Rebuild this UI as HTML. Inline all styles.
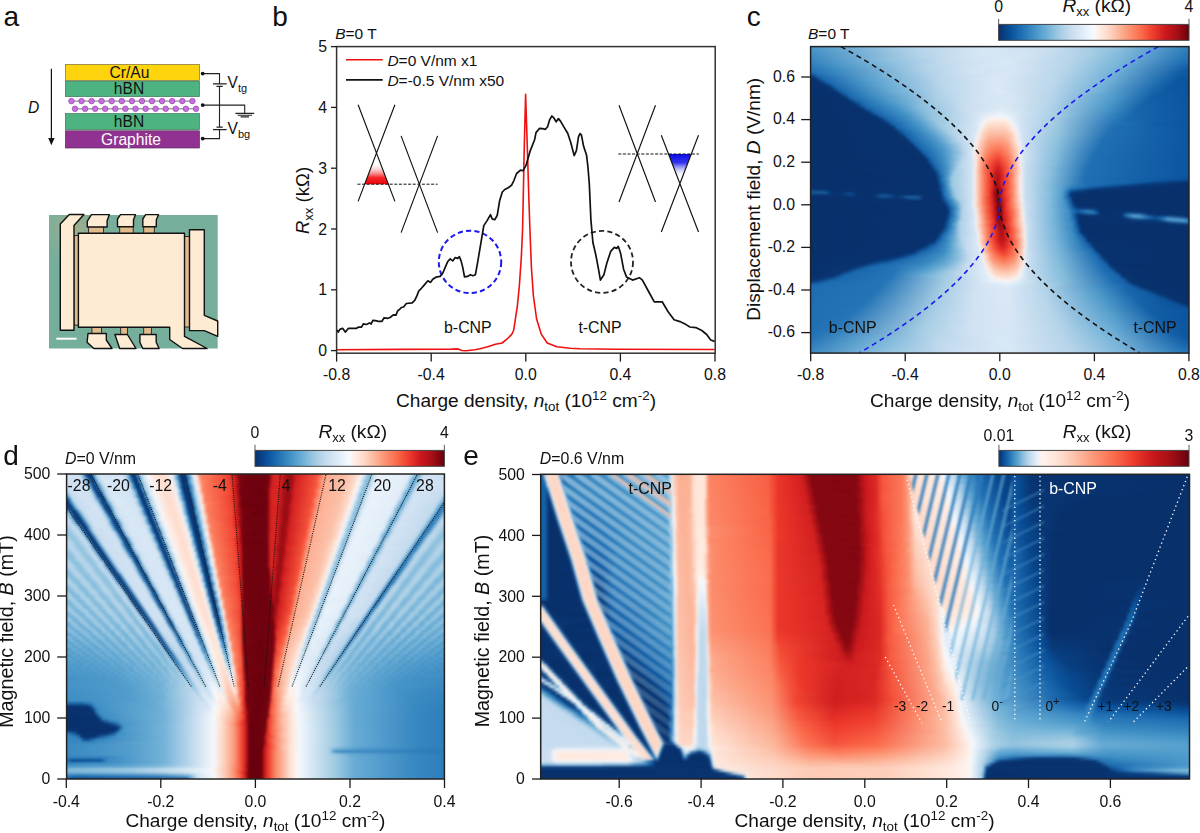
<!DOCTYPE html><html><head><meta charset="utf-8"><style>html,body{margin:0;padding:0;background:#fff;}body{width:1200px;height:833px;overflow:hidden;position:relative;}svg{position:absolute;left:0;top:0;}text{font-family:"Liberation Sans",sans-serif;fill:#111;}.hmc{position:absolute;overflow:hidden;}.hm{position:absolute;filter:blur(0.9px);}.hm i{position:absolute;left:0;width:100%;display:block;}</style></head><body>
<div class="hmc" style="left:810.6px;top:46.6px;width:378.40px;height:306.00px"><div class="hm" style="left:-2.60px;top:-2.60px;width:384px;height:312px"><i style="top:0px;height:2px;background:linear-gradient(90deg,#4795c8 0,#b6d4e9 108px,#d9e8f5 180px,#c3daee 256px,#8bbfdd 312px,#3282be 378px,#3080bd 384px)"></i><i style="top:2px;height:2px;background:linear-gradient(90deg,#4795c8 0,#b6d4e9 108px,#d9e8f5 180px,#c3daee 256px,#8bbfdd 312px,#3282be 378px,#3080bd 384px)"></i><i style="top:4px;height:2px;background:linear-gradient(90deg,#4594c7 0,#b5d4e9 108px,#d8e7f5 178px,#c9ddf0 244px,#8fc2de 308px,#3181bd 376px,#2e7ebc 384px)"></i><i style="top:6px;height:2px;background:linear-gradient(90deg,#4191c6 0,#b5d4e9 110px,#d8e7f5 176px,#ccdff1 236px,#93c4df 304px,#3181bd 374px,#2b7bba 384px)"></i><i style="top:8px;height:2px;background:linear-gradient(90deg,#3e8ec4 0,#b4d3e9 110px,#d7e6f5 174px,#d2e3f3 222px,#abcfe6 280px,#70b1d7 324px,#2878b9 380px,#2878b9 384px)"></i><i style="top:10px;height:2px;background:linear-gradient(90deg,#3b8bc3 0,#b3d3e8 110px,#d6e6f4 170px,#d4e5f4 214px,#b0d2e7 274px,#7bb7d9 316px,#2979b9 376px,#2575b7 384px)"></i><i style="top:12px;height:2px;background:linear-gradient(90deg,#3888c1 0,#b2d3e8 110px,#d6e6f4 170px,#d4e5f4 214px,#b0d2e7 272px,#7ab6d9 316px,#2777b8 376px,#2272b5 384px)"></i><i style="top:14px;height:2px;background:linear-gradient(90deg,#3585bf 0,#94c4df 82px,#cde0f1 150px,#d8e7f5 202px,#b6d4e9 264px,#7eb8da 312px,#2676b7 374px,#1f6eb3 384px)"></i><i style="top:16px;height:2px;background:linear-gradient(90deg,#3282be 0,#86bddc 74px,#caddf0 142px,#d9e8f5 200px,#b5d4e9 264px,#7cb8da 310px,#2373b6 374px,#1c6ab0 384px)"></i><i style="top:18px;height:2px;background:linear-gradient(90deg,#2f7fbc 0,#80b9da 72px,#c6dbef 136px,#d9e8f5 200px,#b6d4e9 262px,#7bb7da 310px,#2170b4 372px,#1866ac 384px)"></i><i style="top:20px;height:2px;background:linear-gradient(90deg,#2b7bba 0,#71b1d7 64px,#bbd6eb 124px,#dbe9f6 192px,#b8d5ea 258px,#7ab6d9 308px,#1d6cb1 372px,#1561a9 384px)"></i><i style="top:22px;height:2px;background:linear-gradient(90deg,#2777b8 0,#4594c7 30px,#b3d3e8 118px,#d6e6f4 172px,#d5e5f4 212px,#b1d2e8 264px,#6eb0d7 314px,#115ca5 380px,#115ca5 384px)"></i><i style="top:24px;height:2px;background:linear-gradient(90deg,#2373b6 0,#3787c0 22px,#aed1e7 114px,#d4e4f4 166px,#d7e6f5 206px,#b4d3e9 260px,#72b2d8 310px,#135ea7 376px,#0d57a1 384px)"></i><i style="top:26px;height:2px;background:linear-gradient(90deg,#2070b4 0,#3585bf 24px,#add0e6 114px,#d3e3f3 164px,#d7e6f5 204px,#b4d3e9 258px,#71b1d7 308px,#135ea7 372px,#0b549f 384px)"></i><i style="top:28px;height:2px;background:linear-gradient(90deg,#1b6aaf 0,#3c8cc3 32px,#b1d2e8 120px,#d5e5f4 170px,#d6e6f4 208px,#b2d3e8 260px,#6aaed6 310px,#135fa7 370px,#0b549f 384px)"></i><i style="top:30px;height:2px;background:linear-gradient(90deg,#0e5197 0,#0f559c 6px,#1f6eb3 10px,#80badb 84px,#c7dbef 142px,#d9e8f5 198px,#b6d4e9 254px,#72b2d8 304px,#1561a9 366px,#0b549f 382px,#0b549f 384px)"></i><i style="top:32px;height:2px;background:linear-gradient(90deg,#083674 0,#083a79 6px,#1561a8 10px,#2171b5 18px,#74b3d8 78px,#bbd6eb 132px,#dbe9f6 192px,#b8d5ea 252px,#72b2d8 302px,#1764ab 362px,#0b549f 376px,#0b549f 384px)"></i><i style="top:34px;height:2px;background:linear-gradient(90deg,#08306b 0,#083573 8px,#1866ac 14px,#5aa2cf 62px,#b7d5ea 128px,#dbe9f6 186px,#bcd7ec 246px,#77b4d8 298px,#1a69ae 356px,#0b559f 372px,#0b549f 384px)"></i><i style="top:36px;height:2px;background:linear-gradient(90deg,#08306b 0,#08336f 10px,#1b69ae 18px,#62a8d2 70px,#b8d5ea 130px,#dce9f6 190px,#b9d6eb 248px,#72b2d7 300px,#1866ac 356px,#0b559f 370px,#0b549f 384px)"></i><i style="top:38px;height:2px;background:linear-gradient(90deg,#08306b 0,#083573 14px,#1561a8 20px,#2272b6 28px,#67abd5 76px,#b8d5ea 132px,#dce9f6 190px,#b9d6eb 248px,#72b2d8 298px,#1b69af 352px,#0c56a0 366px,#0b549f 384px)"></i><i style="top:40px;height:2px;background:linear-gradient(90deg,#08306b 0,#08326e 16px,#0c4e94 22px,#1c6ab0 26px,#63a9d3 74px,#b8d5ea 132px,#dceaf6 190px,#b9d6eb 246px,#71b1d7 296px,#1a68ae 350px,#0d57a1 364px,#0b549f 384px)"></i><i style="top:42px;height:2px;background:linear-gradient(90deg,#08306b 0,#08336f 20px,#1866ac 28px,#5ca4d0 72px,#b7d5ea 132px,#dbe9f6 186px,#bdd7ec 242px,#75b3d8 292px,#1d6cb1 346px,#0d58a1 360px,#0b549f 384px)"></i><i style="top:44px;height:2px;background:linear-gradient(90deg,#08306b 0,#08336f 24px,#1866ac 30px,#62a8d2 78px,#b9d5ea 134px,#dceaf6 190px,#bad6eb 244px,#70b1d7 294px,#1b69af 344px,#0d58a1 360px,#0b549f 384px)"></i><i style="top:46px;height:2px;background:linear-gradient(90deg,#08306b 0,#08336f 26px,#1662a9 32px,#2373b6 40px,#70b1d7 88px,#bad6eb 136px,#dceaf6 192px,#b9d5ea 244px,#6dafd6 294px,#1b69af 342px,#0e58a2 360px,#0b549f 384px)"></i><i style="top:48px;height:2px;background:linear-gradient(90deg,#08306b 0,#08336f 30px,#1663a9 36px,#2575b7 46px,#71b1d7 90px,#bad6eb 138px,#dceaf6 192px,#b9d5ea 244px,#6dafd6 292px,#1c6bb0 340px,#0f59a3 356px,#0b549f 384px)"></i><i style="top:50px;height:2px;background:linear-gradient(90deg,#08306b 0,#08326e 32px,#094184 34px,#1b69ae 40px,#4493c7 68px,#afd1e7 130px,#d4e4f4 170px,#d8e7f5 202px,#b4d3e9 246px,#519ccc 306px,#115da5 348px,#0b549f 384px)"></i><i style="top:52px;height:2px;background:linear-gradient(90deg,#08306b 0,#08326e 34px,#094184 38px,#1b69ae 42px,#4594c7 72px,#aed1e7 130px,#d3e4f3 170px,#d8e7f5 202px,#b4d3e9 246px,#519ccc 304px,#125ea6 344px,#0b549f 384px)"></i><i style="top:54px;height:2px;background:linear-gradient(90deg,#08306b 0,#08326e 38px,#094184 40px,#1b69ae 46px,#4997c9 76px,#abd0e6 128px,#d2e3f3 168px,#d9e8f5 200px,#b5d4e9 244px,#509bcb 304px,#135fa7 342px,#0b549f 384px)"></i><i style="top:56px;height:2px;background:linear-gradient(90deg,#08306b 0,#08326e 40px,#094184 44px,#1561a8 48px,#2575b7 58px,#539dcc 84px,#afd1e7 132px,#d4e5f4 172px,#d8e7f5 202px,#b5d4e9 244px,#509ccc 302px,#1461a8 340px,#0b549f 384px)"></i><i style="top:58px;height:2px;background:linear-gradient(90deg,#08306b 0,#08326e 44px,#1663aa 52px,#2272b5 58px,#4d99ca 84px,#9ecae1 122px,#cfe1f2 164px,#dae8f6 198px,#b6d4ea 242px,#56a0ce 296px,#1562a9 336px,#0b549f 384px)"></i><i style="top:60px;height:2px;background:linear-gradient(90deg,#08306b 0,#08326f 48px,#094184 50px,#1560a7 54px,#2373b6 62px,#4b98ca 88px,#89bedc 112px,#cadef0 156px,#dbe9f6 196px,#b7d5ea 240px,#57a0ce 294px,#1663aa 334px,#0b549f 384px)"></i><i style="top:62px;height:2px;background:linear-gradient(90deg,#08306b 0,#08336f 50px,#1b69ae 58px,#4694c7 88px,#86bddc 112px,#c9ddf0 156px,#dceaf6 196px,#b6d4e9 240px,#529dcc 296px,#1764ab 332px,#0b549f 384px)"></i><i style="top:64px;height:2px;background:linear-gradient(90deg,#08306b 0,#08326f 54px,#094184 56px,#1561a8 60px,#2171b5 68px,#4996c9 92px,#84bbdb 112px,#c8dcf0 154px,#deebf7 196px,#b5d4e9 240px,#4d99ca 296px,#1865ac 330px,#0b549f 384px)"></i><i style="top:66px;height:2px;background:linear-gradient(90deg,#08306b 0,#08326e 56px,#0c4e94 62px,#1b6aaf 66px,#4191c5 92px,#89bfdd 116px,#cbdef1 158px,#e1edf8 194px,#b2d3e8 242px,#4090c5 302px,#1865ac 328px,#0b549f 384px)"></i><i style="top:68px;height:2px;background:linear-gradient(90deg,#08306b 0,#08336f 60px,#1966ac 68px,#4594c7 96px,#8bc0dd 118px,#cbdff1 160px,#e7f0fa 192px,#aed1e7 244px,#3686c0 306px,#1866ac 326px,#0b549f 384px)"></i><i style="top:70px;height:2px;background:linear-gradient(90deg,#08306b 0,#08326f 64px,#0c4e94 68px,#1b6aaf 72px,#3e8ec4 96px,#92c3de 122px,#cde0f1 162px,#e5eff9 180px,#ebf3fb 196px,#cfe1f2 216px,#9cc9e1 254px,#2676b8 312px,#1865ac 330px,#0b549f 384px)"></i><i style="top:72px;height:2px;background:linear-gradient(90deg,#08306b 0,#08336f 68px,#1b69ae 76px,#4090c5 100px,#94c4df 124px,#cde0f1 162px,#e2eef8 176px,#f8f5f6 188px,#e9f2fb 200px,#d1e3f3 212px,#a7cee4 246px,#2c7cbb 308px,#1967ad 324px,#0b549f 384px)"></i><i style="top:74px;height:2px;background:linear-gradient(90deg,#08306b 0,#08326f 70px,#094184 74px,#1561a8 78px,#2272b6 86px,#4e9acb 106px,#94c5df 124px,#cde0f1 162px,#e0ecf8 174px,#faf4f2 180px,#feefe7 192px,#f2f6fa 200px,#d3e4f3 210px,#abcfe5 244px,#2f7fbc 304px,#1a68ae 320px,#0b549f 384px)"></i><i style="top:76px;height:2px;background:linear-gradient(90deg,#08306b 0,#08326e 74px,#0c4e94 78px,#1c6ab0 82px,#4694c7 106px,#99c7e0 128px,#cee0f2 164px,#e1edf8 174px,#f8f4f4 178px,#fee7dc 184px,#feebe2 198px,#ecf3fb 204px,#d2e3f3 212px,#a8cee4 244px,#2b7bba 304px,#1b69af 320px,#0b549f 384px)"></i><i style="top:78px;height:2px;background:linear-gradient(90deg,#08306b 0,#08336f 78px,#1662a9 84px,#2676b8 94px,#4f9bcb 112px,#9bc9e0 130px,#cfe1f2 164px,#e1edf8 172px,#f5f5f7 176px,#fee3d7 180px,#fee1d4 198px,#fbf2ee 202px,#e7f1fa 206px,#d0e2f2 214px,#a1cbe2 248px,#2474b7 306px,#105ca4 350px,#0b549f 384px)"></i><i style="top:80px;height:2px;background:linear-gradient(90deg,#08306b 0,#08336f 80px,#1663aa 86px,#2474b7 94px,#4b98ca 112px,#a0cbe2 132px,#dce9f6 170px,#f7f4f4 174px,#feded0 180px,#fed8c7 194px,#fee5da 202px,#f0f4fa 206px,#d3e4f3 212px,#a2cce2 246px,#2575b7 304px,#1461a8 340px,#0b549f 384px)"></i><i style="top:82px;height:2px;background:linear-gradient(90deg,#08306b 0,#08326e 82px,#094184 86px,#1662a9 88px,#2171b5 94px,#4493c7 112px,#a2cce2 134px,#dbe9f6 170px,#f8f3f2 174px,#fedbcb 178px,#fdd0bd 190px,#fedbcb 200px,#f8f3f2 206px,#e1edf8 208px,#cee0f2 216px,#93c4df 252px,#1e6eb2 306px,#0b549f 384px)"></i><i style="top:84px;height:2px;background:linear-gradient(90deg,#08306b 0,#08336f 86px,#1560a7 90px,#2373b6 98px,#4b98ca 116px,#a7cee4 138px,#d9e8f5 168px,#eff4f9 172px,#fee6db 174px,#fdcdb9 182px,#fdcdb9 198px,#fee6db 204px,#eff4f9 208px,#d3e3f3 212px,#9bc8e0 248px,#2170b4 304px,#0b549f 384px)"></i><i style="top:86px;height:2px;background:linear-gradient(90deg,#08306b 0,#08336f 88px,#1662a9 94px,#2171b5 100px,#4b98ca 118px,#a9cfe5 140px,#d7e6f5 168px,#f7f3f2 172px,#fdd6c4 176px,#fcc4ad 184px,#fdc9b3 198px,#fee6db 206px,#edf3f9 208px,#d1e2f3 214px,#99c7e0 248px,#206fb3 302px,#0b549f 384px)"></i><i style="top:88px;height:2px;background:linear-gradient(90deg,#08306b 0,#08336f 90px,#1560a7 96px,#2474b6 104px,#4f9bcb 122px,#add1e6 142px,#dae8f6 168px,#f4f4f6 170px,#fedaca 174px,#fcbfa6 182px,#fcc0a8 198px,#fedfd1 206px,#f4f4f6 208px,#d2e3f3 214px,#95c5df 250px,#2070b4 300px,#0b549f 384px)"></i><i style="top:90px;height:2px;background:linear-gradient(90deg,#08306b 0,#08336f 92px,#1662a9 98px,#2474b6 106px,#4f9bcb 124px,#b2d3e8 146px,#d7e6f5 166px,#f0f3f7 170px,#fee0d3 172px,#fcbba2 180px,#fcb59a 194px,#fdc6af 202px,#fee8de 208px,#f1f3f7 210px,#d0e2f2 214px,#93c4df 250px,#206fb3 300px,#0b549f 384px)"></i><i style="top:92px;height:2px;background:linear-gradient(90deg,#08306b 0,#08336f 96px,#1662a9 100px,#2474b6 108px,#4f9bcb 126px,#b7d5ea 148px,#d9e8f5 166px,#f7f2f1 170px,#fdd5c3 174px,#fcb196 182px,#fcac90 194px,#fcc0a7 202px,#fee2d6 208px,#ecf2f8 210px,#d1e2f3 214px,#91c3de 250px,#2070b4 298px,#0b549f 384px)"></i><i style="top:94px;height:2px;background:linear-gradient(90deg,#08306b 0,#08336f 98px,#1662a9 102px,#2474b6 110px,#4f9bcb 128px,#bad6eb 150px,#d5e5f4 166px,#f1f3f6 168px,#feddce 172px,#fcac90 180px,#fca385 192px,#fcb49a 200px,#fee5da 208px,#f1f3f6 210px,#d2e3f3 214px,#8cc0dd 250px,#206fb4 296px,#0b549f 384px)"></i><i style="top:96px;height:2px;background:linear-gradient(90deg,#08306b 0,#08336f 100px,#1662a9 104px,#2474b6 112px,#4f9bcb 130px,#9ac7e0 144px,#c1d9ed 154px,#d7e6f5 166px,#f7f2f1 168px,#fdd2bf 172px,#fca588 180px,#fc997a 192px,#fcad91 200px,#fee1d3 208px,#ebf1f8 212px,#cfe1f2 216px,#8dc1dd 250px,#2170b4 294px,#0b549f 384px)"></i><i style="top:98px;height:2px;background:linear-gradient(90deg,#08306b 0,#08336f 102px,#1662a9 106px,#2474b6 114px,#4f9bcb 132px,#91c3de 144px,#c3daee 156px,#d3e3f3 164px,#eff2f6 168px,#fee5da 170px,#fca689 178px,#fc9070 188px,#fc9d7f 198px,#fdceba 206px,#faeee9 210px,#e3eef8 212px,#cde0f1 216px,#8ec1de 248px,#2070b4 294px,#0b549f 384px)"></i><i style="top:100px;height:2px;background:linear-gradient(90deg,#08306b 0,#08336f 104px,#1662a9 108px,#2474b6 116px,#4f9bcb 134px,#c1d9ed 156px,#d4e4f4 164px,#f2f3f5 168px,#fed9c8 170px,#fc9a7c 180px,#fc8666 190px,#fc9a7c 200px,#fed9c8 208px,#f3f3f5 212px,#d0e2f2 216px,#89bfdd 250px,#206fb3 292px,#0b549f 384px)"></i><i style="top:102px;height:2px;background:linear-gradient(90deg,#08306b 0,#08336f 106px,#1662a9 110px,#2474b6 118px,#4d99ca 134px,#bed7ec 156px,#d5e5f4 164px,#eaf0f8 166px,#fde8df 168px,#fcae92 176px,#fc8b6b 182px,#fc7e5e 192px,#fc997a 200px,#fedecf 210px,#f7f1f0 212px,#deebf7 214px,#cadef0 218px,#87bedc 250px,#2170b4 290px,#0b549f 384px)"></i><i style="top:104px;height:2px;background:linear-gradient(90deg,#08306b 0,#08336f 108px,#1662a9 112px,#2474b6 120px,#4c99ca 136px,#bfd8ec 156px,#d6e6f4 164px,#edf0f6 166px,#fee5d9 168px,#fc997a 178px,#fb7d5d 184px,#fb7656 192px,#fc9273 200px,#fedbcb 210px,#faeeea 212px,#e0ecf7 214px,#ccdff1 218px,#89bedc 248px,#2070b4 290px,#0b549f 384px)"></i><i style="top:106px;height:2px;background:linear-gradient(90deg,#08306b 0,#08336f 110px,#1662a9 114px,#2474b7 122px,#4896c8 136px,#c2d9ee 158px,#d7e6f5 164px,#eef1f5 166px,#fee2d6 168px,#fc9373 178px,#fb7353 186px,#fb6d4d 192px,#fc8c6c 200px,#fed8c8 210px,#faece7 212px,#e2edf8 214px,#ccdff1 218px,#8abfdd 248px,#206fb4 288px,#0b549f 384px)"></i><i style="top:108px;height:2px;background:linear-gradient(90deg,#08306b 0,#08336f 112px,#1662a9 116px,#2474b7 124px,#4e9acb 138px,#c2d9ee 158px,#d7e7f5 164px,#f0f1f5 166px,#fee0d3 168px,#fc8d6d 178px,#fb6a4b 186px,#f86044 190px,#fc8666 200px,#fdd6c5 210px,#f0f1f5 212px,#d2e3f3 216px,#85bcdc 248px,#206fb3 288px,#0b549f 384px)"></i><i style="top:110px;height:2px;background:linear-gradient(90deg,#08306b 0,#08336f 114px,#1662a9 118px,#4695c8 136px,#95c5df 150px,#c8dcf0 160px,#d8e7f5 164px,#f1f2f4 166px,#fdd4c2 170px,#fc8868 178px,#fa6647 184px,#f6553d 190px,#fc8060 200px,#fdcbb6 208px,#fbeae2 212px,#f2f2f4 212px,#d2e3f3 216px,#86bddc 248px,#1f6fb3 286px,#0b549f 384px)"></i><i style="top:112px;height:2px;background:linear-gradient(90deg,#08306b 0,#08336f 116px,#1662a9 120px,#4896c8 138px,#8ec1de 148px,#c6dbef 158px,#d1e2f3 164px,#f3f2f4 166px,#fdd2bf 170px,#fc8363 178px,#f96145 184px,#f34935 190px,#fb7454 200px,#fca98d 206px,#fce8e0 212px,#f4f2f3 212px,#d2e3f3 216px,#85bcdc 248px,#1f6fb3 286px,#0b549f 384px)"></i><i style="top:114px;height:2px;background:linear-gradient(90deg,#08306b 0,#08336f 118px,#135ea5 122px,#2271b5 126px,#4b98ca 138px,#bdd7ec 156px,#d1e3f3 164px,#e7eff7 166px,#fde6dc 168px,#fc8767 176px,#f85e42 182px,#f03f2f 190px,#fb7656 200px,#fcbca2 208px,#f8efed 212px,#dbe9f6 214px,#c9ddf0 220px,#83bbdb 248px,#1f6fb3 284px,#0b549f 384px)"></i><i style="top:116px;height:2px;background:linear-gradient(90deg,#08306b 0,#08316d 118px,#1159a1 122px,#206fb4 126px,#4493c7 138px,#bbd6eb 154px,#d2e3f3 164px,#e9eef5 166px,#fee4d9 168px,#fc8363 176px,#f6573e 182px,#ea362a 190px,#fb7151 200px,#fcb99f 208px,#f9eeea 212px,#dce9f6 214px,#cadef0 218px,#85bcdc 246px,#1f6fb3 284px,#0b549f 384px)"></i><i style="top:118px;height:2px;background:linear-gradient(90deg,#08306b 0,#083370 120px,#1662a9 124px,#4896c8 138px,#95c5df 148px,#bcd7ec 154px,#d2e3f3 164px,#eaeff5 166px,#fee3d7 168px,#fc7f5f 176px,#f5513a 182px,#e22e27 190px,#f96447 200px,#fc9f81 206px,#f9ede9 212px,#dce9f6 214px,#cadef0 218px,#87bddc 246px,#1f6fb3 282px,#0b549f 384px)"></i><i style="top:120px;height:2px;background:linear-gradient(90deg,#08306b 0,#08326e 122px,#135ea5 126px,#2373b6 130px,#4d99ca 140px,#b7d5ea 152px,#d2e3f3 164px,#ebeff4 166px,#fee2d5 168px,#fb7b5b 176px,#f34b36 182px,#da2723 190px,#f6583e 198px,#fc8666 204px,#f9ece7 212px,#ddeaf6 214px,#caddf0 218px,#85bcdc 246px,#1f6fb3 282px,#0b549f 384px)"></i><i style="top:122px;height:2px;background:linear-gradient(90deg,#08306b 0,#08316d 122px,#1159a1 126px,#2171b4 130px,#4b98ca 140px,#b0d2e7 150px,#d2e3f3 164px,#ebeff4 166px,#fee1d4 168px,#fb7858 176px,#f24633 182px,#d32020 190px,#f34c37 198px,#fb7858 202px,#fee1d3 212px,#eceff4 214px,#cee0f2 216px,#87bddc 244px,#206fb4 280px,#0b549f 384px)"></i><i style="top:124px;height:2px;background:linear-gradient(90deg,#08306b 0,#083370 124px,#1764ab 128px,#4b98c9 140px,#aed1e7 150px,#d3e3f3 164px,#eceff4 166px,#fee0d2 168px,#fb7656 176px,#ee3c2d 184px,#cc1a1e 190px,#f24834 198px,#fb7656 202px,#fee0d2 212px,#eceff4 214px,#cee0f2 216px,#86bddc 244px,#2070b4 280px,#0b549f 384px)"></i><i style="top:126px;height:2px;background:linear-gradient(90deg,#08306b 0,#08336f 126px,#1662a9 130px,#4392c6 138px,#a6cde4 148px,#d3e3f3 164px,#eceff4 166px,#fddfd1 168px,#fb7353 176px,#ec382b 184px,#c7181c 188px,#cd1b1e 192px,#ef3e2e 196px,#fb7353 202px,#fddfd1 212px,#edeff4 214px,#cee0f2 216px,#85bcdc 244px,#2070b4 278px,#0b549f 384px)"></i><i style="top:128px;height:2px;background:linear-gradient(90deg,#08306b 0,#08326e 126px,#0d5198 130px,#2171b5 132px,#4d99ca 140px,#a3cce3 146px,#d3e4f3 164px,#edeff4 166px,#fdded0 168px,#fb7252 176px,#e9352a 184px,#c1161b 188px,#c8181d 192px,#ee3b2d 196px,#fb7252 202px,#fdded0 212px,#edeff4 214px,#cee0f2 216px,#87bddc 244px,#2171b5 278px,#0b549f 384px)"></i><i style="top:130px;height:2px;background:linear-gradient(90deg,#08306b 0,#08326e 128px,#0f569d 130px,#2373b6 134px,#4f9acb 140px,#a0cae2 146px,#d3e4f3 164px,#edeff4 166px,#fdded0 168px,#fb7c5c 176px,#f0402f 182px,#cc1b1e 186px,#b81419 190px,#d72422 194px,#f24834 198px,#fb7c5c 204px,#faeae3 212px,#edeff4 214px,#cee0f2 216px,#86bddc 244px,#206fb4 278px,#0b549f 384px)"></i><i style="top:132px;height:2px;background:linear-gradient(90deg,#08306b 0,#083370 128px,#125ca3 132px,#2d7dbb 136px,#60a6d1 140px,#9cc9e1 144px,#d3e4f3 164px,#edeff4 166px,#fddecf 168px,#fb7b5b 176px,#ef3f2f 182px,#c9191d 186px,#b31218 190px,#d42121 194px,#f24734 198px,#fb7b5b 204px,#faeae3 212px,#edeff4 214px,#cee0f2 216px,#85bcdc 244px,#2070b4 276px,#0b549f 384px)"></i><i style="top:134px;height:2px;background:linear-gradient(90deg,#08306b 0,#08326e 128px,#1159a0 132px,#2777b8 134px,#549ecd 140px,#9dc9e1 144px,#d3e4f3 164px,#edeff4 166px,#fddecf 168px,#fb7b5b 176px,#ef3f2e 182px,#d12020 186px,#b11218 188px,#ba1419 192px,#eb382b 196px,#fb7050 202px,#fdd2bf 210px,#faeae3 212px,#eeeff4 214px,#cee0f2 216px,#87bedc 242px,#1f6fb3 276px,#0b559f 370px,#0a529c 384px)"></i><i style="top:136px;height:2px;background:linear-gradient(90deg,#08306b 0,#08316d 128px,#094183 130px,#1d6cb1 134px,#519ccc 140px,#9dc9e1 144px,#d3e4f3 164px,#edeff4 166px,#fddecf 168px,#fb7b5b 176px,#ef3e2e 182px,#cf1e1f 186px,#ac1117 188px,#ac1117 190px,#db2724 194px,#f44f39 200px,#fc8767 204px,#faeae3 212px,#eeeff4 214px,#cee0f2 216px,#86bddc 242px,#2070b4 276px,#125ea6 342px,#0c5198 356px,#09498f 370px,#084083 374px,#084083 384px)"></i><i style="top:138px;height:2px;background:linear-gradient(90deg,#08306b 0,#08326e 130px,#0f569e 132px,#2776b8 136px,#4c98ca 140px,#9cc9e1 144px,#d3e4f3 164px,#edeff4 166px,#fddecf 168px,#fb7b5b 176px,#ef3e2e 182px,#cd1c1f 186px,#a71016 188px,#a71016 190px,#d92623 194px,#f44f39 200px,#fc8767 204px,#faeae3 212px,#eeeff4 214px,#cee0f2 216px,#86bddc 242px,#1f6fb3 276px,#1764aa 320px,#1059a0 330px,#0d5096 336px,#0b4b90 342px,#094183 346px,#083e7f 356px,#083674 362px,#08316d 384px)"></i><i style="top:140px;height:2px;background:linear-gradient(90deg,#08306b 0,#083370 130px,#125ca3 134px,#3c8cc3 138px,#9bc8e0 144px,#d3e4f3 164px,#edeff4 166px,#fddecf 168px,#fb7b5b 176px,#ef3e2e 182px,#cb1b1e 186px,#a10e15 188px,#a10e15 190px,#d82522 194px,#f24633 198px,#fb7b5b 204px,#faeae3 212px,#eeeff4 214px,#cee0f2 216px,#85bcdc 242px,#3080bc 268px,#1f6eb3 280px,#1763a9 300px,#115aa1 310px,#0e5197 316px,#0b4c91 320px,#094183 324px,#093e7f 330px,#083674 334px,#08306b 384px)"></i><i style="top:142px;height:2px;background:linear-gradient(90deg,#08306b 0,#08326e 130px,#115aa1 134px,#3282be 138px,#64a9d3 142px,#98c7e0 144px,#d3e4f3 164px,#edeff4 166px,#fddecf 168px,#fb7b5b 176px,#ef3e2e 182px,#c91a1d 186px,#9b0d14 188px,#9b0d14 190px,#d72422 194px,#f24633 198px,#fb7b5b 204px,#faeae3 212px,#eeeff4 214px,#cee0f2 216px,#84bcdb 242px,#4a97c9 258px,#2f7fbc 264px,#125ba2 288px,#0e5197 296px,#0b4c91 300px,#094183 304px,#093e7f 310px,#083674 314px,#08306b 374px,#08306b 384px)"></i><i style="top:144px;height:2px;background:linear-gradient(90deg,#08316d 0,#08326e 130px,#0a468a 132px,#206fb3 136px,#4d99ca 140px,#9ecae1 146px,#d3e4f3 164px,#edeff4 166px,#fddecf 168px,#fb7b5b 176px,#ee3d2e 182px,#c7191d 186px,#950b13 188px,#8e0912 190px,#a40f15 192px,#e02d26 196px,#f96447 202px,#fcae92 208px,#faeae3 212px,#eeeff4 214px,#cee0f2 216px,#83bbdb 242px,#4e9acb 256px,#2575b7 262px,#125ba2 274px,#0b4c91 280px,#094284 284px,#083674 294px,#08306b 356px,#08306b 384px)"></i><i style="top:146px;height:2px;background:linear-gradient(90deg,#155392 0,#0d4484 16px,#08306b 24px,#083370 132px,#125ca3 134px,#3c8cc3 140px,#9cc8e1 146px,#d3e4f3 164px,#edeff4 166px,#fddecf 168px,#fb7b5b 176px,#ee3d2e 182px,#d42221 184px,#8f0a12 188px,#880811 190px,#a00e15 192px,#e02c26 196px,#f7593f 200px,#fca183 206px,#faeae3 212px,#eeeff4 214px,#cee0f2 216px,#87bddc 242px,#59a2cf 254px,#2474b6 260px,#0e5298 264px,#094284 270px,#08316d 282px,#08306b 384px)"></i><i style="top:148px;height:2px;background:linear-gradient(90deg,#165595 0,#1d64a5 18px,#083b7c 22px,#08306b 26px,#083674 34px,#0e4889 40px,#093c7c 46px,#08306b 50px,#08326e 132px,#1159a1 134px,#2979b9 138px,#519ccc 142px,#a1cbe2 146px,#d3e4f3 164px,#edeff4 166px,#fddecf 168px,#fb7b5b 176px,#ee3d2e 182px,#d32121 184px,#890811 188px,#820610 190px,#9b0d14 192px,#d32121 194px,#f24633 198px,#fb7b5b 204px,#faeae3 212px,#eeeff4 214px,#cee0f2 216px,#86bddc 242px,#56a0ce 254px,#1e6cb1 260px,#094386 262px,#083775 264px,#08306b 290px,#08306b 384px)"></i><i style="top:150px;height:2px;background:linear-gradient(90deg,#08326e 0,#083470 22px,#083370 34px,#0f4a8c 42px,#083d7d 46px,#08306b 50px,#08316d 66px,#155799 72px,#165494 78px,#08326e 88px,#093572 108px,#08316d 132px,#094183 134px,#1e6cb1 136px,#4a97c9 142px,#a3cce3 148px,#d3e3f3 164px,#eceff4 166px,#fdded0 168px,#fb7c5c 176px,#ee3d2e 182px,#d32121 184px,#850711 188px,#7d0510 190px,#960b13 192px,#d12020 194px,#ee3c2d 198px,#fb7b5b 204px,#fae9e2 212px,#eef0f4 214px,#cee0f2 216px,#86bddc 242px,#549ecd 254px,#1b69af 260px,#083b7b 262px,#08306b 264px,#08306b 384px)"></i><i style="top:152px;height:2px;background:linear-gradient(90deg,#08306b 0,#08326f 66px,#155191 74px,#115092 80px,#083674 88px,#09468b 94px,#1f67a8 100px,#195c9d 110px,#08306c 116px,#08336f 132px,#115aa1 136px,#3080bd 140px,#67abd4 144px,#a3cce3 148px,#d2e3f3 164px,#ebeef4 166px,#fee0d3 168px,#fb7252 176px,#e9362a 182px,#c4181c 186px,#830711 188px,#78040f 190px,#7d0510 190px,#ce1e1f 194px,#ed3b2c 198px,#fb7959 204px,#fddbcc 212px,#f0f0f3 214px,#cfe1f2 216px,#85bcdc 242px,#559fce 254px,#1560a7 260px,#083674 264px,#08306b 268px,#08306b 384px)"></i><i style="top:154px;height:2px;background:linear-gradient(90deg,#08306b 0,#083471 94px,#134e8e 106px,#104a8b 112px,#08316c 116px,#08326e 130px,#083674 134px,#1c6aaf 138px,#4996c8 144px,#aacfe5 150px,#d0e2f2 164px,#e8eef5 166px,#fde3d7 168px,#fb7454 176px,#ea372b 182px,#c6191d 186px,#830711 188px,#75030f 190px,#77040f 190px,#d92623 196px,#f34b36 200px,#fc8262 204px,#fce6dd 212px,#f3f1f2 214px,#cfe1f2 216px,#81badb 242px,#4f9bcb 254px,#145fa6 262px,#083674 264px,#08306b 270px,#08306b 384px)"></i><i style="top:156px;height:2px;background:linear-gradient(90deg,#08306b 0,#08316d 134px,#0b4d92 136px,#206fb3 140px,#509ccc 146px,#a9cfe5 152px,#c9ddf0 162px,#d7e6f5 164px,#f3f1f2 166px,#fdcdb9 170px,#fb7657 176px,#e43027 184px,#b61319 186px,#74030f 190px,#72030e 190px,#980c14 192px,#d62322 196px,#f34935 200px,#fc8060 204px,#fde3d7 212px,#e8eef5 214px,#ccdff1 218px,#85bcdc 242px,#4d99ca 256px,#1b69ae 262px,#083c7d 264px,#08306c 266px,#08306b 384px)"></i><i style="top:158px;height:2px;background:linear-gradient(90deg,#08306b 0,#083370 136px,#1763aa 140px,#4d99ca 146px,#b3d3e8 154px,#d6e5f4 164px,#f0f0f3 166px,#fddbcc 168px,#fb7959 176px,#ed3a2c 182px,#cc1d1e 186px,#74030f 190px,#6f020e 190px,#910a13 192px,#d22121 196px,#ef3e2e 198px,#fb7d5e 204px,#f9ebe6 214px,#ebeef4 214px,#ccdff1 218px,#85bcdc 242px,#4a97c9 256px,#1865ab 262px,#083978 266px,#08306b 268px,#08306b 384px)"></i><i style="top:160px;height:2px;background:linear-gradient(90deg,#08306b 0,#08326e 136px,#0d5197 140px,#2372b5 142px,#4a97c9 148px,#add0e6 154px,#c5dbef 160px,#d4e4f4 164px,#eef0f4 166px,#fddecf 168px,#fb7b5b 176px,#ee3c2d 182px,#cf1f1f 186px,#76040f 190px,#6d020e 190px,#76040f 192px,#cf1f1f 196px,#ee3c2d 198px,#fb7b5b 204px,#faeae3 214px,#edeff4 214px,#cddff1 218px,#81badb 242px,#4694c7 258px,#1560a7 264px,#083775 266px,#08306b 272px,#08306b 384px)"></i><i style="top:162px;height:2px;background:linear-gradient(90deg,#08306b 0,#08316d 138px,#0b4d92 140px,#2170b3 144px,#4d99ca 148px,#b4d3e9 154px,#d3e4f3 164px,#ebeff4 166px,#fee0d3 168px,#fb7252 178px,#e8352a 184px,#c1171b 186px,#79040f 190px,#6d020e 190px,#72030e 192px,#cc1c1e 196px,#ed3a2c 198px,#fb7959 204px,#fddbcc 212px,#f0f0f3 214px,#cde0f1 218px,#81badb 242px,#4291c6 258px,#1460a7 264px,#093a79 268px,#08316d 272px,#08306b 384px)"></i><i style="top:164px;height:2px;background:linear-gradient(90deg,#08306b 0,#083470 140px,#125ca3 142px,#3d8cc3 148px,#7cb7d9 152px,#b2d2e8 154px,#cbdef1 162px,#dbe8f5 166px,#f8ede9 168px,#fc8060 176px,#ef402f 182px,#d52322 186px,#960b13 188px,#6f020e 190px,#70020e 192px,#d82523 196px,#f34b36 200px,#fc8262 206px,#fce6dd 214px,#f3f0f2 214px,#cee0f2 218px,#7db8da 244px,#3f8ec4 260px,#1d6bb0 264px,#10579d 268px,#0a4487 270px,#0f4a8b 280px,#08306b 292px,#08306b 384px)"></i><i style="top:166px;height:2px;background:linear-gradient(90deg,#08306b 0,#08326e 140px,#115aa1 142px,#3282be 146px,#68abd4 150px,#b1d2e8 154px,#c9ddf0 162px,#d9e7f5 166px,#f5f0ef 168px,#fcb69b 172px,#fa6b4c 178px,#e33027 184px,#b51319 188px,#72030e 190px,#70020e 192px,#970c13 194px,#d52322 196px,#ef402f 200px,#fc8060 206px,#fde3d7 214px,#e7eef5 216px,#cadef0 218px,#81badb 242px,#4392c6 260px,#2170b4 264px,#1a68ae 268px,#135da4 270px,#3180bb 278px,#2875b3 284px,#0e4e92 288px,#08316d 292px,#08306b 384px)"></i><i style="top:168px;height:2px;background:linear-gradient(90deg,#08306b 0,#08326e 140px,#115ba2 142px,#3282be 146px,#68abd4 150px,#b1d2e8 154px,#c9ddf0 162px,#d7e6f5 166px,#f1f1f3 168px,#fdd0bc 170px,#fb6d4e 178px,#e53228 184px,#ba151a 188px,#76040f 190px,#71020e 192px,#930b13 194px,#d32121 196px,#ef3e2e 200px,#fb7d5e 206px,#f9ebe6 214px,#eaeef4 216px,#cbdef1 218px,#7eb8da 244px,#3e8ec4 260px,#145ea5 268px,#0b4689 270px,#2b78b5 280px,#2674b5 286px,#0e549b 290px,#083370 292px,#083471 314px,#114e90 320px,#144f8f 326px,#08316c 340px,#08306b 384px)"></i><i style="top:170px;height:2px;background:linear-gradient(90deg,#08306b 0,#08316d 138px,#094183 140px,#1e6cb1 144px,#4a97c9 148px,#b3d3e8 154px,#d5e5f4 166px,#eef0f4 168px,#fdddcf 170px,#fb7b5b 178px,#ee3c2d 184px,#d02020 186px,#7c0510 190px,#74030f 192px,#7c0510 192px,#d02020 196px,#ee3c2d 200px,#fb7b5b 206px,#f9eae3 214px,#eceff3 216px,#cbdef1 218px,#7eb8da 244px,#3a8ac2 262px,#135ea5 266px,#083673 270px,#083572 274px,#0c4586 286px,#08306b 294px,#083370 314px,#1159a0 316px,#3584be 320px,#4d96c8 326px,#3b85bd 332px,#0d4789 340px,#083471 348px,#08306b 384px)"></i><i style="top:172px;height:2px;background:linear-gradient(90deg,#08306b 0,#083370 138px,#125ba2 142px,#3180bd 146px,#60a6d1 150px,#b5d4e9 154px,#d4e4f4 166px,#eceff4 168px,#fee0d3 170px,#fb7252 178px,#e9362a 184px,#c4181c 188px,#830711 190px,#78040f 192px,#7d0510 192px,#ce1e1f 196px,#ed3b2c 200px,#fb7959 206px,#fddbcc 214px,#eff0f3 216px,#ccdff1 218px,#7bb7d9 244px,#3c8cc3 262px,#1560a7 266px,#083674 270px,#08306b 276px,#083471 314px,#1d65a7 320px,#5098c9 326px,#539ccc 332px,#2473b5 340px,#0b4d94 346px,#155ca1 354px,#2970ad 360px,#083471 380px,#083471 384px)"></i><i style="top:174px;height:2px;background:linear-gradient(90deg,#08306b 0,#08326e 138px,#0a468a 140px,#206fb3 142px,#4d99ca 148px,#b0d2e7 154px,#d3e4f3 166px,#eaeff5 168px,#fee3d7 170px,#fb7454 178px,#e32f27 186px,#b61319 188px,#7e0610 192px,#7f0610 192px,#da2723 198px,#f34b36 202px,#fc8262 206px,#fbe6dd 214px,#f2f0f2 216px,#cddff1 218px,#77b5d9 246px,#3888c1 262px,#1a68ae 266px,#083a7a 270px,#08306b 272px,#083471 318px,#1e61a1 332px,#0b4b91 348px,#206eb1 354px,#5ca3d0 360px,#4992c5 372px,#327cb6 378px,#195fa1 380px,#195fa1 384px)"></i><i style="top:176px;height:2px;background:linear-gradient(90deg,#08306b 0,#083370 138px,#125ca3 140px,#3c8bc3 146px,#77b4d8 150px,#acd0e6 152px,#c6dbef 160px,#dae8f5 166px,#f5f0ef 168px,#fcb69b 174px,#fa6b4c 180px,#e53128 186px,#bc151a 188px,#840711 192px,#830711 192px,#d82523 198px,#f34935 202px,#fc8060 206px,#fde3d8 214px,#e7edf5 216px,#c9ddf0 220px,#7cb7da 244px,#3c8bc3 262px,#1560a7 268px,#083674 270px,#08306b 276px,#083674 350px,#185a9b 356px,#3b83bb 362px,#59a0ce 376px,#3281bd 380px,#3281bd 384px)"></i><i style="top:178px;height:2px;background:linear-gradient(90deg,#08306b 0,#08326e 136px,#0a468a 138px,#206fb3 142px,#4d99ca 146px,#b1d2e8 152px,#d8e7f5 166px,#f1f1f4 168px,#fdd0bc 172px,#fb6d4e 180px,#e73329 186px,#c1171b 188px,#8c0912 192px,#880811 192px,#a40f15 194px,#e22e27 198px,#fa6649 204px,#fcb095 210px,#f8ebe7 216px,#e9eef4 216px,#c9ddf0 220px,#7cb8da 244px,#3888c1 264px,#1a68ae 268px,#083a7a 270px,#08306b 272px,#093471 358px,#1f64a4 378px,#175b9c 384px)"></i><i style="top:180px;height:2px;background:linear-gradient(90deg,#08306b 0,#083370 136px,#125ca3 140px,#3b8bc2 144px,#77b4d8 148px,#abd0e6 152px,#cbdef1 162px,#d7e6f4 166px,#eff0f4 168px,#fdddcf 170px,#fb7b5b 178px,#ee3d2e 184px,#c7191d 188px,#950b13 192px,#8e0a12 192px,#a50f15 194px,#e02d26 198px,#f96447 204px,#fcae92 210px,#f9eae3 216px,#eceef3 216px,#cadef0 220px,#79b6d9 246px,#3b8bc2 264px,#1560a7 268px,#083674 272px,#08306b 278px,#083370 384px)"></i><i style="top:182px;height:2px;background:linear-gradient(90deg,#08306b 0,#08326e 136px,#0f569e 138px,#2776b8 142px,#4c98ca 146px,#afd1e7 152px,#d5e5f4 166px,#eceff4 168px,#fee0d3 170px,#fb7252 180px,#e32f27 186px,#9d0d14 192px,#990c14 194px,#d42221 198px,#f14432 202px,#fb7959 206px,#fddbcc 214px,#efeff3 216px,#cbdef1 220px,#77b4d8 246px,#3787c0 264px,#1a68ae 268px,#083a7a 272px,#08306b 274px,#08306b 384px)"></i><i style="top:184px;height:2px;background:linear-gradient(90deg,#08306b 0,#08336f 134px,#0d5198 138px,#2474b6 140px,#519ccc 146px,#afd1e7 152px,#d4e5f4 166px,#eaeff5 168px,#fee3d7 170px,#fb7454 180px,#e53228 186px,#a50f15 192px,#9e0d14 194px,#d32121 198px,#f14331 202px,#fc8262 208px,#fbe6dd 216px,#f2f0f2 216px,#ccdff1 220px,#74b3d8 248px,#3989c2 264px,#1460a7 270px,#083674 272px,#08306b 278px,#08306b 384px)"></i><i style="top:186px;height:2px;background:linear-gradient(90deg,#08306b 0,#08316d 132px,#1763aa 138px,#4895c8 144px,#afd1e7 152px,#dbe9f6 168px,#f6f0ef 170px,#fca98c 176px,#f86044 182px,#df2c25 188px,#ad1117 192px,#a40f15 194px,#d22020 198px,#f04130 202px,#fc8060 208px,#fde3d8 216px,#e6edf5 218px,#c7dcef 220px,#79b6d9 246px,#3b8bc3 264px,#1b68ae 270px,#083c7d 272px,#08316c 274px,#08306b 384px)"></i><i style="top:188px;height:2px;background:linear-gradient(90deg,#08306b 0,#08326e 132px,#145fa6 136px,#2e7ebc 140px,#57a0ce 146px,#add0e6 152px,#ccdff1 164px,#d9e7f5 168px,#f1f1f4 170px,#fdd0bd 172px,#fb6d4e 180px,#e22e27 188px,#b31218 192px,#a91016 194px,#d22020 198px,#f0402f 202px,#fb7e5e 208px,#f8ece7 216px,#d8e7f4 218px,#c2d9ee 222px,#76b4d8 248px,#3d8dc4 264px,#1866ac 270px,#083674 274px,#08306b 280px,#08306b 384px)"></i><i style="top:190px;height:2px;background:linear-gradient(90deg,#08306b 0,#083370 130px,#1663a9 134px,#519ccc 144px,#b3d3e8 152px,#d7e6f5 168px,#eef0f4 170px,#fedfd1 172px,#fb7c5c 180px,#ef3f2f 186px,#d12020 190px,#b11218 192px,#ba1419 196px,#eb382b 200px,#fb7051 206px,#fdd3c1 214px,#f9ebe5 216px,#eaeef3 218px,#c8ddf0 220px,#77b5d9 248px,#3989c1 266px,#1b69af 272px,#083877 276px,#08306b 280px,#08306b 384px)"></i><i style="top:192px;height:2px;background:linear-gradient(90deg,#08306b 0,#08316d 128px,#0b4c92 132px,#1e6db2 134px,#4795c8 142px,#8ec1de 150px,#b7d5ea 154px,#d5e5f4 168px,#eaeff5 170px,#fde3d7 172px,#fb7353 180px,#ec392c 186px,#b71319 192px,#bc141a 196px,#ea372a 200px,#fb6e4f 206px,#fdd2bf 214px,#f9e9e3 216px,#ebeef3 218px,#c9ddf0 220px,#75b4d8 248px,#3c8cc3 266px,#1763aa 274px,#08336f 278px,#08306b 384px)"></i><i style="top:194px;height:2px;background:linear-gradient(90deg,#08306b 0,#08336f 128px,#135ea6 132px,#2979b9 136px,#5ba3d0 144px,#bad6eb 154px,#dae8f6 168px,#f3f1f2 170px,#fdceba 174px,#fb7656 180px,#ee3b2c 186px,#bd151a 192px,#be151a 196px,#ee3c2d 202px,#fb7858 208px,#fddcce 216px,#eceef3 218px,#c9ddf0 220px,#76b4d8 248px,#3a8ac2 266px,#1663a9 276px,#08316d 280px,#08306b 384px)"></i><i style="top:196px;height:2px;background:linear-gradient(90deg,#08306b 0,#08336f 126px,#1663a9 130px,#4695c8 142px,#b8d5ea 154px,#d8e7f5 168px,#eef0f4 170px,#fdded0 172px,#fb7959 180px,#ef3d2e 186px,#c3161b 192px,#c1161b 196px,#ee3c2d 202px,#fb7757 208px,#fddccd 216px,#edeff3 218px,#c9ddf0 220px,#74b3d8 250px,#3989c1 268px,#1b69ae 276px,#083877 280px,#08306b 284px,#08306b 384px)"></i><i style="top:198px;height:2px;background:linear-gradient(90deg,#08306b 0,#08326f 122px,#094184 126px,#1c6aaf 130px,#4292c6 140px,#96c5df 150px,#c3daee 158px,#d6e6f4 168px,#eaeff5 170px,#fde3d7 172px,#fb7e5e 180px,#f24835 186px,#da2723 190px,#c3161b 194px,#de2a25 198px,#f86044 206px,#fcaa8e 212px,#fae8e1 216px,#edeff3 218px,#c9ddf0 220px,#76b4d8 250px,#3585bf 270px,#1663a9 278px,#08336f 284px,#08306b 384px)"></i><i style="top:200px;height:2px;background:linear-gradient(90deg,#08306b 0,#08326e 118px,#1763aa 126px,#4594c7 140px,#93c4df 150px,#c5dbef 158px,#dae8f6 170px,#f1f0f3 172px,#fdd0bd 174px,#fb7858 182px,#f0402f 188px,#ca191d 194px,#f24633 202px,#fb7858 208px,#fddccd 216px,#eceef3 218px,#c9ddf0 220px,#78b5d9 250px,#3585bf 270px,#1662a9 280px,#08326e 286px,#08306b 384px)"></i><i style="top:202px;height:2px;background:linear-gradient(90deg,#08306b 0,#08326f 114px,#094184 118px,#1561a8 122px,#4291c6 140px,#91c3de 150px,#c5dbef 158px,#d7e6f5 170px,#ecf0f5 172px,#fde2d6 174px,#fb7e5e 182px,#f44d38 186px,#e12d26 192px,#d42021 196px,#f34b36 202px,#fb7a5a 208px,#fdddce 216px,#eceef3 218px,#c9ddf0 220px,#79b6d9 250px,#3383be 272px,#1662a9 282px,#083370 286px,#08306b 384px)"></i><i style="top:204px;height:2px;background:linear-gradient(90deg,#08306b 0,#08326f 110px,#1663aa 120px,#4191c5 138px,#7eb9da 148px,#c3daee 158px,#dbe9f6 170px,#f2f1f3 172px,#fdd0bd 176px,#fb7b5b 182px,#f34a35 188px,#dc2824 194px,#f14532 200px,#fb7353 206px,#fdc7b1 214px,#f9eae4 216px,#eaeef3 218px,#c9ddf0 220px,#7bb7d9 250px,#3383be 272px,#1865ab 284px,#08336f 288px,#08306b 384px)"></i><i style="top:206px;height:2px;background:linear-gradient(90deg,#08306b 0,#08326f 106px,#1866ac 116px,#3a8ac2 136px,#76b4d8 148px,#c5dbef 160px,#d8e7f5 170px,#ecf0f5 172px,#fde3d7 174px,#fc8464 182px,#f7593f 188px,#e63228 194px,#f0402f 198px,#fb7758 206px,#fdc9b3 214px,#f8ebe7 216px,#d9e7f5 218px,#c4daee 222px,#79b6d9 250px,#1e6eb2 284px,#1058a0 286px,#08336f 290px,#08306b 384px)"></i><i style="top:208px;height:2px;background:linear-gradient(90deg,#08306b 0,#08326f 100px,#093f80 106px,#1966ac 112px,#3e8ec4 136px,#7eb9da 148px,#c7dcef 160px,#dbe9f6 172px,#f2f1f3 174px,#fdd2bf 176px,#fc8363 184px,#f85f43 188px,#ee3d2e 196px,#fb7555 206px,#fcb59a 212px,#f7eeea 216px,#d7e6f4 218px,#c2d9ee 224px,#78b5d9 252px,#2171b5 284px,#1662a9 288px,#08326e 292px,#08306b 384px)"></i><i style="top:210px;height:2px;background:linear-gradient(90deg,#08306b 0,#08326f 94px,#0a4589 100px,#1f6eb3 110px,#3f8fc4 134px,#80badb 148px,#c9ddf0 162px,#d9e7f5 172px,#ebf0f7 174px,#fde5db 176px,#fc8d6d 184px,#fa6648 190px,#f34b36 196px,#fb7c5c 206px,#fcb99f 212px,#fce6dd 216px,#f3f0f2 216px,#cde0f1 220px,#7ab6d9 252px,#2373b6 284px,#1662a9 290px,#083370 294px,#08306b 384px)"></i><i style="top:212px;height:2px;background:linear-gradient(90deg,#08306b 0,#08326f 86px,#0a4589 94px,#1c6ab0 104px,#3f8fc4 132px,#7eb8da 148px,#cbdef1 162px,#dbe9f6 172px,#f0f1f5 174px,#fdd6c4 178px,#fc8e6e 184px,#fa6a4b 192px,#f75b41 196px,#fc8363 206px,#fcbda4 212px,#fae8e1 216px,#eff0f3 216px,#ccdff1 220px,#7cb7da 252px,#2373b6 286px,#1764ab 290px,#08336f 296px,#08306b 384px)"></i><i style="top:214px;height:2px;background:linear-gradient(90deg,#08306b 0,#083572 78px,#094285 86px,#1b69af 96px,#3d8dc3 128px,#69acd5 142px,#cbdef1 162px,#dfebf7 174px,#f5f0f0 176px,#fcc0a7 180px,#fc8b6b 186px,#fa6a4b 196px,#fc9373 206px,#fee0d2 214px,#edeff4 216px,#ccdff1 220px,#7eb8da 252px,#2171b5 288px,#1662a9 292px,#08336f 298px,#08306b 384px)"></i><i style="top:216px;height:2px;background:linear-gradient(90deg,#08306b 0,#083572 68px,#0a4689 78px,#1a69ae 88px,#3a8ac2 124px,#6fb0d7 142px,#caddf0 162px,#dbe9f6 174px,#eef1f6 176px,#fedbcb 178px,#fc9677 186px,#fb7858 196px,#fc9576 206px,#fed9c9 214px,#f8eeea 216px,#dbe9f5 218px,#c7dcef 222px,#80b9da 252px,#1f6eb3 290px,#1662a9 294px,#08336f 300px,#08306b 384px)"></i><i style="top:218px;height:2px;background:linear-gradient(90deg,#08306b 0,#08326f 60px,#1560a7 76px,#3888c1 118px,#66abd4 138px,#c9ddf0 160px,#deebf7 174px,#f1f2f5 176px,#fed9c9 180px,#fca284 186px,#fc8565 196px,#fc9f80 206px,#fdd4c2 212px,#f3f1f3 216px,#d0e2f2 218px,#7cb7da 254px,#1f6fb3 292px,#1662a9 296px,#08316d 302px,#08306b 384px)"></i><i style="top:220px;height:2px;background:linear-gradient(90deg,#08306b 0,#083572 54px,#0a4589 60px,#1662a9 68px,#3b8bc2 116px,#6dafd6 138px,#c7dbef 158px,#dbe9f6 174px,#f5f2f1 178px,#fdc9b3 182px,#fca487 188px,#fc9374 198px,#fcae92 206px,#fee2d5 214px,#eff1f5 216px,#cfe1f2 218px,#7eb8da 254px,#206fb3 292px,#1a68ae 298px,#083877 302px,#08306b 306px,#08306b 384px)"></i><i style="top:222px;height:2px;background:linear-gradient(90deg,#08306b 0,#083572 48px,#1b69ae 62px,#2676b7 90px,#4695c8 118px,#7db8da 138px,#c4daee 156px,#ddeaf7 176px,#f7f1f0 178px,#fdcbb6 184px,#fcae92 190px,#fca285 198px,#fcbda3 208px,#fde7dd 214px,#ebf0f6 216px,#cee1f2 218px,#80b9da 254px,#1f6eb3 294px,#1662a9 300px,#083573 304px,#08306b 320px,#08306b 384px)"></i><i style="top:224px;height:2px;background:linear-gradient(90deg,#08306b 0,#083572 42px,#1a68ae 56px,#2575b7 88px,#509bcb 118px,#84bcdb 136px,#c3daee 156px,#dfecf7 176px,#eff3f9 178px,#fee1d4 182px,#fcbca3 188px,#fcaf93 198px,#fdc5ae 208px,#fee4d7 212px,#f2f2f5 214px,#cee0f2 218px,#82bbdb 254px,#1f6fb3 296px,#1663a9 302px,#08336f 308px,#08306b 384px)"></i><i style="top:226px;height:2px;background:linear-gradient(90deg,#08306b 0,#083572 38px,#1866ac 48px,#1f6eb3 74px,#2878b8 88px,#5aa2cf 118px,#9bc8e1 140px,#c8dcf0 158px,#e1edf8 178px,#f8f2f0 180px,#fed7c6 184px,#fcc1aa 192px,#fcbda4 200px,#fdd1be 208px,#fdebe2 212px,#ecf2f8 214px,#cde0f1 218px,#84bcdb 254px,#206fb4 296px,#1662a9 304px,#08336f 310px,#08306b 384px)"></i><i style="top:228px;height:2px;background:linear-gradient(90deg,#08306b 0,#083572 32px,#1b69ae 44px,#2474b7 84px,#6aadd5 120px,#b4d3e9 146px,#e2eef8 178px,#f8f3f1 182px,#fed7c6 186px,#fdc7b0 198px,#fed9c8 208px,#faf1ed 212px,#e5eff9 214px,#cbdef1 220px,#86bddc 254px,#1f6eb3 298px,#1a68ae 306px,#083876 312px,#08306b 316px,#08306b 384px)"></i><i style="top:230px;height:2px;background:linear-gradient(90deg,#08306b 0,#083572 28px,#1b69ae 38px,#2575b7 84px,#7bb7d9 122px,#bcd7eb 150px,#e3eef9 180px,#f7f4f4 182px,#fedbcb 188px,#fdd3c1 200px,#fee1d4 208px,#f1f4f8 212px,#cfe1f2 218px,#85bddc 254px,#1f6eb3 300px,#1865ab 308px,#0b4d92 312px,#08336f 314px,#08306b 384px)"></i><i style="top:232px;height:2px;background:linear-gradient(90deg,#08306b 0,#083675 24px,#1b69ae 34px,#2574b7 82px,#95c5df 130px,#cde0f1 164px,#e3eef9 180px,#f8f4f3 184px,#fee2d4 190px,#feded0 202px,#feece4 208px,#e8f1fa 212px,#cbdef1 220px,#88bedc 254px,#1f6eb3 302px,#1a68ae 310px,#0b4d92 314px,#083573 316px,#08306b 332px,#08306b 384px)"></i><i style="top:234px;height:2px;background:linear-gradient(90deg,#08306b 0,#083674 14px,#1865ac 28px,#1f6eb3 48px,#2474b6 80px,#a5cde4 138px,#d1e2f3 168px,#e6f0f9 182px,#faf3f1 188px,#fee7dc 198px,#f5f4f5 208px,#ccdff1 218px,#8abfdd 254px,#1e6eb2 304px,#1662a9 314px,#08336f 320px,#08306b 384px)"></i><i style="top:236px;height:2px;background:linear-gradient(90deg,#083674 0,#083978 6px,#1a68ae 22px,#2575b7 78px,#a7cee4 138px,#d1e2f3 168px,#ebf3fb 186px,#f8f4f3 200px,#ddeaf7 212px,#82bbdb 258px,#1e6db2 306px,#1561a8 316px,#08336f 322px,#08306b 384px)"></i><i style="top:238px;height:2px;background:linear-gradient(90deg,#0e5197 0,#0f559c 6px,#1e6db2 18px,#2574b7 76px,#a6cde4 136px,#d1e2f3 168px,#eaf3fb 200px,#90c3de 254px,#1e6eb2 306px,#1561a8 318px,#08336f 324px,#08306b 384px)"></i><i style="top:240px;height:2px;background:linear-gradient(90deg,#1b69af 0,#2474b7 74px,#a5cde4 136px,#d1e2f3 168px,#e2eef8 198px,#abcfe5 242px,#2d7dbb 300px,#1c6ab0 316px,#145fa6 322px,#093e7f 326px,#08316c 332px,#08306b 384px)"></i><i style="top:242px;height:2px;background:linear-gradient(90deg,#1f6eb3 0,#2474b6 72px,#a5cde3 134px,#d1e2f3 168px,#deebf7 198px,#b3d3e8 238px,#3e8ec4 292px,#1c6ab0 316px,#135da5 326px,#08326f 334px,#08306b 384px)"></i><i style="top:244px;height:2px;background:linear-gradient(90deg,#1f6eb3 0,#2473b6 70px,#a6cde4 134px,#d1e2f3 168px,#dceaf6 198px,#b5d4e9 236px,#4d9aca 286px,#1b6aaf 316px,#125ca4 330px,#08316d 340px,#08306b 384px)"></i><i style="top:246px;height:2px;background:linear-gradient(90deg,#1f6eb3 0,#2373b6 68px,#a6cde4 134px,#d1e3f3 168px,#dbe9f6 198px,#b6d4e9 236px,#539dcc 286px,#1b69af 318px,#115ba3 336px,#083572 344px,#08306b 384px)"></i><i style="top:248px;height:2px;background:linear-gradient(90deg,#1f6eb3 0,#2373b6 66px,#a5cde4 132px,#d1e2f3 166px,#dbe9f6 198px,#b7d5ea 236px,#569fce 286px,#1a68ae 320px,#115ca4 340px,#08316d 350px,#08306b 384px)"></i><i style="top:250px;height:2px;background:linear-gradient(90deg,#1f6eb3 0,#2373b6 64px,#a5cde3 132px,#d1e2f3 166px,#dbe9f6 198px,#b6d4ea 238px,#559fcd 288px,#1a68ae 322px,#0e579f 346px,#083572 354px,#08306b 384px)"></i><i style="top:252px;height:2px;background:linear-gradient(90deg,#1f6eb3 0,#2474b6 62px,#a5cde3 130px,#d1e2f3 166px,#dbe9f6 198px,#b6d4e9 238px,#529dcc 290px,#1966ad 326px,#0d559e 350px,#08326f 360px,#08306b 384px)"></i><i style="top:254px;height:2px;background:linear-gradient(90deg,#1f6eb3 0,#2474b6 60px,#a6cde4 130px,#d1e2f3 166px,#dae9f6 198px,#b5d4e9 240px,#4f9bcb 294px,#1866ac 328px,#0d549d 356px,#08326f 364px,#08306b 384px)"></i><i style="top:256px;height:2px;background:linear-gradient(90deg,#1f6eb3 0,#2474b7 58px,#a6cde4 130px,#d1e2f3 166px,#dae8f6 198px,#b6d4e9 240px,#549ecd 292px,#1865ac 330px,#0c539c 360px,#08316d 370px,#08306b 384px)"></i><i style="top:258px;height:2px;background:linear-gradient(90deg,#1f6eb3 0,#2474b7 56px,#a6cde4 128px,#d1e2f3 166px,#dae8f6 198px,#b6d4e9 240px,#529dcc 296px,#1764ab 332px,#0b529b 366px,#08316d 374px,#08306b 384px)"></i><i style="top:260px;height:2px;background:linear-gradient(90deg,#1f6eb3 0,#2373b6 54px,#a6cde4 128px,#d1e2f3 166px,#dae8f6 198px,#b5d4e9 242px,#519ccc 298px,#1663aa 334px,#0a529b 370px,#08316d 380px,#08316d 384px)"></i><i style="top:262px;height:2px;background:linear-gradient(90deg,#1f6eb3 0,#2474b6 52px,#a6cde4 126px,#d1e2f3 166px,#dae8f6 198px,#b6d4ea 242px,#56a0ce 296px,#1562a9 336px,#0a519a 376px,#084083 380px,#084083 384px)"></i><i style="top:264px;height:2px;background:linear-gradient(90deg,#1f6eb3 0,#2575b7 50px,#a6cde4 126px,#d1e2f3 166px,#d9e8f5 200px,#b6d4e9 242px,#569fce 298px,#1461a8 340px,#0a529c 384px)"></i><i style="top:266px;height:2px;background:linear-gradient(90deg,#1f6eb3 0,#2474b6 46px,#a6cde4 124px,#d1e2f3 166px,#d9e8f5 200px,#b6d4e9 244px,#559fcd 300px,#135fa7 342px,#0b549f 384px)"></i><i style="top:268px;height:2px;background:linear-gradient(90deg,#1f6eb3 0,#2474b7 44px,#a6cde4 124px,#d0e2f2 164px,#d9e8f5 200px,#b6d4e9 244px,#559fcd 302px,#125ea6 344px,#0b549f 384px)"></i><i style="top:270px;height:2px;background:linear-gradient(90deg,#1f6eb3 0,#2474b6 42px,#a6cde4 122px,#d1e2f3 164px,#d9e8f5 200px,#b5d4e9 246px,#56a0ce 304px,#115da5 348px,#0b549f 384px)"></i><i style="top:272px;height:2px;background:linear-gradient(90deg,#1f6eb3 0,#2575b7 40px,#a6cde4 122px,#d1e2f3 164px,#d9e7f5 200px,#b5d4e9 246px,#569fce 306px,#105ca4 350px,#0b549f 384px)"></i><i style="top:274px;height:2px;background:linear-gradient(90deg,#1f6eb3 0,#2474b7 36px,#a6cde4 120px,#d0e2f2 164px,#d9e7f5 200px,#b5d4e9 248px,#57a0ce 306px,#105ba4 352px,#0b549f 384px)"></i><i style="top:276px;height:2px;background:linear-gradient(90deg,#1f6eb3 0,#2575b7 34px,#a6cee4 120px,#d1e2f3 164px,#d9e7f5 200px,#b5d4e9 248px,#58a1cf 308px,#0f5aa3 356px,#0b549f 384px)"></i><i style="top:278px;height:2px;background:linear-gradient(90deg,#1f6eb3 0,#2575b7 32px,#a6cee4 118px,#d1e2f3 164px,#d9e7f5 200px,#b5d4e9 250px,#5aa2cf 308px,#125da6 352px,#0b549f 384px)"></i><i style="top:280px;height:2px;background:linear-gradient(90deg,#1f6eb3 0,#2676b7 30px,#a7cee4 118px,#d1e2f3 164px,#d8e7f5 202px,#b5d4e9 250px,#5da4d0 308px,#125ea6 354px,#0b549f 384px)"></i><i style="top:282px;height:2px;background:linear-gradient(90deg,#1f6eb3 0,#2676b7 26px,#a7cee4 116px,#d1e2f3 162px,#d8e7f5 202px,#b5d4e9 252px,#61a7d2 308px,#135fa7 356px,#0b549f 384px)"></i><i style="top:284px;height:2px;background:linear-gradient(90deg,#1f6eb3 0,#2777b8 24px,#a7cee4 116px,#d1e2f3 162px,#d8e7f5 202px,#b5d4e9 252px,#66aad4 306px,#1360a7 358px,#0b549f 384px)"></i><i style="top:286px;height:2px;background:linear-gradient(90deg,#1f6eb3 0,#2979b9 24px,#a9cfe5 116px,#d1e3f3 164px,#d8e7f5 202px,#b5d4e9 254px,#6caed6 304px,#1461a8 360px,#0b549f 378px,#0b549f 384px)"></i><i style="top:288px;height:2px;background:linear-gradient(90deg,#1f6eb3 0,#2b7bba 22px,#aacfe5 116px,#d2e3f3 164px,#d8e7f5 202px,#b5d4e9 254px,#6dafd6 306px,#1460a8 364px,#0b549f 382px,#0b549f 384px)"></i><i style="top:290px;height:2px;background:linear-gradient(90deg,#1f6eb3 0,#3787c0 30px,#b0d2e7 120px,#d4e4f4 168px,#d7e6f5 206px,#b3d3e8 258px,#6baed6 308px,#135fa7 366px,#0b549f 384px)"></i><i style="top:292px;height:2px;background:linear-gradient(90deg,#1f6eb3 0,#6caed6 68px,#b8d5ea 126px,#dbe9f6 190px,#b9d6eb 252px,#77b5d9 304px,#1662aa 368px,#0b549f 384px)"></i><i style="top:294px;height:2px;background:linear-gradient(90deg,#2171b4 0,#75b4d8 72px,#bcd7ec 130px,#dbe9f6 194px,#b7d5ea 256px,#76b4d8 306px,#1460a8 372px,#0b549f 384px)"></i><i style="top:296px;height:2px;background:linear-gradient(90deg,#2474b7 0,#77b4d9 72px,#bed8ec 130px,#dae9f6 196px,#b7d5ea 256px,#78b5d9 306px,#135ea7 376px,#0d57a1 384px)"></i><i style="top:298px;height:2px;background:linear-gradient(90deg,#2878b9 0,#78b5d9 70px,#bfd8ed 130px,#dae9f6 196px,#b7d4ea 258px,#79b6d9 308px,#1967ad 374px,#115ca5 384px)"></i><i style="top:300px;height:2px;background:linear-gradient(90deg,#2b7bba 0,#7bb7da 70px,#c2d9ee 132px,#dae8f6 198px,#b7d5ea 260px,#7ab6d9 308px,#1d6cb1 372px,#1561a9 384px)"></i><i style="top:302px;height:2px;background:linear-gradient(90deg,#2f7fbc 0,#80b9da 72px,#c6dbef 136px,#d9e8f5 200px,#b6d4e9 262px,#7bb7da 310px,#2170b4 372px,#1866ac 384px)"></i><i style="top:304px;height:2px;background:linear-gradient(90deg,#3282be 0,#86bddc 74px,#caddf0 142px,#d9e8f5 200px,#b5d4e9 264px,#7cb8da 310px,#2373b6 374px,#1c6ab0 384px)"></i><i style="top:306px;height:2px;background:linear-gradient(90deg,#3585bf 0,#94c4df 82px,#cde0f1 150px,#d8e7f5 202px,#b6d4e9 264px,#7eb8da 312px,#2676b7 374px,#1f6eb3 384px)"></i><i style="top:308px;height:2px;background:linear-gradient(90deg,#3787c0 0,#9ac8e0 86px,#cee1f2 152px,#d8e7f5 204px,#b5d4e9 266px,#7fb9da 312px,#2878b8 374px,#2171b5 384px)"></i><i style="top:310px;height:2px;background:linear-gradient(90deg,#3787c0 0,#9ac8e0 86px,#cee1f2 152px,#d8e7f5 204px,#b5d4e9 266px,#7fb9da 312px,#2878b8 374px,#2171b5 384px)"></i></div></div>
<div class="hmc" style="left:66.6px;top:474.0px;width:377.80px;height:305.00px"><div class="hm" style="left:-2.60px;top:-3.00px;width:384px;height:311px"><i style="top:0px;height:3px;background:linear-gradient(90deg,#d1e2f3 0,#d0e2f2 14px,#bed8ec 16px,#8cbfdd 18px,#2470b1 22px,#0f4f93 22px,#093977 24px,#08326d 24px,#083674 26px,#1f6aad 28px,#87bddc 30px,#bed8ec 32px,#d9e7f5 36px,#d4e5f4 58px,#b6d4ea 62px,#76b3d7 64px,#2c79b7 66px,#12559a 66px,#093978 68px,#08306b 70px,#083572 70px,#0d4a8d 72px,#418ec4 74px,#abcfe6 76px,#d9e8f5 80px,#f7f8fa 84px,#fee5da 90px,#fedccd 98px,#fee9df 104px,#eaf2fa 108px,#cadff0 110px,#82b9db 112px,#317ebb 114px,#0b4284 116px,#083370 116px,#083673 120px,#1d68ab 122px,#96c5e0 126px,#ddeaf7 130px,#fbf0eb 132px,#fdcdb9 134px,#fc9677 136px,#fb7c5c 138px,#f14331 164px,#bb141a 172px,#75030f 176px,#6c010e 198px,#71020e 204px,#7d0510 206px,#ca1d1e 208px,#da2723 212px,#d92523 216px,#990c13 224px,#9c0d14 228px,#d42121 232px,#f5523a 254px,#fc8363 258px,#fcad91 262px,#fcc1a9 284px,#fdd5c4 292px,#faf4f2 298px,#d5e5f4 300px,#85bcdc 304px,#7eb8da 306px,#cde0f1 310px,#e8f1fa 314px,#e1edf8 346px,#c2daed 348px,#6eafd6 352px,#57a0ce 354px,#70b0d6 356px,#b9d6eb 358px,#d2e3f3 362px,#cadef0 384px)"></i><i style="top:3px;height:3px;background:linear-gradient(90deg,#d1e2f3 0,#d2e3f3 14px,#b4d3e9 18px,#539bcb 20px,#185fa1 22px,#083572 24px,#083471 26px,#165c9f 28px,#5099ca 30px,#b5d4e9 32px,#d5e5f4 36px,#d6e5f4 58px,#bdd7ec 62px,#84bbdb 64px,#3885be 66px,#1b62a4 66px,#0c4283 68px,#083370 68px,#08336f 70px,#0b4182 72px,#1a61a3 72px,#5aa1ce 74px,#a2cbe3 76px,#d6e5f4 80px,#f5f7fa 84px,#fee6db 90px,#fedccd 98px,#fee8dd 104px,#edf3f9 108px,#cee1f2 110px,#8cbfdd 112px,#3885bf 114px,#0c488b 116px,#083573 116px,#083471 120px,#1962a6 122px,#6eafd5 126px,#c7ddef 128px,#ebf1f8 130px,#fde6dc 132px,#fc8565 136px,#f75a40 156px,#f14432 164px,#bb141a 172px,#76040f 176px,#6b010d 198px,#71020e 204px,#7e0610 206px,#cb1d1f 208px,#dc2924 212px,#cd1b1e 218px,#990c13 224px,#9d0d14 228px,#ce1d1f 232px,#f5533b 254px,#fca285 260px,#fcb297 266px,#fcbfa7 282px,#fed7c6 292px,#f6f5f6 298px,#bed8ec 302px,#81badb 304px,#83bbdb 306px,#d1e3f3 310px,#e9f2fa 314px,#e3eef9 344px,#cbdff0 348px,#66aad3 352px,#5aa2cf 354px,#7cb7d9 356px,#c0d9ed 358px,#d4e4f4 362px,#cadef0 384px)"></i><i style="top:6px;height:3px;background:linear-gradient(90deg,#d1e2f3 0,#d1e2f3 16px,#c0d9ed 18px,#8fc1de 20px,#2873b2 24px,#0a3d7c 26px,#083470 26px,#093876 28px,#2069aa 30px,#86bcdc 32px,#bdd8ec 34px,#d6e6f4 38px,#d6e6f4 60px,#c1d9ed 62px,#8dc0dd 64px,#216aaa 68px,#093572 70px,#08326e 72px,#0b3e7e 72px,#175b9e 74px,#559dcc 76px,#9ec9e2 78px,#d5e5f4 80px,#f5f7fa 84px,#fee6db 92px,#fedccd 100px,#fee8de 106px,#ebf2f9 108px,#cadff0 110px,#82b9db 112px,#307eba 114px,#165ea2 116px,#083370 118px,#08316c 120px,#083876 122px,#206cae 124px,#9cc8e1 128px,#e1edf8 130px,#f0f3f7 132px,#feded0 134px,#fc8f70 136px,#fb7b5b 138px,#f24633 164px,#be151a 172px,#77040f 176px,#6b010d 198px,#71020e 204px,#7f0610 206px,#cc1e1f 208px,#dc2824 214px,#a81016 222px,#990c13 226px,#a00e15 228px,#d11f20 232px,#f4513a 252px,#fc8060 256px,#fcad90 262px,#fcc1a9 282px,#fed7c6 290px,#f6f5f6 296px,#bdd8ec 300px,#80badb 304px,#84bcdc 306px,#d2e3f3 310px,#e9f2fa 314px,#e1edf8 344px,#c2daed 346px,#5ea5d1 350px,#5fa6d1 352px,#b9d6eb 356px,#d2e3f3 360px,#cadef0 384px)"></i><i style="top:9px;height:3px;background:linear-gradient(90deg,#d1e3f3 0,#d0e1f2 18px,#bbd7eb 20px,#86bbdb 22px,#2069aa 26px,#093876 28px,#083470 28px,#0a3d7d 30px,#2a75b3 32px,#94c4e0 34px,#c4dbee 36px,#d9e8f5 40px,#d4e4f4 62px,#b3d3e9 64px,#71afd5 66px,#2873b1 68px,#115092 70px,#093876 70px,#08316d 72px,#0a3b79 74px,#135598 74px,#4f98c9 76px,#9ac6e1 78px,#c6dcef 80px,#f4f7fa 86px,#fee8de 92px,#fedccc 100px,#fee4d8 106px,#f5f4f5 108px,#c6dcef 112px,#79b4d8 114px,#2976b6 116px,#12569b 116px,#093d7d 118px,#08306b 120px,#08326e 122px,#093d7d 122px,#2775b5 124px,#a6cde5 128px,#e7f0f8 132px,#f6f3f4 132px,#fdd5c4 134px,#fc8667 138px,#fb6e4e 146px,#f24834 164px,#c9191d 172px,#b01218 174px,#79040f 176px,#6b010e 186px,#72030e 204px,#840711 206px,#b01319 206px,#ce1e1f 208px,#db2724 214px,#990c13 224px,#9c0d14 228px,#d32021 232px,#f5543c 252px,#fc9e7f 258px,#fcb297 264px,#fcc1a9 282px,#fdd7c6 290px,#fcf2ed 294px,#eaf2fa 296px,#a5cde4 300px,#7fb9da 302px,#86bddc 304px,#d4e5f4 308px,#eaf3fb 314px,#e3eef9 342px,#cadff0 344px,#65a9d3 348px,#5ba3d0 350px,#81badb 352px,#c3daee 356px,#d4e4f4 360px,#cadef0 384px)"></i><i style="top:12px;height:3px;background:linear-gradient(90deg,#d1e2f3 0,#cee1f2 20px,#b6d4ea 22px,#7bb5d8 24px,#195fa1 28px,#083573 30px,#083673 30px,#1a61a3 32px,#7fb8da 36px,#bad6eb 38px,#d6e6f4 40px,#d5e5f4 62px,#b9d6eb 66px,#7cb6d9 68px,#307bb8 70px,#15589a 70px,#0a3c7b 72px,#08316c 74px,#093876 74px,#114f91 76px,#4993c6 78px,#b1d2e8 80px,#dceaf6 84px,#fbf6f4 88px,#fedccc 100px,#fee5d9 106px,#f3f4f8 110px,#c0daed 112px,#4490c5 116px,#0f4f94 118px,#093977 118px,#08306b 122px,#083471 122px,#1861a4 124px,#70afd6 128px,#cadff0 130px,#edf2f7 132px,#fee2d5 134px,#fc9273 138px,#fb7c5c 140px,#f14331 166px,#c2161b 172px,#9a0c14 174px,#7d0510 176px,#6f020e 178px,#6d020e 200px,#74030f 204px,#8b0912 206px,#b6151a 206px,#d01f20 208px,#da2723 214px,#990c13 224px,#9d0d14 228px,#cf1e1f 230px,#f5523a 252px,#fc8464 256px,#fcae93 260px,#fcc1a9 280px,#fdd7c6 288px,#fcf2ed 294px,#e9f2fa 296px,#a3cce4 300px,#7eb9da 302px,#89bedd 304px,#d6e6f4 308px,#eaf3fb 312px,#e1edf8 340px,#c0d9ed 344px,#6eaed5 346px,#59a2cf 348px,#77b4d8 350px,#bdd8ec 354px,#d4e4f4 358px,#cbdff1 384px)"></i><i style="top:15px;height:3px;background:linear-gradient(90deg,#cde0f1 0,#d2e3f3 22px,#c2daee 24px,#94c3e0 26px,#2a75b3 28px,#0a3d7d 30px,#083471 32px,#093978 32px,#236dad 34px,#8ec0de 38px,#c2daee 40px,#d9e8f5 44px,#d2e3f3 64px,#bfd8ec 66px,#86bcdc 68px,#3884bd 70px,#1a60a2 72px,#0c4181 72px,#08336f 74px,#093572 76px,#0e498b 76px,#428dc3 78px,#8fc1de 80px,#c2daee 82px,#f3f7fb 88px,#ffebe1 92px,#fedccc 102px,#fee5d9 108px,#f1f4f8 110px,#bbd7eb 114px,#3c89c1 116px,#0c498c 118px,#083673 120px,#08316c 122px,#083775 124px,#1f6aad 126px,#9dc9e2 130px,#e3eef8 132px,#f2f3f6 134px,#fed9c9 136px,#fc8869 138px,#fb7757 142px,#f14532 166px,#c4171c 172px,#a00e15 174px,#820711 176px,#70020e 178px,#6d020e 200px,#77040f 204px,#bc161b 206px,#d11f20 208px,#d92623 214px,#9a0c14 222px,#a20e15 228px,#d21f20 230px,#f45039 250px,#fb7051 254px,#fca082 258px,#fcb297 262px,#fcc0a8 280px,#fdd6c5 288px,#fcf2ee 292px,#e9f1fa 294px,#a1cbe3 298px,#7db8da 300px,#8bc0dd 302px,#ccdff1 306px,#e8f2fa 310px,#e3eef9 338px,#c9def0 342px,#62a8d2 346px,#5da4d0 348px,#c6dcef 352px,#d4e4f4 358px,#cbdff1 384px)"></i><i style="top:18px;height:3px;background:linear-gradient(90deg,#bed8ec 0,#c6dcef 4px,#d1e2f3 12px,#d1e2f3 24px,#bfd8ec 26px,#8bbedd 28px,#226bab 30px,#093877 32px,#083471 34px,#0b3f7f 34px,#2e79b6 36px,#9cc7e2 40px,#c8ddef 42px,#dbe9f6 46px,#d4e4f4 66px,#c3dbee 68px,#91c2df 70px,#418cc2 72px,#0e4789 74px,#083572 74px,#083470 76px,#0c4484 78px,#1d64a6 78px,#62a6d1 80px,#aacee6 82px,#dae8f6 86px,#faf6f4 90px,#fedccc 102px,#fee6da 108px,#eff3f8 112px,#d0e2f2 114px,#8bbedd 116px,#3481bc 118px,#1860a4 118px,#083370 120px,#08316d 124px,#093b7b 124px,#2674b4 126px,#88bddc 130px,#d9e7f5 132px,#f8f1ef 134px,#fdcebb 136px,#fc9577 138px,#fb7c5c 140px,#f24733 166px,#c6171c 172px,#a50f16 174px,#75030f 176px,#6b010e 198px,#79040f 204px,#c2181c 206px,#d72322 208px,#d82422 214px,#990c13 222px,#9c0d14 226px,#d42121 230px,#f5533b 250px,#fc9e7f 256px,#fcb297 262px,#fcc0a8 278px,#fdd6c5 286px,#fcf2ee 292px,#e8f1fa 294px,#9fcae2 298px,#7db8da 300px,#8ec1de 302px,#cee1f2 304px,#e9f2fa 308px,#e1edf8 338px,#bed8ec 340px,#6badd4 344px,#5aa2cf 346px,#7db7d9 348px,#c1daed 350px,#d4e4f4 354px,#c8ddf0 384px)"></i><i style="top:21px;height:3px;background:linear-gradient(90deg,#91c2df 0,#91c2df 4px,#c6dcef 6px,#d1e2f3 14px,#cfe1f2 26px,#bad6eb 28px,#80b8da 30px,#1a60a2 32px,#083673 34px,#093674 36px,#1d64a6 38px,#87bcdc 40px,#bfd9ed 42px,#d7e6f5 46px,#d5e5f4 66px,#b6d4ea 70px,#74b1d6 72px,#2872b1 74px,#114f91 74px,#093875 76px,#08326e 78px,#0b3f7f 78px,#195ea0 80px,#5ca1ce 82px,#a6cde5 84px,#d9e8f5 86px,#faf5f4 90px,#fedccc 102px,#fee7db 110px,#edf3f9 112px,#cce0f1 114px,#82b9da 116px,#2d7ab8 118px,#13599d 120px,#0a3e7e 120px,#08306b 122px,#08336f 124px,#0b4283 126px,#2f7dba 128px,#94c4df 130px,#dfecf7 134px,#f0f2f7 134px,#feddce 136px,#fc8b6b 140px,#fb7959 142px,#f24935 166px,#c8181d 172px,#aa1016 174px,#76040f 176px,#6b010e 198px,#70020e 204px,#7b0510 204px,#c81c1e 206px,#d72422 208px,#d62322 214px,#990c13 222px,#9e0d14 226px,#d11f20 230px,#f5513a 250px,#fc8363 254px,#fcaf93 258px,#fcc0a8 278px,#fdd6c5 286px,#fcf2ee 290px,#e7f1f9 292px,#9dc8e2 296px,#7cb7da 298px,#91c3df 300px,#d0e2f2 304px,#e9f2fa 308px,#e3eef9 336px,#c7ddef 338px,#60a6d1 342px,#59a2cf 344px,#73b2d7 346px,#bcd7ec 348px,#d2e3f3 352px,#c7dcef 378px,#bbd6eb 382px,#bbd6eb 384px)"></i><i style="top:24px;height:3px;background:linear-gradient(90deg,#4892c6 0,#4892c6 4px,#a6cce5 6px,#c6dcef 8px,#d1e2f3 16px,#cee1f2 28px,#b4d3e9 30px,#4e96c8 32px,#145699 34px,#0a3e7d 36px,#083471 36px,#093b79 38px,#2771b0 40px,#95c4e0 42px,#c6dcef 44px,#dae8f6 48px,#d2e3f3 68px,#bcd7ec 70px,#7fb8da 72px,#307bb7 74px,#155799 76px,#0a3b7a 76px,#08316d 78px,#0a3b7a 80px,#155799 80px,#559ccc 82px,#a1cae3 84px,#ccdff1 86px,#f8f7f7 92px,#fedccc 102px,#fee2d6 110px,#f8f3f2 112px,#dce9f6 114px,#a5cce5 116px,#2672b2 120px,#105195 120px,#093978 122px,#08306b 124px,#083573 126px,#1d68ab 128px,#7db7d9 130px,#d4e4f3 134px,#f5f3f3 136px,#fdd3c1 138px,#fc997a 140px,#fc8364 140px,#f14331 166px,#c0151b 174px,#78040f 176px,#69010d 196px,#70020e 204px,#7d0510 204px,#cb1d1e 206px,#db2824 210px,#d52221 214px,#9a0c14 222px,#9b0c14 226px,#d32020 230px,#f5543c 250px,#fca082 256px,#fcb297 260px,#fcc0a7 276px,#fdd6c5 284px,#fcf2ee 290px,#e7f0f9 292px,#b2d3e8 294px,#86bddc 296px,#7cb7da 298px,#94c4df 300px,#d2e4f3 302px,#e9f2fb 306px,#e1edf8 334px,#bcd7ec 338px,#68abd4 340px,#5ba3cf 342px,#6aacd4 344px,#b5d4e9 346px,#d2e3f3 350px,#c7dcef 376px,#a8cee5 380px,#98c6e0 380px,#98c6e0 384px)"></i><i style="top:27px;height:3px;background:linear-gradient(90deg,#114e8f 0,#114e8f 4px,#408ac0 6px,#a6cde5 8px,#c6dcef 10px,#d1e2f3 20px,#d2e3f3 28px,#c2daed 30px,#8fc1de 32px,#236cac 36px,#093977 38px,#083572 38px,#0b4181 40px,#327eb9 42px,#a3cbe4 44px,#cbdff1 46px,#dbe9f6 52px,#d4e4f4 70px,#c2daed 72px,#8abedd 74px,#3984bd 76px,#1a60a1 76px,#0b4080 78px,#08336f 78px,#093876 80px,#125193 82px,#4f97c9 84px,#9dc8e2 86px,#cadef0 88px,#f8f6f7 92px,#fedccc 104px,#fee3d6 110px,#f6f4f5 114px,#c2dbee 116px,#6eadd4 118px,#206bac 120px,#0d4a8e 122px,#083674 122px,#08316d 126px,#093978 126px,#105296 128px,#428fc5 130px,#aacfe6 132px,#edf1f7 136px,#fee0d4 138px,#fc8e6e 140px,#fb7b5b 142px,#f24533 166px,#c2161b 174px,#970c14 176px,#7a050f 176px,#6e020e 182px,#6e020e 202px,#71020e 204px,#7f0610 204px,#cc1e1f 206px,#dd2a25 212px,#a71016 220px,#990c13 224px,#9d0d14 226px,#ce1d1f 228px,#f5523b 248px,#fc8767 252px,#fcb094 258px,#fcc0a7 276px,#fdd6c5 284px,#fcf2ee 288px,#e6f0f9 290px,#b0d2e8 294px,#84bcdb 296px,#7cb7da 296px,#97c6e0 298px,#d4e5f4 302px,#e9f2fb 306px,#e3eef9 332px,#c6dcef 336px,#5ea5d1 340px,#5aa2cf 340px,#79b5d8 342px,#c0d9ed 346px,#d4e4f4 350px,#c8dcef 374px,#a8cee5 378px,#5da4d0 380px,#5da4d0 384px)"></i><i style="top:30px;height:3px;background:linear-gradient(90deg,#08316c 0,#093673 4px,#2268a6 6px,#64a6d1 8px,#a7cde5 10px,#c7dcef 12px,#d4e5f4 26px,#cadef0 32px,#a6cde5 34px,#3883bd 36px,#0c4586 38px,#083673 40px,#093775 40px,#2068a9 42px,#8fc0de 46px,#c3dbee 48px,#dae8f6 52px,#d5e5f4 70px,#c6dcef 72px,#94c4e0 74px,#438dc3 76px,#2169a9 78px,#0d4687 78px,#083471 80px,#093673 82px,#0f4b8c 82px,#4892c6 84px,#98c5e0 86px,#c8ddf0 88px,#f8f6f7 94px,#fedccc 104px,#fee4d7 112px,#f3f4f7 114px,#bcd8ec 118px,#64a7d1 120px,#1a63a6 122px,#0b4486 122px,#083470 124px,#08326f 126px,#0a3f80 128px,#2e7bb9 130px,#95c4e0 132px,#e2edf8 136px,#f2f3f6 136px,#fdd7c7 138px,#fc9c7e 140px,#fc8565 142px,#f96144 156px,#f0402f 168px,#b71319 174px,#7e0610 176px,#70020e 178px,#6d010e 200px,#71020e 204px,#810611 204px,#af1318 206px,#ce1e1f 206px,#dd2924 212px,#990c13 222px,#9f0e14 226px,#d21f20 228px,#f45039 248px,#fb7353 250px,#fca385 254px,#fcb297 258px,#fcbfa7 274px,#fdd6c4 282px,#fbf2ee 288px,#e5eff9 290px,#83bbdb 294px,#7cb7da 296px,#9bc7e1 298px,#d6e6f4 300px,#eaf3fb 306px,#e0edf8 332px,#bad6eb 334px,#65a9d3 338px,#5aa2cf 338px,#6fafd6 340px,#bad6eb 344px,#d2e3f3 346px,#c8dcf0 372px,#a8cee5 376px,#3e8cc3 380px,#2f7fbc 380px,#2f7fbc 384px)"></i><i style="top:33px;height:3px;background:linear-gradient(90deg,#083470 0,#093673 6px,#2167a6 8px,#64a6d1 10px,#a7cde5 12px,#c7dcef 14px,#d5e5f4 30px,#c8ddef 34px,#9ec8e2 36px,#2e79b5 38px,#15579a 40px,#0b3e7e 40px,#083572 42px,#0a3c7b 42px,#135496 44px,#4e96c8 46px,#9dc8e2 48px,#c9def0 50px,#dbe9f6 54px,#d2e3f3 72px,#bad6eb 74px,#78b3d7 76px,#2872b0 78px,#114e8f 80px,#093774 80px,#083471 82px,#0d4586 84px,#2067a8 84px,#6aabd3 86px,#b1d2e8 88px,#dfebf7 92px,#f7f6f7 94px,#fedccc 106px,#fee4d8 112px,#f2f4f7 116px,#d2e3f3 118px,#b6d4ea 118px,#317eba 122px,#155b9f 122px,#0a3e7f 124px,#08306b 126px,#083471 128px,#1c66a9 130px,#7eb7d9 132px,#d6e6f4 136px,#f8f1ef 138px,#fdcbb7 140px,#fc9172 142px,#fb7b5b 144px,#f04231 168px,#ba141a 174px,#840711 176px,#70020e 178px,#6d010e 200px,#73030f 204px,#880812 204px,#b5141a 206px,#d01f20 206px,#dc2824 212px,#990c13 222px,#9b0d14 224px,#d42121 228px,#f5533b 248px,#fca082 254px,#fcb297 258px,#fcc1a9 274px,#fdd6c4 282px,#fbf2ee 286px,#e5eff9 288px,#81badb 294px,#7db8da 294px,#9ec9e2 296px,#d8e7f5 300px,#eaf3fb 304px,#e3eef8 330px,#c4dcee 332px,#6fafd6 336px,#5da4d0 336px,#5aa3cf 338px,#7fb8da 340px,#c4dbee 342px,#d4e4f4 346px,#c2daee 372px,#90c2de 374px,#3d8bc3 378px,#2575b7 380px,#2474b6 384px)"></i><i style="top:36px;height:3px;background:linear-gradient(90deg,#2068a8 0,#2068a8 4px,#0a3977 6px,#08316c 8px,#093672 8px,#2166a5 10px,#64a6d0 12px,#a8cde5 14px,#c7ddef 16px,#d5e5f4 32px,#c4dbee 36px,#95c3e0 38px,#256ead 40px,#093977 42px,#083573 44px,#0c4383 44px,#1b60a1 46px,#5ea2ce 48px,#aacee6 50px,#cee0f2 52px,#dbe9f6 60px,#d3e4f3 74px,#bfd9ed 76px,#83badb 78px,#317cb7 80px,#155698 80px,#0a3b79 82px,#08336f 84px,#0c4080 84px,#1b61a2 86px,#63a6d1 88px,#add0e7 90px,#deebf7 92px,#f7f6f7 96px,#fedccc 106px,#fee5d9 114px,#f0f3f8 116px,#cde1f1 118px,#aed1e7 120px,#2976b5 122px,#115397 124px,#093a79 124px,#08306b 126px,#093876 128px,#0f4f93 130px,#418ec4 132px,#acd0e6 134px,#eff2f7 138px,#fedbcc 140px,#fc8767 142px,#fb7050 150px,#f14432 168px,#bd151a 174px,#75030f 178px,#6b010e 198px,#76040f 204px,#900a13 204px,#bc161b 206px,#d22020 206px,#db2724 212px,#990c13 220px,#9d0d14 224px,#d01f20 228px,#f5513a 246px,#fb7757 250px,#fca588 254px,#fcb397 258px,#fcc1a9 274px,#fdd5c4 280px,#faf3f1 286px,#e4eef8 288px,#80badb 292px,#7db8da 294px,#a2cbe3 296px,#dae8f6 298px,#eaf3fb 304px,#e0ecf8 328px,#cce0f1 330px,#63a8d2 334px,#5aa2cf 336px,#74b2d7 338px,#bfd9ed 340px,#d4e4f4 344px,#c2daee 370px,#90c1de 372px,#3c8ac2 376px,#2474b6 378px,#418fc5 380px,#418fc5 384px)"></i><i style="top:39px;height:3px;background:linear-gradient(90deg,#6aabd3 0,#6aabd3 4px,#2b73af 6px,#0b3b78 8px,#08316c 10px,#0f4686 12px,#3f88bf 14px,#8abddd 16px,#bcd7ec 18px,#d1e2f3 22px,#d2e3f3 36px,#c0d9ed 38px,#8abedd 40px,#1d63a4 42px,#0d4586 44px,#093674 44px,#093877 46px,#246dac 48px,#97c4e0 50px,#c7ddef 52px,#dbe9f6 58px,#d5e5f4 74px,#c4dbee 76px,#8ec0de 78px,#3a85bd 80px,#1a5fa0 82px,#0b3f7f 82px,#08326e 84px,#08326d 84px,#0a3c7b 86px,#175a9b 86px,#5ca1ce 88px,#a9cee6 90px,#dceaf6 94px,#f6f7fa 96px,#fee1d3 104px,#feded0 112px,#f9f2f0 116px,#deebf7 118px,#a6cde5 120px,#4792c6 122px,#236eaf 124px,#0e4c8f 124px,#083674 126px,#08326e 128px,#0a3d7d 130px,#14599d 130px,#4d97c9 132px,#b7d5ea 136px,#e5eef7 138px,#f5f2f3 138px,#fdd0bd 140px,#fc9475 142px,#fb7b5b 144px,#f24633 168px,#bf151b 174px,#77040f 178px,#6a010d 196px,#78040f 204px,#c2191c 206px,#d72422 208px,#da2623 212px,#990c13 220px,#a00e15 224px,#d32020 228px,#f6553c 246px,#fca385 252px,#fcb297 256px,#fcc1a9 272px,#fdd5c4 280px,#faf3f1 284px,#e3eef8 286px,#7fb9da 292px,#7eb8da 292px,#d0e2f2 296px,#e9f2fb 300px,#e3eef8 326px,#c2dbee 330px,#6cadd5 332px,#5ca3d0 334px,#5ca4d0 334px,#85bcdc 336px,#b9d6eb 338px,#d2e3f3 342px,#c3daee 368px,#a8cee5 370px,#3c89c2 374px,#2474b6 376px,#3483bf 378px,#7ab6d9 380px,#7ab6d9 384px)"></i><i style="top:42px;height:3px;background:linear-gradient(90deg,#aed0e7 0,#aed0e7 4px,#77b2d7 6px,#2e76b2 8px,#0b3c7a 10px,#08316c 12px,#0f4685 14px,#3e87be 16px,#8abedd 18px,#bdd7ec 20px,#d1e2f3 24px,#d1e2f3 38px,#bcd7ec 40px,#7fb7d9 42px,#317bb7 44px,#16599a 44px,#0b3f7e 46px,#083572 46px,#0a3e7d 48px,#155799 48px,#559bcb 50px,#a4cce4 52px,#cce0f1 54px,#dbe9f6 62px,#d1e3f3 76px,#b7d5ea 78px,#6faed5 80px,#2168a8 82px,#0d4586 84px,#083470 84px,#08316d 86px,#0a3977 86px,#135395 88px,#559ccb 90px,#a5cce4 92px,#cfe1f2 94px,#f5f7fa 98px,#fee4d7 104px,#fedccd 112px,#fee6db 116px,#ebf2f8 118px,#c4dcee 120px,#6cacd4 122px,#1d66a8 124px,#0c4587 126px,#083471 126px,#083470 130px,#0c4486 130px,#3684be 132px,#a3cbe4 136px,#ecf1f7 138px,#fedfd2 140px,#fc896a 144px,#fb7858 146px,#f24835 168px,#c2161b 174px,#940b13 176px,#79040f 178px,#68000d 190px,#70020e 202px,#7b0510 204px,#c81c1e 206px,#d72422 208px,#d92523 212px,#990c13 220px,#9c0d14 224px,#d52221 228px,#f5523b 246px,#fc8a6b 250px,#fcb196 254px,#fcc1a8 272px,#fdd5c4 278px,#faf3f1 284px,#e2edf8 286px,#7eb9da 290px,#7fb9da 292px,#d2e4f3 296px,#e9f2fb 300px,#e0ecf8 326px,#cbdff1 328px,#61a6d1 332px,#5aa2cf 332px,#7ab6d9 334px,#c3dbee 338px,#d4e4f4 342px,#c3daee 366px,#a8cee5 368px,#3b89c1 372px,#2473b6 374px,#3684bf 376px,#9bc7e1 380px,#aacfe6 380px,#aacfe6 384px)"></i><i style="top:45px;height:3px;background:linear-gradient(90deg,#c7dcef 0,#c1d9ed 4px,#9cc7e2 6px,#559aca 8px,#175696 10px,#0b3d7b 12px,#08316c 14px,#0e4584 16px,#3e87be 18px,#8abedd 20px,#bdd8ec 22px,#d1e2f3 26px,#cfe1f2 40px,#b6d4ea 42px,#73b0d6 44px,#2770af 46px,#093978 48px,#093674 48px,#0d4586 50px,#1e64a5 50px,#66a7d1 52px,#b0d1e8 54px,#d0e2f2 56px,#dbe9f6 68px,#d3e4f3 78px,#bdd8ec 80px,#7bb5d8 82px,#2972b0 84px,#114d8e 84px,#093673 86px,#08316c 86px,#093673 88px,#104d8e 88px,#4e97c8 90px,#a0cae3 92px,#cde0f1 94px,#f5f6f9 98px,#fee6db 104px,#fedccd 112px,#fee7dc 116px,#e9f1f9 120px,#bed9ec 122px,#62a5d0 124px,#3582bc 124px,#175da1 126px,#0a3f80 126px,#08306b 128px,#083674 130px,#0e4d90 132px,#418dc3 134px,#aed1e7 136px,#f1f2f6 140px,#fdd4c3 142px,#fc9779 144px,#fc8263 144px,#f14331 168px,#c5171c 174px,#b61319 176px,#7b0510 178px,#6e020e 182px,#6e020e 200px,#70020e 202px,#7d0510 204px,#ca1d1e 206px,#dc2824 210px,#d11e1f 214px,#9a0c14 220px,#9e0d14 224px,#d11f20 226px,#f45039 244px,#fb7556 248px,#fca588 252px,#fcb398 256px,#fcc0a8 270px,#fdd5c4 278px,#f9f3f1 282px,#e1edf8 284px,#7eb8da 290px,#81badb 290px,#d5e5f4 294px,#eaf2fb 298px,#e2eef8 324px,#c1daed 326px,#69abd4 330px,#5ba3d0 330px,#5ea5d1 332px,#bed8ec 336px,#d3e4f3 338px,#c3daee 364px,#a8cee5 366px,#3a88c1 370px,#2373b6 372px,#3785bf 374px,#9dc9e2 378px,#bed8ec 380px,#bed8ec 384px)"></i><i style="top:48px;height:3px;background:linear-gradient(90deg,#c7dcef 0,#c2daee 6px,#a0c9e3 8px,#599dcb 10px,#195999 12px,#0c3e7d 14px,#08316c 16px,#0e4483 18px,#3e86bd 20px,#8bbedd 22px,#bed8ec 24px,#d1e2f3 28px,#cee0f2 42px,#afd1e8 44px,#67a8d1 46px,#1e65a5 48px,#0d4687 48px,#093674 50px,#093a78 50px,#124f91 52px,#4c94c7 54px,#9ec8e3 56px,#cbdff1 58px,#dbe9f6 62px,#d5e5f4 78px,#c2daee 80px,#87bcdc 82px,#317cb7 84px,#155597 86px,#0a3a78 86px,#08316d 88px,#083471 88px,#0e4787 90px,#236baa 90px,#73b0d6 92px,#b8d5ea 94px,#ecf4fb 98px,#ffeee6 102px,#fedccc 112px,#fee8dd 118px,#e6eff8 120px,#b7d5ea 122px,#589ecc 124px,#2d79b7 126px,#125599 126px,#093a79 128px,#08306b 130px,#093b7a 132px,#13569a 132px,#4c97c9 134px,#b9d6eb 138px,#e8eff7 140px,#f8f0ef 140px,#fdc8b3 142px,#fc8c6c 144px,#fb7a5a 146px,#f14532 168px,#c7181c 174px,#a00e15 176px,#800610 178px,#70020e 180px,#6d020e 200px,#70020e 202px,#7d0510 204px,#cb1e1f 206px,#dc2924 210px,#cf1c1f 214px,#990c13 220px,#a20e15 224px,#d42121 226px,#f5533c 244px,#fca385 250px,#fcb297 254px,#fcc0a8 270px,#fdd5c3 276px,#f9f3f1 282px,#e0ecf8 284px,#89bedd 288px,#7db8da 288px,#83bbdb 290px,#d7e6f5 294px,#eaf3fb 298px,#e0ecf8 322px,#cadff0 324px,#5fa5d1 328px,#5ba3d0 330px,#81b9db 332px,#b7d5ea 334px,#d2e3f3 336px,#c3daee 362px,#a8cee5 364px,#3987c0 368px,#2373b5 370px,#3886c0 372px,#a0cae3 376px,#bfd8ec 378px,#bfd8ed 384px)"></i><i style="top:51px;height:3px;background:linear-gradient(90deg,#bad6eb 0,#c5dbef 6px,#c4daee 8px,#a3cbe4 10px,#5da0cd 12px,#1b5c9b 14px,#0c407e 16px,#08316c 18px,#0e4383 20px,#3d86bd 22px,#8bbedd 24px,#bed8ec 26px,#d1e2f3 30px,#d2e3f3 42px,#bfd9ed 44px,#84badb 46px,#337eb8 48px,#185a9b 50px,#0b3f7f 50px,#093673 52px,#0b407f 52px,#185b9d 54px,#5da1ce 56px,#abcfe6 58px,#cfe1f2 60px,#dbe9f6 68px,#d1e2f3 80px,#b3d3e9 82px,#67a8d1 84px,#1a5e9f 86px,#0b3e7d 88px,#08326e 88px,#08336f 90px,#0c4281 90px,#1d64a4 92px,#6babd3 94px,#b5d4e9 96px,#e2eef8 98px,#fbf5f3 102px,#fedccc 112px,#fee3d6 118px,#f2f4f7 120px,#cfe2f2 122px,#afd1e8 124px,#2671b1 126px,#0f4e91 128px,#093775 128px,#08306b 130px,#08336f 132px,#0b4283 132px,#3582bd 134px,#a5cce4 138px,#eef1f6 140px,#fdd9c9 142px,#fc9b7d 144px,#fc8464 146px,#f24734 168px,#c9191d 174px,#a60f16 176px,#74030f 178px,#6c010e 198px,#70020e 202px,#7c0510 204px,#ca1e1f 206px,#da2723 208px,#d42121 212px,#990c13 220px,#9c0d14 222px,#cf1e1f 226px,#f5513a 244px,#fb795a 246px,#fca88b 250px,#fcb499 258px,#fdc5ae 270px,#fedccd 276px,#f9f3f1 280px,#e0ecf7 282px,#87bddc 286px,#7db8da 288px,#85bcdc 288px,#d9e7f5 292px,#eaf3fb 298px,#e2eef8 320px,#bfd9ed 324px,#66aad3 326px,#5ba3cf 328px,#61a7d1 328px,#c2daee 332px,#d4e4f4 336px,#c3daee 360px,#a8cee5 362px,#3886c0 366px,#2373b5 368px,#3987c1 370px,#a2cbe3 374px,#bfd8ed 376px,#b4d3e9 384px)"></i><i style="top:54px;height:3px;background:linear-gradient(90deg,#a6cde4 0,#add0e6 4px,#c8ddf0 10px,#bad6eb 12px,#88bcdc 14px,#3b83bb 16px,#0d4180 18px,#08316c 20px,#0d4282 22px,#3d85bc 24px,#8cbedd 26px,#bfd8ec 28px,#d1e2f3 32px,#d1e2f3 44px,#bad6eb 46px,#78b3d7 48px,#2972b0 50px,#125091 52px,#0a3a78 52px,#093775 54px,#0e4889 54px,#2168a8 56px,#98c5e1 58px,#c9def0 60px,#dbe9f6 66px,#d3e4f3 82px,#bad6eb 84px,#73b0d6 86px,#2168a8 88px,#0d4484 88px,#083470 90px,#08326e 90px,#0b3d7c 92px,#195c9d 92px,#64a6d1 94px,#b1d2e8 96px,#e1edf8 100px,#faf5f4 102px,#fedccc 112px,#fee4d7 118px,#f0f3f7 122px,#cbe0f1 124px,#a7cde5 124px,#448ec4 126px,#1f69aa 128px,#0d4789 128px,#083471 130px,#083573 132px,#0d4a8d 134px,#408cc3 136px,#b0d2e8 138px,#e3edf7 140px,#f4f2f3 142px,#fdcdba 144px,#fc8f70 146px,#fb7a5a 148px,#f34935 168px,#cb191d 174px,#ab1017 176px,#76040f 178px,#6b010d 196px,#70020e 202px,#7b0510 204px,#c91e1e 206px,#d92523 208px,#d92623 212px,#9a0c14 218px,#9e0d14 222px,#d22020 226px,#f6553d 244px,#fc9d7f 248px,#fcb297 252px,#fcc0a7 268px,#fdd5c3 274px,#f9f3f2 280px,#dfebf7 282px,#86bddc 286px,#7db8da 286px,#9ec9e2 288px,#dae9f6 292px,#eaf3fb 296px,#e0ecf8 320px,#c8def0 322px,#70b0d6 324px,#5da4d0 326px,#5da4d0 326px,#88bddc 328px,#bcd7ec 330px,#d3e4f3 334px,#c4daee 358px,#a8cee5 360px,#3785bf 364px,#2372b5 366px,#3b88c1 368px,#a4cce4 372px,#c0d8ed 374px,#a9cee5 380px,#a2cce3 384px)"></i><i style="top:57px;height:3px;background:linear-gradient(90deg,#94c5df 0,#99c7e0 4px,#c7dcef 10px,#bcd7ec 14px,#8cbedd 16px,#3e86bd 18px,#0e4382 20px,#08316c 22px,#0d4281 24px,#1e609e 24px,#64a6d0 26px,#abcfe6 28px,#cadef0 30px,#cfe1f2 46px,#b4d3e9 48px,#6cabd3 50px,#2067a7 52px,#0e4788 54px,#093775 54px,#0a3b7a 56px,#135394 56px,#539aca 58px,#a6cce5 60px,#cee1f2 62px,#dbe9f6 70px,#d4e5f4 82px,#c0d9ed 84px,#7fb7d9 86px,#2972af 88px,#104c8c 90px,#093673 90px,#08316d 92px,#0a3a78 92px,#155597 94px,#5da1ce 96px,#add0e7 98px,#e0ecf8 100px,#faf5f4 104px,#fedccc 114px,#fee4d8 120px,#fbf1ed 122px,#ddeaf6 124px,#c6ddef 124px,#6aaad3 126px,#3b86bf 128px,#1960a3 128px,#0b4081 130px,#08336f 130px,#08316c 132px,#093978 134px,#115497 134px,#4c96c8 136px,#bcd8ec 140px,#eaf0f6 142px,#faeee9 142px,#fdc0a9 144px,#fc8566 146px,#fa6648 158px,#f14331 170px,#c2161b 176px,#78040f 178px,#6b010d 196px,#79050f 204px,#c81d1e 206px,#d92623 208px,#d82422 212px,#990c13 218px,#a40f15 222px,#cc1c1e 224px,#f44d38 242px,#fa6d4e 244px,#fca386 248px,#fcb297 252px,#fcbfa7 266px,#fdd4c3 274px,#f9f3f2 278px,#deebf7 280px,#84bcdc 284px,#7db8da 286px,#a2cbe3 288px,#dceaf6 290px,#eaf3fb 296px,#e2eef8 318px,#d0e3f2 320px,#9ec9e3 322px,#63a8d2 324px,#5ba3d0 324px,#64a9d3 326px,#b5d4e9 328px,#cee1f2 330px,#c9ddf0 354px,#a8cee5 358px,#3684bf 362px,#2372b5 364px,#3c8ac2 366px,#a6cde4 370px,#c0d8ed 372px,#a6cde4 378px,#8fc2de 382px,#8fc2de 384px)"></i><i style="top:60px;height:3px;background:linear-gradient(90deg,#91c3de 0,#97c6e0 6px,#c6dcef 12px,#bed8ec 16px,#90c1de 18px,#428abf 20px,#0f4584 22px,#08316c 24px,#0d4180 26px,#1d5f9e 26px,#65a6d0 28px,#accfe6 30px,#cadef0 32px,#d3e3f3 48px,#c2daee 50px,#8abddc 52px,#3680ba 54px,#195b9c 54px,#0b407f 56px,#093674 56px,#0c4281 58px,#1b5fa0 58px,#65a6d0 60px,#b2d2e9 62px,#d1e3f3 64px,#dbe9f6 78px,#d0e2f2 84px,#afd1e8 86px,#5da1ce 88px,#155495 90px,#0a3977 92px,#08316d 92px,#093774 94px,#124f90 94px,#2c76b3 96px,#83b9da 98px,#c2daee 100px,#f1f6fa 104px,#ffece3 108px,#fedccc 116px,#fee5d9 120px,#ecf1f8 124px,#c0d9ed 126px,#60a3cf 128px,#327eb9 128px,#14589b 130px,#0a3b7a 130px,#08306b 132px,#08326e 134px,#0b3f7f 134px,#185ea1 136px,#589fcd 138px,#c7ddef 140px,#f0f2f5 142px,#fbe9e1 144px,#fc9273 146px,#fb7b5b 148px,#f24633 170px,#c5171c 176px,#b51319 176px,#79040f 178px,#6a010d 188px,#71020e 202px,#78040f 204px,#980d15 204px,#c71d1e 206px,#da2623 208px,#d62322 212px,#990c13 218px,#9d0d14 222px,#d01f20 224px,#f45039 242px,#fb7858 244px,#fca88c 248px,#fcb59a 256px,#fcc4ad 268px,#fedccc 274px,#f8f3f2 278px,#ddeaf6 280px,#83bbdb 284px,#7eb8da 284px,#a6cde5 286px,#d2e4f3 288px,#eaf2fb 292px,#e0ecf7 316px,#c7ddef 318px,#6daed5 322px,#5ca4d0 322px,#5fa5d1 324px,#c1d9ed 328px,#d4e4f4 332px,#c4dbee 354px,#a8cee5 356px,#3583be 360px,#2372b5 362px,#3e8bc3 364px,#a8cee5 368px,#c0d8ed 370px,#a4cce3 376px,#87bedc 380px,#87bedc 384px)"></i><i style="top:63px;height:3px;background:linear-gradient(90deg,#9fcae2 0,#9ac7e0 4px,#91c3de 8px,#c8ddf0 16px,#c0d9ed 18px,#94c3df 20px,#468dc1 22px,#104786 24px,#093572 24px,#09336f 26px,#0d417f 28px,#1d5e9d 28px,#65a5d0 30px,#accfe7 32px,#cadef0 34px,#d2e3f3 50px,#bed8ec 52px,#7eb6d9 54px,#2c74b1 56px,#135192 56px,#0a3a79 58px,#093876 58px,#104b8c 60px,#256dac 60px,#77b2d6 62px,#bcd7ec 64px,#d8e7f5 68px,#d7e6f5 84px,#c9def0 86px,#b7d5ea 88px,#6aaad2 90px,#1a5d9e 92px,#0b3d7c 92px,#08326e 94px,#093571 94px,#0f4889 96px,#266ead 96px,#7cb5d8 98px,#bfd9ed 100px,#f1f5fa 104px,#ffece3 108px,#fedccc 116px,#fee6da 122px,#f8f2f1 124px,#d6e6f4 126px,#b9d6eb 126px,#559ccb 128px,#2a75b3 130px,#105093 130px,#093775 132px,#08306b 134px,#083471 134px,#0d4789 136px,#3f8bc2 138px,#b3d3e9 140px,#e6eef6 142px,#f7f0ee 144px,#fde1d5 144px,#fc8768 148px,#fb7353 152px,#f24834 170px,#c7181c 176px,#b81419 176px,#7b0510 178px,#6e020e 182px,#6f020e 200px,#77040f 204px,#940d14 204px,#c61d1e 206px,#d72422 206px,#db2723 210px,#9b0c14 218px,#9f0e15 222px,#d32020 224px,#f5543c 242px,#fc9d7f 246px,#fcb297 250px,#fcc1a9 266px,#fdd4c2 272px,#f7f4f5 276px,#c8def0 280px,#81badb 282px,#7fb9da 284px,#d5e5f4 288px,#eaf3fb 292px,#e2eef8 314px,#cfe2f2 316px,#9bc7e2 318px,#61a7d1 320px,#5ca3d0 322px,#83bbdb 324px,#bad6eb 326px,#d3e4f3 328px,#c4dbee 352px,#a8cee5 354px,#3483be 358px,#2372b5 360px,#3f8cc3 362px,#95c4e0 364px,#b7d5ea 366px,#bed8ec 370px,#87bedc 378px,#91c3de 384px)"></i><i style="top:66px;height:3px;background:linear-gradient(90deg,#b2d2e8 0,#acd0e6 4px,#8fc2de 10px,#c8dcf0 18px,#c1d9ed 20px,#98c5e1 22px,#4a90c3 24px,#114988 26px,#093673 26px,#09336f 28px,#0d407f 30px,#1d5d9c 30px,#65a5d0 32px,#add0e7 34px,#cbdef0 36px,#d1e2f3 52px,#b8d5ea 54px,#71aed5 56px,#2269a8 58px,#0e4888 58px,#093775 60px,#0a3d7c 60px,#155698 62px,#5b9fcd 64px,#add0e7 66px,#d0e2f2 68px,#dbe9f6 78px,#d4e4f4 86px,#bed8ec 88px,#76b2d7 90px,#2167a7 92px,#0d4383 94px,#083370 94px,#08336f 96px,#0d4383 96px,#2067a7 98px,#74b1d6 100px,#bcd7ec 102px,#f0f5fb 106px,#ffece3 110px,#fedccd 118px,#fee6db 122px,#e6eff8 126px,#b1d2e8 128px,#4b93c6 130px,#236cac 130px,#0d488a 132px,#083572 132px,#08316c 134px,#093876 136px,#105194 136px,#4b95c8 138px,#bfd9ed 142px,#edf1f6 144px,#fbebe5 144px,#fcb69d 146px,#fc9677 148px,#fc8162 148px,#f04231 170px,#bb141a 176px,#7c0510 178px,#70020e 180px,#6e020e 200px,#76040f 204px,#910c14 204px,#c51d1e 206px,#d72522 206px,#d92623 210px,#990c13 218px,#9b0d14 220px,#ce1e1f 224px,#f5513a 240px,#fb7d5d 244px,#fcab8f 248px,#fcc4ad 266px,#fedccc 272px,#f6f4f5 276px,#c6ddef 278px,#80badb 282px,#80badb 282px,#d7e6f5 286px,#eaf3fb 290px,#dfecf7 314px,#c5dcef 316px,#69acd4 318px,#5ca3d0 320px,#62a7d2 320px,#c5dbee 324px,#d4e4f4 328px,#c4dbee 350px,#a8cee5 352px,#3382bd 356px,#2372b5 358px,#418ec4 360px,#98c6e0 362px,#b8d5ea 364px,#bed7ec 368px,#87bddc 376px,#a5cde4 382px,#a5cde4 384px)"></i><i style="top:69px;height:3px;background:linear-gradient(90deg,#bed8ec 0,#b5d4e9 6px,#8fc2de 12px,#c7dcef 20px,#c3daee 22px,#9cc7e2 24px,#4e94c5 26px,#296fab 26px,#134c8b 28px,#0a3774 28px,#09336f 30px,#0d407e 32px,#1c5c9b 32px,#65a5d0 34px,#add0e7 36px,#cbdff1 38px,#cfe1f2 54px,#b1d2e8 56px,#64a5d0 58px,#1a5d9e 60px,#0c4080 60px,#093775 62px,#0d4484 62px,#1e63a3 64px,#6dacd3 66px,#b9d6eb 68px,#d3e4f3 70px,#d9e7f5 86px,#c3dbee 90px,#abcfe6 90px,#549aca 92px,#2a72af 94px,#104a8b 94px,#093572 96px,#08326e 96px,#0b3e7d 98px,#1c5fa0 98px,#6dacd4 100px,#b9d6eb 102px,#e6f0f9 106px,#ffefe8 110px,#fedccc 118px,#fee7dc 124px,#f4f3f4 126px,#cde1f1 128px,#a8cde6 128px,#408bc1 130px,#1c63a5 132px,#0b4282 132px,#08336f 134px,#08326d 136px,#0a3d7c 136px,#165b9f 138px,#589fcd 140px,#c9dff0 142px,#f4f1f2 144px,#fce5db 146px,#fc8a6b 148px,#fb7757 152px,#f14432 170px,#be151a 176px,#7d0510 178px,#70020e 180px,#6d010e 198px,#75030f 204px,#8f0b13 204px,#c41d1e 206px,#d82523 206px,#d82522 210px,#990c13 218px,#9d0d14 220px,#d21f20 224px,#f44f39 240px,#fb7657 242px,#fca98c 246px,#fcb59a 256px,#fdc9b3 266px,#fee9de 272px,#eaf1f9 276px,#abcfe6 278px,#7fb9da 280px,#82bbdb 282px,#d9e8f5 286px,#eaf3fb 290px,#e2eef8 312px,#cee1f2 314px,#97c5e1 316px,#5fa6d1 318px,#5da4d0 318px,#8bbfdd 320px,#bfd9ed 322px,#d3e4f3 326px,#c4dbee 348px,#a8cee5 350px,#3281bd 354px,#2372b5 356px,#438fc5 358px,#9bc7e1 360px,#b9d6eb 362px,#bdd7ec 366px,#87bddc 372px,#98c6e0 376px,#b5d4e9 380px,#b5d4e9 384px)"></i><i style="top:72px;height:3px;background:linear-gradient(90deg,#bcd7ec 0,#b8d5ea 8px,#8ec1de 14px,#a6cde4 18px,#c7dcef 22px,#c4daee 24px,#a0c9e3 26px,#5297c7 28px,#2c72ae 28px,#144e8d 30px,#0a3875 30px,#08336f 32px,#0c3f7d 34px,#1c5c9a 34px,#65a5d0 36px,#aed0e7 38px,#cbdff1 40px,#d3e3f3 54px,#c1daed 56px,#83b9da 58px,#2e77b3 60px,#145293 62px,#0a3b79 62px,#093977 64px,#124e8f 64px,#2a72af 66px,#80b7d9 68px,#c2daee 70px,#d9e7f5 72px,#d7e6f5 88px,#c8ddf0 90px,#b3d3e9 92px,#60a3cf 94px,#337cb7 94px,#155394 96px,#0a3876 96px,#08326e 98px,#0a3b79 98px,#175899 100px,#65a7d1 102px,#b5d4e9 104px,#e5eff9 106px,#ffefe8 110px,#fedccc 118px,#fee2d5 124px,#f1f3f7 126px,#c8def0 128px,#69a9d2 130px,#3782bc 132px,#165a9d 132px,#0a3c7b 134px,#08306b 136px,#083470 136px,#0c4586 138px,#1e67a9 138px,#91c2df 142px,#d3e4f3 144px,#e9eff6 144px,#f9ede9 146px,#fdbba3 148px,#fc997c 148px,#fc8363 150px,#f24733 170px,#c1161b 176px,#a70f16 178px,#7f0610 178px,#70020e 180px,#6d010e 198px,#74030f 204px,#8c0b13 204px,#c31d1e 206px,#d82523 206px,#d72322 210px,#990c13 218px,#a00e15 220px,#ca1b1e 222px,#ed3a2c 234px,#f85e43 240px,#fc9d7f 244px,#fcb297 248px,#fcc1a8 262px,#fdd4c2 268px,#f6f4f5 274px,#c3dbee 276px,#8ec1de 278px,#7fb9da 280px,#84bcdb 280px,#cde0f1 284px,#e8f1fa 286px,#e4eff9 310px,#d5e5f4 312px,#a6cde5 314px,#66aad3 316px,#5ca3d0 316px,#65a9d3 318px,#b8d5ea 320px,#d0e2f2 322px,#c5dbef 346px,#a9cee5 348px,#3280bc 352px,#2372b4 354px,#4591c6 356px,#9dc8e2 358px,#bad6eb 360px,#bcd7eb 364px,#86bddc 370px,#9ac8e1 374px,#b9d5ea 380px,#b8d5ea 384px)"></i><i style="top:75px;height:3px;background:linear-gradient(90deg,#abd0e6 0,#b2d2e8 4px,#bed7ec 8px,#8ec1de 16px,#a3cce3 20px,#c6dcef 24px,#bad6eb 26px,#81b8d9 28px,#2f75b0 30px,#155190 32px,#0b3976 32px,#08336e 34px,#0c3e7c 36px,#1b5b99 36px,#65a5cf 38px,#aed0e7 40px,#cbdff1 42px,#d2e3f3 56px,#bcd7ec 58px,#77b1d6 60px,#246ba9 62px,#0f4889 64px,#093876 64px,#0b3e7e 66px,#185a9b 66px,#64a5d0 68px,#b4d3e9 70px,#d3e4f3 72px,#dae8f6 88px,#ccdff1 92px,#bbd7eb 92px,#6dacd3 94px,#1a5d9d 96px,#0b3d7b 98px,#08326e 98px,#093775 100px,#135192 100px,#317ab5 102px,#8cbfdd 104px,#c9def0 106px,#f7f6f7 110px,#fedccc 120px,#fee3d6 124px,#fbf0eb 126px,#dceaf6 128px,#c1dbee 130px,#5da1ce 132px,#2e79b6 132px,#115295 134px,#093876 134px,#08306c 136px,#093674 138px,#0f4e91 138px,#4b95c8 140px,#c2dbed 144px,#f0f1f5 146px,#fbe8e0 146px,#fc8d6e 150px,#fb7a5a 152px,#f34935 170px,#cf1d1f 176px,#ab1017 178px,#800611 178px,#70020e 180px,#6d010e 198px,#73030f 204px,#8a0a13 204px,#c31d1e 206px,#d92623 206px,#d52221 210px,#9a0c14 216px,#9c0d14 220px,#d01f20 222px,#f45039 238px,#fb7b5b 242px,#fcab8f 246px,#fcc3ac 262px,#fedbcc 268px,#f5f4f5 272px,#c1daed 276px,#8cc0dd 278px,#7fb9da 278px,#86bddc 280px,#d0e2f2 282px,#e8f2fa 286px,#e2eef8 308px,#cde1f1 310px,#71b0d6 314px,#5ea5d1 314px,#5fa6d1 316px,#c4dbee 320px,#d4e4f4 324px,#c5dbef 344px,#a9cee5 346px,#317fbc 350px,#2372b4 352px,#4792c6 354px,#a0cae3 356px,#bbd6eb 358px,#bbd6eb 362px,#85bcdc 368px,#b8d5ea 376px,#acd0e6 384px)"></i><i style="top:78px;height:3px;background:linear-gradient(90deg,#93c4df 0,#9bc8e1 4px,#bed8ec 10px,#a5cde4 14px,#8dc1dd 18px,#c8dcf0 26px,#bcd7ec 28px,#85badb 30px,#3379b2 32px,#175392 34px,#0b3b78 34px,#08326e 36px,#0c3e7c 38px,#1b5a98 38px,#65a5cf 40px,#afd1e8 42px,#ccdff1 44px,#d1e2f2 58px,#b6d4ea 60px,#69a9d2 62px,#1c5f9f 64px,#0c4180 66px,#093876 66px,#0e4687 68px,#2268a7 68px,#76b1d6 70px,#bed8ed 72px,#d9e7f5 76px,#d5e5f4 92px,#c1daed 94px,#a5cce5 94px,#4991c4 96px,#2167a6 98px,#0d4282 98px,#08336f 100px,#093572 100px,#104a8a 102px,#2a72af 102px,#85bbdb 104px,#c6ddef 106px,#f6f6f7 110px,#fedccc 120px,#fee4d7 126px,#faf1ed 128px,#d8e8f5 130px,#bad7eb 130px,#5299c9 132px,#2670af 134px,#0e4a8c 134px,#083572 136px,#08316d 138px,#0a3b7a 138px,#15599c 140px,#589fcd 142px,#cce0f1 144px,#f7efee 146px,#fde0d3 148px,#fc9d80 150px,#fc8464 150px,#f7593f 166px,#f14331 172px,#c7181c 176px,#af1118 178px,#810611 178px,#71030e 180px,#6d010e 198px,#73030f 204px,#890a13 204px,#c31e1e 206px,#d92623 206px,#d32020 210px,#990c13 216px,#9e0d14 220px,#d32020 222px,#f5543c 238px,#fca083 244px,#fcb297 248px,#fcc0a8 260px,#fedbcc 268px,#f5f4f5 272px,#bfd9ed 274px,#8abfdd 276px,#7eb9da 278px,#89bedd 278px,#d2e4f3 282px,#e9f2fa 284px,#e4eff9 306px,#d4e5f4 308px,#a3cbe4 310px,#64a8d2 312px,#5da4d0 314px,#6aacd4 314px,#bed8ec 318px,#d3e4f3 320px,#c5dbef 342px,#a9cee5 344px,#307ebb 348px,#2372b5 350px,#4994c7 352px,#a2cbe3 354px,#bcd7ec 356px,#b9d6eb 360px,#86bddc 366px,#8dc1dd 368px,#b8d5ea 374px,#a5cde4 378px,#93c4df 382px,#93c4df 384px)"></i><i style="top:81px;height:3px;background:linear-gradient(90deg,#86bddc 0,#8ec1dd 6px,#bed7ec 12px,#b0d2e7 16px,#8cc0dd 20px,#a8cee5 24px,#c8dcf0 28px,#bed8ec 30px,#8abddc 32px,#377db5 34px,#195695 36px,#0c3c79 36px,#08326e 38px,#0c3d7b 40px,#1a5998 40px,#65a5cf 42px,#b0d1e8 44px,#ccdff1 46px,#cfe1f2 60px,#aed0e7 62px,#5b9fcc 64px,#3179b4 66px,#155394 66px,#0a3b7a 68px,#0a3b79 68px,#145192 70px,#2f77b3 70px,#89bcdc 72px,#afd1e8 74px,#d2e3f3 76px,#dbe9f6 90px,#d1e3f3 94px,#afd1e8 96px,#569bca 98px,#2a72ae 98px,#104989 100px,#093572 100px,#083470 102px,#0e4584 102px,#246ba9 104px,#7eb6d9 106px,#c3dbee 108px,#f5f6f9 112px,#fee4d7 118px,#fedccd 124px,#feebe2 128px,#e9f0f7 130px,#b2d3e9 132px,#4790c4 134px,#1f67a7 134px,#0c4383 136px,#08336f 136px,#08336f 138px,#0c4282 140px,#1c64a6 140px,#67a9d2 142px,#b8d6ea 144px,#ecf0f5 146px,#faeae4 148px,#fcb197 150px,#fc9071 150px,#fb7a5a 152px,#f14533 172px,#c9191d 176px,#b11218 178px,#820611 178px,#72030e 180px,#6c010e 198px,#72030f 204px,#880a13 204px,#c31e1e 206px,#d92723 206px,#d82523 210px,#990c13 216px,#a20e15 220px,#cd1d1f 222px,#f5513a 238px,#fb8060 240px,#fcae92 244px,#fcc2ab 260px,#fedbcb 266px,#f5f3f5 270px,#bdd8ec 274px,#88bedc 276px,#7fb9da 276px,#8cc0dd 278px,#d5e5f4 280px,#eaf3fb 284px,#e2edf8 306px,#cce0f1 308px,#6eaed5 310px,#5da4d0 312px,#62a7d2 312px,#b6d4ea 316px,#d0e2f2 318px,#c5dbef 340px,#a9cee5 342px,#2f7dbb 346px,#2271b4 346px,#3280bd 348px,#a4cce4 352px,#bfd8ed 356px,#9bc8e1 360px,#84bcdb 364px,#b7d5ea 372px,#aacfe5 376px,#80b9da 380px,#80b9da 384px)"></i><i style="top:84px;height:3px;background:linear-gradient(90deg,#92c3de 0,#8abfdd 8px,#bfd8ec 14px,#a1cbe2 20px,#8cc0dd 24px,#c7dcef 30px,#c0d8ed 32px,#8fbfde 34px,#3a80b8 36px,#1b5997 38px,#0c3d7b 38px,#08326e 40px,#0c3d7b 42px,#1a5897 42px,#65a5cf 44px,#b0d1e8 46px,#ccdff1 48px,#d3e3f3 62px,#c0d9ed 64px,#a5cce5 64px,#4e94c6 66px,#266dab 68px,#10498a 68px,#093977 70px,#0c4080 70px,#1c5e9e 72px,#6cabd3 74px,#bbd7eb 76px,#d5e5f4 78px,#d8e7f5 94px,#cbdff0 96px,#b7d5ea 96px,#63a5d0 98px,#347db7 100px,#155292 100px,#0a3875 102px,#08336f 102px,#0c3f7e 104px,#1e63a2 104px,#76b2d6 106px,#a2cbe4 108px,#d3e4f3 110px,#f4f6f9 112px,#fee4d7 118px,#feddcd 124px,#fdece5 128px,#e6eff8 130px,#cfe2f2 132px,#a9cee6 132px,#3d87bf 134px,#185da0 136px,#0a3d7c 136px,#08306b 138px,#083573 140px,#0e4b8d 140px,#4a94c7 142px,#c5dcee 146px,#f3f1f2 148px,#fce4d9 148px,#fca285 150px,#fc8666 152px,#fb6d4d 158px,#f24834 172px,#cb1a1e 176px,#b21219 178px,#820711 178px,#72030e 180px,#6c010e 198px,#72030e 204px,#870a13 204px,#c21d1e 206px,#d92723 206px,#d72422 210px,#9a0c14 216px,#9c0d14 218px,#d11f20 222px,#f44f39 236px,#fb795a 240px,#fca486 242px,#fcb397 246px,#fcbfa7 258px,#fedbcb 266px,#f4f3f5 270px,#bbd7eb 272px,#86bddc 274px,#7fb9da 276px,#abcfe6 278px,#d7e7f5 280px,#eaf3fb 284px,#dfebf7 304px,#bfd9ed 306px,#62a7d2 310px,#5ea5d1 310px,#8ec0de 312px,#c2daee 314px,#d4e4f4 318px,#c5dbef 338px,#a9cee6 340px,#2e7cba 344px,#2270b3 344px,#3482bd 346px,#a7cde5 350px,#bfd8ed 354px,#98c6e0 358px,#83bbdb 362px,#9cc8e1 366px,#b8d5ea 370px,#a6cde4 374px,#7eb8da 378px,#83bbdb 384px)"></i><i style="top:87px;height:3px;background:linear-gradient(90deg,#aacfe5 0,#a3cce3 4px,#86bddc 8px,#a0cae2 12px,#bed8ec 16px,#add1e6 20px,#8cc0dd 24px,#97c6e0 28px,#c7dcef 32px,#c1d9ed 34px,#93c2df 36px,#3e84ba 38px,#1d5c9a 40px,#0d3f7d 40px,#08326e 42px,#0c3c7a 44px,#1a5896 44px,#65a5cf 46px,#b1d2e8 48px,#cce0f1 50px,#d2e3f3 64px,#bad6eb 66px,#6facd3 68px,#1d60a0 70px,#0d4281 70px,#093977 72px,#10498a 72px,#266dab 74px,#80b7d9 76px,#a9cee6 76px,#d1e2f3 78px,#dbe9f6 90px,#cee1f2 96px,#bed8ec 98px,#9fc9e3 98px,#3f88be 100px,#1a5c9c 102px,#0b3c7a 102px,#08336f 104px,#0b3b7a 104px,#1a5b9b 106px,#6fadd4 108px,#bdd8ec 110px,#f4f6f9 114px,#fee7dc 118px,#fedccd 124px,#fee6da 128px,#f4f2f4 130px,#cadff0 132px,#9fc9e3 134px,#337db9 136px,#135497 136px,#093977 138px,#08316c 140px,#093978 140px,#135699 142px,#589fcd 144px,#cfe2f2 146px,#e8eef5 148px,#f9ede8 148px,#fdd9ca 150px,#fc9475 152px,#fc8061 152px,#f34a36 172px,#cd1c1f 176px,#b41319 178px,#830711 178px,#72030e 180px,#6c010e 198px,#72030e 204px,#850812 204px,#bc191c 206px,#d82523 206px,#d52221 210px,#990c13 216px,#9f0d14 218px,#d42121 222px,#f5533b 236px,#fca183 242px,#fcb297 246px,#fcbfa6 258px,#fedbcb 264px,#f4f3f5 268px,#b8d6ea 272px,#84bcdc 274px,#80badb 274px,#d9e8f5 278px,#eaf3fb 282px,#e2edf8 302px,#cadff0 304px,#6aacd4 308px,#5da4d0 308px,#66aad3 310px,#bcd7ec 312px,#d3e4f3 316px,#c6dbef 336px,#a9cee6 338px,#2d7bba 342px,#2170b3 342px,#3583be 344px,#92c2df 348px,#b7d5ea 350px,#bbd7eb 352px,#85bcdc 358px,#8bc0dd 362px,#b6d4e9 366px,#abcfe6 370px,#7eb9da 376px,#89bfdd 378px,#9bc8e1 382px,#9bc8e1 384px)"></i><i style="top:90px;height:3px;background:linear-gradient(90deg,#bad6eb 0,#b1d2e8 6px,#86bddc 10px,#90c2de 14px,#bcd7ec 18px,#b0d2e7 22px,#8abfdd 28px,#abcfe6 32px,#c7dcef 36px,#b4d3e9 38px,#6fabd3 40px,#205f9d 42px,#0e417f 42px,#08326e 44px,#0c3c79 46px,#195795 46px,#65a5cf 48px,#b1d2e8 50px,#cde0f1 52px,#d0e2f2 66px,#b3d3e9 68px,#60a2ce 70px,#347cb6 70px,#165595 72px,#0a3c7b 72px,#0a3c7b 74px,#165596 74px,#357db6 76px,#92c1df 78px,#b6d4ea 78px,#d4e4f4 80px,#d7e6f5 96px,#c4dbee 98px,#aacee6 100px,#4c92c5 102px,#2266a5 102px,#0d4180 104px,#08336f 104px,#0a3875 106px,#155394 106px,#367fb8 108px,#97c4e0 110px,#cfe2f2 112px,#f3f6f9 114px,#fee7dc 120px,#fedccd 126px,#fee7dc 130px,#f1f3f6 132px,#c3dcee 134px,#5b9fcc 136px,#2a74b2 136px,#0f4c8e 138px,#083573 138px,#08326e 140px,#0b3f7f 142px,#1b62a3 142px,#67a9d2 144px,#bbd7eb 146px,#eff0f4 148px,#fbe7de 150px,#fc8869 152px,#fb7656 156px,#f14432 172px,#d01e1f 176px,#b6141a 178px,#830711 178px,#72030e 180px,#6c010e 198px,#72030e 204px,#7f0610 204px,#d32421 206px,#da2723 208px,#990c13 216px,#a50f15 218px,#cf1e1f 220px,#f45039 236px,#fb7e5f 238px,#fcae92 242px,#fcc2aa 258px,#fedbcb 264px,#f3f3f5 268px,#b6d5ea 270px,#83bbdb 272px,#82badb 274px,#cce0f1 276px,#e8f1fa 280px,#e4eff9 300px,#d3e4f3 302px,#9bc7e2 304px,#60a6d1 306px,#60a6d1 308px,#c6dcef 312px,#d4e4f4 316px,#c6dcef 334px,#a9cee6 336px,#2c7ab9 340px,#2170b3 340px,#2573b5 342px,#539bcb 344px,#abcfe6 346px,#bfd8ec 350px,#83bbdb 356px,#8dc1dd 360px,#b7d5ea 364px,#a7cde4 368px,#7db8da 374px,#99c7e0 378px,#b1d2e8 382px,#b1d2e8 384px)"></i><i style="top:93px;height:3px;background:linear-gradient(90deg,#b4d3e9 0,#b5d4e9 8px,#84bcdb 14px,#a0cae2 18px,#bed8ec 22px,#aacfe5 26px,#8abfdd 30px,#9cc8e1 32px,#c5dbef 36px,#c4daee 38px,#9cc7e2 40px,#478cbf 42px,#2263a0 44px,#0e4381 44px,#093470 46px,#0b3b79 48px,#195694 48px,#65a5cf 50px,#b2d2e9 52px,#cde0f1 54px,#cfe1f2 68px,#abcee6 70px,#5297c8 72px,#286fac 72px,#114a8b 74px,#0a3978 74px,#0d4382 76px,#1f63a2 76px,#76b0d6 78px,#a3cae4 80px,#c0daed 80px,#d9e8f5 84px,#d3e4f3 98px,#b3d3e9 100px,#599dcb 102px,#2b72ae 104px,#104988 104px,#093571 106px,#093673 106px,#124c8c 108px,#2f77b2 108px,#90c0de 110px,#cde0f1 112px,#f2f6fa 116px,#feeae0 120px,#fedccc 126px,#fee8dd 130px,#eff2f6 132px,#bcd8ec 134px,#4f96c7 136px,#226aaa 138px,#0d4485 138px,#083370 140px,#083471 142px,#0e488a 142px,#246ead 144px,#a3cbe4 146px,#e3ecf5 148px,#f6efed 150px,#fdded1 150px,#fc987a 152px,#fc8262 154px,#f24633 172px,#d22020 176px,#b8151a 178px,#840711 178px,#72030e 180px,#6c010e 198px,#7a050f 204px,#cd2321 206px,#dc2924 208px,#bd151a 212px,#9b0c14 214px,#9d0d14 218px,#d22020 220px,#f6553d 236px,#fca486 240px,#fcb397 244px,#fcc1a9 256px,#fedacb 262px,#f2f4f7 266px,#b4d3e9 270px,#82badb 272px,#83bbdb 272px,#cfe2f2 276px,#e9f2fa 278px,#e2edf8 300px,#c8def0 302px,#67abd3 304px,#5ea5d0 306px,#6badd4 306px,#c1daed 310px,#d4e4f4 312px,#c6dcef 332px,#a9cee6 334px,#2b7ab9 338px,#216fb2 338px,#2574b5 340px,#569dcc 342px,#98c5e0 344px,#bad6eb 346px,#b9d5ea 348px,#81badb 354px,#90c2de 358px,#b8d5ea 362px,#a2cbe3 366px,#7db8da 370px,#89bedc 374px,#b3d3e8 378px,#b2d2e8 384px)"></i><i style="top:96px;height:3px;background:linear-gradient(90deg,#99c7e0 0,#a1cbe3 4px,#bad6eb 8px,#94c4df 14px,#84bcdb 16px,#bdd7ec 24px,#add0e6 28px,#8abfdd 32px,#98c7e0 34px,#c4daee 38px,#c5dbef 40px,#a0c9e3 42px,#4b90c2 44px,#2566a2 46px,#0f4483 46px,#093471 48px,#0b3b78 50px,#195593 50px,#65a4cf 52px,#b3d2e9 54px,#cde0f1 56px,#d3e3f3 68px,#bed8ec 70px,#a1c9e3 72px,#448bc0 74px,#1f62a1 74px,#0d4282 76px,#0a3a78 76px,#124d8d 78px,#2c72af 78px,#89bcdc 80px,#b1d2e8 82px,#d3e4f3 84px,#d8e7f5 98px,#cde0f1 100px,#bbd7eb 102px,#99c5e1 102px,#357db6 104px,#155191 106px,#0a3774 106px,#093471 108px,#0f4686 108px,#286fac 110px,#89bcdc 112px,#b1d2e8 112px,#dbe9f6 114px,#faf5f3 118px,#fedccc 126px,#fee2d5 130px,#faf0ec 132px,#d7e7f4 134px,#b4d3e9 136px,#448cc2 138px,#1b61a2 138px,#0b3e7d 140px,#08326d 140px,#093876 142px,#125395 144px,#589ecd 146px,#b1d2e8 148px,#eaeff5 150px,#fae9e3 150px,#fc8b6c 154px,#fb7959 156px,#f24935 172px,#d42221 176px,#ba161b 178px,#840711 178px,#72030e 180px,#6c010e 198px,#75030f 204px,#8f0c14 206px,#c82220 206px,#dc2924 208px,#ac1117 212px,#990c13 216px,#9f0e15 218px,#cb1c1e 220px,#f14331 232px,#f75d42 236px,#fca183 240px,#fcb296 242px,#fcc1a9 256px,#fedacb 262px,#fbf0eb 264px,#e1edf7 266px,#81badb 270px,#86bcdc 272px,#d2e4f3 274px,#e9f2fb 278px,#e4eff9 298px,#d1e3f3 300px,#97c5e1 302px,#73b1d7 302px,#5fa5d1 304px,#63a8d2 304px,#bad6eb 308px,#d1e2f3 310px,#c6dcef 330px,#a9cee6 332px,#2a79b8 336px,#206fb2 336px,#2675b6 338px,#599fcd 340px,#9ac7e1 342px,#bbd6eb 344px,#b7d5ea 346px,#80badb 352px,#9ec9e2 356px,#b8d5ea 360px,#9cc8e1 364px,#7cb7da 368px,#9ac7e0 372px,#b4d3e9 376px,#9bc8e1 382px,#9bc8e1 384px)"></i><i style="top:99px;height:3px;background:linear-gradient(90deg,#7fb9da 0,#85bcdc 4px,#bad6eb 10px,#a4cce4 14px,#83bbdb 18px,#a0cae2 22px,#bed8ec 26px,#a6cde4 30px,#89bedc 34px,#c7dcef 42px,#bbd6eb 44px,#a4cbe4 44px,#5093c4 46px,#286aa5 48px,#114684 48px,#093571 50px,#0b3a77 52px,#195593 52px,#65a4cf 54px,#b3d3e9 56px,#cde0f1 58px,#d2e3f3 70px,#b7d5ea 72px,#66a6d0 74px,#377fb7 76px,#175696 76px,#0b3d7c 78px,#0b3e7d 78px,#195999 80px,#3b82ba 80px,#9bc6e2 82px,#bdd8ec 84px,#d6e5f4 86px,#d6e6f4 100px,#c2daee 102px,#a4cbe4 104px,#4188be 106px,#1a5b9b 106px,#0b3b79 108px,#083370 108px,#0d417f 110px,#2266a5 110px,#81b8da 112px,#accfe7 114px,#d9e8f5 116px,#faf5f3 118px,#fedccc 126px,#fee3d6 132px,#f8f1ef 134px,#d2e4f3 136px,#aacfe6 136px,#3982bb 138px,#155799 140px,#0a3977 140px,#08326d 142px,#0b3d7c 144px,#195fa1 144px,#67a9d2 146px,#bfd9ec 148px,#f2f0f1 150px,#fce2d7 152px,#fc9c7f 154px,#fc8363 154px,#f04231 174px,#d72422 176px,#bc171b 178px,#850812 178px,#72030e 180px,#6d010e 198px,#72030e 204px,#870a13 206px,#c21d1e 206px,#d92723 208px,#b61319 212px,#990c13 214px,#9b0d14 216px,#d01f20 220px,#f44f39 234px,#fb7d5d 236px,#fca78a 240px,#fcb499 246px,#fcc4ad 256px,#fedaca 260px,#fbf0eb 264px,#e0ecf7 266px,#91c2df 268px,#81badb 270px,#88bedd 270px,#d5e5f4 274px,#e9f2fb 276px,#e1edf8 296px,#c6ddef 298px,#65a9d3 302px,#5fa5d1 302px,#71b0d6 304px,#b1d2e8 306px,#cfe1f2 308px,#c6dcef 328px,#aacee6 330px,#428dc4 332px,#2a78b7 334px,#206eb2 334px,#2775b6 336px,#5ca1ce 338px,#9dc8e2 340px,#bcd7eb 342px,#b5d4e9 344px,#82badb 350px,#8bc0dd 352px,#b7d5ea 358px,#a2cbe3 362px,#7cb7da 366px,#89bedc 368px,#b3d3e9 374px,#9bc8e1 378px,#7cb7da 380px,#7cb7da 384px)"></i><i style="top:102px;height:3px;background:linear-gradient(90deg,#87bddc 0,#80b9da 6px,#b8d5ea 12px,#b3d3e8 16px,#84bcdb 20px,#8fc2de 24px,#bdd7ec 28px,#aacfe5 32px,#88bedc 36px,#9ec9e2 40px,#c6dcef 44px,#bdd7ec 46px,#a8cde5 46px,#5597c7 48px,#2c6ea9 50px,#124987 50px,#0a3672 52px,#0b3a77 54px,#185492 54px,#387cb4 56px,#93c2df 58px,#b4d3e9 58px,#cee0f2 60px,#d0e2f2 72px,#b0d1e8 74px,#579bca 76px,#2b71ae 78px,#124c8b 78px,#0a3a79 80px,#0e4585 80px,#2468a6 82px,#80b6d9 84px,#abcfe7 84px,#d2e3f3 86px,#dae8f6 100px,#c7ddef 104px,#aed0e8 104px,#4e94c5 106px,#2266a4 108px,#0d407f 108px,#083370 110px,#0b3d7b 110px,#1c5e9e 112px,#79b3d7 114px,#a7cde5 114px,#d8e7f5 116px,#faf5f3 120px,#fedccc 128px,#fee4d7 132px,#f7f1f0 134px,#cce1f1 136px,#a0c9e3 138px,#2f78b4 140px,#114e90 140px,#093673 142px,#083370 144px,#0d4586 144px,#236bab 146px,#78b3d7 148px,#cbe0f0 150px,#e6edf5 150px,#f9ece7 152px,#fdd6c6 152px,#fc8e6f 154px,#fb7959 156px,#f14432 174px,#d92723 176px,#bd191c 178px,#850812 178px,#72030e 180px,#6d010e 198px,#72030e 204px,#810611 206px,#b21519 206px,#d22221 208px,#cb1a1d 210px,#9b0d14 214px,#9e0d14 216px,#d32121 220px,#f5533c 234px,#fca487 238px,#fcb398 242px,#fcc0a8 254px,#fedaca 260px,#fbf0ec 262px,#dfebf7 264px,#8fc1de 268px,#80badb 268px,#8bbfdd 270px,#d7e7f5 272px,#eaf3fb 276px,#e4eff9 294px,#d0e3f2 296px,#92c2df 298px,#6fafd6 300px,#5fa5d1 300px,#67aad3 302px,#bfd9ed 304px,#d4e4f4 308px,#c7dcef 326px,#aacee6 328px,#418dc3 330px,#2977b7 332px,#206eb2 332px,#2876b6 334px,#60a3cf 336px,#a0cae3 338px,#bcd7ec 340px,#b3d3e9 342px,#80badb 348px,#8ec1de 350px,#b5d4e9 354px,#b1d2e8 358px,#7db8da 362px,#84bcdb 366px,#b3d3e8 370px,#a9cfe5 374px,#77b5d9 378px,#79b6d9 384px)"></i><i style="top:105px;height:3px;background:linear-gradient(90deg,#a6cde4 0,#9dc9e2 4px,#7eb8da 8px,#a0cae2 12px,#bad6eb 16px,#82bbdb 24px,#94c4df 26px,#bcd7eb 30px,#b6d4e9 34px,#88bedc 38px,#9ac7e1 42px,#c5dbef 46px,#bfd8ed 48px,#accfe7 48px,#5a9bc9 50px,#2f72ac 52px,#144c89 52px,#0a3773 54px,#08326d 54px,#0b3976 56px,#185391 56px,#387cb3 58px,#93c2df 60px,#b4d3e9 60px,#cee0f2 62px,#cfe1f2 74px,#c2daee 76px,#a6cce5 76px,#498fc2 78px,#2164a2 80px,#0e4383 80px,#0a3b7a 82px,#145090 82px,#3278b2 84px,#93c2df 86px,#b8d5eb 86px,#d5e5f4 88px,#d5e5f4 104px,#b7d5ea 106px,#91c1de 106px,#2b72ae 108px,#104887 110px,#093571 110px,#0a3976 112px,#175696 112px,#3c84bb 114px,#a1c9e3 116px,#d6e6f4 118px,#f9f5f4 120px,#fedccc 128px,#fee4d8 134px,#f4f2f3 136px,#c6ddef 138px,#589ccb 140px,#266ead 140px,#0e4687 142px,#083470 142px,#093674 144px,#115092 146px,#2d78b5 146px,#88bddc 148px,#d5e6f3 150px,#edf0f4 152px,#fbe5dd 152px,#fca184 154px,#fc8565 156px,#f96345 166px,#f24734 174px,#dc2924 176px,#bf1b1d 178px,#860912 178px,#72030e 180px,#6d010e 198px,#71030e 204px,#7b0510 206px,#cb201f 208px,#d11f20 208px,#9a0c14 214px,#a10e15 216px,#ce1e1f 218px,#f45039 232px,#fc8263 236px,#fcaa8e 238px,#fcc3ac 254px,#fedaca 258px,#fbf0ec 262px,#deebf6 264px,#8cc0de 266px,#81badb 268px,#8ec1de 268px,#c8def0 270px,#e4eff9 272px,#e5f0f9 292px,#d8e7f5 294px,#a4cbe4 296px,#63a8d2 298px,#61a7d2 300px,#b7d5ea 302px,#d1e2f3 304px,#c7dcef 324px,#aacee6 326px,#408cc3 328px,#2876b6 330px,#206eb2 330px,#2977b7 332px,#a3cbe4 336px,#bdd7ec 338px,#b1d2e8 340px,#7fb9da 346px,#91c3de 348px,#b6d4ea 352px,#add0e6 356px,#7bb7d9 360px,#89bedd 364px,#b1d2e8 368px,#acd0e6 370px,#77b5d9 376px,#81badb 378px,#96c5e0 382px,#96c5e0 384px)"></i><i style="top:108px;height:3px;background:linear-gradient(90deg,#b6d4e9 0,#afd1e7 6px,#7eb9da 10px,#8bc0dd 14px,#b6d4e9 18px,#b4d3e9 20px,#83bbdb 26px,#8fc1de 28px,#bed7ec 34px,#a6cde4 38px,#88bedc 40px,#96c5e0 44px,#c4dbee 48px,#c1d9ed 50px,#afd0e8 50px,#5f9fcb 52px,#3376af 54px,#164f8c 54px,#0a3874 56px,#08326d 56px,#0b3975 58px,#185290 58px,#377bb3 60px,#94c2df 62px,#b5d4ea 62px,#cee0f2 64px,#d3e3f3 76px,#bcd7ec 78px,#9bc6e2 78px,#3b82b9 80px,#185898 82px,#0b3e7d 82px,#0c407f 84px,#1d5e9d 84px,#76b0d5 86px,#a4cbe4 88px,#c3dbee 88px,#dae8f6 92px,#d6e6f4 104px,#bfd9ed 106px,#9dc7e2 108px,#377db6 110px,#15508f 110px,#0a3774 112px,#093673 112px,#144f8e 114px,#357cb5 114px,#9ac6e1 116px,#d4e5f4 118px,#f7f6f6 122px,#fedccc 130px,#fee5d9 134px,#f2f2f3 136px,#bed9ed 138px,#4b92c5 140px,#1e64a4 142px,#0c3f7e 142px,#08326e 144px,#08316d 144px,#0a3b7a 146px,#185c9e 146px,#68a9d2 148px,#c2dbee 150px,#e0eaf4 152px,#f6eeec 152px,#fddbce 154px,#fc9273 156px,#fc7f5f 156px,#f34a35 174px,#de2b25 176px,#c11d1e 178px,#870912 178px,#72030e 180px,#6d010e 198px,#76040f 206px,#910c14 206px,#c41d1e 208px,#cf1d1f 208px,#990c13 214px,#9c0d14 216px,#d12020 218px,#f44e38 232px,#f96649 234px,#fc9d7f 236px,#fcb296 240px,#fcc0a7 252px,#fedaca 258px,#fbf0ec 260px,#ddeaf6 262px,#8abfdd 266px,#81badb 266px,#b0d2e8 268px,#dceaf6 270px,#eaf3fb 276px,#e4eff9 292px,#cfe2f2 294px,#6cadd5 296px,#5fa5d1 298px,#6dadd5 298px,#c4dbee 302px,#d4e4f4 306px,#c7dcef 322px,#aacee6 324px,#3f8bc2 326px,#2775b6 328px,#206eb1 328px,#2a78b8 330px,#a5cce4 334px,#bed7ec 336px,#afd1e7 338px,#81badb 342px,#89bfdd 346px,#b7d5ea 350px,#a9cee5 354px,#7cb7da 358px,#84bcdb 360px,#b3d3e8 366px,#a6cde4 368px,#78b5d9 372px,#7eb8da 376px,#aed1e7 380px,#aed1e7 384px)"></i><i style="top:111px;height:3px;background:linear-gradient(90deg,#a4cce4 0,#acd0e6 4px,#b3d3e9 8px,#7db8da 14px,#8ec1de 16px,#b8d5ea 20px,#b0d2e7 24px,#81badb 28px,#94c4df 32px,#bcd7ec 36px,#b3d3e9 38px,#86bddc 44px,#aed0e7 48px,#c7dcef 50px,#b2d2e9 52px,#65a3ce 54px,#377ab2 56px,#18518f 56px,#0b3975 58px,#08326e 58px,#0b3875 60px,#18528f 60px,#377bb2 62px,#95c2df 64px,#b6d4ea 64px,#cee1f2 66px,#d2e3f3 78px,#b5d3e9 80px,#5d9ecb 82px,#2e74af 82px,#134d8c 84px,#0a3b7a 84px,#104888 86px,#286eaa 86px,#8abcdc 88px,#b3d3e9 90px,#d4e5f4 92px,#d7e7f5 106px,#c5dcef 108px,#a9cee6 108px,#79b2d7 110px,#1a5a99 112px,#0b3a78 112px,#093572 114px,#104888 114px,#2d73af 116px,#93c2df 118px,#bad6eb 118px,#edf4fa 122px,#ffeee6 124px,#fedccd 132px,#fee6db 136px,#eff1f6 138px,#dae8f5 138px,#b5d4ea 140px,#4088bf 142px,#185a9c 142px,#0a3a78 144px,#08316c 144px,#08336f 146px,#0d4382 146px,#2169a9 148px,#79b4d8 150px,#cee2f1 152px,#e9eef4 152px,#fae8e1 154px,#fc8667 156px,#fb7353 160px,#f04331 174px,#e12e26 176px,#c41f1f 178px,#870a13 178px,#72030e 180px,#6d010e 198px,#72030f 206px,#880a13 206px,#bf1a1d 208px,#cc1b1e 208px,#9c0d14 212px,#9e0d14 216px,#ca1b1e 218px,#e73329 224px,#f5523b 232px,#fc8868 234px,#fcad91 238px,#fcc3ab 252px,#fedaca 256px,#fbf0ec 260px,#dbe9f6 262px,#88bedd 264px,#82bbdb 266px,#cfe2f2 268px,#e9f2fb 272px,#e1edf8 290px,#c2dbee 292px,#79b4d8 294px,#62a7d2 296px,#64a9d2 296px,#bdd8ec 300px,#d2e3f3 302px,#c7dcef 320px,#aacee6 322px,#3e8ac1 324px,#2674b5 326px,#206eb1 326px,#2b79b8 328px,#a8cee5 332px,#bed8ec 334px,#acd0e6 336px,#7fb9da 340px,#8cc0dd 344px,#b5d4e9 348px,#aed1e7 350px,#79b6d9 356px,#89bedd 358px,#b2d2e8 362px,#a9cee5 366px,#75b3d8 370px,#86bddc 374px,#aed1e7 378px,#a6cde4 384px)"></i><i style="top:114px;height:3px;background:linear-gradient(90deg,#7fb9da 0,#88bedc 4px,#b3d3e8 8px,#acd0e6 12px,#7cb7da 16px,#91c3df 20px,#b9d5ea 24px,#acd0e6 26px,#82bbdb 30px,#8ec1de 34px,#bad6eb 38px,#b6d4ea 40px,#86bddc 46px,#9cc8e1 48px,#c6dcef 52px,#b5d3ea 54px,#97c4e0 56px,#3b7eb5 58px,#1a5592 58px,#0c3a77 60px,#09326e 60px,#0b3875 62px,#17518e 62px,#377ab2 64px,#95c2e0 66px,#b6d4ea 66px,#cee1f2 68px,#d0e2f2 80px,#c5dcef 80px,#accfe7 82px,#4d92c4 84px,#2366a4 84px,#0e4484 86px,#0b3d7c 86px,#175494 88px,#387eb7 88px,#9dc7e2 90px,#bfd9ed 92px,#d7e6f5 94px,#d4e5f4 108px,#b3d3e9 110px,#88bbdc 110px,#2365a3 112px,#0d407e 114px,#093471 114px,#0e4281 116px,#266ba8 116px,#8cbedd 118px,#b6d4ea 120px,#e0ecf7 122px,#fdf2ed 124px,#fedccc 132px,#fee7dc 136px,#edf0f6 138px,#d5e5f3 140px,#accfe7 140px,#357db8 142px,#125192 144px,#093774 144px,#08316c 146px,#093573 146px,#104d8e 148px,#2c76b3 148px,#8abedd 150px,#d9e7f4 152px,#f1eff1 154px,#fce0d5 154px,#fc9678 156px,#fc8061 158px,#f14533 174px,#e33027 176px,#c62120 178px,#880a13 178px,#72030e 180px,#6d010e 198px,#72030e 206px,#820711 206px,#b21319 208px,#c6171c 208px,#9a0c14 212px,#a30e15 216px,#cf1f20 218px,#f44f39 230px,#fa6b4d 232px,#fca183 236px,#fcb297 238px,#fcbfa6 250px,#fedaca 256px,#fbf0ec 258px,#dae8f5 260px,#87bddc 264px,#84bbdb 264px,#d2e4f3 268px,#e9f2fb 270px,#e4eff9 288px,#cde1f1 290px,#69abd4 294px,#60a6d1 294px,#73b1d7 296px,#b5d4e9 298px,#d1e2f3 300px,#c7dcef 318px,#aacee6 320px,#3d89c1 322px,#2674b5 324px,#206eb1 324px,#2d7ab9 326px,#91c1de 328px,#b9d5eb 330px,#b5d4e9 334px,#7db8da 338px,#90c2de 342px,#b6d4ea 346px,#aacfe5 348px,#7bb7da 352px,#84bbdb 356px,#b0d1e7 360px,#acd0e6 362px,#75b3d8 368px,#83bbdb 370px,#add0e6 374px,#a4cce4 378px,#80badb 380px,#80badb 384px)"></i><i style="top:117px;height:3px;background:linear-gradient(90deg,#7bb7d9 0,#7eb8da 6px,#b4d3e9 12px,#aacfe5 14px,#7eb8da 18px,#88bedc 22px,#b6d4e9 26px,#b2d2e8 28px,#80badb 34px,#94c4df 36px,#bdd7ec 40px,#b0d2e7 44px,#86bddc 48px,#98c6e0 50px,#c6dbef 54px,#b8d5ea 56px,#9cc6e2 58px,#4082b8 60px,#1c5895 60px,#0c3b78 62px,#09326e 62px,#0b3874 64px,#17508d 64px,#3679b1 66px,#96c3e0 68px,#b7d4ea 68px,#cfe1f2 70px,#cee1f2 82px,#c0d9ed 82px,#a1c9e4 84px,#3f85bb 86px,#1a5a99 86px,#0c3f7e 88px,#0d4281 88px,#2163a1 90px,#80b6d9 92px,#add0e7 92px,#c8ddf0 94px,#dbe9f6 98px,#d6e6f4 108px,#bcd7ec 110px,#96c3e0 112px,#2c72ad 114px,#104786 114px,#093572 116px,#0c3e7c 116px,#2062a0 118px,#84b9da 120px,#b1d2e8 120px,#deebf7 122px,#fdf2ed 126px,#fedccc 132px,#fee1d4 136px,#faefeb 138px,#e9eff6 140px,#cfe2f2 140px,#a1c9e3 142px,#2b73b0 144px,#0f4888 144px,#083471 146px,#08316c 146px,#0a3977 148px,#16599a 148px,#69a9d2 150px,#c5ddef 152px,#e4ecf4 154px,#f8ebe6 154px,#fdd3c2 156px,#fc896a 158px,#fb7555 160px,#f24835 174px,#e53328 176px,#c72220 178px,#880b13 178px,#72030f 180px,#6d010e 198px,#71030e 206px,#7d0510 206px,#be151a 208px,#ab1117 210px,#990c13 212px,#9c0d14 214px,#d32020 218px,#f5543c 230px,#fc9d7e 234px,#fcb296 238px,#fcbfa6 248px,#fed9c9 254px,#faf0ec 258px,#d9e7f5 260px,#85bcdc 262px,#85bcdc 264px,#d5e5f4 266px,#eaf2fb 270px,#e1edf8 288px,#c0daed 290px,#75b2d7 292px,#61a6d1 292px,#69abd4 294px,#c3dbee 296px,#d4e4f4 300px,#c7dcef 316px,#aacee6 318px,#3c88c0 320px,#2573b4 322px,#206eb1 322px,#2e7cb9 324px,#94c3df 326px,#bad6eb 328px,#b2d3e8 332px,#81badb 336px,#87bddc 338px,#b4d3e9 342px,#afd1e7 346px,#78b5d9 350px,#89bfdd 354px,#b2d3e8 358px,#a5cde4 360px,#76b4d8 364px,#80b9db 368px,#acd0e6 372px,#a5cde4 374px,#6fb0d7 380px,#6fb0d7 384px)"></i><i style="top:120px;height:3px;background:linear-gradient(90deg,#9fcae2 0,#9fcae2 4px,#77b5d9 8px,#89bfdd 10px,#b4d3e9 14px,#a8cee5 18px,#7cb7da 22px,#8cc0dd 24px,#b7d5ea 28px,#aed1e7 32px,#81badb 36px,#8ec1de 38px,#bbd6eb 42px,#b4d3e9 46px,#87bddc 50px,#94c4df 52px,#c5dbef 56px,#bbd6eb 58px,#a0c8e3 60px,#4487bb 62px,#1e5b98 62px,#0d3d7a 64px,#09336f 64px,#0a3874 66px,#174f8d 66px,#3679b1 68px,#96c3e0 70px,#b7d5ea 70px,#cfe1f2 72px,#d3e3f3 82px,#bad6eb 84px,#95c3e0 86px,#3177b1 88px,#144e8d 88px,#0b3c7b 90px,#124c8b 90px,#2e73ae 92px,#94c2df 94px,#bbd7eb 94px,#d6e6f4 96px,#d7e7f5 110px,#c3dbee 112px,#a2cae4 112px,#6fabd3 114px,#387eb6 114px,#154f8e 116px,#0a3774 116px,#0b3a77 118px,#1a5a99 118px,#448abf 120px,#7bb4d7 120px,#abcfe7 122px,#dceaf6 124px,#fdf3ee 126px,#fedccc 134px,#fee2d5 138px,#f7f0ef 140px,#c8def0 142px,#95c3e0 142px,#5499c9 144px,#2268a7 144px,#0c4180 146px,#08326e 146px,#08326e 148px,#0c407f 148px,#1f66a6 150px,#7ab4d8 152px,#d1e3f2 154px,#eceef3 154px,#fae4db 156px,#fc9b7d 158px,#fc8262 158px,#f34b36 174px,#e7352a 176px,#c82321 178px,#890b13 178px,#72030f 180px,#6c010e 196px,#77040f 206px,#b51319 208px,#b61319 210px,#990c13 212px,#9f0e15 214px,#cc1d1f 216px,#f4503a 230px,#fa7052 232px,#fca587 234px,#fcb398 238px,#fcc2aa 248px,#fed9c9 254px,#f9f1ef 256px,#d7e7f4 258px,#84bcdc 262px,#88bddd 262px,#d8e7f5 266px,#eaf3fb 268px,#e4eff9 286px,#cce0f1 288px,#66aad3 290px,#63a8d2 292px,#bbd7eb 294px,#d2e3f3 296px,#c8dcef 314px,#abcfe6 316px,#3b87c0 318px,#2472b4 320px,#206eb1 320px,#307dba 322px,#97c5e0 324px,#bbd6eb 326px,#b0d2e7 330px,#7eb9da 334px,#8abfdd 336px,#b5d4e9 340px,#abcfe6 344px,#7ab6d9 348px,#84bbdb 350px,#b0d2e7 354px,#a8cee5 358px,#77b5d9 362px,#7db8da 364px,#abcfe6 368px,#a6cde4 372px,#6fb0d7 376px,#82bbdb 380px,#8cc0dd 382px,#8cc0dd 384px)"></i><i style="top:123px;height:3px;background:linear-gradient(90deg,#b1d2e8 0,#abcfe6 6px,#77b4d8 10px,#8abfdd 14px,#b4d3e9 18px,#a5cde4 20px,#7bb7d9 24px,#8fc2de 28px,#b9d5ea 32px,#a9cee5 34px,#7fb9da 38px,#94c4df 42px,#bdd7ec 46px,#add0e6 48px,#84bcdb 52px,#9fcae2 56px,#c4daee 58px,#bdd7ec 60px,#a5cbe4 62px,#498bbe 64px,#215f9b 64px,#0e3f7c 66px,#09336f 66px,#0a3774 68px,#164f8c 68px,#3678b0 70px,#97c3e0 72px,#b8d5eb 72px,#cfe1f2 74px,#d2e3f3 84px,#b1d2e8 86px,#5395c6 88px,#2669a5 90px,#0f4685 90px,#0b3f7e 92px,#1a5998 92px,#4085bb 94px,#a6cce5 96px,#c5dcef 96px,#dae8f6 100px,#d4e4f4 112px,#c9def0 112px,#aed0e7 114px,#7eb5d8 114px,#458abf 116px,#1a5998 116px,#0b3a77 118px,#0a3774 118px,#165290 120px,#3b81b9 120px,#72aed4 122px,#a5cce5 122px,#dbe9f6 124px,#f4f6f9 126px,#fee3d7 132px,#feddce 136px,#fdeae1 140px,#e2ecf5 142px,#c0daed 142px,#488ec2 144px,#1b5e9e 146px,#0b3b79 146px,#08316d 148px,#083471 148px,#0f498a 150px,#2a73b1 150px,#8cbfdd 152px,#dde9f4 154px,#f3eeee 156px,#fcd9cb 156px,#fc8c6d 158px,#fb7858 160px,#f14432 176px,#e9372b 176px,#c92421 178px,#890b13 178px,#72030f 180px,#6c010e 196px,#73030f 206px,#850711 208px,#ae1118 208px,#b21218 210px,#990c13 212px,#a50f16 214px,#d11f20 216px,#f44d38 228px,#f9684b 230px,#fca183 234px,#fcb297 236px,#fcc1a9 248px,#fed9c9 252px,#f9f1ef 256px,#d5e6f4 258px,#83bbdb 260px,#8bbfdd 262px,#dae9f6 264px,#eaf3fb 268px,#e1edf8 284px,#bdd8ec 286px,#71b0d6 288px,#61a7d1 290px,#6eaed5 290px,#b2d2e9 292px,#d0e2f2 294px,#c8ddf0 312px,#abcfe6 314px,#3a86bf 316px,#2371b3 318px,#206eb2 318px,#327fbb 320px,#9bc7e1 322px,#bcd7eb 324px,#add0e7 328px,#7cb8da 332px,#8ec1de 334px,#b6d4ea 338px,#a6cde4 342px,#77b5d9 346px,#8abfdd 348px,#b2d3e8 352px,#a1cae3 356px,#73b2d8 360px,#86bddc 362px,#aed1e7 366px,#9cc8e1 370px,#6fb0d7 374px,#82badb 376px,#aacfe5 380px,#aacfe5 384px)"></i><i style="top:126px;height:3px;background:linear-gradient(90deg,#94c4df 0,#94c4df 4px,#afd1e7 6px,#a1cbe3 10px,#76b4d8 14px,#8bbfdd 16px,#b4d3e9 20px,#a2cbe3 24px,#7ab6d9 28px,#93c4df 30px,#b6d4e9 34px,#afd1e7 36px,#81badb 40px,#8dc1de 44px,#bbd6eb 48px,#b0d2e8 50px,#84bcdb 54px,#9bc8e1 58px,#c2daee 60px,#bfd8ed 62px,#a9cde6 64px,#81b5d8 64px,#25639e 66px,#0f417e 68px,#093470 68px,#0a3774 70px,#164e8b 70px,#3677af 72px,#97c3e0 74px,#b9d5eb 74px,#cfe1f2 76px,#d0e2f2 86px,#c4dbee 88px,#a8cde5 88px,#4388bd 90px,#1c5c9a 92px,#0c407f 92px,#0f4584 94px,#2668a5 94px,#8abcdc 96px,#b5d4ea 98px,#d6e6f4 100px,#d6e6f4 112px,#b8d5ea 114px,#8dbedd 116px,#2365a2 118px,#0d3f7d 118px,#093673 120px,#124b8a 120px,#3379b2 122px,#9fc8e3 124px,#c3dbee 124px,#f3f5f9 128px,#fee3d7 132px,#feddce 138px,#fcebe4 140px,#ddeaf5 142px,#b7d5eb 144px,#3c83bb 146px,#145395 146px,#093775 148px,#08316c 148px,#093876 150px,#145597 150px,#3781bb 152px,#9ec8e2 154px,#e7edf4 156px,#f9e7e0 156px,#fca083 158px,#fc8364 160px,#f6583f 172px,#f24733 176px,#eb3a2c 176px,#ca2622 178px,#890b13 178px,#72030f 180px,#6c010e 196px,#72030e 206px,#810611 208px,#aa1017 208px,#ad1117 210px,#990c14 212px,#9d0d14 214px,#d42121 216px,#f5523b 228px,#fca88b 234px,#fcb59b 240px,#fdccb7 250px,#f8f1ef 254px,#d4e5f3 256px,#95c4e0 258px,#83bbdb 260px,#8ec1de 260px,#cadff0 262px,#e5f0f9 264px,#e3eef9 282px,#cadff0 284px,#65a9d2 288px,#66aad3 288px,#c1daed 292px,#d4e4f4 294px,#c8ddf0 310px,#abcfe6 312px,#3985bf 314px,#2371b3 316px,#216fb2 316px,#3480bc 318px,#9ec8e2 320px,#bcd7ec 322px,#aacfe6 326px,#7bb7d9 330px,#92c3df 332px,#b4d3e9 336px,#acd0e6 338px,#79b6d9 342px,#84bbdb 346px,#b1d2e8 350px,#a4cce4 352px,#73b3d8 356px,#82bbdb 360px,#aed1e6 364px,#9dc8e2 366px,#6eb0d6 370px,#82badb 374px,#aacfe5 378px,#98c6e0 382px,#98c6e0 384px)"></i><i style="top:129px;height:3px;background:linear-gradient(90deg,#70b1d7 0,#75b4d8 4px,#afd1e7 10px,#a1cbe3 12px,#75b4d8 16px,#8bc0dd 20px,#b0d2e7 22px,#abcfe6 26px,#7cb7da 30px,#89bedd 32px,#b7d5ea 36px,#aacfe6 40px,#7eb8da 44px,#94c4df 46px,#b9d5ea 50px,#b4d3e9 52px,#85bcdc 56px,#8abfdd 58px,#c1d9ed 62px,#c0d9ed 64px,#adcfe7 66px,#86b9da 66px,#2866a1 68px,#104381 70px,#093470 70px,#0a3773 72px,#164d8a 72px,#3577ae 74px,#98c4e0 76px,#b9d6eb 76px,#cfe1f2 78px,#cee1f2 88px,#bed8ec 90px,#9cc6e2 90px,#357ab3 92px,#15508f 94px,#0c3e7c 94px,#154f8e 96px,#357ab2 96px,#9ec7e3 98px,#c1daed 100px,#d8e7f5 102px,#d7e6f5 114px,#c0d9ed 116px,#9bc6e1 116px,#2d72ac 118px,#104684 120px,#093673 120px,#0f4483 122px,#2b6fab 122px,#98c4e0 124px,#bfd9ed 126px,#f2f5f9 128px,#fee7dc 132px,#fedccd 138px,#fee4d8 140px,#eff1f5 142px,#d7e7f4 144px,#add0e7 144px,#3178b3 146px,#104a8a 148px,#083471 148px,#08326d 150px,#0b3e7c 150px,#1d63a3 152px,#7bb5d8 154px,#d5e5f3 156px,#efeff2 156px,#fbded3 158px,#fc9071 160px,#fb7858 162px,#f34935 176px,#ec3d2e 176px,#cb2722 178px,#8a0c13 178px,#72030f 180px,#6c010e 196px,#72030e 206px,#7e0610 208px,#9f0e15 208px,#a60f16 210px,#990c13 212px,#a00e15 214px,#ce1e1f 216px,#f44f39 228px,#fa6e50 230px,#fca588 232px,#fcb398 236px,#fcc1a9 246px,#fed9c8 250px,#f8f1ef 254px,#d2e4f3 256px,#93c3df 258px,#83bbdb 258px,#91c2df 260px,#cee1f2 262px,#e6f0fa 264px,#e0ecf8 282px,#bad7eb 284px,#6eaed5 286px,#62a7d2 286px,#75b2d7 288px,#b9d6eb 290px,#d2e3f3 292px,#c8ddf0 308px,#abcfe6 310px,#3884be 312px,#2270b2 314px,#226fb2 314px,#3682bd 316px,#a1cae3 318px,#bdd7ec 320px,#a7cde5 324px,#7eb8da 326px,#7eb8da 328px,#b6d4e9 334px,#a7cde4 336px,#76b4d8 340px,#8abfdd 344px,#afd1e7 346px,#a8cee5 350px,#74b3d8 354px,#7fb9da 356px,#add0e6 360px,#9ec9e2 364px,#6eafd6 368px,#81badb 370px,#a6cde4 374px,#9fcae2 376px,#6dafd6 380px,#6dafd6 384px)"></i><i style="top:132px;height:3px;background:linear-gradient(90deg,#88bedc 0,#88bedc 4px,#70b1d7 6px,#8cc0dd 10px,#aed1e7 12px,#a2cbe3 16px,#75b3d8 20px,#8cc0dd 22px,#b1d2e8 26px,#a9cfe5 28px,#7ab6d9 32px,#8dc0dd 36px,#b8d5ea 40px,#a5cce4 42px,#80b9db 46px,#82bbdb 48px,#bcd7eb 52px,#add0e6 56px,#82bbdb 60px,#a2cbe3 62px,#c5dbef 66px,#c2daee 66px,#b0d1e8 68px,#8cbcdc 68px,#2c6ba4 70px,#114683 72px,#093571 72px,#0a3773 74px,#164c89 74px,#3576ae 76px,#99c4e1 78px,#bad6eb 78px,#cfe1f2 80px,#d3e3f3 90px,#b7d4ea 92px,#8ebedd 92px,#296ba7 94px,#104786 96px,#0d4180 96px,#1e5e9c 98px,#488cbf 98px,#80b5d8 100px,#afd1e8 100px,#cadff0 102px,#dbe9f6 106px,#d3e4f3 116px,#c7ddef 116px,#a8cde5 118px,#73add4 118px,#3a7eb6 120px,#154e8d 120px,#0a3774 122px,#0d3f7d 122px,#2466a3 124px,#90c0de 126px,#bbd7eb 126px,#e5eff9 128px,#feefe8 132px,#fedccc 138px,#fee5da 142px,#edf0f5 144px,#d2e4f2 144px,#a2cae4 146px,#276caa 148px,#0d4281 148px,#08326e 150px,#083370 150px,#0f4686 152px,#2971ae 152px,#8fc0de 154px,#e1eaf4 156px,#f6eae7 158px,#fccfbe 158px,#fca58a 160px,#fc8566 160px,#fb6e4e 166px,#f34b36 176px,#ed3f30 176px,#cc2823 178px,#8a0c14 178px,#72030f 180px,#6c010e 196px,#78040f 208px,#9d0d14 210px,#9b0d14 212px,#d22020 216px,#f5543c 228px,#fca183 232px,#fcb297 234px,#fcc0a8 244px,#fed9c8 250px,#f8f1ef 252px,#d0e3f2 254px,#90c2df 256px,#83bbdb 258px,#95c5e0 258px,#d2e3f3 260px,#eaf2fb 264px,#e3eef9 280px,#c8def0 282px,#7cb6d9 284px,#64a8d2 284px,#6bacd4 286px,#c6dcef 288px,#d4e4f4 292px,#c8ddf0 306px,#abcfe6 308px,#3783bd 310px,#226fb2 312px,#2270b2 312px,#3884be 314px,#a4cbe4 316px,#bdd7ec 318px,#a3cce4 322px,#7cb7da 324px,#80badb 326px,#b2d2e8 330px,#add0e6 334px,#78b5d9 338px,#79b6d9 340px,#b1d2e8 344px,#a0cae2 348px,#71b1d7 352px,#8abfdd 354px,#acd0e6 358px,#9fc9e2 360px,#6eafd6 364px,#81badb 368px,#a6cde4 370px,#9dc9e2 374px,#6baed5 378px,#76b4d8 384px)"></i><i style="top:135px;height:3px;background:linear-gradient(90deg,#abd0e6 0,#a7cde4 4px,#70b1d7 10px,#89bedd 12px,#add0e6 16px,#a2cbe3 18px,#74b3d8 22px,#8dc0de 26px,#b1d2e8 28px,#a7cde5 32px,#79b6d9 36px,#91c2de 38px,#b6d4e9 42px,#acd0e6 44px,#7db8da 48px,#94c4df 52px,#bad6eb 54px,#b1d2e8 58px,#82bbdb 62px,#8ec1de 64px,#c4dbee 68px,#c3daee 68px,#b4d3e9 70px,#91bfde 70px,#306fa7 72px,#134885 74px,#0a3672 74px,#0a3773 76px,#164c88 76px,#3575ad 78px,#99c4e1 80px,#bbd6eb 80px,#cfe1f2 82px,#d1e3f3 92px,#c7ddef 92px,#aed0e7 94px,#7fb5d8 94px,#1e5e9c 96px,#0d4180 98px,#104888 98px,#2b6eaa 100px,#95c2e0 102px,#bdd8ec 102px,#d7e7f5 104px,#d5e5f4 116px,#cce0f1 118px,#b3d2e9 118px,#83b8da 120px,#478bbf 120px,#1b5997 122px,#0b3a77 122px,#0b3b79 124px,#1e5d9b 124px,#87bbdb 126px,#b6d4ea 128px,#e3eef8 130px,#fef0e9 132px,#fedccc 138px,#fee6db 142px,#e9eff5 144px,#cbe0f0 146px,#95c2e0 146px,#5195c6 148px,#1e61a1 148px,#0b3c7a 150px,#08316d 150px,#093774 152px,#135293 152px,#367fb9 154px,#a0cae3 156px,#cce1f1 156px,#eaedf3 158px,#fae2d9 158px,#fc9476 160px,#fc7f5f 162px,#f34d37 176px,#ee4231 176px,#cd2a24 178px,#8a0c14 178px,#72030f 180px,#6c010e 196px,#73030f 208px,#950b13 210px,#9e0d14 212px,#cb1c1e 214px,#f03f2f 224px,#f75d43 228px,#fc9c7e 230px,#fcb297 234px,#fcc0a8 244px,#fed8c8 248px,#f7f1ef 252px,#cee2f1 254px,#8ec1de 256px,#84bcdc 256px,#d5e5f4 260px,#eaf3fb 262px,#e0ecf8 278px,#d2e4f3 280px,#6bacd4 282px,#64a9d2 284px,#bfd9ed 286px,#d3e4f3 288px,#c8ddf0 304px,#accfe7 306px,#3682bd 308px,#216fb2 310px,#2371b3 310px,#3b86bf 312px,#a7cde5 314px,#bdd7ec 316px,#a0cae2 320px,#7ab6d9 322px,#90c2de 326px,#b4d3e9 328px,#a8cee5 332px,#75b4d8 336px,#8bc0dd 338px,#b0d1e7 342px,#a4cce4 344px,#71b1d7 348px,#86bddc 352px,#abcfe6 354px,#a0cae2 358px,#6eafd6 362px,#81badb 364px,#a6cde4 368px,#9cc8e1 370px,#6aadd5 374px,#7cb7d9 378px,#a0cbe2 380px,#a0cbe2 384px)"></i><i style="top:138px;height:3px;background:linear-gradient(90deg,#92c3df 0,#92c3df 4px,#abcfe6 6px,#92c3df 10px,#70b1d7 12px,#86bddc 16px,#acd0e6 18px,#a2cbe3 22px,#74b3d8 26px,#8dc1de 28px,#b2d2e8 32px,#a4cce4 34px,#78b5d9 38px,#95c4e0 42px,#b7d5ea 44px,#a6cde4 48px,#7fb9da 50px,#81badb 52px,#bcd7eb 58px,#a8cee5 60px,#83bbdb 64px,#8bbfdd 66px,#c3daee 70px,#b6d4ea 72px,#96c2e0 72px,#3473ab 74px,#154b87 76px,#0a3673 76px,#0a3673 78px,#154b87 78px,#3575ac 80px,#9ac5e1 82px,#bbd7ec 82px,#cfe1f2 84px,#d0e2f2 94px,#c2daee 94px,#a2cae4 96px,#397db4 98px,#175290 98px,#0c407f 100px,#185492 100px,#3d81b7 102px,#75aed4 102px,#a8cde6 104px,#c7ddef 104px,#dae9f6 108px,#d7e6f5 118px,#bcd7ec 120px,#93c1df 120px,#5798c7 122px,#2465a1 122px,#0d3e7c 124px,#0a3976 124px,#195593 126px,#4388bc 126px,#7eb5d8 128px,#b1d2e8 128px,#e2edf8 130px,#fef0e9 134px,#fedccd 140px,#fde8de 144px,#e5edf5 146px,#c3dbee 146px,#88badb 148px,#448abf 148px,#175798 150px,#0a3875 150px,#08316d 152px,#0b3c7a 152px,#1c60a1 154px,#7db6d9 156px,#d9e7f3 158px,#f2eded 158px,#fcd6c7 160px,#fc8768 162px,#fb7454 164px,#ef4533 176px,#ce2b25 178px,#8b0d14 178px,#73030f 180px,#6d010e 196px,#71030e 208px,#7a050f 208px,#900a12 210px,#a20e15 212px,#d01f20 214px,#f44d38 226px,#fa6b4e 228px,#fca588 230px,#fcb398 234px,#fcc3ac 244px,#fed8c8 248px,#f7f1f0 250px,#cce0f1 252px,#8cc0de 254px,#86bddc 256px,#d8e7f5 258px,#eaf3fb 262px,#e3eef9 276px,#c5ddef 278px,#77b3d8 280px,#63a8d2 282px,#70b0d6 282px,#b6d4ea 284px,#d2e3f3 286px,#c8ddf0 302px,#accfe7 304px,#3581bc 306px,#216eb1 308px,#2471b3 308px,#64a5d0 310px,#aacee6 312px,#bcd7ec 314px,#9bc8e1 318px,#79b5d9 320px,#95c5e0 324px,#b5d4e9 326px,#a1cbe3 330px,#77b5d9 332px,#79b5d9 334px,#add0e6 338px,#a7cee5 342px,#72b2d7 346px,#76b4d8 348px,#a9cfe5 352px,#a1cae3 354px,#6dafd6 358px,#80badb 362px,#a6cde4 364px,#9ac7e1 368px,#69acd5 372px,#7fb9da 374px,#a2cce3 378px,#96c5e0 384px)"></i><i style="top:141px;height:3px;background:linear-gradient(90deg,#6aadd5 0,#6fb0d6 4px,#a9cfe5 10px,#95c5e0 12px,#70b1d7 16px,#76b4d8 18px,#abcfe6 22px,#a2cbe3 24px,#73b2d8 28px,#8ec1de 32px,#b2d2e8 34px,#a1cae3 38px,#7ab6d9 40px,#7db8da 42px,#b3d3e8 46px,#add0e6 50px,#7cb7da 54px,#86bddc 56px,#bad6eb 60px,#acd0e6 62px,#84bcdb 66px,#87bddc 68px,#c1d9ed 72px,#b9d5eb 74px,#9bc5e1 74px,#3878ae 76px,#174d8a 78px,#0b3774 78px,#0a3673 80px,#154b87 80px,#3574ac 82px,#9ac5e1 84px,#bcd7ec 84px,#cfe1f2 86px,#cde0f1 96px,#bbd7ec 96px,#95c2df 98px,#2c6ea9 100px,#104988 100px,#0e4483 102px,#2363a0 102px,#8bbcdc 104px,#b7d5ea 106px,#d7e6f5 108px,#d8e7f5 118px,#c4dbee 120px,#a0c9e3 122px,#67a5cf 122px,#2f72ac 124px,#104583 124px,#0a3875 126px,#144e8c 126px,#3a7fb6 128px,#75afd5 128px,#abcee6 130px,#e0ecf7 132px,#fef0ea 134px,#fedccd 140px,#fde9df 144px,#f6f0ee 146px,#e1ebf4 146px,#bad7eb 148px,#7ab2d7 148px,#387fb7 150px,#124e8e 150px,#093572 152px,#08336f 152px,#0e4484 154px,#286fad 154px,#92c2df 156px,#c3dbee 158px,#e5ebf3 158px,#f8e5de 160px,#fc997c 162px,#fc8161 162px,#ef4734 176px,#cf2c25 178px,#8b0d14 178px,#73030f 180px,#6d010e 196px,#71020e 208px,#7a050f 208px,#910a12 210px,#ac1117 212px,#d42221 214px,#f5543c 226px,#fca284 230px,#fcb398 232px,#fcc0a7 242px,#fed9c8 246px,#f6f1f0 250px,#cadff0 252px,#8abfdd 254px,#88bedd 254px,#dae9f6 258px,#eaf3fb 262px,#dfecf7 276px,#d1e3f3 276px,#69abd4 280px,#68abd3 280px,#c4dbee 284px,#d4e4f4 286px,#c8ddf0 300px,#accfe7 302px,#3580bc 304px,#216eb1 306px,#2573b4 306px,#68a8d1 308px,#accfe6 310px,#bbd7eb 312px,#7bb7d9 318px,#7db8da 320px,#b2d2e8 324px,#a8cee5 326px,#74b3d8 330px,#7db8da 332px,#b0d1e7 336px,#9ec9e2 340px,#73b2d8 342px,#73b2d8 344px,#a7cee5 348px,#a1cbe3 352px,#6dafd6 356px,#73b2d7 358px,#a6cde4 362px,#97c6e0 364px,#68acd4 368px,#81badb 372px,#a3cce3 374px,#8cc0dd 378px,#67abd4 380px,#67abd4 384px)"></i><i style="top:144px;height:3px;background:linear-gradient(90deg,#8bbfdd 0,#8bbfdd 4px,#6baed5 6px,#81badb 10px,#a7cde4 12px,#98c6e0 16px,#71b1d7 18px,#73b2d8 20px,#a9cee5 24px,#a1cae3 28px,#72b2d7 32px,#8ec1de 34px,#b1d2e8 38px,#9dc9e2 40px,#77b5d9 44px,#7fb9da 46px,#b4d3e9 50px,#a6cde4 52px,#7db8da 56px,#7fb9da 58px,#b6d4e9 62px,#afd1e7 64px,#7fb9da 68px,#8fc2de 70px,#bed8ec 74px,#bbd6eb 76px,#9fc8e3 76px,#71aad1 78px,#3d7db3 78px,#19518d 80px,#0b3975 80px,#0a3673 82px,#154a87 82px,#3574ab 84px,#9bc5e1 86px,#bcd7ec 86px,#cfe1f2 88px,#d2e3f3 96px,#c9def0 98px,#b3d2e9 98px,#86b9da 100px,#21619e 102px,#0e4483 102px,#134d8c 104px,#3276af 104px,#a0c8e3 106px,#c3dbee 108px,#d8e7f5 110px,#d5e5f4 120px,#cadef0 122px,#adcfe7 122px,#79b1d6 124px,#3d80b7 124px,#164f8d 126px,#0a3977 126px,#114886 128px,#3276b0 128px,#6ca8d1 130px,#a4cbe4 130px,#c9def0 132px,#f9f4f3 134px,#feddce 142px,#fee3d6 144px,#f3f1f2 146px,#dbe9f4 148px,#b0d1e8 148px,#2e74b0 150px,#0f4686 152px,#083470 152px,#093774 154px,#135293 154px,#3780b9 156px,#a5cce5 158px,#d1e3f2 158px,#eeeef1 160px,#fbdbcf 160px,#fc8b6c 162px,#fb7858 164px,#f04835 176px,#d02d26 178px,#8c0d14 178px,#73030f 180px,#6d010e 196px,#79040f 208px,#9a0c14 210px,#b71519 212px,#cf1f20 214px,#f5513a 224px,#fa7355 226px,#fcaa8d 230px,#fcc4ad 242px,#fed9c9 246px,#f5f2f3 248px,#c7deef 250px,#89bedd 252px,#8cc0de 254px,#c9dff0 256px,#e6f0f9 258px,#e2eef8 274px,#c2dbee 276px,#74b1d7 278px,#65a9d3 278px,#77b3d8 280px,#bcd7ec 282px,#d2e3f3 284px,#c8ddf0 298px,#abcfe6 300px,#347fbb 302px,#216eb1 304px,#2774b5 304px,#6caad3 306px,#aed0e7 308px,#bad6eb 310px,#78b5d9 316px,#7fb9da 318px,#b3d3e8 322px,#a1cbe3 324px,#75b4d8 328px,#77b5d9 330px,#acd0e6 334px,#acd0e6 336px,#6eb0d6 340px,#89bedd 344px,#abcfe6 346px,#93c4df 350px,#6caed6 352px,#72b1d7 354px,#a5cde4 358px,#a0cae3 360px,#6badd5 364px,#6badd5 366px,#a2cbe3 372px,#86bcdc 374px,#64a9d3 378px,#77b4d8 382px,#77b4d8 384px)"></i><i style="top:147px;height:3px;background:linear-gradient(90deg,#a2cbe3 0,#9ec9e2 6px,#6caed6 10px,#6eafd6 12px,#a3cce3 16px,#a4cce3 18px,#6dafd6 22px,#8cc0dd 26px,#acd0e6 28px,#92c3df 32px,#70b1d7 34px,#8ec1de 38px,#b0d2e7 40px,#98c6e1 44px,#75b3d8 46px,#81badb 48px,#b4d3e9 52px,#9fcae2 56px,#79b6d9 58px,#84bbdb 60px,#b8d5ea 64px,#a6cde4 68px,#7fb9da 70px,#8abfdd 72px,#bbd7eb 76px,#bcd7ec 78px,#a3cae4 78px,#76aed3 80px,#4282b6 80px,#1c5591 82px,#0c3a76 82px,#0a3773 84px,#154a87 84px,#3574ab 86px,#9bc5e1 88px,#bcd7ec 88px,#cee0f2 90px,#d0e2f2 98px,#c5dcef 100px,#a8cde5 100px,#76aed4 102px,#3f82b8 102px,#195694 104px,#0e4484 104px,#1c5b9a 106px,#4689bd 106px,#80b5d8 108px,#b1d1e8 108px,#cbdff1 110px,#dae8f6 114px,#d6e6f4 122px,#cee1f2 122px,#b8d5eb 124px,#89bbdc 124px,#1d5b99 126px,#0b3c7a 128px,#0f4381 128px,#2b6eaa 130px,#63a2cd 130px,#9ec7e2 132px,#c5dcef 132px,#f7f5f6 136px,#fedecf 142px,#fee4d7 146px,#f1f0f2 148px,#d6e6f3 148px,#a5cbe5 150px,#266ba9 152px,#0d4180 152px,#083370 154px,#0b3d7b 154px,#1e63a3 156px,#84b9db 158px,#dfe9f2 160px,#f7e8e3 160px,#fca083 162px,#fc8464 164px,#f04935 176px,#d02e26 178px,#8c0d14 178px,#73030f 180px,#6d010e 196px,#74030f 208px,#d42221 214px,#f6593f 224px,#fca78a 228px,#fcb69b 232px,#fdc5ae 240px,#fedaca 244px,#f4f2f3 248px,#c5ddef 250px,#89bedd 252px,#90c2df 252px,#cde1f1 254px,#e6f0fa 256px,#deebf7 272px,#cee2f2 274px,#68abd3 276px,#6daed5 278px,#b2d2e9 280px,#d0e2f2 282px,#c7dcef 296px,#abcee6 298px,#337fbb 300px,#216fb1 302px,#2976b6 302px,#96c4e0 306px,#afd1e7 306px,#b8d5ea 308px,#76b4d8 314px,#82bbdb 316px,#add0e7 318px,#b1d2e8 320px,#71b1d7 326px,#7cb7da 328px,#aed1e7 332px,#96c5e0 334px,#6eafd6 338px,#76b4d8 340px,#a9cee5 344px,#a1cbe3 346px,#6badd5 350px,#70b0d7 352px,#a4cce3 356px,#9ec9e2 358px,#68abd4 362px,#6badd5 364px,#9ec9e2 368px,#9ac7e1 370px,#65aad3 374px,#66aad4 376px,#98c7e0 380px,#9cc9e1 384px)"></i><i style="top:150px;height:3px;background:linear-gradient(90deg,#70b0d6 0,#70b0d6 4px,#a0cae2 8px,#8abfdd 10px,#68acd4 14px,#82badb 16px,#a5cde4 20px,#8dc0de 22px,#6baed5 26px,#88bddc 28px,#aacfe5 32px,#90c2de 34px,#6fb0d7 38px,#8ec1de 40px,#afd1e7 44px,#93c4df 46px,#73b2d8 50px,#94c4df 52px,#b3d3e8 56px,#97c5e0 58px,#77b5d9 62px,#9ac7e1 64px,#b8d5ea 68px,#9ac7e1 70px,#7fb9da 72px,#85bcdc 74px,#c0d9ed 78px,#bdd7ec 80px,#a7cce5 80px,#7cb2d6 82px,#1f5995 84px,#0d3b78 84px,#0a3773 86px,#154a86 86px,#3574ab 88px,#9bc5e1 90px,#bcd7ec 90px,#cde0f1 92px,#cde0f1 100px,#bed8ed 102px,#9bc5e1 102px,#3074ae 104px,#134e8e 106px,#104a8b 106px,#2a6da8 108px,#96c3e0 110px,#bed8ec 110px,#d7e6f5 112px,#d1e3f3 124px,#c0daed 124px,#99c4e1 126px,#5e9dca 126px,#2869a5 128px,#0e4280 128px,#0d417f 130px,#2567a4 130px,#5a9bc9 132px,#97c3e0 132px,#c1daee 134px,#eaf2f9 136px,#feede5 138px,#fedfd0 144px,#fee5d9 146px,#edf0f4 148px,#cfe3f2 150px,#9ac5e1 150px,#5497c7 152px,#1f63a3 152px,#0b3e7d 154px,#083673 154px,#0f4989 156px,#2c75b1 156px,#9ac6e1 158px,#cadff0 160px,#eaecf1 160px,#fadfd5 162px,#fc8f71 164px,#fb7a5a 166px,#f14a36 176px,#d12f27 178px,#8c0e14 178px,#73030f 180px,#6d010e 196px,#72030e 208px,#7c0510 210px,#cc1e1f 212px,#e53228 216px,#f6573e 224px,#fb7c5d 226px,#fcaf93 228px,#fdc5af 240px,#fedacb 244px,#f3f2f3 246px,#c3dcee 248px,#8abfdd 250px,#94c4e0 252px,#d1e3f3 254px,#e7f1fa 256px,#e1edf8 270px,#bfd9ed 272px,#71b0d6 274px,#68abd3 276px,#c1daed 278px,#d1e3f3 280px,#bfd8ed 294px,#aacee6 296px,#337fbb 298px,#226fb2 300px,#2b78b7 300px,#99c5e1 304px,#b0d1e8 304px,#b5d4e9 306px,#79b6d9 310px,#79b5d9 312px,#afd1e7 316px,#acd0e6 318px,#73b2d8 322px,#75b3d8 324px,#abcfe6 328px,#a7cde4 330px,#6eafd6 334px,#71b1d7 336px,#a6cde4 340px,#a1cae3 342px,#6aadd5 346px,#6fafd6 348px,#a2cbe3 352px,#9bc8e1 354px,#66aad3 358px,#6caed5 360px,#9ec9e1 364px,#95c5df 366px,#62a7d2 370px,#76b4d8 374px,#99c7e0 376px,#81b9da 380px,#74b2d7 382px,#74b2d7 384px)"></i><i style="top:153px;height:3px;background:linear-gradient(90deg,#6fafd6 0,#67aad4 6px,#9ac7e1 10px,#9ac7e1 12px,#69acd4 16px,#6daed5 18px,#a2cbe3 22px,#9cc8e1 24px,#6aadd5 28px,#74b3d8 30px,#a8cee5 34px,#8fc1de 38px,#6dafd6 40px,#8dc0de 44px,#add0e6 46px,#8ec1de 50px,#73b3d8 52px,#78b5d9 54px,#b0d1e7 58px,#abcfe6 60px,#76b4d8 64px,#81badb 66px,#b6d4e9 70px,#9ec9e2 72px,#7bb7da 76px,#8fc2de 78px,#bed7ec 80px,#bdd7ec 82px,#aacde6 82px,#82b5d8 84px,#225e99 86px,#0e3e7b 86px,#0a3774 88px,#154a86 88px,#3574ab 90px,#9bc5e1 92px,#bbd6ec 92px,#ccdff1 94px,#cadef0 102px,#b6d4ea 104px,#8dbddd 104px,#2668a4 106px,#104b8c 108px,#185696 108px,#3c80b7 110px,#75aed4 110px,#a9cde6 112px,#c7ddf0 112px,#d8e7f5 116px,#d4e4f4 124px,#c7ddef 126px,#a8cce5 126px,#70aad2 128px,#3578b1 128px,#124b8a 130px,#0c407f 130px,#20609e 132px,#8fbfde 134px,#bdd8ec 134px,#e8f1fa 136px,#feeee6 140px,#fee0d2 144px,#fee6db 148px,#eaeef4 150px,#c9dff0 150px,#8fbedd 152px,#498ec2 152px,#1a5d9d 154px,#0b3c7b 154px,#0a3b79 156px,#175a9c 156px,#3e88bf 158px,#afd1e8 160px,#d9e6f2 160px,#f4ebe8 162px,#fcd1c1 162px,#fca68b 164px,#fc8768 164px,#f85e42 174px,#f14b37 176px,#d23027 178px,#8d0e14 178px,#73030f 180px,#6d010e 196px,#71030e 208px,#7c0510 210px,#be171b 212px,#dd2a25 214px,#f6553d 222px,#fb7556 224px,#fcad91 228px,#fdcab5 240px,#fee4d9 244px,#f2f1f3 246px,#c1dbed 248px,#9fc9e3 248px,#8cc0dd 250px,#9ac7e1 250px,#d4e5f4 252px,#e8f1fa 256px,#dceaf6 270px,#cce0f1 270px,#80b8da 272px,#69abd4 274px,#74b2d7 274px,#b8d5eb 276px,#d0e2f2 278px,#bed8ec 292px,#a9cee6 294px,#327ebb 296px,#2270b2 298px,#2d7ab8 298px,#9bc7e1 302px,#b0d1e8 302px,#b2d2e8 304px,#75b4d8 308px,#7ab6d9 310px,#afd1e7 314px,#a6cde4 316px,#6eb0d6 320px,#79b6d9 322px,#a6cde4 326px,#a8cee5 328px,#6fafd6 332px,#6eafd6 334px,#a3cce3 338px,#a0cae2 340px,#68acd4 344px,#6daed6 346px,#a0cbe2 350px,#97c6e0 352px,#63a8d3 356px,#6daed5 358px,#9cc9e1 362px,#7fb8da 364px,#5fa6d1 368px,#7bb6d9 370px,#97c6e0 374px,#5ea5d1 378px,#5fa5d1 384px)"></i><i style="top:156px;height:3px;background:linear-gradient(90deg,#98c7e0 0,#93c4df 4px,#64a9d3 8px,#68abd4 10px,#9bc8e1 14px,#93c4df 16px,#65aad3 20px,#82badb 24px,#a1cbe2 26px,#81badb 30px,#6aacd5 32px,#71b0d6 34px,#a5cde4 38px,#9cc8e1 40px,#70b1d7 42px,#70b0d6 44px,#a7cee5 48px,#a5cde4 50px,#70b1d7 54px,#7ab6d9 56px,#afd1e7 60px,#a4cce4 62px,#78b5d9 66px,#79b6d9 68px,#b2d2e8 72px,#aed1e7 74px,#7ab6d9 78px,#8abfdd 80px,#bbd6eb 82px,#bcd7ec 84px,#accfe7 84px,#87b9da 86px,#26639d 88px,#0f417d 88px,#0b3874 90px,#154a87 90px,#3574ab 92px,#9bc5e1 94px,#bbd6eb 94px,#cbdef1 96px,#cee1f2 104px,#c6dcef 104px,#adcfe7 106px,#7eb4d7 106px,#4689be 108px,#1c5e9e 108px,#114e90 110px,#2367a5 110px,#8dbddd 112px,#b8d5eb 114px,#d5e5f4 116px,#d5e5f4 126px,#cce0f1 126px,#b4d3e9 128px,#82b6d9 128px,#4588bd 130px,#195796 130px,#0d4282 132px,#1b5b9b 132px,#4a8ec1 134px,#88bbdb 134px,#b9d6eb 136px,#e6f0f9 138px,#feefe7 140px,#fee0d3 146px,#fee7dd 148px,#f9eeea 150px,#e6edf4 150px,#c2dbee 152px,#4087be 154px,#17599a 154px,#0a3f80 156px,#0d4889 156px,#256ead 158px,#90c1de 160px,#c3dbee 160px,#e6ebf2 162px,#f9e3da 162px,#fc9577 164px,#fc8262 166px,#f24d38 176px,#d33128 178px,#8d0e15 178px,#73030f 180px,#6d010e 196px,#71030e 208px,#7b0510 210px,#c61b1d 212px,#e12d26 214px,#f85e42 222px,#fcab8e 226px,#fcbaa0 232px,#fdccb7 238px,#fee5da 242px,#f2f1f3 244px,#bfdaed 246px,#9ec9e2 248px,#8ec1de 248px,#a0cae3 250px,#d7e7f5 252px,#e8f1fa 254px,#dfecf7 268px,#d5e5f4 268px,#bcd8ec 270px,#70b0d6 272px,#6daed5 272px,#c5dcef 276px,#cfe1f2 280px,#c4daee 288px,#bdd7ec 290px,#a9cde6 292px,#327fbb 294px,#2471b3 296px,#307cba 296px,#9dc8e2 300px,#b0d2e8 300px,#aed1e7 302px,#72b2d8 306px,#7db8da 308px,#a9cfe5 312px,#aacfe5 314px,#70b0d7 318px,#72b2d7 320px,#a8cee5 324px,#9fcae2 326px,#68acd4 330px,#74b3d8 332px,#a0cae2 334px,#9fcae2 336px,#67abd4 340px,#6badd5 342px,#9ecae2 346px,#94c4df 348px,#61a7d2 352px,#7cb7d9 356px,#99c7e0 358px,#5fa6d1 364px,#65a9d3 366px,#94c4df 370px,#79b5d8 372px,#5aa2cf 376px,#75b3d7 378px,#8bc0dd 380px,#8bc0dd 384px)"></i><i style="top:159px;height:3px;background:linear-gradient(90deg,#6cadd5 0,#6cadd5 4px,#91c3de 6px,#8ec1de 8px,#61a7d2 12px,#79b5d8 16px,#99c7e0 18px,#7bb6d9 22px,#64a9d3 24px,#6cadd5 26px,#9ec9e2 30px,#92c3df 32px,#69acd4 34px,#6daed5 36px,#a2cbe3 40px,#9ac7e1 42px,#6eafd6 46px,#6eafd6 48px,#a6cde4 52px,#a1cbe3 54px,#6eafd6 58px,#7cb7da 60px,#a9cfe5 62px,#a8cee5 64px,#73b2d8 68px,#7eb8da 70px,#add0e6 74px,#afd1e7 76px,#7ab6d9 80px,#84bcdc 82px,#b7d4ea 84px,#bbd6eb 86px,#aed0e7 86px,#8cbcdc 88px,#2a67a1 90px,#104481 90px,#0b3976 92px,#154a87 92px,#3574ab 94px,#69a4cd 94px,#9bc5e1 96px,#bad6eb 96px,#cadef0 98px,#ccdff1 106px,#c0d9ed 106px,#a2c9e3 108px,#387db6 110px,#17599b 110px,#15579a 112px,#347ab4 112px,#a1c9e4 114px,#c3dbee 116px,#d6e6f4 118px,#d0e2f2 128px,#bed8ec 128px,#94c1df 130px,#2466a3 132px,#0f4989 132px,#185999 134px,#4388bd 134px,#81b6d9 136px,#b4d4ea 136px,#e5eff9 138px,#fef0e9 142px,#fee1d3 146px,#fde9df 150px,#f7efed 150px,#e2ebf4 152px,#bad7eb 152px,#3981bb 154px,#14589b 156px,#0a478b 156px,#13599d 158px,#3781bb 158px,#a8cde5 160px,#d4e4f2 162px,#f1eced 162px,#fcd7c9 164px,#fcad92 164px,#fc8b6c 166px,#fb6f4f 170px,#f24e38 176px,#d33228 178px,#8e0e15 178px,#73030f 180px,#6d010e 196px,#76040f 210px,#930d14 210px,#c92120 212px,#df2c26 212px,#f75c41 222px,#fb7f60 224px,#fcb297 226px,#fdcdb8 238px,#fceee8 242px,#dce9f4 244px,#9ec9e2 246px,#92c3df 248px,#dae9f6 250px,#e7f1fa 254px,#dae9f6 266px,#c9dff0 268px,#7eb7da 270px,#6cadd5 270px,#7db7d9 272px,#bed8ec 274px,#cfe1f2 276px,#c4daee 286px,#bcd7ec 288px,#a8cde5 290px,#337fbb 292px,#2573b5 294px,#337fbb 294px,#9fc9e3 298px,#b0d1e8 298px,#aacfe5 300px,#77b5d9 304px,#73b3d8 306px,#aacfe5 310px,#a4cce4 312px,#6baed6 316px,#77b4d8 318px,#a3cce3 320px,#a1cbe3 322px,#68abd4 326px,#6fb0d6 328px,#9cc8e1 332px,#9dc9e2 334px,#65aad3 338px,#69acd4 340px,#9cc8e1 344px,#8fc2de 346px,#63a8d2 348px,#63a8d2 350px,#95c5df 354px,#8dc0dd 356px,#5ca4d0 360px,#76b3d7 364px,#91c3de 366px,#59a2cf 372px,#6eafd5 374px,#8bbfdd 378px,#70b0d6 382px,#70b0d6 384px)"></i><i style="top:162px;height:3px;background:linear-gradient(90deg,#66aad3 0,#5fa5d1 6px,#8fc2de 10px,#89bedc 12px,#5ea5d1 16px,#7db7d9 20px,#95c5df 22px,#8ec1dd 24px,#61a7d2 28px,#81badb 30px,#9ac7e0 32px,#93c3df 34px,#69acd4 38px,#69acd4 40px,#9fcae2 44px,#97c6e0 46px,#6caed5 48px,#6daed5 50px,#a4cce3 54px,#9cc8e1 56px,#70b1d7 60px,#71b1d7 62px,#a9cfe5 66px,#a2cbe3 68px,#75b4d8 70px,#76b4d8 72px,#afd1e7 76px,#a7cee5 78px,#7bb7d9 82px,#7fb9da 84px,#b2d2e8 86px,#b9d5ea 88px,#afd0e8 88px,#90bfdd 90px,#2f6da5 92px,#124784 92px,#0b3a77 94px,#154b87 94px,#3675ac 96px,#69a4cd 96px,#9bc5e1 98px,#bad6eb 98px,#c9ddf0 100px,#cadef0 108px,#bad6eb 108px,#95c2df 110px,#2c73b0 112px,#15599d 112px,#1f65a7 114px,#498ec2 114px,#83b7da 116px,#b2d2e9 116px,#cbdff1 118px,#d7e7f5 122px,#d3e4f3 128px,#c5dcef 130px,#a3cae4 130px,#3076b1 132px,#125295 134px,#16599b 134px,#3d83bb 136px,#7ab2d6 136px,#b0d1e8 138px,#e3eef8 140px,#fef0ea 142px,#fee1d4 148px,#fdeae0 150px,#f6f0ee 152px,#dee9f4 152px,#b2d2e9 154px,#347eb9 156px,#135aa0 156px,#0e539a 158px,#226dae 158px,#4d95c7 160px,#bdd8ec 162px,#e2eaf2 162px,#f8e5de 164px,#fc9b7e 166px,#fc8565 166px,#f24f39 176px,#d43328 178px,#8e0f15 178px,#73030f 180px,#6d010e 196px,#73030f 210px,#8a0b13 210px,#c72220 212px,#e22f27 212px,#f96548 222px,#fcb195 226px,#fdceba 236px,#fbefea 242px,#dae8f5 244px,#9ec9e2 246px,#96c5e0 246px,#dceaf6 250px,#e6f0fa 254px,#ddebf7 264px,#d2e4f3 266px,#b8d6eb 266px,#71b0d7 268px,#74b2d7 270px,#b5d3e9 272px,#cee0f2 274px,#bad6eb 286px,#a7cce5 288px,#3380bc 290px,#2775b6 292px,#3682bd 292px,#a1cae3 296px,#afd1e7 296px,#a5cce4 298px,#73b2d8 302px,#75b3d8 304px,#aacfe5 308px,#9cc8e1 310px,#6dafd6 312px,#70b0d7 314px,#a4cce3 318px,#96c5e0 320px,#68acd4 324px,#6badd5 326px,#9ecae2 330px,#90c2de 332px,#64a9d3 334px,#67aad4 336px,#99c7e0 340px,#8bbfdd 342px,#60a6d1 346px,#63a8d2 348px,#93c4df 352px,#86bcdb 354px,#5da4d0 356px,#60a6d1 358px,#8dc1dd 362px,#71b0d6 366px,#57a0ce 368px,#87bddc 374px,#6daed5 376px,#549ecd 380px,#569fce 384px)"></i><i style="top:165px;height:3px;background:linear-gradient(90deg,#88bedc 0,#80b9da 6px,#5aa2cf 10px,#8dc0dd 14px,#75b2d7 18px,#5da4d0 20px,#93c4df 26px,#75b3d7 28px,#60a6d1 30px,#6aacd4 32px,#95c5df 36px,#93c4df 38px,#63a8d2 42px,#71b0d6 44px,#9bc8e1 46px,#95c5df 48px,#6aadd5 52px,#6badd5 54px,#a2cbe3 58px,#98c6e0 60px,#6daed6 62px,#73b2d7 64px,#a2cbe3 68px,#a5cde4 70px,#70b1d7 74px,#7bb7d9 76px,#aacfe5 78px,#a9cee5 80px,#76b4d8 84px,#89bedd 86px,#b6d4ea 90px,#b0d1e8 90px,#94c1df 92px,#3472aa 94px,#154b87 94px,#0c3b78 96px,#154b88 96px,#3676ad 98px,#6aa5ce 98px,#9bc5e1 100px,#b9d5eb 100px,#c8dcf0 102px,#c6dcef 110px,#b2d2e9 110px,#87badb 112px,#246cac 114px,#175fa4 114px,#2e77b4 116px,#9ac5e1 118px,#bfd9ed 118px,#d4e5f4 120px,#d4e5f4 130px,#cbdff1 130px,#b1d1e8 132px,#7db4d8 132px,#4187bd 134px,#195fa2 134px,#155ca0 136px,#3780b9 136px,#abcfe7 138px,#cee1f2 140px,#f8f6f6 142px,#fee2d5 148px,#fee4d8 150px,#f3f0f2 152px,#dae8f3 154px,#aacee6 154px,#307cb9 156px,#1560a7 158px,#1763a9 158px,#3480bc 160px,#a2cae4 162px,#d0e2f0 162px,#efedef 164px,#fbdbce 164px,#fc8e70 166px,#fb7858 170px,#f3503a 176px,#d53429 178px,#8f0f15 178px,#73030f 180px,#6d010e 196px,#72030e 210px,#830711 210px,#ba191c 212px,#e02e26 212px,#f24834 216px,#fb7253 222px,#fcae92 224px,#fcc0a7 230px,#fed8c8 238px,#fbefea 240px,#d9e8f5 242px,#9fcae2 244px,#9bc8e1 246px,#deebf7 248px,#e3eef9 258px,#d8e8f5 264px,#c6ddef 264px,#7eb7da 266px,#71b1d7 268px,#c2daee 270px,#cde0f1 274px,#c0d9ed 282px,#b9d5eb 284px,#a6cce5 286px,#3481bc 288px,#2977b7 290px,#3a85bf 290px,#a2cae3 294px,#aed1e7 294px,#a0cae3 296px,#70b1d7 300px,#78b5d9 302px,#a4cce4 304px,#a1cbe3 306px,#69acd5 310px,#75b3d8 312px,#a0cbe2 316px,#99c7e0 318px,#69acd4 320px,#67abd4 322px,#9bc8e1 326px,#8fc2de 328px,#62a8d2 332px,#65a9d3 334px,#96c5df 338px,#86bddc 340px,#5da4d0 342px,#63a8d2 344px,#8cc0dd 348px,#8abfdd 350px,#59a1cf 354px,#70b0d6 356px,#89bfdc 360px,#559fcd 364px,#83bbdb 370px,#7ab6d9 372px,#559fcd 374px,#60a6d1 378px,#7eb8da 380px,#7eb8da 384px)"></i><i style="top:168px;height:3px;background:linear-gradient(90deg,#58a1ce 0,#60a6d1 4px,#83bbdb 8px,#70b0d6 10px,#58a1ce 14px,#8abfdd 18px,#5ba3d0 24px,#75b2d7 26px,#8dc1dd 28px,#87bddc 30px,#61a7d1 34px,#64a8d2 36px,#95c5df 40px,#77b4d8 42px,#61a7d2 44px,#6caed5 46px,#97c6e0 50px,#93c4df 52px,#68abd4 54px,#6aadd5 56px,#a0cae2 60px,#92c3df 62px,#6aadd5 66px,#75b3d8 68px,#a3cce3 70px,#9fcae2 72px,#73b2d8 76px,#74b3d8 78px,#abcfe6 82px,#9fcae2 84px,#76b4d8 86px,#83bbdb 88px,#b3d3e8 92px,#b0d1e8 92px,#97c4e0 94px,#6aa5ce 94px,#3979af 96px,#184f8b 96px,#0d3d7b 98px,#164d8a 98px,#3777ae 100px,#6ba6ce 100px,#9cc6e1 102px,#b9d5eb 102px,#c7dcef 104px,#cbdef1 110px,#c2daee 112px,#a8cde6 112px,#4389c0 114px,#1f6aad 116px,#1f6aad 116px,#438ac1 118px,#adcfe7 120px,#c8ddf0 120px,#d6e6f4 124px,#cfe2f2 132px,#bcd7ec 132px,#90bfde 134px,#246eaf 136px,#1761a7 136px,#337db9 138px,#a7cce5 140px,#cce0f1 140px,#f7f6f6 144px,#fee3d6 148px,#fee5d9 152px,#f1f0f2 154px,#d5e5f2 154px,#a3cae4 156px,#60a2ce 156px,#307cba 158px,#1c6aaf 158px,#2674b5 160px,#4a94c7 160px,#b9d6eb 162px,#e0e9f2 164px,#f7e7e1 164px,#fca184 166px,#fc8868 168px,#f5553c 176px,#da3e2f 178px,#941418 178px,#75040f 180px,#6b010e 196px,#72030e 210px,#840812 210px,#be1c1d 212px,#e43228 212px,#f6553d 218px,#fb6e4f 220px,#fcab8e 224px,#fcbea5 228px,#fdd4c3 236px,#fbf0eb 240px,#d8e7f4 242px,#a1cbe3 244px,#a1cbe3 244px,#d2e4f3 246px,#e5eff9 248px,#dceaf6 262px,#d0e3f2 262px,#75b3d8 266px,#7eb8da 266px,#bbd7eb 268px,#cde0f1 270px,#b8d5ea 282px,#a5cce4 284px,#3582bd 286px,#2c7ab9 288px,#3d89c1 288px,#88bcdc 290px,#a3cbe3 292px,#a8cee5 294px,#6eafd6 298px,#7bb7d9 300px,#a4cde4 302px,#9ac7e1 304px,#6badd5 308px,#6eafd6 310px,#9bc8e1 312px,#9ac7e1 314px,#63a8d2 318px,#6eafd6 320px,#98c6e0 324px,#8ec1de 326px,#61a7d2 328px,#63a8d2 330px,#92c4de 334px,#71b0d6 338px,#5ba3cf 340px,#64a8d2 342px,#8bbfdd 344px,#83bbdb 346px,#5aa2cf 350px,#5ba3cf 352px,#86bddc 356px,#69acd4 358px,#549ecd 360px,#68abd3 364px,#80b9da 366px,#509bcb 372px,#7ab6d9 376px,#57a0ce 382px,#57a0ce 384px)"></i><i style="top:171px;height:3px;background:linear-gradient(90deg,#6eafd5 0,#6eafd5 4px,#549ecd 6px,#6aacd4 10px,#80b9da 12px,#58a1ce 16px,#5da4d0 18px,#86bddc 22px,#59a2cf 28px,#8bc0dd 32px,#6fafd6 36px,#5ca4d0 38px,#69abd4 40px,#90c2de 42px,#87bddc 44px,#60a6d1 48px,#68abd4 50px,#94c4df 52px,#90c2de 54px,#67aad4 58px,#69acd4 60px,#9dc9e1 64px,#8dc1dd 66px,#68acd4 68px,#78b5d8 70px,#a3cce3 74px,#98c6e0 76px,#6eb0d6 78px,#79b6d9 80px,#a7cde4 84px,#a2cbe3 86px,#77b4d9 88px,#7eb9da 90px,#b0d1e7 94px,#afd1e7 94px,#9ac6e1 96px,#70aad1 96px,#3e7fb5 98px,#1b5491 98px,#0e407d 100px,#174f8c 100px,#3879b0 102px,#6ca7cf 102px,#9cc6e2 104px,#b9d5eb 104px,#c5dbef 108px,#c9ddf0 112px,#bdd7ec 114px,#9dc7e2 114px,#3882bc 116px,#206caf 118px,#2d79b7 118px,#93c1df 120px,#bbd7ec 122px,#d3e4f3 124px,#d2e3f3 132px,#c5dcef 134px,#a1c9e4 134px,#337db9 136px,#1d6aae 138px,#327dba 138px,#a2cae4 140px,#c9dff0 142px,#f7f6f6 144px,#fee3d6 150px,#fee5da 152px,#efeff2 154px,#d1e3f1 156px,#5b9fcd 158px,#317fbc 158px,#2675b7 160px,#3885bf 160px,#cde1f0 164px,#ecedf1 164px,#faded3 166px,#fc9274 168px,#fb7d5d 170px,#f5573e 176px,#df4433 178px,#9f181a 178px,#790510 180px,#6b010e 196px,#73030f 210px,#8e0e14 210px,#d02a24 212px,#ec3a2c 212px,#fa6c4d 220px,#fcb398 224px,#fdd5c4 234px,#fbf0eb 238px,#d7e7f4 240px,#a4cce4 242px,#a7cee5 244px,#d6e6f4 246px,#e6f0f9 248px,#d7e7f5 260px,#c5dcef 262px,#80b9db 264px,#7ab5d9 264px,#c5dcef 268px,#c8dcf0 272px,#b8d5ea 280px,#a5cce4 282px,#3784bf 284px,#2e7dbb 286px,#418cc3 286px,#8bbedd 288px,#a3cbe3 290px,#a4cce4 292px,#73b2d7 294px,#71b1d7 296px,#a3cce3 300px,#91c3df 302px,#67abd4 306px,#74b2d7 308px,#9cc9e1 310px,#8fc2de 312px,#63a8d2 316px,#6aacd4 318px,#94c4df 320px,#8dc1dd 322px,#60a6d1 326px,#61a7d2 328px,#8fc2de 332px,#58a1cf 336px,#73b2d7 340px,#88bedc 342px,#7cb7d9 344px,#569fce 346px,#5da4d0 348px,#81bada 352px,#7ab6d9 354px,#549ecd 356px,#56a0ce 358px,#7cb7d9 362px,#4e9acb 368px,#76b4d8 372px,#4c98ca 378px,#5ba3cf 382px,#5ba3cf 384px)"></i><i style="top:174px;height:3px;background:linear-gradient(90deg,#67aad3 0,#6fafd6 4px,#6fafd6 8px,#539dcc 10px,#67aad3 14px,#7cb7d9 16px,#569fcd 20px,#6aacd4 24px,#82badb 26px,#59a1cf 30px,#5fa5d1 32px,#85bcdb 36px,#80bada 38px,#5ca4d0 40px,#62a7d2 42px,#8abfdd 46px,#86bddc 48px,#60a6d1 50px,#65a9d3 52px,#90c2de 56px,#8ec1dd 58px,#65a9d3 60px,#69acd4 62px,#96c5df 66px,#95c5df 68px,#6badd5 70px,#6daed6 72px,#9bc8e1 76px,#9cc9e1 78px,#71b1d7 80px,#72b2d7 82px,#a7cee4 86px,#97c6e0 88px,#73b3d8 92px,#8abfdd 94px,#accfe6 96px,#aed0e7 96px,#9dc7e2 98px,#76afd4 98px,#1e5b97 100px,#0f4482 102px,#18528f 102px,#3a7cb2 104px,#6ea9d0 104px,#9dc7e2 106px,#b9d5eb 106px,#c4daee 110px,#c7dcef 114px,#b7d4ea 116px,#92c0df 116px,#327eba 118px,#2674b5 120px,#418ac1 120px,#a8cde6 122px,#c6dcef 124px,#d5e5f4 126px,#d5e5f4 134px,#cbdff1 134px,#b0d1e8 136px,#448dc3 138px,#2674b5 138px,#327fbb 140px,#9ec7e2 142px,#c7ddef 142px,#f7f5f6 146px,#fee3d6 150px,#fee6da 154px,#eceff4 156px,#cce1f1 156px,#599ecd 158px,#3684bf 160px,#3282be 160px,#4d97c9 162px,#b7d5ea 164px,#dee8f1 164px,#f7e8e3 166px,#fdcebd 166px,#fca68a 168px,#fc8a6b 168px,#f6583f 176px,#e44534 178px,#ac1b1c 178px,#7d0610 180px,#71020e 182px,#6c010e 196px,#77040f 210px,#9a1217 210px,#d93127 212px,#ef402f 212px,#fb7757 220px,#fcb095 222px,#fedbcb 234px,#faf0ec 238px,#d6e6f4 240px,#a8cee4 242px,#add1e7 242px,#d9e8f5 244px,#e5eff9 248px,#dbe9f6 258px,#cfe2f2 260px,#90c1df 262px,#7cb7da 262px,#8abedd 264px,#c1d9ed 266px,#ccdff1 268px,#bdd7ec 276px,#b7d5ea 278px,#a5cce4 280px,#3986c0 282px,#3281bd 284px,#4690c5 284px,#8ec0dd 286px,#a3cbe3 288px,#a0cae2 290px,#70b0d7 292px,#74b3d8 294px,#9fcae2 298px,#98c6e0 300px,#69acd5 302px,#6daed5 304px,#97c6e0 308px,#92c3df 310px,#64a9d3 312px,#66aad3 314px,#90c2de 318px,#8cc0dd 320px,#60a6d1 322px,#60a6d1 324px,#8cc0dd 328px,#56a0ce 334px,#85bcdb 338px,#539ecd 344px,#7fb9da 348px,#509bcb 354px,#79b5d9 358px,#4d99ca 364px,#73b2d7 368px,#4a97c9 374px,#6cadd5 380px,#66aad3 384px)"></i><i style="top:177px;height:3px;background:linear-gradient(90deg,#549ecd 0,#549ecc 6px,#73b2d7 10px,#519ccc 16px,#78b5d8 20px,#66a9d3 22px,#559fcd 26px,#7eb8da 30px,#68abd3 32px,#56a0ce 34px,#70b0d6 38px,#84bbdb 40px,#69acd4 42px,#59a1cf 44px,#76b3d7 48px,#89bfdc 50px,#5ca4d0 54px,#91c3de 60px,#61a7d2 64px,#94c4df 68px,#91c3de 70px,#68acd4 74px,#70b0d6 76px,#9cc8e1 78px,#96c5e0 80px,#6dafd6 84px,#78b5d9 86px,#a3cce3 88px,#9ac7e1 90px,#73b3d8 94px,#85bcdc 96px,#a8cee5 98px,#add0e6 98px,#a0c9e3 100px,#7db3d6 100px,#23629e 102px,#114988 104px,#195694 104px,#3c7fb5 106px,#70aad2 106px,#9ec7e2 108px,#b9d5eb 108px,#c6dbef 114px,#c4dbee 116px,#afd0e8 118px,#5298c9 120px,#307dbb 120px,#327fbc 122px,#589ccb 122px,#b8d5eb 124px,#d3e4f3 126px,#d0e2f2 136px,#bdd8ec 136px,#589ccb 138px,#327fbc 140px,#3482be 140px,#5fa1ce 142px,#9ac5e1 142px,#c5dcef 144px,#ecf3fa 146px,#ffede4 148px,#fee3d6 154px,#faede8 156px,#eaeef4 156px,#c8deef 158px,#599fcd 160px,#3d8cc3 160px,#4290c5 162px,#67a9d2 162px,#cce0f0 164px,#ebedf1 166px,#fae0d5 166px,#fc9577 168px,#fb7d5d 170px,#f6593f 176px,#e84735 178px,#b71e1e 178px,#810711 180px,#72030e 180px,#6c010e 196px,#71030e 208px,#7e0610 210px,#e0362a 212px,#f14533 212px,#fb7353 218px,#fcb79d 222px,#fdd7c6 232px,#faf0ec 236px,#d6e6f4 238px,#abd0e6 240px,#b4d4e9 242px,#dceaf6 244px,#e3eef9 250px,#d6e6f4 258px,#c4dcee 258px,#85bcdc 260px,#85bcdc 262px,#bad6eb 264px,#ccdff1 266px,#b7d4ea 276px,#a6cce5 278px,#3c89c2 280px,#3785bf 282px,#4c95c8 282px,#91c2de 284px,#a3cce3 286px,#9bc8e1 288px,#6eafd6 290px,#78b5d8 292px,#9ecae2 296px,#90c2de 298px,#66aad4 300px,#73b2d7 302px,#98c7e0 306px,#86bddc 308px,#60a6d1 310px,#7eb8da 314px,#90c2de 316px,#5aa2cf 320px,#88bedc 326px,#559fcd 330px,#81bada 336px,#549ecd 340px,#58a1ce 342px,#7ab6d9 344px,#72b1d6 346px,#4f9bcb 350px,#62a7d2 352px,#73b2d7 356px,#4c98ca 360px,#6fb0d6 364px,#4996c8 370px,#69acd5 374px,#4593c7 380px,#4694c7 384px)"></i><i style="top:180px;height:3px;background:linear-gradient(90deg,#68abd4 0,#62a7d2 6px,#4d99ca 10px,#70b0d6 14px,#509bcb 20px,#74b3d7 24px,#529dcc 28px,#7ab6d9 34px,#549ecd 38px,#80b9da 44px,#58a1ce 48px,#60a6d1 50px,#85bcdb 52px,#7bb6d9 54px,#5ba3d0 58px,#7ab6d9 60px,#8ec1dd 62px,#61a7d2 68px,#92c4df 72px,#8cc0dd 74px,#66abd4 76px,#73b2d7 78px,#9bc8e1 82px,#8ec1de 84px,#6caed6 86px,#91c2de 90px,#a2cce3 92px,#75b3d8 96px,#80badb 98px,#acd0e6 100px,#a3cbe3 102px,#83b8d9 102px,#296ba6 104px,#145292 106px,#1b5c9c 106px,#3f83b9 108px,#a0c8e3 110px,#b9d5eb 110px,#c8ddf0 118px,#c0d9ed 118px,#a7cce5 120px,#4a93c6 122px,#3381bd 122px,#438dc4 124px,#a4cbe4 126px,#c4dbee 126px,#d5e5f4 130px,#d4e4f4 136px,#c6ddef 138px,#a3cae4 138px,#408bc3 140px,#3987c0 142px,#5ca0ce 142px,#c3dbee 144px,#ebf3fa 146px,#ffede4 150px,#fee3d6 154px,#faede8 156px,#e8eef4 158px,#c4dcee 158px,#5ca2cf 160px,#4895c8 162px,#579fcd 162px,#dde7f1 166px,#f7e9e4 166px,#fdd1c0 168px,#fca98e 168px,#fc8b6c 170px,#f75a40 176px,#ed4936 178px,#c32322 178px,#860912 180px,#72030e 180px,#6c010e 196px,#72030e 208px,#830811 210px,#bd1d1e 210px,#e73c2e 212px,#f96245 216px,#fb7f5f 218px,#fcb499 222px,#fedccd 232px,#faf0ec 236px,#d6e6f4 238px,#b0d2e7 240px,#dfecf7 242px,#dfecf7 254px,#cfe2f2 256px,#94c4e0 258px,#86bcdc 260px,#c5dbef 262px,#c6dbef 268px,#b7d4ea 274px,#a6cde5 276px,#408cc3 278px,#3c89c2 280px,#75b1d6 282px,#94c4df 282px,#a4cce3 284px,#97c6e0 286px,#6daed6 288px,#7cb7d9 290px,#99c7e0 292px,#96c5df 294px,#69acd4 298px,#6caed5 300px,#94c5df 302px,#89bfdc 304px,#60a6d2 308px,#6aadd5 310px,#8dc1dd 312px,#6cadd5 316px,#5aa2cf 318px,#85bcdc 322px,#56a0ce 326px,#5ca3d0 328px,#7db8da 332px,#72b1d6 334px,#509ccc 336px,#77b4d8 342px,#4d99ca 346px,#71b1d7 352px,#4b98c9 356px,#5ca3d0 358px,#6aacd4 362px,#4795c8 366px,#66aad3 370px,#4492c6 376px,#61a7d2 380px,#61a7d2 384px)"></i><i style="top:183px;height:3px;background:linear-gradient(90deg,#4a97c9 0,#4d99ca 6px,#67abd4 10px,#4d99ca 14px,#6daed5 18px,#4e9acb 24px,#71b1d7 28px,#509ccc 32px,#77b4d8 38px,#549ecd 42px,#7cb7d9 46px,#56a0ce 52px,#83bbdb 56px,#5ba3d0 60px,#67aad3 62px,#8abfdd 66px,#60a7d2 70px,#91c3de 74px,#88bedc 76px,#66aad3 80px,#77b4d8 82px,#99c7e0 84px,#6dafd6 88px,#77b5d8 90px,#a0cae2 94px,#93c4df 96px,#77b5d9 98px,#7eb8da 100px,#abcfe6 102px,#a5cce4 104px,#89bcdb 104px,#3075af 106px,#185b9e 108px,#1e64a5 108px,#4288be 110px,#a2c9e3 112px,#b9d5eb 112px,#c7dcef 120px,#bcd7ec 120px,#9ec7e3 122px,#4690c5 124px,#3c89c2 124px,#589dcc 126px,#b6d4ea 128px,#ccdff1 128px,#d8e7f5 136px,#cde1f1 138px,#b3d3e9 140px,#5098ca 142px,#408dc4 142px,#5ca1ce 144px,#c2dbee 146px,#ebf3fa 148px,#ffece4 150px,#fee2d5 156px,#f9ede8 158px,#e7edf3 158px,#c1dbed 160px,#62a6d1 162px,#57a0ce 162px,#70afd6 164px,#cde1f1 166px,#ebedf1 166px,#fae0d6 168px,#fc9779 170px,#fb7c5c 172px,#f24e39 178px,#d23128 178px,#8d0e15 180px,#73030f 180px,#6c010e 196px,#73030f 208px,#8c0d14 210px,#cf2d26 210px,#ef4533 212px,#fb7a5a 218px,#fcb195 220px,#fee2d5 232px,#faf0ec 234px,#d7e6f4 236px,#b5d4e9 238px,#e1edf8 242px,#dceaf6 254px,#c4dcee 256px,#8dc0de 258px,#92c3df 258px,#c1daed 260px,#c9ddf0 264px,#b7d5ea 272px,#a7cde5 274px,#4490c5 276px,#418ec4 278px,#98c5e0 280px,#a4cce3 282px,#93c4df 284px,#72b2d7 286px,#73b2d7 288px,#99c7e0 290px,#8ec1de 292px,#66aad4 296px,#73b2d7 298px,#93c4df 300px,#62a7d2 304px,#67abd4 306px,#8abfdd 310px,#7cb7d9 312px,#59a2cf 314px,#82badb 320px,#559fcd 324px,#6aacd4 326px,#7ab6d9 328px,#4f9bcb 334px,#73b2d7 338px,#5ea4d0 340px,#4c99ca 342px,#6eafd6 348px,#4996c9 352px,#68abd4 356px,#4694c7 362px,#62a8d2 366px,#4492c6 372px,#5ea5d1 376px,#408ec4 382px,#408ec4 384px)"></i><i style="top:186px;height:3px;background:linear-gradient(90deg,#60a6d1 0,#5ea5d1 6px,#4996c8 10px,#64a9d3 14px,#4b98c9 18px,#68abd4 24px,#4d99ca 28px,#6dafd6 32px,#4f9bcb 36px,#73b2d7 42px,#529dcc 46px,#78b5d9 50px,#56a0ce 54px,#6eafd5 58px,#80b9da 60px,#5ca3d0 64px,#64a9d2 66px,#87bedc 68px,#61a7d2 74px,#8fc2de 78px,#83bbdb 80px,#66aad4 82px,#95c5df 86px,#8dc0dd 88px,#6caed6 92px,#9bc8e1 96px,#96c6e0 98px,#76b4d8 100px,#8cc0dd 102px,#a9cee5 104px,#a7cde5 106px,#8fc0dd 106px,#377eb8 108px,#1d66a9 110px,#226cae 110px,#478dc2 112px,#a4cae4 114px,#bad6eb 114px,#c6dcef 122px,#b7d5ea 122px,#4692c6 126px,#4a94c7 126px,#a2cae4 128px,#c3dbee 130px,#d5e5f4 132px,#d2e4f3 140px,#c0d9ed 140px,#63a6d0 142px,#4a95c8 144px,#5da3cf 144px,#c1daee 146px,#ecf3fa 148px,#feece3 152px,#fee2d4 156px,#f9ede8 158px,#e5ecf3 160px,#6badd5 162px,#6badd5 164px,#dfe8f2 166px,#f7e9e4 168px,#fdd2c1 168px,#fc8b6c 170px,#f4533b 178px,#db3d2f 178px,#961418 180px,#75040f 180px,#6b010d 196px,#77040f 208px,#991418 210px,#db3a2d 210px,#f34e38 212px,#fb7757 216px,#fcb79c 220px,#fedccd 230px,#fbf0eb 234px,#d8e7f4 236px,#bbd7eb 238px,#e3eef9 240px,#dae8f6 252px,#b7d5ea 254px,#9bc7e1 256px,#93c3df 256px,#c9ddf0 260px,#b8d5ea 270px,#a9cee6 272px,#4994c7 274px,#4894c7 276px,#9bc7e1 278px,#a4cce4 280px,#90c2de 282px,#72b2d7 284px,#77b4d8 286px,#99c7e0 288px,#76b4d8 292px,#66abd4 294px,#90c2de 298px,#81bada 300px,#60a6d1 302px,#87bddc 306px,#7cb7d9 308px,#5aa2cf 312px,#7fb9da 316px,#549ecd 320px,#77b5d8 326px,#4f9bcb 330px,#63a8d2 332px,#70b0d6 334px,#4b98ca 340px,#6aadd5 344px,#4896c8 348px,#65a9d3 352px,#4593c7 358px,#5fa5d1 362px,#4291c6 366px,#5aa2cf 372px,#418fc5 376px,#58a1ce 382px,#58a1ce 384px)"></i><i style="top:189px;height:3px;background:linear-gradient(90deg,#4996c8 0,#509acb 6px,#5ea5d1 10px,#4895c8 14px,#61a7d2 18px,#4a97c9 22px,#65aad3 28px,#4c99ca 32px,#6aadd5 36px,#4e9acb 40px,#6eafd6 46px,#519ccc 50px,#75b3d8 54px,#569fce 58px,#7db7da 62px,#5ba3d0 68px,#85bcdb 72px,#61a7d2 76px,#8dc0dd 80px,#67abd4 86px,#95c5df 90px,#6eafd6 94px,#78b5d9 96px,#9dc9e1 98px,#7ab6d9 102px,#89bedd 104px,#a8cee5 106px,#a8cee5 108px,#95c3df 108px,#4188bf 110px,#2571b2 112px,#2975b5 112px,#4c92c6 114px,#a6cce5 116px,#bbd6eb 116px,#c5dbef 124px,#b2d2e9 124px,#61a4d0 126px,#4b97c9 128px,#5da2cf 128px,#b5d4ea 130px,#cce0f1 132px,#dae8f6 140px,#cadff0 142px,#a9cee6 142px,#78b3d7 144px,#579fcd 144px,#62a6d1 146px,#c0daed 148px,#edf3f9 150px,#feebe2 152px,#fee1d3 158px,#f9ede8 160px,#e4ebf2 160px,#93c3e0 162px,#79b5d9 164px,#83bbdb 164px,#d0e3f2 166px,#ecedf1 168px,#fadfd5 168px,#fc987a 170px,#fb7a5a 172px,#f5543c 178px,#df4030 178px,#a1171a 180px,#790510 180px,#69010d 194px,#71030e 208px,#7d0610 208px,#aa191b 210px,#e24030 210px,#f4533b 212px,#fc8161 216px,#fcb398 220px,#fee1d4 230px,#fbefeb 232px,#dae8f5 234px,#c2daed 236px,#e5eff9 240px,#d6e6f4 252px,#99c6e1 254px,#b7d5ea 256px,#ccdff1 258px,#b9d5ea 268px,#abcfe6 270px,#4e99ca 272px,#4f99ca 274px,#9ec9e2 276px,#9ec9e2 278px,#73b2d8 282px,#7db8da 284px,#95c5df 286px,#8dc1dd 288px,#68abd4 290px,#82bbdb 294px,#8ec1dd 296px,#61a7d2 300px,#85bcdb 304px,#5aa2cf 308px,#7cb7d9 314px,#549ecd 318px,#74b3d8 322px,#5ea5d0 324px,#4e9acb 326px,#6caed5 332px,#4a97c9 336px,#66aad3 340px,#4795c8 344px,#60a6d1 350px,#4492c6 354px,#5ba3d0 358px,#4290c5 362px,#569fce 368px,#3f8ec4 372px,#529dcc 376px,#3e8cc3 382px,#3e8cc3 384px)"></i><i style="top:192px;height:3px;background:linear-gradient(90deg,#569fcd 0,#559fcd 6px,#4a96c9 10px,#5aa2cf 14px,#4795c8 18px,#5fa5d1 22px,#4a97c9 28px,#63a8d2 32px,#4b98c9 36px,#67abd4 40px,#4e9aca 44px,#6caed5 48px,#529dcc 54px,#73b2d7 58px,#569fce 62px,#7ab6d9 66px,#5ba3d0 70px,#82badb 74px,#62a7d2 80px,#8bbfdd 84px,#67abd4 88px,#74b3d7 90px,#92c4de 92px,#6dafd6 96px,#9bc8e1 100px,#95c5df 102px,#7eb9da 104px,#88bedc 106px,#a6cde4 108px,#aacfe5 110px,#9ac6e1 110px,#4b92c5 112px,#2e7bb9 114px,#317ebb 114px,#5298c9 116px,#a9cde6 118px,#c3daee 120px,#c3daee 126px,#adcfe7 126px,#5fa4d0 128px,#569fcd 130px,#74b1d6 130px,#c3dbee 132px,#d6e6f4 134px,#d9e8f5 142px,#d1e3f3 142px,#b9d6eb 144px,#68aad3 146px,#69abd4 146px,#c1daed 148px,#eef3f9 150px,#feeae0 154px,#fedfd1 158px,#f8ece8 160px,#e3ebf2 162px,#9bc7e2 164px,#8cc0dd 164px,#9ec9e2 166px,#e2eaf2 168px,#f8e8e2 168px,#fcaa8f 170px,#fc896a 172px,#f5543c 178px,#e34131 178px,#ae1a1b 180px,#7e0610 180px,#71020e 182px,#6c010e 196px,#72030e 208px,#830711 208px,#bb1e1f 210px,#e94534 210px,#f96144 212px,#fb7c5c 216px,#fcaf93 218px,#fee1d3 230px,#fbefea 232px,#dbe9f6 234px,#c8ddf0 236px,#e7f1fa 238px,#dbe9f6 250px,#bbd7eb 252px,#a4cce4 252px,#a1cbe3 254px,#ccdff1 256px,#bad6eb 266px,#add0e7 268px,#549ecc 270px,#569fcd 272px,#a1cbe3 274px,#9dc9e1 276px,#76b4d8 280px,#97c6df 284px,#87bddc 286px,#6baed5 288px,#6fb0d6 290px,#8cc0dd 292px,#63a8d2 296px,#6badd5 298px,#83bbdb 302px,#5ba3d0 306px,#7bb6d9 310px,#63a8d2 312px,#559fcd 314px,#73b2d7 318px,#4f9bcb 324px,#6badd5 328px,#4a97c9 332px,#64a9d3 336px,#4694c7 340px,#5da4d1 346px,#4492c6 350px,#5aa2cf 354px,#4290c5 358px,#559fcd 362px,#418fc5 368px,#519ccc 372px,#3e8dc3 376px,#4f9acb 382px,#4f9acb 384px)"></i><i style="top:195px;height:3px;background:linear-gradient(90deg,#4d99ca 0,#4c98ca 8px,#57a0ce 10px,#4694c7 14px,#57a0ce 20px,#4895c8 24px,#5ba3d0 28px,#4996c8 32px,#60a6d2 36px,#4d99ca 40px,#64a9d3 44px,#4d9aca 48px,#6aadd5 52px,#519ccc 56px,#70b0d6 62px,#57a0ce 66px,#79b5d9 70px,#5ca4d0 74px,#80b9da 78px,#63a8d2 82px,#88bedc 86px,#68acd4 90px,#8fc2de 94px,#72b2d7 100px,#9ecae1 104px,#81badb 108px,#abcfe6 112px,#9fc9e2 112px,#3885bf 116px,#3986c0 116px,#abcfe6 120px,#c4daee 122px,#cadef0 126px,#c1d9ed 128px,#a7cce5 128px,#62a7d1 130px,#68aad3 132px,#b6d4ea 134px,#cde0f1 134px,#dceaf6 142px,#d7e6f5 144px,#c6ddef 144px,#7cb6d9 146px,#74b2d7 148px,#c1dbee 150px,#eff3f8 152px,#fee9de 154px,#fedecf 160px,#f8ece7 162px,#e3eaf2 162px,#a6cde4 164px,#a1cbe3 166px,#d6e6f3 168px,#efeef1 168px,#fbded2 170px,#fc9779 172px,#fc8060 172px,#f5543c 178px,#e84232 178px,#b91d1e 180px,#820711 180px,#72030e 182px,#6c010e 196px,#73030f 208px,#8b0c14 208px,#cd2d26 210px,#f04e39 210px,#fc8767 216px,#fcb398 218px,#fee0d2 228px,#fceee8 230px,#ddeaf6 232px,#cee1f2 234px,#e9f2fa 238px,#d8e7f5 248px,#a6cde4 252px,#ccdff1 254px,#bcd7eb 264px,#95c4e0 266px,#5ca3cf 268px,#5fa5d0 270px,#a4cce4 272px,#9cc8e1 274px,#7ab6d9 278px,#98c7e0 282px,#6badd5 286px,#8abfdd 290px,#7eb8da 292px,#63a8d3 294px,#82bbdb 298px,#5ca4d0 302px,#79b6d9 306px,#569fce 312px,#71b1d7 316px,#509bcb 320px,#67abd4 324px,#4a97c9 328px,#62a7d2 332px,#4694c7 336px,#5ba3d0 342px,#4492c6 346px,#58a1ce 350px,#4391c6 354px,#529ccc 358px,#3f8dc4 362px,#4f9bcb 366px,#3f8ec4 372px,#4c98c9 376px,#3f8dc4 380px,#3f8dc4 384px)"></i><i style="top:198px;height:3px;background:linear-gradient(90deg,#4895c8 0,#4e99ca 8px,#4b97c9 12px,#509bcb 16px,#4b97c9 20px,#539dcc 24px,#4a97c9 28px,#57a0ce 32px,#4b97c9 36px,#5ca4d0 40px,#4c98ca 44px,#61a7d2 48px,#4e9acb 52px,#68abd4 56px,#529dcc 60px,#6fb0d6 64px,#57a0ce 68px,#77b4d8 72px,#5fa6d1 78px,#7db8da 80px,#64a9d3 86px,#87bddc 90px,#69add5 94px,#8fc2de 98px,#75b3d8 102px,#9ecae2 106px,#85bddc 110px,#acd0e6 114px,#a4cce4 114px,#438ec4 118px,#428ec4 118px,#afd0e8 122px,#c5dbef 124px,#cadef0 128px,#bed8ed 130px,#7db6d9 132px,#6bacd4 132px,#7db7da 134px,#c5dcef 136px,#d8e7f5 138px,#dbe9f6 144px,#d1e3f3 146px,#92c2e0 148px,#82badb 148px,#9bc7e2 150px,#dfebf7 152px,#fbf1ed 154px,#fedaca 160px,#fee3d6 162px,#f8ebe6 162px,#e3eaf2 164px,#b2d3e8 166px,#b5d4e9 166px,#e7ecf3 168px,#f9e5de 170px,#fc8767 172px,#ec4433 178px,#c62422 180px,#870a13 180px,#72030e 182px,#6c010e 196px,#76040f 208px,#971519 208px,#dc4031 210px,#f5583e 210px,#fc8060 214px,#fcaf94 218px,#fedfd0 228px,#f2f1f3 230px,#d3e4f3 232px,#ebf3fb 236px,#ddeaf7 246px,#afd1e7 250px,#b0d2e7 250px,#cfe1f2 254px,#bed8ec 262px,#9ac6e1 264px,#64a8d2 266px,#68aad3 268px,#9ac7e1 270px,#a7cee5 270px,#9cc8e1 272px,#82bbdb 274px,#87bddc 276px,#98c6e0 280px,#6eafd6 284px,#89bedc 288px,#64a9d3 292px,#81badb 296px,#5ea5d1 300px,#78b5d9 304px,#58a1ce 308px,#6fb0d6 312px,#519ccc 316px,#68abd4 320px,#4b98c9 324px,#60a7d2 328px,#4895c8 334px,#59a1cf 338px,#4492c6 342px,#559fcd 346px,#418fc5 350px,#519ccc 354px,#408fc4 358px,#4c98c9 362px,#3e8dc4 366px,#4a96c9 370px,#3d8bc3 374px,#4592c7 380px,#418fc5 384px)"></i><i style="top:201px;height:3px;background:linear-gradient(90deg,#4f9bcb 0,#4a96c9 10px,#4c98ca 14px,#4a97c9 18px,#4e99ca 22px,#4b97c9 26px,#4f9bcb 30px,#4795c8 32px,#57a0ce 36px,#4996c9 40px,#5aa3d0 44px,#4b98c9 48px,#5fa6d1 52px,#4f9bcb 56px,#66aad4 60px,#549fcd 64px,#6dafd6 68px,#5aa2cf 72px,#75b3d8 76px,#60a6d1 80px,#7db8da 84px,#66aad3 88px,#85bcdc 92px,#6caed6 96px,#91c3de 100px,#7bb7d9 104px,#a1cbe2 108px,#8dc0dd 112px,#add0e6 116px,#a9cee5 116px,#4e97c9 120px,#4b96c8 120px,#b3d2e9 124px,#c7dcef 126px,#cadef0 130px,#bcd7ec 132px,#7eb8da 134px,#79b5d9 134px,#cfe2f2 138px,#e0ecf8 144px,#d9e8f5 146px,#93c4df 150px,#a3cce4 150px,#e1ecf7 152px,#fcf0eb 154px,#fed7c6 160px,#fee1d4 162px,#f8ebe5 164px,#e5ebf2 164px,#c1d9ed 166px,#dfe9f4 168px,#f6ecea 170px,#fcb89f 172px,#fc9475 172px,#fb7c5c 174px,#f14835 178px,#d33127 180px,#8e0f15 180px,#73030f 182px,#6c010e 196px,#71030e 206px,#7c0510 208px,#a81b1c 208px,#e34735 210px,#f75d42 210px,#fc8b6b 214px,#fcb296 218px,#feddce 226px,#f3f1f3 230px,#d7e6f5 232px,#edf5fc 236px,#dae8f6 246px,#b3d3e8 248px,#d0e2f2 252px,#c1d9ed 260px,#9fc9e3 262px,#6caed5 264px,#72b0d6 266px,#a0cae3 268px,#a8cee5 270px,#86bddc 272px,#9cc9e1 276px,#74b3d8 280px,#8abfdd 284px,#67abd4 288px,#80b9da 292px,#60a6d1 296px,#77b4d8 300px,#5aa2cf 306px,#6fb0d6 308px,#549ecd 314px,#64a9d3 318px,#4d9aca 322px,#5da5d1 326px,#4895c8 330px,#57a0ce 334px,#4492c6 338px,#529dcc 342px,#4190c5 346px,#4e9acb 350px,#3f8ec4 354px,#4b97c9 358px,#3e8cc3 362px,#4592c6 366px,#3f8ec4 370px,#4391c6 374px,#418fc5 380px,#4492c6 384px)"></i><i style="top:204px;height:3px;background:linear-gradient(90deg,#4694c7 0,#4795c8 12px,#4c98c9 18px,#4a96c9 22px,#4c98ca 26px,#4c98ca 30px,#4c98ca 34px,#4996c8 38px,#539dcc 42px,#4c98ca 46px,#59a2cf 48px,#4c98ca 52px,#5ea5d1 56px,#519ccc 60px,#64a9d3 64px,#58a1ce 68px,#6daed6 72px,#5aa3cf 76px,#74b3d8 80px,#61a7d2 84px,#7cb7da 88px,#67abd4 92px,#83bbdb 96px,#6eb0d6 98px,#92c4de 102px,#7fb9da 106px,#a2cce3 110px,#91c3de 114px,#aed1e7 118px,#add0e7 118px,#99c6e1 120px,#5aa1ce 122px,#569ecd 122px,#b7d4ea 126px,#c9ddf0 128px,#cadef0 132px,#85bcdc 136px,#8cc0de 136px,#c8def0 138px,#ddeaf7 142px,#dfecf7 148px,#a6cde4 150px,#add1e6 152px,#e3edf7 154px,#fdeee8 156px,#fdd4c2 162px,#fddfd2 164px,#e7ecf2 166px,#cee0f2 168px,#eeeff3 170px,#fbe2d8 170px,#fc8263 174px,#f5543c 178px,#f24935 178px,#d9362a 180px,#971217 180px,#76040f 182px,#6a010d 196px,#72030e 206px,#820711 208px,#b91f1f 208px,#ea4c38 210px,#fb6b4c 212px,#fcae92 216px,#fedacb 226px,#f6f1f0 228px,#dceaf6 230px,#eff6fd 234px,#dfecf7 244px,#bad6eb 246px,#d2e3f3 250px,#c4daee 258px,#a4cce4 260px,#76b3d8 262px,#7cb7d9 264px,#a6cde4 266px,#a9cfe5 268px,#8cc0dd 270px,#9ecae1 274px,#79b6d9 278px,#8bbfdd 282px,#6aadd5 286px,#7db8da 290px,#62a8d2 294px,#73b2d7 298px,#5ba3d0 302px,#6eafd6 306px,#549ecd 310px,#66aad4 314px,#4e9acb 318px,#5ea5d1 322px,#4996c9 326px,#56a0ce 330px,#4593c7 334px,#509bcb 338px,#4391c6 342px,#4b97c9 346px,#418fc5 350px,#4794c8 354px,#408ec4 358px,#4492c6 362px,#4391c6 366px,#418fc5 374px,#3a89c1 384px)"></i><i style="top:207px;height:3px;background:linear-gradient(90deg,#4391c6 0,#4593c7 18px,#4795c8 24px,#4a97c9 32px,#4c98ca 36px,#4b97c9 42px,#4f9acb 46px,#4a97c9 50px,#569fce 54px,#4d99ca 56px,#5ea5d1 60px,#549ecd 64px,#63a8d3 68px,#57a0ce 72px,#6caed5 76px,#5ea5d1 80px,#72b1d7 84px,#62a8d2 86px,#7bb7d9 90px,#6aadd5 94px,#84bcdb 98px,#74b3d8 102px,#96c6df 106px,#87bddc 110px,#a5cde4 114px,#96c6df 116px,#b1d2e8 120px,#a2cae3 122px,#67a9d2 124px,#62a7d1 124px,#bbd7ec 128px,#ccdff1 130px,#cadef0 134px,#91c2df 138px,#d2e4f3 140px,#e5eff9 148px,#cbe0f0 150px,#b7d5ea 152px,#b7d5ea 152px,#e6eef6 154px,#fdece4 156px,#fdd0bd 162px,#fdddcf 164px,#e9edf3 166px,#dbe8f5 168px,#dbe8f6 168px,#e9eef4 170px,#f9e7e0 170px,#fc8e6f 174px,#fa694a 176px,#f24935 178px,#dd362a 180px,#a31518 180px,#7a0510 182px,#68000d 190px,#72030f 206px,#890b13 208px,#cb2c26 208px,#f1533c 210px,#fc8c6c 214px,#fcaf93 216px,#fed8c7 224px,#f7f0ee 228px,#e1edf8 230px,#f2f8fd 234px,#ddeaf7 242px,#c1d9ed 246px,#d4e4f4 248px,#bed8ec 258px,#80badb 260px,#9bc7e2 262px,#b0d2e8 264px,#93c4df 268px,#9fcae2 272px,#81badb 276px,#90c2de 280px,#6eafd6 284px,#7db8da 288px,#65a9d3 292px,#76b4d8 294px,#5da4d0 298px,#6dafd6 302px,#57a0ce 306px,#63a9d3 310px,#529dcc 314px,#5ea5d1 318px,#4b98c9 322px,#569fce 326px,#4694c7 330px,#4e99ca 334px,#4492c6 338px,#4895c8 342px,#4391c6 346px,#4391c6 350px,#408ec4 358px,#3a89c2 384px)"></i><i style="top:210px;height:3px;background:linear-gradient(90deg,#4593c7 0,#4c98ca 34px,#4d99ca 40px,#4d99ca 48px,#4f9bcb 54px,#539dcc 58px,#539dcc 62px,#5ea5d1 64px,#56a0ce 68px,#62a8d2 72px,#5aa2cf 76px,#6aadd5 80px,#5fa6d1 82px,#73b2d7 86px,#68abd4 90px,#7bb7d9 94px,#6dafd6 98px,#87bddc 102px,#7bb7da 104px,#99c7e0 108px,#8cc0dd 112px,#a8cee5 116px,#9fcae2 120px,#b5d4e9 122px,#aacee6 124px,#75b2d7 126px,#6fafd6 126px,#c0d9ed 130px,#d2e3f3 134px,#cadff0 136px,#a3cbe4 138px,#a1cbe3 140px,#dae8f5 142px,#eaf3fb 150px,#c3dbee 154px,#e8eff7 156px,#feeae1 158px,#fdcdb8 164px,#fddacb 166px,#edeff4 168px,#e4eef8 168px,#f9ede9 170px,#fcbca3 172px,#fb7c5d 174px,#f5543c 178px,#e1362a 180px,#7f0610 182px,#71020e 184px,#6c010e 196px,#75040f 206px,#951418 208px,#db4131 208px,#f75d42 210px,#fc8363 212px,#fcaa8d 216px,#fdd4c3 224px,#faefeb 226px,#e7f0fa 228px,#f4f9fe 232px,#dae9f6 242px,#c7dcef 244px,#d4e4f4 248px,#c2daee 256px,#8cc0dd 258px,#b1d2e8 262px,#add0e6 264px,#9ac8e0 266px,#a5cde4 270px,#87bddc 274px,#91c3de 278px,#75b3d8 280px,#80b9da 284px,#67abd4 288px,#76b4d8 292px,#60a6d1 296px,#6caed5 300px,#5ba3d0 304px,#65aad4 306px,#539ecd 310px,#5ba3d0 314px,#509bcb 318px,#56a0ce 322px,#4996c8 326px,#4d99ca 330px,#4693c7 334px,#4593c7 338px,#3b8bc2 384px)"></i><i style="top:213px;height:3px;background:linear-gradient(90deg,#4492c6 0,#4d99ca 46px,#4b98c9 52px,#549fcd 60px,#549ecd 66px,#5ba3d0 70px,#59a2cf 72px,#61a7d2 76px,#5ea5d1 80px,#6caed6 82px,#63a9d3 86px,#73b2d7 90px,#69acd5 94px,#79b5d9 98px,#73b2d8 100px,#8cc0dd 104px,#84bcdb 108px,#9cc9e1 112px,#94c4df 114px,#abd0e6 118px,#a4cde3 122px,#b9d6eb 124px,#b2d2e8 126px,#83bbdb 128px,#7db7da 128px,#c4dbee 132px,#d3e4f3 138px,#acd0e6 140px,#b2d3e8 142px,#dfecf7 144px,#ecf4fb 152px,#cee0f2 154px,#ecf0f6 156px,#fee8dd 158px,#fdcab5 164px,#fdccb8 166px,#f4f1f2 168px,#f6f3f4 170px,#fdc5b0 172px,#fc8667 174px,#f85f43 176px,#e5362a 180px,#830711 182px,#72030e 182px,#6c010e 196px,#71030e 206px,#7b0510 206px,#a61b1c 208px,#e34b37 208px,#f86346 210px,#fcaa8e 216px,#fedaca 224px,#f2f3f6 226px,#f3f4f7 228px,#fbf7f5 232px,#e7f1fa 238px,#cde0f1 242px,#d7e6f5 246px,#c6dcef 254px,#98c6e0 256px,#b7d5ea 260px,#a2cce3 264px,#a8cee5 268px,#90c2de 272px,#98c7e0 274px,#7db8da 278px,#85bcdc 282px,#6aadd5 286px,#72b1d7 290px,#63a8d3 292px,#6badd5 296px,#5ca4d0 300px,#64a9d3 304px,#58a1cf 308px,#5da5d1 310px,#519dcc 314px,#529dcc 318px,#4f9bcb 322px,#4896c8 330px,#3888c1 384px)"></i><i style="top:216px;height:3px;background:linear-gradient(90deg,#4290c5 0,#4f9bcb 56px,#549ecd 68px,#5ca4d0 74px,#61a7d2 78px,#62a8d2 84px,#6baed5 86px,#69acd5 90px,#72b2d7 94px,#6badd5 96px,#7eb8da 100px,#7bb7d9 104px,#91c3de 106px,#8dc1dd 110px,#a1cbe2 114px,#9ecae1 118px,#b0d1e7 120px,#b0d1e7 124px,#bed8ec 126px,#a8cde6 128px,#92c3df 130px,#8cc0de 130px,#c8def0 134px,#d4e5f4 140px,#b6d5e9 142px,#e6f0f9 146px,#f2f8fd 152px,#d7e7f5 156px,#eff1f5 158px,#fee5d9 160px,#fdc5af 164px,#fdc8b2 166px,#fcefea 170px,#fcf1ed 170px,#fdccb9 172px,#fb7354 176px,#ea382b 180px,#c72220 180px,#880a13 182px,#72030f 182px,#6b010d 196px,#72030e 206px,#810711 206px,#b6201f 208px,#ea4f3a 208px,#fb7252 210px,#fca487 214px,#fdd5c4 222px,#f7f4f4 226px,#f9f3f1 228px,#fff3ed 230px,#f1f7fd 234px,#e0ecf8 238px,#d1e2f3 240px,#d8e7f5 246px,#cadef0 252px,#a3cce3 254px,#bdd7ec 258px,#a9cfe5 262px,#abcfe5 266px,#97c6e0 268px,#99c7e0 272px,#85bcdc 276px,#85bddc 280px,#72b2d7 282px,#73b2d7 286px,#66aad4 290px,#6aadd5 294px,#60a6d2 296px,#62a8d2 300px,#5da5d1 304px,#57a0ce 312px,#519ccc 318px,#4392c6 340px,#3686c0 384px)"></i><i style="top:219px;height:3px;background:linear-gradient(90deg,#408fc5 0,#4f9bcb 60px,#64a9d3 82px,#67abd4 88px,#6fb0d6 94px,#77b4d9 100px,#84bcdb 104px,#83bbdb 106px,#95c5df 110px,#97c6e0 114px,#a6cde4 116px,#a8cee5 120px,#b4d3e9 124px,#b5d4e9 126px,#c0d9ed 130px,#9bc7e1 132px,#cde0f1 136px,#d6e6f4 142px,#c2daee 144px,#d1e3f3 146px,#ecf4fb 148px,#f7f4f4 154px,#e1edf8 156px,#f3f1f2 158px,#fdd1be 162px,#fcbfa6 166px,#fdcdb9 168px,#fee7dc 170px,#fee4d7 172px,#fcb79d 174px,#f86246 176px,#ec3a2c 180px,#cf2923 180px,#8e0d14 182px,#74030f 182px,#6a010d 196px,#72030f 206px,#880a13 206px,#c82a25 208px,#f1543d 208px,#fc9374 212px,#fdd1be 222px,#fbf4f1 226px,#ffeee6 228px,#f1f7fd 234px,#d7e6f5 240px,#d7e6f5 246px,#c3dbee 250px,#aed1e7 252px,#c0d8ed 256px,#b1d2e8 260px,#add0e6 264px,#a0cbe2 266px,#a2cbe2 270px,#8ec1de 274px,#8dc1dd 276px,#7ab6d9 280px,#77b5d9 284px,#6aadd5 286px,#6aadd5 290px,#67abd4 294px,#61a7d2 302px,#59a2cf 308px,#408fc5 340px,#3484bf 384px)"></i><i style="top:222px;height:3px;background:linear-gradient(90deg,#3e8ec4 0,#509ccc 64px,#6badd5 92px,#70b1d7 98px,#85bcdc 104px,#93c4df 110px,#a6cee4 118px,#b3d3e8 124px,#c6dcef 132px,#a9cfe5 134px,#d6e6f4 138px,#d8e7f5 144px,#ccdff1 146px,#f2f8fd 150px,#fff1ea 154px,#edf2f8 158px,#feddce 162px,#fcbba2 166px,#fcbca3 168px,#fedbcc 172px,#fdd3c0 172px,#f9674a 176px,#eb392c 180px,#d12923 180px,#960f15 182px,#77040f 182px,#68000d 194px,#75040f 206px,#931318 206px,#da3f30 208px,#f75e43 208px,#fc9c7d 214px,#fdcbb7 220px,#ffece2 224px,#fff2eb 230px,#f3f9fe 234px,#ddebf7 238px,#d1e3f3 248px,#b8d5ea 250px,#c4daee 254px,#b8d5ea 258px,#aacfe5 266px,#99c7e0 272px,#85bcdc 278px,#77b4d9 282px,#68acd5 290px,#3f8ec4 342px,#3383be 384px)"></i><i style="top:225px;height:3px;background:linear-gradient(90deg,#3d8dc3 0,#509ccc 64px,#71b1d7 100px,#80badb 104px,#91c3de 110px,#cadef0 134px,#b5d4e9 136px,#d9e8f5 140px,#dceaf6 146px,#d5e5f4 148px,#f7f8fb 152px,#ffede4 156px,#f5f4f6 160px,#fdc6b0 164px,#fcb296 168px,#fcbca4 170px,#fdcbb6 172px,#fca487 174px,#f5543d 178px,#ea382b 180px,#d52923 180px,#7b0510 182px,#71020e 186px,#6a010d 196px,#71020e 204px,#7a0510 206px,#a31a1c 206px,#e24b37 208px,#f86447 208px,#fc9b7d 214px,#fdd1be 220px,#fee6db 222px,#fff1ea 230px,#f1f7fd 234px,#e2edf8 236px,#cee1f2 246px,#c4dbee 250px,#c8ddf0 252px,#97c6e0 272px,#6aadd5 286px,#3d8dc3 346px,#3282be 384px)"></i><i style="top:228px;height:3px;background:linear-gradient(90deg,#3b8bc2 0,#529dcc 68px,#71b1d7 98px,#cfe1f2 136px,#c1d9ed 138px,#dfecf7 144px,#e0ecf8 150px,#f4f6fa 152px,#fee9df 156px,#fdf1eb 160px,#fcbaa0 166px,#fcaa8d 170px,#fcbaa1 172px,#fcb79d 174px,#f6583f 178px,#e9372b 180px,#d82924 180px,#800610 182px,#71020e 184px,#6a010d 196px,#72030e 204px,#810711 206px,#b82020 206px,#ea4e3a 208px,#fb7556 210px,#fdcbb6 220px,#fee0d3 222px,#fcf4f1 232px,#e8f1fa 234px,#d3e4f3 244px,#cbdff1 248px,#bad6eb 258px,#7cb7da 280px,#68acd5 290px,#3c8cc3 346px,#3181bd 384px)"></i><i style="top:231px;height:3px;background:linear-gradient(90deg,#1f68aa 0,#1b62a3 18px,#4291c6 32px,#64a9d3 90px,#85bcdc 106px,#d3e4f3 138px,#cfe1f2 142px,#ebf3fb 148px,#ecf3fa 152px,#ffede5 154px,#fee3d7 160px,#fee4d8 162px,#fcbaa1 166px,#fc9f81 170px,#fcaa8d 174px,#fc8e6e 176px,#f14533 178px,#dc2a25 180px,#bc191c 182px,#850812 182px,#72030e 184px,#6a010d 196px,#74030f 204px,#901016 206px,#d4372b 206px,#f4583f 208px,#fc8969 212px,#fdc4ad 218px,#fed9c9 220px,#fcf2ee 230px,#eef5fc 234px,#d1e2f3 246px,#b4d3e9 260px,#66abd4 290px,#3a8ac2 350px,#3080bd 384px)"></i><i style="top:234px;height:3px;background:linear-gradient(90deg,#08326e 0,#093875 24px,#0c4485 26px,#2d7cba 30px,#4190c5 32px,#69add5 94px,#d0e1f2 136px,#d5e5f4 144px,#f1f7fd 150px,#f7f5f5 154px,#fee4d8 158px,#fedecf 162px,#feddce 164px,#fcaa8e 168px,#fc9475 172px,#fc9879 174px,#f75f44 178px,#dd2a25 180px,#c21d1e 182px,#890a13 182px,#73030f 184px,#6a010d 196px,#71030e 204px,#7c0610 204px,#aa1b1c 206px,#e44635 206px,#f75f43 208px,#fdd0bd 220px,#fdf1eb 230px,#f5f9fd 232px,#d8e7f5 244px,#a1cbe2 268px,#68acd5 290px,#3989c2 350px,#3080bc 384px)"></i><i style="top:237px;height:3px;background:linear-gradient(90deg,#08306b 0,#08336f 28px,#115498 30px,#3080bc 32px,#4191c5 36px,#6cafd6 98px,#d3e3f3 136px,#ddeaf7 146px,#f7f8fb 150px,#ffece4 156px,#fdd4c2 162px,#fdd4c1 164px,#fc9070 172px,#fc8464 176px,#e8372b 180px,#c41c1e 182px,#920c14 182px,#76040f 184px,#68000d 194px,#72030f 204px,#880b13 204px,#c72824 206px,#ee4c38 206px,#fb7657 210px,#fdc7b1 218px,#f8f8fa 232px,#dceaf6 242px,#9dc9e1 270px,#67abd4 290px,#3989c1 350px,#2e7ebc 384px)"></i><i style="top:240px;height:3px;background:linear-gradient(90deg,#08306b 0,#083572 30px,#236fb0 32px,#3f8ec4 36px,#72b2d8 100px,#d1e2f3 136px,#ecf4fc 148px,#fdf4f0 152px,#fee0d1 158px,#fdcbb6 164px,#fcb69b 168px,#fc8060 174px,#fb7051 176px,#dc2924 180px,#c91d1e 182px,#7c0510 184px,#68000d 190px,#78040f 204px,#9d1518 204px,#dc3c2e 206px,#f5543c 206px,#fcbea5 218px,#ffeee6 230px,#eef5fc 236px,#9bc8e0 272px,#66abd4 290px,#3989c1 350px,#2e7ebc 384px)"></i><i style="top:243px;height:3px;background:linear-gradient(90deg,#08306b 0,#083471 32px,#1d68aa 34px,#3d8dc4 38px,#72b2d8 100px,#d4e4f4 136px,#f6f7fa 150px,#fee8de 156px,#fcb79d 168px,#fb7b5b 174px,#f75a40 178px,#cd1d1f 182px,#ad1218 182px,#800611 184px,#70020e 186px,#6b010e 196px,#72030e 202px,#820711 204px,#e74030 206px,#f96145 208px,#fcb99f 218px,#fee8de 228px,#f6f8fb 234px,#94c5df 274px,#67abd4 290px,#3888c1 350px,#2e7ebb 384px)"></i><i style="top:246px;height:3px;background:linear-gradient(90deg,#08306b 0,#08326e 34px,#0e488a 36px,#307fbb 38px,#4292c6 46px,#72b2d8 100px,#d4e4f4 136px,#f5f8fc 150px,#fee4d8 156px,#fcac90 168px,#fa6749 176px,#e8362a 180px,#cd1d1f 182px,#b01219 182px,#820611 184px,#6e020e 186px,#6c010e 198px,#75030f 202px,#920f15 204px,#d32e26 204px,#f04634 206px,#fca487 214px,#fee4d8 226px,#f5f8fb 234px,#9bc8e0 272px,#67abd4 290px,#3888c1 350px,#2d7dbb 384px)"></i><i style="top:249px;height:3px;background:linear-gradient(90deg,#08306b 0,#083470 36px,#2976b4 46px,#4896c8 56px,#73b2d8 100px,#d4e5f4 136px,#f5f8fb 150px,#fedccd 158px,#fc9f81 170px,#ef4030 178px,#cd1c1f 182px,#b11319 182px,#860711 184px,#6c010e 186px,#6f020e 198px,#71030e 202px,#7d0610 202px,#df3429 204px,#f14734 206px,#fcaf93 216px,#fee7db 228px,#f3f8fd 234px,#9cc9e1 272px,#67abd5 290px,#3888c1 350px,#2d7dbb 384px)"></i><i style="top:252px;height:3px;background:linear-gradient(90deg,#08306b 0,#083471 44px,#185b9d 52px,#4593c7 58px,#76b4d8 100px,#d5e5f4 136px,#f6f8fb 150px,#fedbcc 158px,#fc9474 170px,#ed3c2d 178px,#cc1c1e 182px,#76040f 184px,#68000d 188px,#73030f 202px,#890a13 202px,#c62220 204px,#e9382b 204px,#fb7b5b 210px,#fdc5af 220px,#ffece3 230px,#f0f7fd 236px,#9fcbe2 270px,#67abd5 290px,#3888c1 350px,#2d7dbb 384px)"></i><i style="top:255px;height:3px;background:linear-gradient(90deg,#08306b 0,#08326e 52px,#093d7d 54px,#2878b7 58px,#4a98c9 60px,#76b4d8 100px,#d5e5f4 136px,#f6f8fb 150px,#fdd6c4 160px,#fc9b7c 170px,#f14633 178px,#cb1b1e 182px,#9a0c14 184px,#79040f 184px,#67000d 186px,#6f020e 198px,#79040f 202px,#9d1116 202px,#d42a24 204px,#eb3a2c 204px,#fc8d6d 212px,#fee0d1 226px,#fdf4f0 232px,#f1f7fd 236px,#9dc9e1 272px,#67acd5 290px,#3888c1 350px,#2c7cbb 384px)"></i><i style="top:258px;height:3px;background:linear-gradient(90deg,#0a3d7d 0,#08306b 16px,#08326e 50px,#125193 54px,#3685bf 56px,#4c99ca 60px,#73b3d8 100px,#d5e5f4 136px,#f7f8fb 150px,#fdd1be 160px,#fc9b7c 170px,#f14633 178px,#cb1b1e 182px,#9a0c14 184px,#79040f 184px,#67000d 186px,#6f020e 198px,#72030e 200px,#830711 202px,#b8191b 202px,#dd2c25 204px,#f5533b 206px,#fcb398 218px,#fee8de 228px,#f1f7fd 236px,#9dc9e1 272px,#68acd5 290px,#3888c1 350px,#2c7cbb 384px)"></i><i style="top:261px;height:3px;background:linear-gradient(90deg,#2b7ab8 0,#2572b2 6px,#08326e 16px,#083471 42px,#16589a 50px,#4090c5 54px,#76b4d8 100px,#d5e5f4 136px,#f7f8fb 150px,#fdd1be 160px,#fc9b7c 170px,#f14633 178px,#cb1b1e 182px,#9a0c14 184px,#79040f 184px,#67000d 186px,#6f020e 198px,#75030f 200px,#900c14 202px,#c82120 202px,#e22f27 204px,#fa6849 208px,#fcb99f 218px,#fee8de 228px,#f1f7fd 236px,#9dc9e1 272px,#68acd5 290px,#3888c1 350px,#2d7dbb 384px)"></i><i style="top:264px;height:3px;background:linear-gradient(90deg,#3989c1 0,#2e7dba 12px,#165b9e 16px,#083572 18px,#083471 30px,#226dae 42px,#4392c6 52px,#73b3d8 100px,#d5e5f4 136px,#f7f8fb 150px,#fdd1be 160px,#fc9b7c 170px,#f14633 178px,#cb1b1e 182px,#9a0c14 184px,#7a040f 184px,#67000d 186px,#6f020e 198px,#7e0610 200px,#d12321 202px,#f14633 206px,#fcad91 216px,#fee8de 228px,#f1f7fd 236px,#9dc9e1 272px,#68acd5 290px,#3888c1 350px,#2d7dbb 384px)"></i><i style="top:267px;height:3px;background:linear-gradient(90deg,#3989c1 0,#3685bf 16px,#1c65a8 18px,#0b4282 22px,#15589a 26px,#3484be 34px,#62a8d3 86px,#79b6d9 102px,#d5e5f4 136px,#f7f8fb 150px,#fdd1be 160px,#fc9b7c 170px,#f14633 178px,#cb1b1e 182px,#9a0c14 184px,#7a040f 184px,#67000d 186px,#6f020e 198px,#73030f 200px,#870812 200px,#bd181c 202px,#d82523 202px,#f5523b 206px,#fcb398 218px,#fee8de 228px,#f1f7fd 236px,#9dc9e1 272px,#68acd5 290px,#3888c1 350px,#2d7dbb 384px)"></i><i style="top:270px;height:3px;background:linear-gradient(90deg,#3989c1 0,#3686bf 20px,#3585bf 24px,#73b3d8 100px,#d5e5f4 136px,#f7f8fb 150px,#fdd1be 160px,#fc9b7c 170px,#f14633 178px,#cb1b1e 182px,#9a0c14 184px,#7a040f 184px,#67000d 186px,#6f020e 198px,#79040f 200px,#c51a1d 202px,#ec3a2c 204px,#fc8d6d 212px,#fedfd1 226px,#fdf4f0 232px,#f1f7fd 236px,#9dc9e1 272px,#68acd5 290px,#3888c1 350px,#2d7dbb 384px)"></i><i style="top:273px;height:3px;background:linear-gradient(90deg,#3989c1 0,#509ccb 64px,#73b3d8 100px,#d5e5f4 136px,#f7f8fb 150px,#fdd1be 160px,#fc9b7c 170px,#f14633 178px,#cb1b1e 182px,#9a0c14 184px,#7a040f 184px,#67000d 186px,#69010d 198px,#810611 200px,#b01218 200px,#cc1c1e 202px,#f14633 206px,#fcad91 216px,#fee8de 228px,#f1f7fd 236px,#9dc9e1 272px,#67acd5 290px,#3888c1 350px,#2d7dbb 384px)"></i><i style="top:276px;height:3px;background:linear-gradient(90deg,#3989c1 0,#509ccb 64px,#73b3d8 100px,#d5e5f4 136px,#f7f8fb 150px,#fdd1be 160px,#fc9b7c 170px,#f14633 178px,#cb1b1e 182px,#9a0c14 184px,#7a040f 184px,#67000d 186px,#69010d 198px,#73030f 198px,#8c0912 200px,#b51319 200px,#d92523 202px,#f85e42 208px,#fcb99f 218px,#fee8de 228px,#f1f7fd 236px,#afd1e7 264px,#81b8d9 272px,#57a0ce 292px,#3181bd 360px,#2d7dbb 384px)"></i><i style="top:279px;height:3px;background:linear-gradient(90deg,#3989c1 0,#509ccb 64px,#73b3d8 100px,#d5e5f4 136px,#f7f8fb 150px,#fdd1be 160px,#fc9b7c 170px,#f14633 178px,#cb1b1e 182px,#9a0c14 184px,#7a040f 184px,#67000d 186px,#6a010d 198px,#7a050f 198px,#bc151a 200px,#ec3a2c 204px,#fc8d6d 212px,#fedfd1 226px,#fdf4f0 232px,#f1f7fd 236px,#b2d3e8 264px,#a1cbe2 266px,#529acb 270px,#428dc4 276px,#2a7ab9 370px,#2c7cbb 384px)"></i><i style="top:282px;height:3px;background:linear-gradient(90deg,#3989c1 0,#509ccb 64px,#73b3d8 100px,#d5e5f4 136px,#f7f8fb 150px,#fdd1be 160px,#fc9b7c 170px,#f14633 178px,#cb1b1e 182px,#9a0c14 184px,#7a040f 184px,#67000d 186px,#6b010d 198px,#7d0510 198px,#bc151a 200px,#ec3a2c 204px,#fc8d6d 212px,#fedfd1 226px,#fdf4f0 232px,#f1f7fd 236px,#a8cee5 266px,#64a9d3 288px,#3686c0 352px,#2d7dbb 384px)"></i><i style="top:285px;height:3px;background:linear-gradient(90deg,#3181bd 0,#3180bc 36px,#4e9acb 62px,#73b3d8 100px,#d5e5f4 136px,#f7f8fb 150px,#fdd1be 160px,#fc9b7c 170px,#f14633 178px,#cb1b1e 182px,#9a0c14 184px,#7a040f 184px,#67000d 186px,#6c010e 198px,#bc151a 200px,#ec3a2c 204px,#fc8d6d 212px,#fedfd1 226px,#fdf4f0 232px,#f1f7fd 236px,#9dc9e1 272px,#68acd5 290px,#3888c1 350px,#2d7dbb 384px)"></i><i style="top:288px;height:3px;background:linear-gradient(90deg,#1e6cb1 0,#1e6cb1 4px,#0d4d92 8px,#10559b 36px,#3a8ac2 44px,#73b3d8 100px,#d5e5f4 136px,#f7f8fb 150px,#fdd1be 160px,#fc9b7c 170px,#f14633 178px,#cb1b1e 182px,#9a0c14 184px,#7a040f 184px,#67000d 186px,#6c010e 198px,#bc151a 200px,#ec3a2c 204px,#fc8d6d 212px,#fedfd1 226px,#fdf4f0 232px,#f1f7fd 236px,#9dc9e1 272px,#68acd5 290px,#3888c1 350px,#2d7dbb 384px)"></i><i style="top:291px;height:3px;background:linear-gradient(90deg,#3484bf 0,#3e8ec4 42px,#74b3d8 100px,#d5e5f4 136px,#f7f8fb 150px,#fdd1be 160px,#fc9b7c 170px,#f14633 178px,#cb1b1e 182px,#9a0c14 184px,#7a040f 184px,#67000d 186px,#6c010e 198px,#bc151a 200px,#ec3a2c 204px,#fc8d6d 212px,#fedfd1 226px,#fdf4f0 232px,#f1f7fd 236px,#9dc9e1 272px,#68acd5 290px,#3888c1 350px,#2d7dbb 384px)"></i><i style="top:294px;height:3px;background:linear-gradient(90deg,#4a97c9 0,#63a8d2 64px,#8bbfdd 100px,#e1edf8 142px,#f9f7f8 150px,#fcbca3 164px,#fb7656 174px,#e22e27 180px,#b71419 182px,#7a040f 184px,#67000d 186px,#6c010e 198px,#bc151a 200px,#ec3a2c 204px,#fc8d6d 212px,#fedfd1 226px,#fdf4f0 232px,#f1f7fd 236px,#9dc9e1 272px,#68acd5 290px,#3888c1 350px,#2d7dbb 384px)"></i><i style="top:297px;height:3px;background:linear-gradient(90deg,#81bada 0,#9ec9e2 64px,#ecf4fb 144px,#fbf6f5 148px,#fdc6b0 162px,#fc9172 170px,#f14633 178px,#cb1b1e 182px,#9a0c14 184px,#7a040f 184px,#67000d 186px,#6c010e 198px,#bc151a 200px,#ec3a2c 204px,#fc8d6d 212px,#fedfd1 226px,#fdf4f0 232px,#f1f7fd 236px,#9dc9e1 272px,#68acd5 290px,#3888c1 350px,#2d7dbb 384px)"></i><i style="top:300px;height:3px;background:linear-gradient(90deg,#6fafd5 0,#8abedd 64px,#b6d4e9 106px,#f3f8fc 148px,#fee7dc 154px,#fca486 168px,#f5533c 176px,#d72422 180px,#b71419 182px,#7a040f 184px,#67000d 186px,#6c010e 198px,#bc151a 200px,#ec3a2c 204px,#fc8d6d 212px,#fedfd1 226px,#fdf4f0 232px,#f1f7fd 236px,#9dc9e1 272px,#68acd5 290px,#3888c1 350px,#2d7dbb 384px)"></i><i style="top:303px;height:3px;background:linear-gradient(90deg,#3584be 0,#2e7ab6 16px,#4c91c3 92px,#7fb2d6 124px,#d2e3f3 134px,#f7f8fa 150px,#fcbca3 164px,#fb7656 174px,#e22e27 180px,#b71419 182px,#7a040f 184px,#67000d 186px,#6c010e 198px,#bc151a 200px,#ec3a2c 204px,#fc8d6d 212px,#fedfd1 226px,#fdf4f0 232px,#f1f7fd 236px,#9dc9e1 272px,#68acd5 290px,#3888c1 350px,#2d7dbb 384px)"></i><i style="top:306px;height:3px;background:linear-gradient(90deg,#1e6db1 0,#1e6db1 4px,#0c4e95 8px,#2066a5 120px,#2f7db9 124px,#6daed5 128px,#bbd6eb 132px,#d5e5f4 136px,#f7f8fb 150px,#fdd1be 160px,#fc9b7c 170px,#f14633 178px,#cb1b1e 182px,#9a0c14 184px,#7a040f 184px,#67000d 186px,#6c010e 198px,#bc151a 200px,#ec3a2c 204px,#fc8d6d 212px,#fedfd1 226px,#fdf4f0 232px,#f1f7fd 236px,#9dc9e1 272px,#68acd5 290px,#3888c1 350px,#2d7dbb 384px)"></i><i style="top:309px;height:2px;background:linear-gradient(90deg,#1f6eb2 0,#1865ab 4px,#0c5299 8px,#236cac 120px,#2c79b6 124px,#5ea4d0 128px,#bcd7eb 132px,#d5e5f4 136px,#f7f8fb 150px,#fdd1be 160px,#fc9b7c 170px,#f14633 178px,#cb1b1e 182px,#9a0c14 184px,#7a040f 184px,#67000d 186px,#6c010e 198px,#bc151a 200px,#ec3a2c 204px,#fc8d6d 212px,#fedfd1 226px,#fdf4f0 232px,#f1f7fd 236px,#9dc9e1 272px,#68acd5 290px,#3888c1 350px,#2d7dbb 384px)"></i></div></div>
<div class="hmc" style="left:540.7px;top:474.3px;width:648.80px;height:304.70px"><div class="hm" style="left:-2.70px;top:-2.30px;width:654px;height:310px"><i style="top:0px;height:3px;background:linear-gradient(90deg,#1562a9 0,#1562a9 4px,#2370b2 4px,#5398c9 6px,#a1c9e3 6px,#dfe6ed 8px,#f9e1d7 8px,#fdd8c8 10px,#fdd6c5 18px,#fddbcc 18px,#f2e5e1 20px,#bbd3e6 20px,#619fcc 22px,#1f65a7 22px,#0b4b90 24px,#1460a7 26px,#2d7dbb 28px,#5ca4d0 130px,#73b2d7 130px,#c4dbee 132px,#e1eaf3 134px,#f8ece8 134px,#fdcbb6 136px,#fcac8f 142px,#fcb397 152px,#fee1d4 156px,#fee8dd 162px,#fee6db 166px,#fdcfbb 168px,#fc9172 170px,#fc8363 172px,#f85f43 230px,#ea362a 240px,#d11e20 264px,#860711 272px,#850711 318px,#cc191e 328px,#dd2a25 338px,#f6563d 344px,#fb7959 364px,#fc9879 368px,#fed7c6 372px,#fee1d4 376px,#ffede4 402px,#f1f7fd 406px,#bcd7ec 416px,#62a8d3 426px,#2171b5 440px,#08478d 460px,#083d7f 472px,#0a4487 474px,#10579d 474px,#0b549e 476px,#08336f 494px,#08306b 654px)"></i><i style="top:3px;height:3px;background:linear-gradient(90deg,#1561a9 0,#1561a9 4px,#1e6baf 4px,#448cc2 6px,#8bbcdc 6px,#d1dfeb 8px,#f5e3dd 8px,#fddaca 10px,#fdd9ca 18px,#f5e2db 20px,#cbdae8 20px,#7aafd5 22px,#2f75b2 22px,#0f5298 24px,#0b529b 24px,#2878b8 28px,#3888c1 58px,#5ca4d0 130px,#73b2d7 130px,#c4dbee 132px,#e1eaf3 134px,#f8ede8 134px,#fdcbb6 136px,#fcac8f 142px,#fcb397 152px,#fee1d4 156px,#fee8dd 162px,#fee6db 166px,#fdcfbb 168px,#fc9172 170px,#fc8363 172px,#f85f43 230px,#ea362a 240px,#d21f20 264px,#860811 272px,#810610 316px,#8f0a12 320px,#c8181c 326px,#dd2a25 338px,#f6563d 344px,#fb7959 364px,#fc9778 368px,#fdd6c4 372px,#fee1d4 376px,#ffece3 402px,#f2f7fd 406px,#bed8ec 416px,#64a9d3 426px,#2272b5 440px,#08478d 460px,#083e7f 472px,#0a4487 474px,#10579e 474px,#0b549e 476px,#08336f 494px,#08306b 654px)"></i><i style="top:6px;height:3px;background:linear-gradient(90deg,#1460a8 0,#1562a9 4px,#216db0 6px,#4a90c5 6px,#93c0de 8px,#d6e1eb 8px,#f6e3dc 10px,#fdd9ca 10px,#fdd6c5 18px,#fddacb 20px,#f2e3de 20px,#c4d8e7 22px,#317ab7 24px,#135ea5 24px,#2e7ebc 30px,#5ca3d0 130px,#73b2d7 130px,#c3dbee 132px,#e0eaf3 134px,#f7edea 134px,#fdccb8 136px,#fcac90 142px,#fcb397 152px,#fee1d4 156px,#fee8dd 162px,#fee6db 166px,#fdcfbc 168px,#fc9172 170px,#fc8363 172px,#f85f43 230px,#ea362a 240px,#d42021 264px,#a40f15 270px,#850711 274px,#840711 318px,#cc191d 328px,#dd2a25 338px,#f6553d 344px,#fb7959 364px,#fc9576 368px,#fed8c8 374px,#fee2d5 378px,#ffede4 402px,#f1f7fd 406px,#bcd7ec 418px,#62a8d3 428px,#2171b5 440px,#08478d 460px,#083e80 472px,#0b4587 474px,#10579e 474px,#0b549e 476px,#08336f 494px,#08306b 654px)"></i><i style="top:9px;height:3px;background:linear-gradient(90deg,#1460a8 0,#1562a9 6px,#226fb2 6px,#4e94c6 8px,#97c2df 8px,#d4e0ea 10px,#f5e2da 10px,#fdd9c9 12px,#fdd6c5 20px,#fcdbcd 20px,#f0e4e1 22px,#c2d8e8 22px,#76aed5 24px,#3680bb 24px,#1c69ae 26px,#2d7dbb 30px,#5ba3d0 130px,#71b1d7 130px,#c1daed 132px,#f2f1f2 134px,#fdcfbc 136px,#fcaf93 142px,#fcb398 152px,#fee1d3 156px,#fee8dd 162px,#fee6db 166px,#fdcfbc 168px,#fc9273 170px,#fc8464 172px,#f86044 230px,#ea362a 240px,#d21f20 264px,#870811 274px,#800610 300px,#870811 318px,#cc191d 328px,#dd2a25 338px,#f6553c 344px,#fb7959 364px,#fc9f81 370px,#fdd4c1 374px,#fee1d4 378px,#feeae1 402px,#f0f6fd 408px,#bad6eb 418px,#61a7d2 428px,#2171b5 442px,#08488e 460px,#083f81 472px,#0b4588 474px,#11589e 474px,#09519b 478px,#083370 494px,#08306b 654px)"></i><i style="top:12px;height:3px;background:linear-gradient(90deg,#1460a8 0,#1662a9 6px,#2471b3 8px,#4c93c6 8px,#d2dee9 10px,#f6e1d9 12px,#fdd9c9 12px,#fdd6c5 20px,#fcdbcd 22px,#efe4e2 22px,#c1d8e8 24px,#77b0d6 24px,#3b86bf 26px,#2473b5 26px,#2f7fbc 42px,#5aa3cf 130px,#70b0d6 130px,#bed9ec 132px,#f0f0f3 134px,#fdd1bf 136px,#fcaf93 142px,#fcb398 152px,#fee5da 156px,#fee7db 166px,#fdd0bd 168px,#fc9373 170px,#fc8464 172px,#f96044 230px,#ea362a 240px,#d11d1f 266px,#860711 274px,#830711 318px,#a81016 322px,#ce1b1e 328px,#dd2924 338px,#f5543c 344px,#fb7959 364px,#fc9e80 370px,#fdd0bd 374px,#fee1d3 378px,#ffebe2 404px,#eff6fc 408px,#b8d5ea 420px,#60a6d2 430px,#2272b6 442px,#08478e 462px,#083f82 472px,#0b4689 474px,#11599f 474px,#09529c 478px,#083471 494px,#08306b 654px)"></i><i style="top:15px;height:3px;background:linear-gradient(90deg,#1460a8 0,#1662a9 8px,#1f6caf 8px,#3d84bc 10px,#8ab9da 10px,#d5dfe9 12px,#f7e0d7 12px,#fdd6c4 14px,#fdd6c5 22px,#fcdcce 22px,#eee5e3 24px,#c0d7e8 24px,#78b1d7 26px,#3f8bc2 26px,#2a7aba 28px,#559fcd 128px,#5aa2cf 130px,#6fafd6 130px,#bcd8ec 132px,#eeeff3 134px,#fdd4c2 136px,#fcaf93 142px,#fcb398 152px,#fee5d9 156px,#fee7dc 166px,#fdd1be 168px,#fc9374 170px,#fc8464 172px,#f96144 230px,#ea362a 240px,#d32020 266px,#a30f15 272px,#840711 276px,#830711 318px,#9d0d14 322px,#cb181d 328px,#dd2924 338px,#f5533b 344px,#fb7959 364px,#fc9d7f 370px,#fdd4c2 374px,#fee1d4 380px,#ffece3 404px,#eef5fc 410px,#bfd8ed 420px,#5ea5d1 430px,#2272b5 442px,#08478e 462px,#084082 472px,#0b468a 474px,#1159a0 474px,#09529d 478px,#083572 494px,#08306b 654px)"></i><i style="top:18px;height:3px;background:linear-gradient(90deg,#1460a8 0,#1460a7 8px,#145090 10px,#3d7db3 10px,#91bcdb 12px,#dae0e7 12px,#f8dfd5 14px,#fdd6c4 16px,#fdd7c6 22px,#fcdccf 24px,#eee5e4 24px,#c0d7e8 26px,#7ab2d7 26px,#438ec4 28px,#2d7dbb 28px,#4493c7 96px,#59a2cf 130px,#6eafd5 130px,#bad6eb 132px,#edeff3 134px,#fdd6c5 136px,#fcaf94 142px,#fcb398 152px,#fee4d8 156px,#fee7dc 166px,#fdd1be 168px,#fc9475 170px,#fc8464 172px,#f96145 230px,#ea362a 240px,#d21f20 266px,#870811 276px,#800610 310px,#8b0912 320px,#ca181d 328px,#dd2924 338px,#f5523b 344px,#fb7959 364px,#fc9d7e 370px,#fdd4c2 374px,#fee2d4 382px,#ffece4 406px,#f2f7fd 410px,#bdd7ec 420px,#63a9d3 430px,#2171b5 444px,#08478d 464px,#084083 472px,#0b478b 474px,#125aa0 474px,#08519b 478px,#083573 494px,#08306b 642px,#08306b 654px)"></i><i style="top:21px;height:3px;background:linear-gradient(90deg,#1460a8 0,#1460a7 8px,#11569b 8px,#0b3d7c 10px,#134987 10px,#4282b6 12px,#97c0dd 12px,#dde1e7 14px,#f9dfd4 14px,#fdd6c4 16px,#fdd7c6 24px,#fcddd0 24px,#ede6e4 26px,#bfd7e8 26px,#7bb3d8 28px,#438ec4 28px,#2c7cbb 30px,#3d8dc3 82px,#58a1cf 130px,#6daed5 130px,#d4e5f3 134px,#ebeef3 134px,#fdd9c9 136px,#fcb59a 140px,#fcae92 146px,#fcb398 152px,#fee4d7 156px,#fee7dc 166px,#fdd2bf 168px,#fc9575 170px,#fc8565 172px,#f96245 230px,#ea362a 240px,#d01d1f 268px,#850711 276px,#850711 318px,#ca181d 328px,#dc2924 338px,#f6563e 344px,#fb7959 364px,#fc9c7e 370px,#fdd5c3 374px,#fee2d5 384px,#feeae0 406px,#f6f8fb 410px,#bbd7eb 422px,#62a8d2 432px,#2171b5 444px,#08478d 464px,#084184 472px,#0b488b 474px,#125aa1 474px,#09519c 478px,#083674 494px,#08306b 598px,#08306b 654px)"></i><i style="top:24px;height:3px;background:linear-gradient(90deg,#1460a8 0,#1460a7 8px,#11569b 8px,#0b3a78 10px,#093471 10px,#154c89 12px,#4786ba 12px,#9dc3df 14px,#e0e2e7 14px,#faded3 16px,#fdd6c4 18px,#fdd7c6 24px,#fcded1 26px,#ede6e5 26px,#bed6e8 28px,#78b1d7 28px,#408cc3 30px,#2a7aba 30px,#3a8ac2 74px,#58a1ce 130px,#6cadd5 130px,#d2e3f3 134px,#e9edf3 134px,#fae8e1 136px,#fcbda3 140px,#fcae92 142px,#fcb398 152px,#fee3d7 156px,#fee7dd 166px,#fdd2c0 168px,#fc9576 170px,#fc8565 172px,#f96345 230px,#ea362a 240px,#d32020 268px,#a20e15 274px,#840711 278px,#850711 318px,#c9181d 328px,#dc2924 338px,#f6563d 344px,#fb7959 364px,#fc9c7d 370px,#fdd6c5 374px,#fee3d6 386px,#ffebe1 406px,#f0f6fd 412px,#bad6eb 422px,#60a7d2 432px,#2272b6 444px,#08488e 464px,#084285 472px,#0b488c 474px,#135ba1 474px,#08509a 480px,#083675 494px,#08306b 568px,#08306b 654px)"></i><i style="top:27px;height:3px;background:linear-gradient(90deg,#1460a8 0,#1460a7 8px,#11569b 8px,#0b3a78 10px,#08316c 10px,#093571 12px,#164f8c 12px,#4c8bbd 14px,#a3c7e0 14px,#e3e3e7 16px,#faded2 16px,#fdd6c4 18px,#fdd7c6 26px,#fbdfd3 26px,#eae7e9 28px,#bad5e9 28px,#73aed5 30px,#3d89c1 30px,#2978b9 32px,#3888c1 72px,#57a0ce 130px,#6aacd4 130px,#d0e2f2 134px,#e8edf3 134px,#f9e9e3 136px,#fcbda4 140px,#fcae92 142px,#fcb398 152px,#fee3d6 156px,#fee9df 164px,#fee1d4 166px,#fc9677 170px,#fc8565 172px,#f96346 230px,#ea362a 240px,#d21f20 268px,#860811 278px,#820710 318px,#970c13 322px,#c9181d 328px,#dc2824 338px,#f6553d 344px,#fb7959 364px,#fc9b7d 370px,#fedecf 376px,#fee0d2 380px,#ffebe2 408px,#eff6fc 412px,#c0d9ed 422px,#5fa6d1 434px,#2272b5 446px,#08478e 466px,#084286 472px,#0b498d 474px,#135ca2 474px,#08519c 480px,#083775 494px,#08306b 550px,#08306b 654px)"></i><i style="top:30px;height:3px;background:linear-gradient(90deg,#1460a8 0,#1460a7 8px,#11569b 8px,#0b3a78 10px,#08306c 10px,#093572 12px,#19528f 14px,#528fc0 14px,#a9cae1 16px,#e8e3e4 16px,#fbddd0 18px,#fdd6c4 20px,#fdd7c7 26px,#fbdfd4 28px,#e8e6e9 28px,#b5d2e7 30px,#6daad3 30px,#3986c0 32px,#2777b8 32px,#3686c0 72px,#56a0ce 130px,#69acd4 130px,#cde1f1 134px,#e6ecf3 134px,#f9ebe5 136px,#fcb69b 140px,#fcaf94 146px,#fcb398 152px,#fee2d5 156px,#fee9df 164px,#fee2d4 166px,#fc9778 170px,#fc8666 172px,#f96446 230px,#ea372a 240px,#d42121 268px,#a50f15 274px,#850711 278px,#840711 318px,#aa1016 324px,#cc1a1e 328px,#dc2824 338px,#f5543c 344px,#fb7959 364px,#fc9b7c 370px,#fedfd0 376px,#fedccd 378px,#ffece3 408px,#f2f8fd 412px,#bed8ec 424px,#64a9d3 434px,#2272b5 446px,#08478d 466px,#084387 472px,#0b498e 474px,#135ca2 474px,#08509a 480px,#083876 494px,#08306b 540px,#08306b 654px)"></i><i style="top:33px;height:3px;background:linear-gradient(90deg,#1460a8 0,#1460a7 8px,#11569b 8px,#0b3a78 10px,#08306b 12px,#0a3673 14px,#1b5693 14px,#5794c3 16px,#afcde2 16px,#eae3e3 18px,#fbdccf 18px,#fdd6c4 22px,#fdd8c7 28px,#fae0d5 28px,#e5e6e9 30px,#afd0e6 30px,#67a6d1 32px,#3683bf 32px,#2575b7 34px,#3484bf 70px,#559fce 130px,#68abd4 130px,#cbe0f0 134px,#e4ebf3 134px,#f8ece7 136px,#fcb69b 140px,#fcb094 146px,#fcb398 152px,#fee1d4 156px,#fee9df 164px,#fee2d5 166px,#fc9778 170px,#fc8666 172px,#f96446 230px,#eb372a 240px,#d32020 270px,#840711 280px,#840711 318px,#aa1016 324px,#cc1a1e 328px,#dc2824 338px,#f5533c 344px,#fb7959 364px,#fc9a7b 370px,#fee4d7 376px,#fedbcb 380px,#fee4d8 396px,#ffede4 410px,#f1f7fd 414px,#bcd7ec 424px,#62a8d3 434px,#2171b5 448px,#08478d 468px,#084388 472px,#0b4a8f 474px,#145da3 474px,#08509b 480px,#083877 494px,#08306b 534px,#08306b 654px)"></i><i style="top:36px;height:3px;background:linear-gradient(90deg,#1460a8 0,#1460a7 8px,#11569b 8px,#0b3a78 10px,#08306b 12px,#0a3874 14px,#1e5996 16px,#5d98c6 16px,#b4d0e4 18px,#ece3e2 18px,#fcdcce 20px,#fdd6c4 22px,#fdd8c8 28px,#fae0d6 30px,#e2e5e9 30px,#aacde4 32px,#61a3cf 32px,#3380bd 34px,#2474b6 34px,#3383be 70px,#559fcd 130px,#67aad3 130px,#c9def0 134px,#e2eaf3 134px,#f8ede9 136px,#fcb69c 140px,#fcb094 146px,#fcb9a0 152px,#fee1d3 156px,#feeae0 164px,#fee2d5 166px,#fc9879 170px,#fc8666 172px,#fa6547 230px,#eb372a 240px,#d21e20 270px,#860811 280px,#830711 318px,#9e0d14 322px,#cc191d 328px,#db2824 338px,#f5533b 344px,#fb7959 364px,#fc9a7b 370px,#fee4d7 376px,#fedbcc 382px,#fee6da 402px,#ffede5 410px,#f0f7fd 414px,#bbd6eb 426px,#61a7d2 436px,#2171b5 448px,#08488e 468px,#084489 472px,#0c4b8f 474px,#145da4 474px,#084f99 482px,#083978 496px,#08306b 532px,#08306b 654px)"></i><i style="top:39px;height:3px;background:linear-gradient(90deg,#1460a8 0,#1460a7 8px,#11569b 8px,#0b3a78 10px,#08306b 12px,#08306c 14px,#0b3976 16px,#205d9a 16px,#639dc9 18px,#b9d2e5 18px,#eee4e1 20px,#fcdbcd 20px,#fdd6c4 24px,#fdd8c8 30px,#f9e1d7 30px,#e0e4e9 32px,#a4cae3 32px,#5c9fcd 34px,#2f7ebc 34px,#2171b5 36px,#3282be 70px,#549ecd 130px,#66aad3 130px,#c7ddef 134px,#e1eaf3 134px,#f8eeeb 136px,#fcb69c 140px,#fcb095 146px,#fcb99f 152px,#fee0d2 156px,#feeae0 162px,#fee2d6 166px,#fc987a 170px,#fc8767 172px,#fa6547 230px,#eb372a 240px,#d42121 270px,#a40f15 276px,#850711 280px,#830711 318px,#9c0d14 322px,#cb191d 328px,#e02d26 338px,#f6553c 346px,#fb7959 364px,#fc997a 370px,#fee3d6 376px,#fee1d4 380px,#fedccd 382px,#ffebe1 410px,#eff6fc 416px,#b9d5ea 426px,#60a6d2 436px,#2272b6 448px,#08488e 468px,#084589 472px,#0c4b90 474px,#145ea4 474px,#084e97 482px,#083979 496px,#08306b 528px,#08306b 654px)"></i><i style="top:42px;height:3px;background:linear-gradient(90deg,#1460a8 0,#1460a7 8px,#11569b 8px,#0b3a78 10px,#08306b 12px,#08316c 16px,#0b3a77 16px,#24619d 18px,#69a2cc 18px,#bed5e6 20px,#f0e4e1 20px,#fcdbcc 22px,#fdd6c4 26px,#fdd9c9 30px,#f8e2d9 32px,#dbe3eb 32px,#9ec7e2 34px,#579bcb 34px,#2d7bba 36px,#206fb4 38px,#3080bd 70px,#539ecd 130px,#65a9d2 130px,#deeaf5 134px,#f4f1f2 136px,#fdceba 138px,#fcb296 142px,#fcb398 152px,#fee4d7 158px,#feeae0 164px,#fee3d6 166px,#fc997a 170px,#fc8767 172px,#fa6647 230px,#eb372a 240px,#d32020 272px,#870811 280px,#800610 308px,#860711 320px,#cb191d 328px,#e02c26 338px,#f5543c 346px,#fb7959 364px,#fc9879 370px,#fee1d4 376px,#fee4d8 380px,#fedaca 382px,#fee3d7 394px,#ffebe2 412px,#eff6fc 416px,#bfd8ed 426px,#5ea5d1 438px,#2272b5 450px,#08478e 470px,#0c4c91 474px,#155fa5 474px,#084f99 482px,#083a7a 496px,#08306b 526px,#08306b 654px)"></i><i style="top:45px;height:3px;background:linear-gradient(90deg,#1460a8 0,#1460a7 8px,#11569b 8px,#0b3a78 10px,#08306b 12px,#08316c 16px,#0c3b78 18px,#2765a1 18px,#6fa6ce 20px,#c3d7e7 20px,#f2e3dd 22px,#fddacb 22px,#fdd6c5 30px,#fdd9c9 32px,#f7e3db 32px,#d8e2eb 34px,#98c4e0 34px,#5298c9 36px,#2a79b9 36px,#1f6eb3 38px,#2f7fbc 70px,#539dcc 130px,#63a8d2 130px,#dbe9f6 134px,#f1f2f5 136px,#feddce 138px,#fcb79d 140px,#fcb195 146px,#fcb99f 152px,#fedfd1 156px,#ffebe1 162px,#fee3d7 166px,#fc9a7b 170px,#fc8767 172px,#f96245 232px,#eb372a 240px,#d52221 272px,#a70f16 278px,#860711 282px,#850711 320px,#cb181d 328px,#e02c26 338px,#f5533c 346px,#fb7959 364px,#fc9879 370px,#fee0d2 376px,#fee3d6 380px,#fedaca 384px,#fee3d7 394px,#ffece3 412px,#f2f7fd 416px,#bed7ec 428px,#63a9d3 438px,#2171b5 450px,#08478d 470px,#0c4c92 474px,#155fa5 474px,#084d97 484px,#083a7a 496px,#08306b 524px,#08306b 654px)"></i><i style="top:48px;height:3px;background:linear-gradient(90deg,#1460a8 0,#1460a7 8px,#11569b 8px,#0b3a78 10px,#08306b 12px,#08316c 18px,#0d3c79 18px,#2968a2 20px,#72a8cf 20px,#c5d8e6 22px,#f3e2dc 22px,#fddacb 24px,#fdd6c5 32px,#fdd9ca 32px,#f6e3dc 34px,#d5e1eb 34px,#95c1df 36px,#4f95c8 36px,#2877b7 38px,#1d6cb1 40px,#2d7dbb 68px,#529dcc 130px,#62a7d2 130px,#d9e7f5 134px,#eff1f5 136px,#fedfd0 138px,#fcb79d 140px,#fcb195 146px,#fcb99f 152px,#fee3d6 158px,#feeae1 164px,#fee3d7 166px,#fc9a7c 170px,#fc8868 172px,#f96345 232px,#eb372a 240px,#d42121 272px,#a30f15 278px,#840711 282px,#850711 320px,#ca181d 328px,#df2c25 338px,#f5533b 346px,#fb7959 364px,#fc9778 370px,#feded0 376px,#fee5d8 380px,#fedbcb 384px,#fee4d8 398px,#ffede4 414px,#f1f7fd 418px,#bcd7eb 428px,#62a8d2 438px,#2171b5 452px,#08478d 472px,#0c4d93 474px,#1660a6 474px,#084c95 484px,#083b7b 496px,#08306b 522px,#08306b 654px)"></i><i style="top:51px;height:3px;background:linear-gradient(90deg,#1460a8 0,#1460a7 8px,#11569b 8px,#0b3a78 10px,#08306b 12px,#08316c 18px,#0d3c79 20px,#2967a2 20px,#72a8cf 22px,#c5d7e6 22px,#f3e2dc 24px,#fdd6c5 26px,#fdd9ca 34px,#f6e3db 34px,#d5e1eb 36px,#94c1df 36px,#4e95c7 38px,#2776b7 38px,#1c6bb0 40px,#2c7cbb 68px,#519ccc 130px,#61a7d1 130px,#d6e6f4 134px,#edf0f5 136px,#fee0d2 138px,#fcb89e 140px,#fcb196 146px,#fcb99f 152px,#fee2d6 158px,#ffebe2 162px,#fee4d8 166px,#fc9b7d 170px,#fc8868 172px,#f96346 232px,#eb372a 240px,#d31f20 274px,#870811 282px,#810610 318px,#8e0912 322px,#c9181d 328px,#df2b25 338px,#f5523b 346px,#fb7d5d 364px,#fc9778 370px,#fee1d4 378px,#fee1d3 382px,#fedbcc 386px,#fee6db 408px,#ffeee5 414px,#f0f6fd 418px,#bad6eb 430px,#61a7d2 440px,#2171b5 452px,#08488e 472px,#0c4e93 474px,#1660a6 474px,#084b93 486px,#083b7b 498px,#08306b 522px,#08306b 654px)"></i><i style="top:54px;height:3px;background:linear-gradient(90deg,#1460a8 0,#1460a7 8px,#11569b 8px,#0b3a78 10px,#08306b 12px,#08316c 20px,#0d3c79 20px,#2967a2 22px,#71a7cf 22px,#c4d7e6 24px,#f3e2dd 24px,#fdd6c5 26px,#fdd9ca 34px,#f6e3db 36px,#d5e0ea 36px,#94c1df 38px,#4d94c7 38px,#2674b6 40px,#1b69af 42px,#2979b9 68px,#4090c5 106px,#519ccc 130px,#60a6d1 130px,#eceff5 136px,#fee1d4 138px,#fcb89e 140px,#fcb196 146px,#fcb99f 152px,#fee2d5 158px,#ffebe2 162px,#fee4d8 166px,#fc8e6e 172px,#f96446 232px,#eb372a 240px,#d52221 274px,#a60f15 280px,#850711 284px,#840711 320px,#ab1016 324px,#cd1a1e 330px,#df2b25 338px,#f5513a 346px,#fb7d5d 364px,#fc9677 370px,#fee0d2 378px,#fee3d6 382px,#fedccd 386px,#ffebe2 414px,#eff6fc 420px,#c0d9ed 430px,#5fa6d1 440px,#2272b6 452px,#08488e 472px,#0c4e94 474px,#1661a7 474px,#084a91 486px,#083a7a 500px,#08306b 522px,#08306b 654px)"></i><i style="top:57px;height:3px;background:linear-gradient(90deg,#1460a8 0,#1460a7 8px,#11569b 8px,#0b3a78 10px,#08306b 12px,#08316c 20px,#0d3c79 22px,#2967a1 22px,#71a7cf 24px,#c4d7e6 24px,#f2e2dd 26px,#fdd6c5 28px,#fdd9ca 36px,#f6e3db 36px,#d5e0ea 38px,#93c0de 38px,#4d93c7 40px,#2573b5 40px,#1a68ae 42px,#2878b9 68px,#3c8cc3 96px,#509ccb 130px,#5fa5d1 130px,#eaeff5 136px,#faede7 136px,#fcb89e 140px,#fcb196 146px,#fcb99e 152px,#fee6db 158px,#ffebe1 164px,#fee4d8 166px,#fcb196 170px,#fc8e6f 172px,#fb7e5e 196px,#fa6446 232px,#eb372a 240px,#d42121 274px,#a20e15 280px,#840711 284px,#840711 320px,#a91016 324px,#cd1a1e 330px,#e32f27 340px,#f5543c 346px,#fb7d5d 364px,#fc9676 370px,#feded0 378px,#fee2d4 384px,#fedaca 386px,#fee3d6 396px,#ffece3 416px,#eef5fc 420px,#bfd8ec 430px,#64a9d3 440px,#2272b5 454px,#08498f 472px,#0c4f95 474px,#1762a8 474px,#08488f 488px,#083470 508px,#08306b 654px)"></i><i style="top:60px;height:3px;background:linear-gradient(90deg,#1460a8 0,#1460a7 8px,#11569b 8px,#0b3a78 10px,#08306b 12px,#08316c 22px,#0d3c79 22px,#2866a1 24px,#70a7ce 24px,#c4d7e6 26px,#f2e2dd 26px,#fdd6c5 28px,#fdd9ca 36px,#f6e3db 38px,#d5e0ea 38px,#93c0de 40px,#4c92c6 40px,#2472b4 42px,#1966ad 44px,#2777b8 68px,#3989c2 92px,#4f9bcb 130px,#5ea4d0 130px,#e8eef5 136px,#faeee9 136px,#fcb99f 140px,#fcb296 148px,#fcb89e 152px,#fee6db 158px,#ffebe2 164px,#fee5d9 166px,#fcb196 170px,#fc8f6f 172px,#fc8161 190px,#fa6547 232px,#eb382b 240px,#d21f20 276px,#860811 284px,#810610 318px,#930b13 322px,#cc1a1e 330px,#e22f27 340px,#f5533b 346px,#fb7d5d 364px,#fc9576 370px,#fedccd 378px,#fee1d3 384px,#fedaca 388px,#fee3d6 398px,#ffece4 416px,#f1f7fd 420px,#bdd7ec 432px,#63a8d3 442px,#2171b5 454px,#084a91 472px,#0c5096 474px,#1762a8 474px,#08478d 488px,#08306b 516px,#08306b 654px)"></i><i style="top:63px;height:3px;background:linear-gradient(90deg,#1460a8 0,#1460a7 8px,#11569b 8px,#0b3a78 10px,#08306b 12px,#08316c 22px,#0c3c78 24px,#2866a1 24px,#70a6ce 26px,#c3d7e6 26px,#f2e2dd 28px,#fdd6c5 30px,#fdd9ca 38px,#f6e3db 38px,#d5e0ea 40px,#92c0de 40px,#4b92c6 42px,#2371b3 42px,#1764ab 44px,#2474b7 66px,#3686c0 86px,#4f9bcb 130px,#76b3d8 132px,#e7edf5 136px,#f9eeea 136px,#fcb99f 140px,#fcb297 148px,#fcb89e 152px,#fee6da 158px,#ffebe2 164px,#fee5d9 166px,#fdc7b1 168px,#fc8f6f 172px,#fc8363 186px,#fa6647 232px,#ec382b 240px,#d52221 276px,#a50f15 282px,#850711 286px,#860711 320px,#cc191d 330px,#e22e27 340px,#f5533b 346px,#fb7d5d 364px,#fc9575 370px,#fedaca 378px,#fee2d5 384px,#fedbcb 388px,#fee4d8 402px,#ffede5 418px,#f0f7fd 422px,#bbd6eb 432px,#61a7d2 442px,#2171b5 456px,#084c94 472px,#0c5198 474px,#1763a9 474px,#08468c 490px,#08306b 516px,#08306b 654px)"></i><i style="top:66px;height:3px;background:linear-gradient(90deg,#1460a8 0,#1460a7 8px,#11569b 8px,#0b3a78 10px,#08306b 12px,#08316c 24px,#0c3c78 24px,#2866a1 26px,#70a6ce 26px,#c3d7e6 28px,#f2e3dd 28px,#fdd6c5 30px,#fdd9ca 38px,#f6e3db 40px,#d5e0ea 40px,#92bfde 42px,#4a91c5 42px,#226fb2 44px,#1663aa 46px,#2373b6 66px,#3585bf 84px,#4e9acb 130px,#74b2d7 132px,#e5ecf5 136px,#f9efec 136px,#fcb99f 140px,#fcb297 148px,#fcb89e 152px,#feeae0 160px,#feeae0 166px,#fedaca 168px,#fc9e80 170px,#fc8969 172px,#fa6648 232px,#ec382b 240px,#d42121 276px,#880811 286px,#800610 306px,#860711 320px,#cb191d 330px,#e12e26 340px,#f5523b 346px,#fb7d5d 364px,#fc9d7f 370px,#fed8c7 378px,#fee1d4 386px,#fedbcc 390px,#ffebe1 418px,#f0f6fd 422px,#b9d6eb 434px,#60a7d2 444px,#2272b6 456px,#084e97 472px,#0c529a 474px,#1864aa 474px,#08458a 490px,#08306b 516px,#08306b 654px)"></i><i style="top:69px;height:3px;background:linear-gradient(90deg,#1460a8 0,#1460a7 8px,#11569b 8px,#0b3a78 10px,#08306b 12px,#08316c 24px,#0c3b78 26px,#2865a0 26px,#6fa6ce 28px,#c3d7e6 28px,#f2e3dd 30px,#fdd6c5 32px,#fdd9ca 40px,#f6e2db 40px,#d4e0ea 42px,#91bfde 42px,#4990c4 44px,#216eb1 44px,#1461a8 46px,#2272b5 66px,#3484bf 84px,#4d9aca 130px,#71b1d7 132px,#e3ecf5 136px,#f8f0ee 136px,#fcbaa0 140px,#fcb297 148px,#fcb89e 152px,#feeae0 160px,#feeae1 166px,#fedacb 168px,#fc9f81 170px,#fc8a6a 172px,#fa6748 232px,#ea362a 240px,#d62322 276px,#a81016 282px,#860711 286px,#850711 320px,#cb191d 330px,#e12d26 340px,#f5513a 346px,#fb7151 360px,#fc9374 370px,#fdd6c4 378px,#fee0d2 386px,#fed9c9 390px,#fee2d5 398px,#ffebe2 418px,#eff6fc 424px,#c0d8ed 434px,#5fa6d1 444px,#2272b5 456px,#08509a 472px,#0d549c 474px,#1865ab 474px,#08468b 490px,#08306b 516px,#08306b 654px)"></i><i style="top:72px;height:3px;background:linear-gradient(90deg,#1460a8 0,#1460a7 8px,#11569b 8px,#0b3a78 10px,#08306b 12px,#08316c 26px,#0c3b78 26px,#2765a0 28px,#6fa5ce 28px,#c2d6e6 30px,#f2e3dd 30px,#fdd6c5 32px,#fdd9ca 40px,#f6e2db 42px,#d4e0ea 42px,#91bfdd 44px,#488fc4 44px,#1f6caf 46px,#135fa7 48px,#1f6eb3 66px,#3282be 80px,#4d99ca 130px,#6fb0d6 132px,#e0ecf7 136px,#f3f3f6 136px,#fdc7b1 140px,#fcb59a 142px,#fcb89e 152px,#feeae1 160px,#feeae1 166px,#fedbcc 168px,#fc9171 172px,#fc8565 180px,#fa6748 232px,#ea362a 240px,#d52221 278px,#a40f15 284px,#850711 288px,#840711 320px,#ce1b1e 330px,#e02d26 340px,#f5513a 346px,#fb6f4f 360px,#fc9373 370px,#fdd4c1 378px,#fedfd1 388px,#fedaca 390px,#fee3d6 400px,#ffece3 420px,#f2f7fd 424px,#bed8ec 434px,#64a9d3 444px,#2272b5 458px,#0d569f 474px,#1866ac 474px,#084589 492px,#08306b 516px,#08306b 654px)"></i><i style="top:75px;height:3px;background:linear-gradient(90deg,#1460a8 0,#1460a7 8px,#11569b 8px,#0b3a78 10px,#08306b 12px,#08316c 26px,#0c3b78 28px,#2765a0 28px,#6ea5cd 30px,#c2d6e6 30px,#f2e3dd 32px,#fdd6c5 34px,#fdd9ca 42px,#f6e2db 42px,#d4e0ea 44px,#90bedd 44px,#478ec3 46px,#1e6aae 46px,#115da5 48px,#1e6db2 66px,#3282be 80px,#4c99ca 130px,#6daed6 132px,#ddeaf6 136px,#f1f3f6 136px,#fedacb 138px,#fcbaa1 140px,#fcb398 148px,#fcb89d 152px,#feeae1 160px,#ffebe1 166px,#fedccc 168px,#fc9171 172px,#fc8666 180px,#fa6849 232px,#ea362a 240px,#d32021 278px,#870811 288px,#800610 316px,#880811 322px,#ca181d 330px,#e53128 340px,#f6573e 348px,#fc8060 366px,#fc9b7c 370px,#fdd1bf 378px,#fedfd0 388px,#fedaca 392px,#fee3d6 402px,#ffede4 420px,#f1f7fd 424px,#bcd7ec 436px,#62a8d3 446px,#2171b5 458px,#0d57a1 474px,#1966ad 474px,#084489 492px,#08306b 516px,#08306b 654px)"></i><i style="top:78px;height:3px;background:linear-gradient(90deg,#1460a8 0,#1460a7 8px,#11569b 8px,#0b3a78 10px,#08306b 12px,#08316c 28px,#0c3b78 28px,#2765a0 30px,#6ea5cd 30px,#c2d6e6 32px,#f2e3dd 32px,#fdd6c5 34px,#fdd9ca 42px,#f6e2db 44px,#d4e0ea 44px,#8fbedd 46px,#468dc3 46px,#1c68ad 48px,#0f5aa3 50px,#1c6bb0 66px,#3181bd 80px,#4b98ca 130px,#6badd5 132px,#dbe9f6 136px,#f0f2f6 136px,#fedbcc 138px,#fcbba1 140px,#fcb398 148px,#fcb89d 152px,#feeae1 160px,#ffebe1 166px,#fedccd 168px,#fc9272 172px,#fc8767 178px,#fb6949 232px,#ea362a 240px,#d62322 278px,#a70f16 284px,#860711 288px,#840711 320px,#ab1016 326px,#cd1b1e 330px,#e43027 340px,#f6573e 348px,#fc8060 366px,#fc9a7b 370px,#fdcfbc 378px,#fee0d2 388px,#fedbcb 392px,#fee4d8 408px,#feeae1 420px,#f5f7fb 424px,#bad6eb 436px,#61a7d2 446px,#2171b5 460px,#0e59a2 474px,#1b69af 476px,#08468c 492px,#08306b 516px,#08306b 654px)"></i><i style="top:81px;height:3px;background:linear-gradient(90deg,#1460a8 0,#1460a7 8px,#11569b 8px,#0b3a78 10px,#08306b 12px,#08316c 28px,#0c3b78 30px,#2764a0 30px,#6da5cd 32px,#c1d6e6 32px,#f1e4e0 34px,#fcdbcc 34px,#fdd6c4 40px,#fdd9c9 44px,#f6e2db 44px,#d4dfea 46px,#8fbddd 46px,#458cc2 48px,#1b66ab 48px,#0d58a1 50px,#1b69af 66px,#2f7fbc 78px,#4b98c9 130px,#69acd4 132px,#eef1f6 136px,#fedcce 138px,#fcbba1 140px,#fcb398 148px,#fcb89d 152px,#ffebe1 160px,#fee7dc 166px,#fdcbb6 168px,#fc9272 172px,#fc8767 178px,#fb694a 232px,#ea362a 240px,#d52121 280px,#a30f15 286px,#840711 290px,#830711 320px,#9f0e14 324px,#cd1a1e 330px,#e43027 340px,#f5533b 348px,#fb7151 360px,#fc9172 370px,#fdcdb9 378px,#fee0d2 390px,#fedccc 394px,#ffebe2 422px,#eff6fc 426px,#b9d5ea 438px,#60a6d2 448px,#2272b6 460px,#0f5aa3 474px,#1c6ab0 476px,#08478d 492px,#08306b 516px,#08306b 654px)"></i><i style="top:84px;height:3px;background:linear-gradient(90deg,#1460a8 0,#1460a7 8px,#11569b 8px,#0b3a78 10px,#08306b 12px,#08316c 30px,#0c3b78 30px,#26649f 32px,#6da4cd 32px,#c0d6e7 34px,#f0e4e0 34px,#fcdbcc 36px,#fdd6c4 42px,#fdd9c9 44px,#f6e2db 46px,#d3dfea 46px,#8ebddc 48px,#448ac1 48px,#1964aa 50px,#0b559f 52px,#1764ab 64px,#2e7ebc 78px,#4a97c9 130px,#67abd4 132px,#edf0f6 136px,#feddcf 138px,#fcbba2 140px,#fcb398 148px,#fcb79d 152px,#ffebe1 160px,#fee7dc 166px,#fdccb7 168px,#fc9273 172px,#fc8868 178px,#fb6a4a 232px,#ea362a 240px,#d72422 280px,#b41218 284px,#860811 290px,#810610 320px,#930b13 324px,#cc1a1e 330px,#e32f27 340px,#f5523b 348px,#fb7050 360px,#fc9171 370px,#fdcbb6 378px,#fedfd1 390px,#fed9c9 394px,#fee3d6 402px,#ffece2 422px,#eef5fc 428px,#bfd8ed 438px,#5ea5d1 448px,#2272b5 460px,#115ca5 474px,#1c6bb0 476px,#08488e 492px,#08306b 516px,#08306b 654px)"></i><i style="top:87px;height:3px;background:linear-gradient(90deg,#1460a8 0,#1460a7 8px,#11569b 8px,#0b3a78 10px,#08306b 12px,#08316c 30px,#0c3b78 32px,#2766a1 32px,#70a7cf 34px,#c4d8e7 34px,#f3e3dd 36px,#fddacb 36px,#fdd6c5 44px,#fdd9ca 46px,#f5e3db 46px,#d1dfea 48px,#8abadb 48px,#3f87bf 50px,#1661a7 50px,#0a539d 52px,#1562a9 64px,#2e7ebb 78px,#4997c9 130px,#65aad3 132px,#b5d4e9 134px,#ebf0f5 136px,#feded0 138px,#fcbca2 140px,#fcb398 148px,#fcb79d 152px,#ffeee6 160px,#fee8dd 166px,#fdccb8 168px,#fc9373 172px,#fc8868 178px,#fb6a4b 232px,#ea362a 240px,#d52221 280px,#a50f15 286px,#850711 290px,#830711 320px,#9e0d14 324px,#cd1a1e 330px,#e32f27 340px,#f5523b 348px,#fb6e4e 358px,#fc9070 370px,#fdc9b3 378px,#fedfd1 392px,#fedaca 394px,#fee3d6 404px,#ffece3 424px,#f2f7fd 428px,#bdd7ec 438px,#63a9d3 448px,#2171b5 462px,#125ea6 474px,#1d6bb1 476px,#08478d 492px,#08306b 516px,#08306b 654px)"></i><i style="top:90px;height:3px;background:linear-gradient(90deg,#1460a8 0,#1460a7 8px,#11569b 8px,#0b3a78 10px,#08306b 12px,#08316d 32px,#0e3f7c 32px,#3070aa 34px,#7eb1d5 34px,#cedce8 36px,#f5e2da 36px,#fdd9c9 38px,#fdd6c5 46px,#fddacb 46px,#f3e4df 48px,#c8dae9 48px,#357eb9 50px,#115aa2 52px,#08509b 54px,#1460a8 64px,#2d7dbb 78px,#4896c9 130px,#63a8d2 132px,#b1d3e8 134px,#eaeff5 136px,#faede8 138px,#fcbca2 140px,#fcb499 148px,#fcb79d 152px,#feddce 158px,#ffeee6 160px,#fee8de 166px,#fdcdb9 168px,#fc9374 172px,#fc8969 176px,#fb6b4b 232px,#ea362a 240px,#d72422 280px,#b31218 286px,#860811 290px,#840711 320px,#aa1016 326px,#cd1b1e 330px,#e22e27 340px,#f5513a 348px,#fb6e4e 358px,#fc9070 370px,#fdc6b0 378px,#fee0d3 392px,#fedbcb 396px,#fee4d7 408px,#ffede5 424px,#f1f7fd 428px,#bbd7eb 440px,#62a8d2 450px,#2171b5 462px,#135fa7 474px,#1d6cb1 476px,#08488f 492px,#08306b 514px,#08306b 654px)"></i><i style="top:93px;height:3px;background:linear-gradient(90deg,#1460a8 0,#1460a7 8px,#11569b 8px,#0b3a78 10px,#08306b 12px,#08326e 32px,#114481 34px,#3a7ab1 34px,#8dbbda 36px,#d7e1e9 36px,#f8e0d7 38px,#fdd6c4 40px,#fdd6c5 46px,#fcdcce 48px,#eee5e3 48px,#bdd5e7 50px,#6ca7d1 50px,#2b74b3 52px,#0e559d 52px,#08509a 56px,#1561a9 66px,#2c7cbb 78px,#4896c8 130px,#75b3d8 132px,#e8eef5 136px,#faeee9 138px,#fcbca3 140px,#fcb499 148px,#fcb79c 152px,#fdd2bf 156px,#ffefe7 160px,#fee9df 166px,#fdcfbb 168px,#fc9474 172px,#fc8969 176px,#fb6b4c 232px,#ea362a 240px,#d52221 282px,#a30e15 288px,#840711 292px,#850711 320px,#cb191d 330px,#e73329 342px,#fa6849 354px,#fc8666 368px,#fdc7b0 378px,#fee0d3 392px,#fedbcc 396px,#fee6db 418px,#ffeee6 426px,#f0f6fd 430px,#bad6eb 440px,#60a7d2 450px,#2171b5 464px,#1461a8 474px,#1d6cb1 476px,#08488e 494px,#08306b 514px,#08306b 654px)"></i><i style="top:96px;height:3px;background:linear-gradient(90deg,#1460a8 0,#1460a7 8px,#11569b 8px,#0b3a78 10px,#08306b 12px,#093370 34px,#144a88 34px,#4685b9 36px,#9dc3df 36px,#e1e3e7 38px,#faded3 38px,#fdd6c4 40px,#fdd7c6 48px,#fbded2 48px,#e8e6e8 50px,#b0cfe5 50px,#5d9dcb 52px,#226aac 52px,#0c5097 54px,#0d57a1 64px,#2b7bba 76px,#4796c8 130px,#72b2d7 132px,#abcfe6 134px,#e7edf5 136px,#f9eeea 138px,#fcbca3 140px,#fcb499 148px,#fcbca3 154px,#fedccc 158px,#fff0e9 160px,#ffebe1 166px,#fdd1be 168px,#fc9475 172px,#fc8a6a 176px,#fb6c4c 232px,#ea362a 240px,#d62322 282px,#a60f15 288px,#850711 292px,#860711 320px,#cc191e 330px,#e12d26 340px,#f4503a 348px,#fb6d4d 358px,#fc8f6f 370px,#fdc4ad 378px,#fee0d2 394px,#fedccd 398px,#ffebe2 426px,#eff6fc 430px,#c0d9ed 440px,#5fa6d1 452px,#2272b5 464px,#1562a9 474px,#1e6db2 476px,#08488f 494px,#08306b 514px,#08306b 654px)"></i><i style="top:99px;height:3px;background:linear-gradient(90deg,#1460a8 0,#1460a7 8px,#11569b 8px,#0b3a78 10px,#08306b 12px,#08306b 34px,#093572 34px,#195290 36px,#5390c0 36px,#abcbe2 38px,#e9e4e4 38px,#fbddd0 40px,#fdd6c4 42px,#fdd7c7 48px,#fadfd4 50px,#e1e4e8 50px,#a2c7e1 52px,#4f92c5 52px,#1a61a5 54px,#0a4c92 54px,#0b549e 64px,#2979b9 76px,#4695c8 130px,#6fb0d6 132px,#a7cee5 134px,#e5edf5 136px,#f9efeb 138px,#fcbda4 140px,#fcb499 150px,#fcbca2 154px,#fdd0bd 156px,#fff1ea 160px,#ffece4 166px,#fdd4c2 168px,#fc9576 172px,#fc8a6a 176px,#fb6c4d 232px,#ea372a 240px,#d82422 282px,#b41318 286px,#860811 292px,#820610 318px,#950b13 322px,#c9181d 328px,#e12d26 340px,#f45039 348px,#fb6d4d 358px,#fc8e6e 370px,#fcc2aa 378px,#fee0d2 394px,#fedaca 398px,#fee3d6 406px,#ffece3 426px,#eef5fc 432px,#bed8ec 442px,#64a9d3 452px,#2272b5 464px,#1764ab 474px,#1e6eb2 476px,#084990 494px,#08306b 514px,#08306b 654px)"></i><i style="top:102px;height:3px;background:linear-gradient(90deg,#1460a8 0,#1460a7 8px,#11569b 8px,#0b3a78 10px,#08306b 12px,#08306b 34px,#0a3875 36px,#1f5b99 36px,#609bc8 38px,#b8d2e5 38px,#eee4e2 40px,#fcdbcd 40px,#fdd6c4 44px,#fdd8c8 50px,#f8e1d8 50px,#d8e1ea 52px,#92bfdd 52px,#4388be 54px,#15599d 54px,#09488d 56px,#09519b 64px,#2878b9 76px,#4695c7 130px,#6caed6 132px,#a4cce4 134px,#e2edf7 136px,#f5f2f2 138px,#fcbda4 140px,#fcb499 150px,#fcc0a8 154px,#fef3ed 160px,#ffefe7 166px,#fed7c6 168px,#fca78a 170px,#fc8d6d 172px,#fb6d4d 232px,#ea372a 240px,#d62221 282px,#a30f15 288px,#840711 292px,#840711 320px,#ce1b1e 330px,#e02c26 340px,#f44f39 348px,#fb6d4d 358px,#fc8d6e 370px,#fcc0a8 378px,#fee1d4 394px,#fedaca 398px,#fee3d7 410px,#ffede4 428px,#f1f7fd 432px,#bdd7ec 442px,#63a8d3 452px,#2171b5 466px,#1865ac 474px,#1f6eb3 476px,#084990 494px,#08306b 514px,#08306b 654px)"></i><i style="top:105px;height:3px;background:linear-gradient(90deg,#1460a8 0,#1460a7 8px,#11569b 8px,#0b3a78 10px,#08306b 12px,#08316c 36px,#0c3b78 36px,#2765a1 38px,#6fa6cf 38px,#c4d7e7 40px,#f3e3dd 40px,#fddacb 42px,#fdd6c5 50px,#fdd9ca 50px,#f5e2db 52px,#cedde9 52px,#83b5d8 54px,#377db7 54px,#115295 56px,#084488 56px,#084e97 64px,#2676b8 74px,#4594c7 130px,#69acd5 132px,#7eb8da 134px,#e0ecf7 136px,#f3f2f5 138px,#fdcdb9 140px,#fcbda4 140px,#fcb499 150px,#fcbfa7 154px,#fee5d9 158px,#f6f9fd 162px,#fef1eb 166px,#fedacb 168px,#fca88b 170px,#fc8d6d 172px,#fb6d4d 232px,#ea372a 240px,#d72422 282px,#a70f16 288px,#850711 292px,#850711 320px,#cb191d 328px,#e43128 342px,#f96144 352px,#fc8868 368px,#fcbea5 378px,#fee1d4 396px,#fedbcb 400px,#fee5d9 416px,#ffede5 428px,#f0f7fd 432px,#bbd6eb 444px,#61a7d2 454px,#2171b5 466px,#1967ad 474px,#1d6cb1 476px,#08488f 496px,#08306b 514px,#08306b 654px)"></i><i style="top:108px;height:3px;background:linear-gradient(90deg,#1460a8 0,#1460a7 8px,#11569b 8px,#0b3a78 10px,#08306b 12px,#08316d 36px,#0e3f7c 38px,#3070aa 38px,#7eb1d5 40px,#cedce8 40px,#f5e2da 42px,#fdd9c9 42px,#fdd6c5 50px,#fddbcb 52px,#f2e4df 52px,#c4d8e7 54px,#72abd3 54px,#2c72af 56px,#0e4b8e 56px,#084083 58px,#084f99 64px,#2676b8 76px,#4494c7 130px,#66abd4 132px,#7bb6d9 134px,#deebf7 136px,#f2f2f4 138px,#fdcdba 140px,#fcbea5 140px,#fcb499 150px,#fcbfa6 154px,#fed9c9 158px,#f6f7f9 160px,#f6f9fc 166px,#feede5 168px,#fdc4ae 170px,#fc9677 172px,#fc8b6b 174px,#fb6e4e 232px,#ea372a 240px,#d82522 282px,#b51318 288px,#870811 292px,#810610 318px,#940b13 322px,#cd1a1e 328px,#df2b25 340px,#f44e38 348px,#fb6b4b 356px,#fc8c6c 370px,#fcbba2 378px,#feddcf 394px,#fedfd0 398px,#fedccc 400px,#ffebe1 428px,#eff6fc 434px,#b9d5ea 444px,#60a6d2 454px,#2272b6 466px,#1a68ae 474px,#1d6cb1 476px,#084990 496px,#08306b 514px,#08336f 602px,#08306b 654px)"></i><i style="top:111px;height:3px;background:linear-gradient(90deg,#1460a8 0,#1460a7 8px,#11569b 8px,#0b3a78 10px,#08306b 12px,#08326e 38px,#114481 38px,#3b7bb1 40px,#8ebbdb 40px,#d8e1e9 42px,#f8e0d7 42px,#fdd6c4 44px,#fdd6c5 52px,#fcdcce 52px,#ede4e3 54px,#b7d2e5 54px,#63a0cc 56px,#2367a6 56px,#0c4587 58px,#083e80 60px,#084c94 64px,#2474b7 74px,#4493c7 130px,#64a9d3 132px,#77b4d8 134px,#dceaf6 136px,#f0f1f4 138px,#fdceba 140px,#fcbea5 140px,#fcb499 150px,#fcc3ac 156px,#fcefea 160px,#f0f6fd 162px,#f6f7fa 166px,#fee1d3 168px,#fcaa8e 170px,#fc9778 172px,#fc8b6b 174px,#fb6a4b 232px,#eb372a 240px,#d62322 284px,#a40f15 290px,#840711 294px,#840711 318px,#ab1016 324px,#ce1b1e 328px,#de2b25 340px,#f44e38 348px,#fb6b4b 356px,#fc9171 370px,#fcb99f 378px,#fed9c8 392px,#fee1d4 398px,#feddcd 402px,#ffebe2 430px,#eff6fc 434px,#bfd8ed 444px,#5fa5d1 456px,#2272b5 468px,#1b6aaf 474px,#1e6db2 476px,#08488f 496px,#08306b 514px,#08326e 600px,#083675 606px,#08306b 614px,#08306b 654px)"></i><i style="top:114px;height:3px;background:linear-gradient(90deg,#1460a8 0,#1460a7 8px,#11569b 8px,#0b3a78 10px,#08306b 12px,#093470 38px,#144b88 40px,#4686b9 40px,#9dc3df 42px,#e1e3e7 42px,#faded3 44px,#fdd6c4 46px,#fdd7c6 52px,#fbded2 54px,#e6e5e7 54px,#aacbe3 56px,#5495c5 56px,#1b5d9d 58px,#0a4081 58px,#083d7e 62px,#1460a8 70px,#2575b7 78px,#4393c6 130px,#61a7d2 132px,#73b2d7 134px,#dae8f5 136px,#eff0f4 138px,#fdcebb 140px,#fcbea5 140px,#fcb499 150px,#fcc2ab 156px,#fbefea 160px,#edf4fc 162px,#f2f7fc 166px,#f8f4f3 168px,#fde4da 168px,#fcab8f 170px,#fc9778 172px,#fc8c6c 174px,#fb6b4b 232px,#eb372a 240px,#d72422 284px,#a81016 290px,#850711 294px,#850711 318px,#cb191d 328px,#e32f27 342px,#f75c41 350px,#fc8b6b 370px,#fcb79c 378px,#fdd7c5 392px,#fee1d3 398px,#feddcf 402px,#ffece3 430px,#f2f7fd 434px,#bed7ec 446px,#63a9d3 456px,#2271b5 468px,#1c6bb0 474px,#1c6bb0 478px,#08488e 498px,#08306b 514px,#083471 600px,#083b7c 604px,#08306b 610px,#08306b 654px)"></i><i style="top:117px;height:3px;background:linear-gradient(90deg,#1460a8 0,#1460a7 8px,#11569b 8px,#0b3a78 10px,#08306b 12px,#08306b 38px,#093672 40px,#195390 40px,#5391c1 42px,#abcbe2 42px,#e9e4e4 44px,#fbddcf 44px,#fdd6c4 46px,#fdd7c7 54px,#f9dfd4 54px,#dfe2e7 56px,#9bc3df 56px,#4789bd 58px,#155393 58px,#093c7c 60px,#083c7d 62px,#125ea6 70px,#2373b6 76px,#4392c6 130px,#5ea5d1 132px,#6fb0d6 134px,#d8e7f5 136px,#eef0f4 138px,#fdcfbc 140px,#fcbfa6 140px,#fcb499 150px,#fcc1a9 156px,#fbefeb 160px,#eaf2fb 162px,#f4f4f7 168px,#fce6de 168px,#fcac91 170px,#fc9879 172px,#fc8c6c 174px,#fb6b4c 232px,#eb372a 240px,#d92523 284px,#b61318 288px,#870811 294px,#810610 316px,#930b13 320px,#cc1a1e 328px,#e22f27 342px,#f6573e 350px,#fc8b6b 370px,#fcb69b 380px,#fdd5c3 392px,#fee3d6 398px,#feded0 404px,#ffede4 432px,#f1f7fd 436px,#bcd7eb 446px,#62a8d2 456px,#2171b5 470px,#1866ac 480px,#08478d 498px,#08306b 514px,#08326d 598px,#084082 602px,#08306b 608px,#08306b 654px)"></i><i style="top:120px;height:3px;background:linear-gradient(90deg,#1460a8 0,#1460a7 8px,#11569b 8px,#0b3a78 10px,#08306b 12px,#08306b 40px,#0a3875 40px,#1f5c99 42px,#619cc8 42px,#b8d2e5 44px,#eee4e2 44px,#fcdbcd 46px,#fdd6c4 50px,#fdd8c8 54px,#f7e1d8 56px,#d5dfe9 56px,#8abada 58px,#3a7db5 58px,#114a8a 60px,#083876 60px,#084285 64px,#1865ac 72px,#2575b7 82px,#4796c8 130px,#6badd5 134px,#d6e6f4 136px,#edeff4 138px,#fdcfbc 140px,#fcbfa6 140px,#fcb499 150px,#fcc0a8 156px,#faefeb 160px,#e6f0f9 162px,#f1f3f7 168px,#fbe8e1 168px,#fcad92 170px,#fc9879 172px,#fc8c6c 174px,#fb6c4c 232px,#eb372a 240px,#d72322 284px,#a50f15 290px,#840711 294px,#840711 318px,#aa1016 322px,#cd1b1e 328px,#e22e26 342px,#f6563e 350px,#fc8a6a 370px,#fcb499 380px,#fdd3c0 392px,#fee3d6 400px,#fedfd1 404px,#feeae1 432px,#f0f6fd 436px,#bad6eb 448px,#61a7d2 458px,#2171b5 470px,#1865ac 482px,#08468b 500px,#08306b 514px,#08326e 596px,#084489 600px,#083c7c 604px,#08306b 606px,#08306b 654px)"></i><i style="top:123px;height:3px;background:linear-gradient(90deg,#1460a8 0,#1460a7 8px,#11569b 8px,#0b3a78 10px,#08306b 12px,#08316c 40px,#0c3b78 42px,#2766a1 42px,#6fa7cf 44px,#c4d8e7 44px,#f3e3dd 46px,#fddacb 46px,#fdd6c5 54px,#fdd9ca 56px,#f4e2db 56px,#cbdbe8 58px,#7aafd4 58px,#2f71ac 60px,#0e4381 60px,#083572 62px,#0e58a2 70px,#2070b4 76px,#4695c8 130px,#68abd4 134px,#d4e5f3 136px,#eceff4 138px,#fae6dd 138px,#fcbfa7 140px,#fcb499 152px,#fcbfa7 156px,#faf0ec 160px,#e3eef8 162px,#e6f0f9 166px,#edf1f7 168px,#faeae4 168px,#fcae93 170px,#fc997a 172px,#fc8d6d 174px,#fb6c4d 232px,#eb372a 240px,#d82522 284px,#b31218 290px,#860711 294px,#850711 318px,#cb191d 326px,#e12e26 342px,#f6563d 350px,#fb7252 360px,#fc9778 372px,#fcb398 380px,#fdd1be 392px,#fee4d8 402px,#feddce 404px,#ffebe2 432px,#eff6fc 438px,#c0d9ed 448px,#5fa6d1 458px,#2272b6 470px,#1562a9 484px,#08458a 500px,#08306b 514px,#083370 596px,#084990 600px,#083f81 602px,#08306b 606px,#08306b 654px)"></i><i style="top:126px;height:3px;background:linear-gradient(90deg,#105093 0,#105093 8px,#0e498b 8px,#0a3774 10px,#08306b 12px,#08316d 42px,#0e3f7c 42px,#2f6ea8 44px,#7cafd3 44px,#ccdbe7 46px,#f4e1da 46px,#fdd6c5 48px,#fddacb 56px,#f2e3de 58px,#c1d6e6 58px,#6da5ce 60px,#2767a4 60px,#0c3e7c 62px,#083471 62px,#105ba4 70px,#206fb4 78px,#4594c7 130px,#65a9d3 134px,#84bbdc 134px,#d2e4f3 136px,#eaeef3 138px,#fae6de 138px,#fcbfa7 140px,#fcb499 152px,#fcbea6 156px,#f9f0ed 160px,#e0ecf7 162px,#e2edf8 166px,#e9f0f7 168px,#f7edea 168px,#fcaf95 170px,#fc997b 172px,#fc8d6d 174px,#fb6d4d 232px,#eb372a 240px,#d92623 284px,#b61319 290px,#870811 294px,#810610 316px,#920a13 320px,#cc1a1e 326px,#e12d26 342px,#f6563d 350px,#fb7252 360px,#fc9677 372px,#fcb397 382px,#fdd2bf 394px,#fee8dd 402px,#fedecf 406px,#ffece3 434px,#eef5fc 438px,#bfd8ec 448px,#64a9d3 458px,#2272b5 472px,#135fa7 486px,#084286 502px,#08306b 514px,#08316c 594px,#084e97 598px,#084286 602px,#08326e 604px,#08306b 654px)"></i><i style="top:129px;height:3px;background:linear-gradient(90deg,#08306b 0,#08316c 42px,#0d3c79 44px,#28659f 44px,#6ea4cc 46px,#bfd4e5 46px,#efe2df 48px,#fdd6c5 50px,#fddaca 58px,#f3e1db 58px,#c9d9e6 60px,#7baed3 60px,#3171aa 62px,#0f4381 62px,#083673 64px,#115da5 72px,#1f6eb3 78px,#4493c7 130px,#61a7d1 134px,#80b8da 134px,#d0e2f2 136px,#e9edf3 138px,#fae6de 138px,#fcc0a7 140px,#fcb499 152px,#fcbea4 156px,#fce6dc 158px,#f4f3f4 160px,#dceaf6 162px,#e4eff8 168px,#f2eef0 168px,#fcb196 170px,#fc9a7b 172px,#fc8d6d 174px,#fb6d4e 232px,#eb372a 240px,#d72422 286px,#a50f15 292px,#850711 296px,#840711 316px,#aa1016 322px,#cd1a1e 326px,#e02c26 342px,#f6563d 350px,#fb7151 360px,#fc997a 374px,#fcb89d 386px,#ffebe2 402px,#feded0 406px,#ffede4 434px,#f1f7fd 438px,#bdd7ec 450px,#63a8d3 460px,#2171b5 472px,#0c57a0 490px,#08306b 514px,#08316c 592px,#09509a 596px,#084e98 600px,#08336f 602px,#08306b 654px)"></i><i style="top:132px;height:3px;background:linear-gradient(90deg,#4b6b97 0,#4b6b97 4px,#194983 6px,#08316c 8px,#08306c 44px,#0a3774 44px,#1d5693 46px,#5792c1 46px,#abcae1 48px,#e7e1e2 48px,#fbddd0 50px,#fdd6c4 52px,#fdd8c8 58px,#f7dfd6 60px,#d8dee5 60px,#92bcda 62px,#4281b6 62px,#154e8d 64px,#093978 64px,#0f5aa3 72px,#1d6cb1 78px,#4393c6 130px,#5ea4d0 134px,#7bb6d9 134px,#cee1f1 136px,#e8edf3 138px,#f9e7df 138px,#fcc0a8 140px,#fcb49a 152px,#fcbda3 156px,#fdd5c4 158px,#f3f2f4 160px,#d9e8f5 162px,#e0ecf7 168px,#efedf0 168px,#fad5c8 170px,#fcb298 170px,#fc9a7c 172px,#fc8e6e 174px,#fb6e4e 232px,#eb372a 240px,#d82523 286px,#b31218 290px,#860711 296px,#840711 316px,#ce1b1e 326px,#df2c26 342px,#f6553d 350px,#fb7151 360px,#fc9778 374px,#fdcbb6 392px,#ffeee6 404px,#fedfd0 406px,#ffebe2 434px,#eff6fc 440px,#bad6eb 450px,#61a7d2 460px,#2373b6 472px,#08478d 500px,#08306b 512px,#08316d 592px,#0c559e 596px,#0b539c 598px,#083370 602px,#08306b 654px)"></i><i style="top:135px;height:3px;background:linear-gradient(90deg,#f5e2db 0,#f5e2db 4px,#d9dde3 4px,#9ec0da 6px,#558cbb 6px,#215892 8px,#0d3a76 8px,#08306b 12px,#093470 46px,#144a87 46px,#4381b5 48px,#94bddb 48px,#dadfe5 50px,#f8dfd5 50px,#fdd6c4 52px,#fdd7c6 60px,#fbddd0 60px,#e6e1e2 62px,#a9c9e0 62px,#5693c3 64px,#1d5c9a 64px,#0b3f7e 66px,#084082 68px,#1562a9 74px,#3a8ac2 122px,#4896c8 132px,#5aa2cf 134px,#77b4d8 134px,#cce0f0 136px,#e7ecf3 138px,#f9e7e0 138px,#fcc0a8 140px,#fcb59a 152px,#fcbca2 156px,#fdd5c3 158px,#f1f1f4 160px,#d6e6f4 162px,#dce9f6 168px,#ececef 168px,#f9d7c9 170px,#fcb399 170px,#fc9b7c 172px,#fc8e6e 174px,#fb6f4f 232px,#eb372a 240px,#d92623 286px,#b71319 290px,#870811 296px,#810610 314px,#920a13 318px,#cc191e 326px,#df2b25 342px,#f6553d 350px,#fb6f4f 358px,#fc9a7b 374px,#fdc5af 392px,#feebe2 402px,#fbf5f3 404px,#fee0d2 408px,#ffede5 436px,#f1f7fd 440px,#bfd8ed 450px,#5fa6d1 462px,#2474b6 474px,#08478d 500px,#08306b 512px,#08316d 590px,#0f59a2 594px,#0d57a0 598px,#083471 600px,#08306b 654px)"></i><i style="top:138px;height:3px;background:linear-gradient(90deg,#fedccc 0,#f8e0d6 6px,#e0dee1 6px,#a8c6dd 8px,#5f94c0 8px,#265e98 10px,#0e3d79 10px,#08306b 12px,#08326d 46px,#0f417e 48px,#326fa8 48px,#7daed3 50px,#cbdae6 50px,#f4e1da 52px,#fdd6c5 54px,#fdd6c5 60px,#fcdbcd 62px,#eee2df 62px,#bdd4e5 64px,#6ea5ce 64px,#2a6ba7 66px,#0e4687 66px,#083e7f 68px,#1562a9 74px,#4191c6 130px,#57a0ce 134px,#73b2d7 134px,#c9dff0 136px,#e6ecf3 138px,#f9e7e0 138px,#fcc1a9 140px,#fcb59a 152px,#fcbba1 156px,#fdd4c2 158px,#f0f1f4 160px,#d3e4f3 162px,#d9e7f5 168px,#e9eaef 168px,#f9d8cb 170px,#fcb49a 170px,#fc9b7d 172px,#fc8e6e 174px,#fb6f4f 232px,#eb372a 240px,#d72422 286px,#a60f15 292px,#850711 296px,#830711 316px,#9f0d14 320px,#cd1a1e 326px,#de2b25 342px,#f6553c 350px,#fb6f4f 358px,#fc9b7d 376px,#fcc3ac 392px,#feeae1 402px,#f6f7f9 404px,#faf3f0 406px,#fee4d8 408px,#fff0e9 436px,#f2f7fd 440px,#bbd6eb 452px,#5ea5d1 462px,#2676b7 474px,#08488e 500px,#08306b 512px,#08326d 590px,#125da5 594px,#105ba3 596px,#083572 600px,#08306b 612px,#08306b 654px)"></i><i style="top:141px;height:3px;background:linear-gradient(90deg,#fedccc 0,#fdddce 6px,#f9e0d5 8px,#e5dfe0 8px,#b2cbe0 10px,#699cc6 10px,#2c659e 12px,#10407c 12px,#08306b 14px,#08316c 48px,#0c3a77 48px,#235f9b 50px,#659dc8 50px,#b8d1e3 52px,#ece2e0 52px,#fcdbcd 54px,#fdd6c4 58px,#fdd9c9 62px,#f5e0d8 64px,#d1dbe5 64px,#86b5d7 66px,#3a7cb5 66px,#125091 68px,#094284 68px,#135fa7 74px,#3a8ac2 124px,#4493c7 132px,#539ecd 134px,#6fafd6 134px,#c7deef 136px,#e4ebf3 138px,#f9e8e1 138px,#fcc1a9 140px,#fcb59a 152px,#fcbaa0 156px,#fdd4c2 158px,#eff0f3 160px,#d1e2f2 162px,#d5e5f4 168px,#e6e9ef 168px,#f8d9cd 170px,#fcb49b 170px,#fc9c7d 172px,#fc8f6f 174px,#fb7050 232px,#eb372a 240px,#d92523 286px,#b41318 292px,#860811 296px,#840711 316px,#b51318 322px,#d11d1f 326px,#de2a25 342px,#f5543c 350px,#fb6d4d 358px,#fcb69c 388px,#fee3d6 400px,#f5f6f9 404px,#eff5fb 406px,#fee5d9 408px,#fff1ea 436px,#f2f7fd 440px,#bfd8ec 452px,#61a7d2 462px,#2777b8 474px,#08488f 500px,#08306b 512px,#08326e 588px,#1561a8 592px,#135fa6 596px,#083673 598px,#08306b 606px,#08306b 654px)"></i><i style="top:144px;height:3px;background:linear-gradient(90deg,#fedccd 0,#fdddce 8px,#fae0d4 10px,#e9e0de 10px,#bcd0e0 12px,#74a4ca 12px,#336ca3 14px,#124480 14px,#09336f 16px,#08306b 48px,#0a3672 50px,#1a528e 50px,#4f8cbd 52px,#a2c6df 52px,#e2e2e5 54px,#faded2 54px,#fdd6c4 56px,#fdd8c7 64px,#f9ded3 64px,#dee0e5 66px,#9dc4df 66px,#4e8ec1 68px,#1a5c9d 68px,#0a478a 70px,#125ea6 76px,#3888c1 122px,#4795c8 132px,#509bcb 134px,#6cadd4 134px,#c5dcee 136px,#e3eaf2 138px,#f8e8e2 138px,#fcc1a9 140px,#fcb59a 152px,#fcb99e 156px,#fdd3c1 158px,#eeeff3 160px,#cee0f2 162px,#d2e3f3 168px,#e3e8ee 168px,#f7d9ce 170px,#fcb59c 170px,#fc9c7e 172px,#fc8f6f 174px,#fb7050 232px,#eb372a 240px,#d72322 288px,#a40f15 294px,#840711 298px,#850711 316px,#cc191d 324px,#dd2a25 342px,#f5543c 350px,#fb6d4d 358px,#fcb89d 390px,#fee2d5 400px,#f5f6f9 404px,#e8f1fa 406px,#f5f2f3 408px,#fee6db 410px,#fcf5f2 438px,#edf5fc 440px,#b9d6eb 452px,#5fa6d1 464px,#2373b6 476px,#08478d 502px,#08306b 512px,#08326e 588px,#115ba2 590px,#1967ad 594px,#0e559d 596px,#083674 598px,#08306b 602px,#08306b 654px)"></i><i style="top:147px;height:3px;background:linear-gradient(90deg,#e4e2e5 0,#e4e2e5 4px,#fdded0 6px,#fbdfd3 12px,#ede1de 12px,#c4d4e1 14px,#7eabcf 14px,#3a73a9 16px,#144884 16px,#093570 18px,#09336f 50px,#124683 52px,#3c7ab0 52px,#8cb8d8 54px,#d5dde5 54px,#f6e0d7 56px,#fdd6c5 58px,#fdd7c6 64px,#fbdccf 66px,#eae2e1 66px,#b5cfe3 68px,#65a0cb 68px,#266ba9 70px,#0d4d92 70px,#094f98 72px,#1764ab 82px,#4494c7 132px,#4d99ca 134px,#68abd3 134px,#c3dbee 136px,#e2eaf2 138px,#f8e8e2 138px,#fcc2aa 140px,#fcb59a 154px,#fcb89d 156px,#fdd2c0 158px,#edeff3 160px,#ccdff1 162px,#cfe1f2 168px,#e1e6ee 168px,#f7d9cf 170px,#fcb69d 170px,#fc9d7f 172px,#fc8f6f 174px,#fb7151 232px,#eb372a 240px,#d92523 288px,#ab1016 294px,#880811 298px,#820610 314px,#960b13 318px,#cd1b1e 324px,#dd2924 342px,#f5543c 350px,#fb6e4e 358px,#fcb69b 390px,#fee1d3 400px,#f5f6f9 404px,#e2eef8 406px,#f5f2f3 408px,#fee8de 410px,#f8f8fa 436px,#bbd6eb 452px,#5ca4d0 464px,#2171b5 478px,#08478e 502px,#08306b 512px,#083370 586px,#145ea5 590px,#1b6aaf 592px,#0f569d 594px,#083674 596px,#08306b 600px,#08306b 654px)"></i><i style="top:150px;height:3px;background:linear-gradient(90deg,#508bbb 0,#508bbb 4px,#ced9e3 6px,#f2e2dd 6px,#fedccd 8px,#fcdfd2 14px,#f0e2dd 14px,#c9d6e2 16px,#85b1d2 16px,#4079ad 18px,#174b87 18px,#0a3571 20px,#08306b 50px,#08316d 52px,#0e3e7b 52px,#2c69a3 54px,#74a8cf 54px,#c4d7e6 56px,#f0e2de 56px,#fdd6c5 58px,#fddacb 66px,#f2e2dc 68px,#c7d9e6 68px,#7cb0d5 70px,#357bb5 70px,#11569b 72px,#094e96 72px,#1a68ae 88px,#4292c6 132px,#4997c9 134px,#64a8d2 134px,#c0daed 136px,#e1e9f2 138px,#f8e9e3 138px,#fcc2aa 140px,#fcb499 154px,#fcb69c 156px,#fdd2c0 158px,#edeef2 160px,#c9ddf0 162px,#ccdff1 168px,#dfe5ee 168px,#f6dad0 170px,#fcb79e 170px,#fc9d7f 172px,#fc8f6f 174px,#fb7151 232px,#eb372a 240px,#d82522 288px,#ab1116 294px,#840711 300px,#860711 314px,#cc191d 324px,#dc2924 342px,#f5533c 350px,#fb6e4e 358px,#fcb398 390px,#fee0d2 400px,#f6f6f9 404px,#deebf7 406px,#e9f1f8 408px,#feebe2 412px,#f4f9fe 432px,#e3eef9 442px,#bcd7eb 452px,#59a2cf 466px,#2272b5 478px,#08488e 502px,#08306b 512px,#08316c 584px,#0a4386 586px,#1865ab 588px,#1d6bb0 592px,#0e5299 594px,#083471 596px,#08306b 644px,#08306b 654px)"></i><i style="top:153px;height:3px;background:linear-gradient(90deg,#0a3672 0,#0a3672 4px,#174b87 4px,#4079ad 6px,#85b1d2 6px,#c9d6e2 8px,#f0e2dd 8px,#fedccd 10px,#fcdfd1 16px,#f2e2dd 16px,#ced9e3 18px,#8db5d4 18px,#467eb1 20px,#1a4e8a 20px,#0b3773 22px,#08306b 32px,#08316c 52px,#0b3875 54px,#205a96 54px,#5d97c4 56px,#b1cde2 56px,#e9e2e1 58px,#fbdccf 58px,#fdd6c4 62px,#fdd8c8 68px,#f7e0d6 68px,#d8dee6 70px,#95bfdc 70px,#488bc1 72px,#1961a6 72px,#0a529b 74px,#3080bd 112px,#4090c5 132px,#4695c8 134px,#61a6d0 134px,#bed8ec 136px,#dfe8f2 138px,#f7e9e4 138px,#fcc2aa 140px,#fcb398 154px,#fcc0a8 156px,#fae3da 158px,#eceef2 160px,#c7dcef 162px,#caddf0 168px,#dde4ed 168px,#f6dad1 170px,#fcb79f 170px,#fc9e80 172px,#fc9070 174px,#fb7252 232px,#eb372a 240px,#d82523 290px,#ae1117 296px,#850711 300px,#850711 314px,#ce1b1e 324px,#dc2824 342px,#f5533b 350px,#fb6c4c 356px,#fcb195 390px,#feded0 400px,#f6f7f9 404px,#d9e8f5 408px,#f5f3f4 410px,#ffeee7 412px,#f2f8fe 428px,#e0edf8 442px,#bcd7eb 452px,#569fce 466px,#2272b6 478px,#08488f 502px,#08306b 512px,#08326e 584px,#0c4b90 586px,#1c6ab0 588px,#1d6bb1 590px,#0c4d93 592px,#08326e 594px,#08306b 654px)"></i><i style="top:156px;height:3px;background:linear-gradient(90deg,#08306b 0,#093570 6px,#144884 6px,#3a73a9 8px,#7eabcf 8px,#c4d4e1 10px,#ede1de 10px,#fedccd 12px,#fdded0 18px,#f4e1da 18px,#d4dbe3 20px,#94bad7 20px,#4c84b5 22px,#1c528d 22px,#0b3874 24px,#08306b 28px,#093571 54px,#164d8a 56px,#4885b8 56px,#9ac1dd 58px,#dde0e5 58px,#f9ded4 60px,#fdd6c4 62px,#fdd7c6 68px,#faddd1 70px,#e6e2e3 70px,#accbe2 72px,#5d9cca 72px,#246daf 74px,#0d569e 74px,#1662aa 88px,#4492c6 134px,#5da3cf 134px,#bbd7eb 136px,#dee8f2 138px,#f7e9e4 138px,#fcc2ab 140px,#fcb398 154px,#fcbfa7 156px,#fae3d9 158px,#ebedf2 160px,#c4dbee 162px,#c7dcef 168px,#dbe3ed 168px,#f5dbd1 170px,#fcb8a0 170px,#fc9f81 172px,#fc9070 174px,#fb7252 232px,#eb382b 240px,#d92623 290px,#b01217 296px,#860811 302px,#840711 312px,#aa1016 318px,#d01d1f 324px,#db2824 342px,#f5533b 350px,#fb6c4c 356px,#fcab8e 388px,#feddce 400px,#f8f5f6 404px,#d8e7f5 408px,#ddeaf7 410px,#fdf3ee 412px,#f2f8fe 422px,#ddebf7 442px,#b4d3e9 454px,#529dcc 468px,#2373b6 478px,#084990 502px,#08306b 512px,#083471 582px,#1865ab 586px,#2170b4 588px,#125ba2 590px,#083876 592px,#08306b 596px,#08306b 654px)"></i><i style="top:159px;height:3px;background:linear-gradient(90deg,#08306b 0,#09346f 8px,#124581 8px,#356ea4 10px,#77a6cc 10px,#bed1e0 12px,#ebe1de 12px,#fae0d4 14px,#fedccc 18px,#f6e1d9 20px,#d8dde3 22px,#9bbfda 22px,#528aba 24px,#1f5691 24px,#0c3975 26px,#08306b 28px,#09326e 56px,#104380 56px,#3674ac 58px,#84b2d5 58px,#d0dbe5 60px,#f5e0d8 60px,#fdd6c5 62px,#fdd6c5 70px,#fcdbcd 70px,#eee2e0 72px,#bfd6e6 72px,#3179b6 74px,#10589f 76px,#084f99 78px,#2f7fbc 114px,#4290c5 134px,#5ba1ce 134px,#b9d6eb 136px,#dde7f1 138px,#f7eae5 138px,#fcc3ab 140px,#fcb398 154px,#fcbfa7 156px,#fae3da 158px,#eaedf2 160px,#c2daee 162px,#c4dbee 168px,#dae3ed 168px,#f5dcd3 170px,#fcbba3 170px,#fca184 172px,#fc9272 174px,#fb7454 232px,#ed392b 240px,#d62322 292px,#a91016 298px,#840711 304px,#860811 312px,#cc1a1e 322px,#db2824 342px,#f5523b 350px,#fb6d4d 358px,#fca98d 388px,#fedbcc 400px,#fcf2ef 404px,#e7f1fa 406px,#d7e6f5 408px,#e9f2fa 412px,#faf6f5 414px,#f1f7fd 418px,#d4e5f4 444px,#acd0e6 454px,#4f9bcb 468px,#2474b7 478px,#084b94 502px,#08306b 512px,#08316d 580px,#0b478b 582px,#1d6bb0 584px,#2171b4 588px,#10569c 590px,#083572 592px,#08306b 606px,#08306b 654px)"></i><i style="top:162px;height:3px;background:linear-gradient(90deg,#08306b 0,#09336e 10px,#11427e 10px,#2f69a1 12px,#6fa1c9 12px,#b7cfe1 14px,#e8e0e0 14px,#fae0d5 16px,#fedccc 20px,#f7e1d8 22px,#dcdfe4 24px,#a2c3dc 24px,#5990bd 26px,#235b94 26px,#0d3b77 28px,#08306b 30px,#08316c 56px,#0d3c78 58px,#27639e 58px,#6ca2cb 60px,#bdd4e4 60px,#eee2df 62px,#fcdbcd 62px,#fdd6c4 68px,#fdd9ca 72px,#f5e1d9 72px,#d2dce6 74px,#8bb9da 74px,#4085bd 76px,#165da2 76px,#0a4e96 78px,#2e7ebc 114px,#408ec4 134px,#59a0cd 134px,#b7d5ea 136px,#dce7f1 138px,#f7eae5 138px,#fcc3ac 140px,#fcb498 154px,#fcc0a8 156px,#fae4db 158px,#e9ecf2 160px,#c1d9ed 162px,#c3daed 168px,#d9e2ed 168px,#f5ded6 170px,#fcbea7 170px,#fca588 172px,#fc9575 174px,#fb7555 232px,#ef3c2d 240px,#d62322 294px,#ab1016 300px,#850711 304px,#850711 312px,#cb191d 320px,#dc2824 342px,#f6583e 350px,#fc9171 378px,#fcb095 390px,#fed9c9 400px,#fcf1ed 404px,#eaf3fb 406px,#d8e7f5 410px,#f4f9fe 414px,#cee1f2 446px,#98c7e0 458px,#509ccb 468px,#2676b8 478px,#084c94 502px,#08316d 514px,#08336f 580px,#1763a9 582px,#2474b6 584px,#206fb3 586px,#0d5095 588px,#08336f 590px,#08306b 654px)"></i><i style="top:165px;height:3px;background:linear-gradient(90deg,#08306b 0,#09326e 12px,#0f3f7c 12px,#2a649d 14px,#679bc6 14px,#b1cbe0 16px,#e5dfe0 16px,#f9e0d5 18px,#fedccc 22px,#f8e0d6 24px,#e2dfe1 26px,#aac7de 26px,#6096c1 28px,#275f99 28px,#0e3d79 30px,#08306b 32px,#08306c 58px,#0a3773 58px,#1c5591 60px,#5591c0 60px,#a9c9e0 62px,#e6e1e2 62px,#fbddd0 64px,#fdd6c4 66px,#fdd8c7 72px,#f9dfd4 74px,#dee1e6 74px,#9fc5e0 76px,#5193c5 76px,#1d64a6 78px,#0b4e94 78px,#1461a8 94px,#3686c0 130px,#3e8dc3 134px,#569ecd 134px,#b6d4ea 136px,#dbe7f1 138px,#f7eae6 138px,#fcc4ad 140px,#fcb499 154px,#fcc1a9 156px,#fae5dc 158px,#e8ecf2 160px,#c0d9ed 162px,#c2daed 168px,#d8e2ed 168px,#f5dfd8 170px,#fcc2ab 170px,#fca98c 172px,#fc9778 174px,#fb7757 232px,#f03f2f 240px,#d62322 294px,#ae1117 300px,#860711 306px,#880811 312px,#ca181d 320px,#d42121 332px,#dc2924 342px,#f6573e 350px,#fc9879 382px,#fcbba1 394px,#fed8c7 400px,#f5f6f9 404px,#dbe9f6 410px,#e2eef8 412px,#f1f7fd 416px,#c8ddf0 446px,#8fc2de 458px,#4896c8 470px,#2878b8 478px,#084b94 504px,#083370 514px,#08316c 578px,#0a4486 580px,#1c69ae 582px,#2474b6 584px,#145ea4 586px,#083977 588px,#08306b 590px,#08306b 654px)"></i><i style="top:168px;height:3px;background:linear-gradient(90deg,#08306b 0,#09326d 14px,#0e3d79 14px,#265e98 16px,#5e94c0 16px,#a8c5dd 18px,#e0dee1 18px,#f8e0d6 20px,#fedccc 24px,#f9e0d5 26px,#e5dfe0 28px,#b2cce0 28px,#6a9dc7 30px,#2d669e 30px,#10407d 32px,#08306b 34px,#09336f 60px,#134886 60px,#407db3 62px,#90bad9 62px,#d7dee5 64px,#f7dfd6 64px,#fdd6c5 66px,#fdd7c6 74px,#fbdccf 74px,#eae2e1 76px,#b5d0e3 76px,#67a1cd 78px,#286ead 78px,#0d4f95 80px,#084a91 82px,#2979b9 114px,#3c8bc2 134px,#549dcc 134px,#b4d4e9 136px,#dbe6f1 138px,#f7ebe6 138px,#fdc5ae 140px,#fcb59a 154px,#fcc2aa 156px,#f9e5dd 158px,#e7ecf2 160px,#c0d9ed 162px,#c2daed 168px,#d8e2ee 168px,#f5e1da 170px,#fcc5af 170px,#fcac91 172px,#fc9a7b 174px,#fb7858 232px,#f14231 240px,#d32020 296px,#9c0d14 304px,#840711 308px,#8d0912 312px,#cd1a1e 320px,#dd2924 342px,#f6563d 350px,#fca78a 388px,#fdd6c5 400px,#faf4f3 404px,#e3eef9 408px,#deebf7 412px,#edf5fc 416px,#c0d9ed 448px,#87bddc 460px,#3b8bc2 474px,#2979b9 478px,#084e98 504px,#083674 514px,#08326e 576px,#0c4b90 578px,#1f6eb2 580px,#2372b5 584px,#11579d 586px,#083573 588px,#08306b 596px,#08306b 654px)"></i><i style="top:171px;height:3px;background:linear-gradient(90deg,#08306b 0,#08316c 16px,#0c3a75 16px,#205791 18px,#538bba 18px,#9cbfda 20px,#d8dce3 20px,#f6e1d9 22px,#fedccc 24px,#fae0d4 28px,#eae0de 30px,#bdd0e0 30px,#76a5cb 32px,#356ea4 32px,#124581 34px,#093470 34px,#08326d 60px,#0e3f7b 62px,#2d6aa3 62px,#75a9cf 64px,#c4d7e6 64px,#f0e2de 66px,#fdd6c5 68px,#fddacb 76px,#f3e1db 76px,#c9d9e7 78px,#7eb2d6 78px,#367cb6 80px,#125498 80px,#09468c 82px,#1662aa 100px,#3a89c2 134px,#529ccb 134px,#b3d3e9 136px,#dae6f1 138px,#f6ebe7 138px,#fdc5ae 140px,#fcb59a 154px,#fcb79d 156px,#fdd6c5 158px,#f9e6df 158px,#e7ebf2 160px,#c0d9ed 162px,#c2daed 168px,#d7e3ee 168px,#f4e2dc 170px,#fcb095 172px,#fc9c7e 174px,#fb7a5a 232px,#f14432 242px,#d32020 298px,#a91016 304px,#890811 308px,#930b13 312px,#cc191d 318px,#dd2a25 342px,#f75a40 352px,#fca689 388px,#fdd4c2 400px,#fcf2ee 404px,#ecf4fb 406px,#dfecf7 414px,#eaf3fb 418px,#bed8ec 446px,#7eb9da 460px,#3c8cc3 474px,#2979b9 478px,#084e98 504px,#083877 514px,#08306c 574px,#094081 576px,#1966ab 578px,#2575b7 580px,#2170b4 582px,#0e5096 584px,#083370 586px,#08306b 654px)"></i><i style="top:174px;height:3px;background:linear-gradient(90deg,#08306b 0,#08316c 18px,#0b3774 18px,#1c518c 20px,#4981b3 20px,#90b8d5 22px,#d0dae3 22px,#f2e2dd 24px,#fedccd 26px,#fbdfd2 30px,#eee1dd 32px,#c6d5e1 32px,#82aed0 34px,#3d76ab 34px,#164a86 36px,#0a3571 36px,#08316c 62px,#0b3874 62px,#1f5894 64px,#5a95c3 64px,#aecbe1 66px,#e8e1e1 66px,#fbdccf 68px,#fdd6c4 70px,#fdd8c8 76px,#f7dfd5 78px,#dadfe5 78px,#98c0dd 80px,#4a8bbf 80px,#195c9d 82px,#0a468a 82px,#115ca5 98px,#2e7ebc 126px,#3887c1 134px,#509aca 134px,#d9e6f1 138px,#f6ebe8 138px,#fdc6af 140px,#fcb69b 154px,#fcb89e 156px,#fdd7c7 158px,#f9e7e0 158px,#e6ebf2 160px,#c0d9ed 162px,#c1daed 168px,#d7e3ef 168px,#f4e4de 170px,#fcb499 172px,#fc9f81 174px,#fb7b5b 232px,#f24734 242px,#da2623 290px,#d01d1f 300px,#8e0912 308px,#9a0c14 312px,#ca191d 318px,#de2a25 342px,#f7593f 352px,#fca588 388px,#fdd2bf 400px,#f6f6f9 406px,#deebf7 412px,#e6f0fa 418px,#b4d3e9 448px,#70b1d7 462px,#3585bf 474px,#09519b 504px,#083b7b 514px,#08306b 572px,#083776 574px,#1d6bb0 578px,#2474b6 580px,#145ea4 582px,#083978 584px,#08306b 586px,#08306b 654px)"></i><i style="top:177px;height:3px;background:linear-gradient(90deg,#08306b 0,#0a3672 20px,#174b87 22px,#4078ac 22px,#84b0d1 24px,#c8d6e1 24px,#efe1dd 26px,#fedccd 28px,#fcdfd1 32px,#f1e2dd 34px,#ced9e2 34px,#8db6d4 36px,#477fb1 36px,#1a4f8a 38px,#0b3773 38px,#08306b 46px,#093470 64px,#144a87 64px,#4380b5 66px,#94bdda 66px,#d9dee5 68px,#f7dfd5 68px,#fdd6c4 70px,#fdd7c6 78px,#fbdcd0 78px,#e8e1e1 80px,#b0cde2 80px,#609cc9 82px,#2367a5 82px,#0c488b 84px,#084387 86px,#1663aa 104px,#3686c0 134px,#4e99ca 134px,#b0d2e8 136px,#d7e6f3 138px,#f3eeee 138px,#fdc6b0 140px,#fcb89d 152px,#fcb89e 156px,#fdd8c8 158px,#f9e8e1 158px,#e5ebf2 160px,#c0d9ed 162px,#c1daed 168px,#d7e3ef 168px,#f4e5e0 170px,#fcb79d 172px,#fca184 174px,#fb7d5d 232px,#f34a35 242px,#e12d26 276px,#d01d1f 300px,#990c13 308px,#a30f15 312px,#cd1b1e 318px,#de2b25 342px,#f6583f 352px,#fca88b 390px,#fdd0bd 400px,#fcf3f0 406px,#eaf3fb 408px,#e1edf8 416px,#ddebf7 422px,#a7cee4 450px,#3e8ec4 474px,#2b7bba 480px,#09519b 506px,#083d7f 514px,#08306b 572px,#093c7c 574px,#1662a8 576px,#2575b7 578px,#1c69ae 580px,#083673 584px,#08306b 590px,#08306b 654px)"></i><i style="top:180px;height:3px;background:linear-gradient(90deg,#08306b 0,#093470 22px,#134682 24px,#3770a6 24px,#79a7cc 26px,#bfd1e0 26px,#ebe1de 28px,#fae0d4 28px,#fedccd 34px,#f5e1d9 36px,#d7dce3 36px,#99bdd9 38px,#5088b8 38px,#1f5590 40px,#0c3975 40px,#08306b 44px,#08326d 64px,#0f407d 66px,#2f6ca5 66px,#78abd1 68px,#c7d8e6 68px,#f2e1db 70px,#fdd6c5 72px,#fddacb 80px,#f2e2dc 80px,#c5d7e6 82px,#78add3 82px,#3175b0 84px,#104c8e 84px,#093f81 86px,#115da5 104px,#2e7ebc 132px,#3484bf 134px,#4c97c9 134px,#aed1e8 136px,#d6e6f4 138px,#f1eff1 138px,#fdc7b1 140px,#fcb99f 152px,#fcb99f 156px,#fdd9c9 158px,#f9e8e2 158px,#e5ebf2 160px,#c0d9ed 162px,#c1d9ed 168px,#d6e3ef 168px,#f4e7e2 170px,#fcbba2 172px,#fca487 174px,#fc7e5e 232px,#f44d37 242px,#e43027 270px,#d11d1f 302px,#a50f15 310px,#d11e20 318px,#df2b25 342px,#f75b40 352px,#fca78a 390px,#fdceba 400px,#fcf2ed 406px,#f0f7fd 408px,#e2edf8 416px,#9dc9e1 450px,#3787c0 474px,#0a549e 506px,#083f82 516px,#08316c 570px,#0a4285 572px,#1b68ad 574px,#2676b8 576px,#2271b4 578px,#0e5197 580px,#083370 582px,#08306b 654px)"></i><i style="top:183px;height:3px;background:linear-gradient(90deg,#08306b 0,#09336e 24px,#10417e 26px,#2f68a0 26px,#6d9fc8 28px,#b5cde1 28px,#e6e0df 30px,#f9e0d5 30px,#fedccc 36px,#f7e1d8 38px,#dddfe4 38px,#a4c4dd 40px,#5c92bf 40px,#255c96 42px,#0e3c78 42px,#08306b 44px,#08316c 66px,#0b3975 66px,#205a96 68px,#5e97c4 68px,#b1cde2 70px,#e9e1e1 70px,#fbdccf 72px,#fdd6c4 74px,#fdd8c8 80px,#f7dfd6 82px,#d7dee5 82px,#92bddb 84px,#4485ba 84px,#165495 86px,#093f80 86px,#0f5aa3 104px,#3382be 134px,#4a96c8 134px,#add0e7 136px,#d5e6f3 138px,#f0eef1 138px,#fdc7b1 140px,#fcbaa0 152px,#fcbaa0 156px,#fddacb 158px,#f8e9e3 158px,#e4eaf2 160px,#c0d9ed 162px,#c1d9ed 168px,#d6e3f0 168px,#f4e8e5 170px,#fcbea6 172px,#fca689 174px,#fc7f5f 232px,#f45039 242px,#e63228 268px,#ce1b1e 304px,#b21218 310px,#d21f20 318px,#df2b25 342px,#f75a40 352px,#fca689 390px,#fdccb8 400px,#fbf5f3 406px,#ecf4fc 410px,#c1d9ed 432px,#8ec1de 452px,#3181bd 478px,#0d57a1 506px,#084184 518px,#08326e 570px,#0b498e 572px,#1e6db1 574px,#2575b7 576px,#145ea5 578px,#083a79 580px,#08306b 582px,#08306b 654px)"></i><i style="top:186px;height:3px;background:linear-gradient(90deg,#164882 0,#164882 4px,#09326d 6px,#09326d 26px,#0e3e7a 28px,#286099 28px,#6196c2 30px,#aac7de 30px,#e1dee0 32px,#f8e0d6 32px,#fedccc 38px,#f9e0d5 40px,#e4dfe0 40px,#b0cadf 42px,#679bc5 42px,#2b649d 44px,#0f3f7c 44px,#08306b 46px,#093470 68px,#154c89 68px,#4583b6 70px,#97bfdb 70px,#dbdfe5 72px,#f8dfd5 72px,#fdd6c4 74px,#fdd7c6 82px,#faddd0 82px,#e6e1e1 84px,#aacae1 84px,#5996c5 86px,#1f5f9e 86px,#0b4181 88px,#083b7b 90px,#115ca5 108px,#3181bd 134px,#4894c7 134px,#d4e5f3 138px,#f0eef1 138px,#fdc8b2 140px,#fcbba1 150px,#fcbaa1 156px,#fddbcc 158px,#f8eae4 158px,#e3eaf2 160px,#c0d9ed 162px,#c1d9ed 168px,#f1ecec 170px,#fcc2ab 172px,#fca98c 174px,#fc9171 208px,#fc8161 232px,#f5533b 242px,#e83429 266px,#cc1a1e 306px,#c2161b 312px,#d32020 320px,#e02c26 342px,#f7593f 352px,#fca588 390px,#fdcab5 400px,#f9f7f7 408px,#dfecf7 420px,#80badb 454px,#3181bd 478px,#0d57a1 506px,#084184 520px,#08316c 568px,#093f80 570px,#1864aa 572px,#2676b8 574px,#1c6aae 576px,#083674 580px,#08306b 584px,#08306b 654px)"></i><i style="top:189px;height:3px;background:linear-gradient(90deg,#b7cfe1 0,#b7cfe1 4px,#89b0d0 4px,#5082b0 6px,#265990 6px,#103e79 8px,#08306c 10px,#08316c 28px,#0d3a76 30px,#225993 30px,#568dbb 32px,#9fc1db 32px,#dadde3 34px,#f6e1d9 34px,#fedccc 38px,#fae0d4 42px,#e9e0de 42px,#bbcfdf 44px,#73a3ca 44px,#336ca3 46px,#124480 46px,#09336f 48px,#08326d 68px,#0f417e 70px,#316fa7 70px,#7badd2 72px,#c9d9e6 72px,#f3e1db 74px,#fdd6c5 76px,#fdd6c5 82px,#eee2de 84px,#c0d5e5 86px,#72a8d0 86px,#2d6ea9 88px,#0e4585 88px,#083978 90px,#105ba4 110px,#2f7fbc 134px,#4692c6 134px,#d3e5f3 138px,#efeef1 138px,#fdc8b3 140px,#fcbca2 150px,#fcbba1 156px,#f8eae5 158px,#e2eaf2 160px,#bfd8ed 162px,#c1d9ed 168px,#eeedf0 170px,#fdc5af 172px,#fcac8f 174px,#fc9e80 188px,#fc8262 232px,#f6563d 242px,#e93529 264px,#cf1c1f 314px,#dd2924 340px,#f5543c 352px,#fca487 390px,#fdc8b2 400px,#fef3ed 408px,#f3f8fd 410px,#56a0ce 466px,#3282be 480px,#0d57a1 508px,#084083 526px,#08326e 566px,#0a4589 568px,#1c6aaf 570px,#2676b8 574px,#1865aa 576px,#083471 578px,#08306b 654px)"></i><i style="top:192px;height:3px;background:linear-gradient(90deg,#fdefe8 0,#f9eee9 4px,#ebe9ea 6px,#cadae6 6px,#96bad6 8px,#2b6198 10px,#12437f 10px,#08316c 12px,#08316c 30px,#0b3874 32px,#1d528d 32px,#4c84b4 34px,#93b9d6 34px,#d3dae2 36px,#f4e1da 36px,#fedccc 40px,#fbdfd3 44px,#ede1dd 44px,#c4d4e1 46px,#7fabcf 46px,#3b74a9 48px,#154885 48px,#0a3571 50px,#08316c 70px,#0b3976 70px,#215c98 72px,#619ac6 72px,#b4cee2 74px,#eae2e0 74px,#fbdcce 76px,#fdd6c4 78px,#fdd8c9 84px,#f6e0d7 86px,#d4dce4 86px,#8cb8d8 88px,#3e7eb5 88px,#134d8c 90px,#093977 90px,#084991 104px,#2272b6 126px,#2d7dbb 134px,#4491c6 134px,#d2e4f3 138px,#efeef1 138px,#fdc9b3 140px,#fcbca3 150px,#fcbca2 156px,#f8ebe6 158px,#e2eaf2 160px,#bfd8ed 162px,#c1d9ed 168px,#ededf0 170px,#fdc9b3 172px,#fcae92 174px,#fca285 182px,#fc8464 232px,#f7593f 242px,#ea362a 264px,#d11e20 310px,#db2824 340px,#f6573e 352px,#fca386 390px,#fdc6b0 400px,#ffece4 406px,#f2f8fd 412px,#3c8cc3 474px,#0f5aa3 508px,#084184 528px,#083471 566px,#0c4c92 568px,#206fb2 570px,#2676b7 572px,#155fa5 574px,#083b7b 576px,#08316c 578px,#08306b 654px)"></i><i style="top:195px;height:3px;background:linear-gradient(90deg,#b2cfe4 0,#b2cfe4 4px,#f2ecec 6px,#faeee9 8px,#eeeaea 8px,#cddce7 10px,#96bbd7 10px,#588cb9 12px,#285e96 12px,#10407b 14px,#08306b 16px,#08316c 32px,#0a3672 34px,#184c88 34px,#427aae 36px,#88b1d2 36px,#cad7e2 38px,#f0e2dd 38px,#fedccd 40px,#fcdfd2 46px,#f1e2dd 46px,#ccd8e2 48px,#8ab4d3 48px,#447daf 50px,#194d89 50px,#0b3672 52px,#08306b 62px,#093571 72px,#174d8a 72px,#4885b8 74px,#9ac1dc 74px,#dde0e5 76px,#f8dfd4 76px,#fdd6c4 78px,#fdd7c6 86px,#faddd1 86px,#e4e0e2 88px,#a5c7df 88px,#5391c1 90px,#1c5896 90px,#0a3a78 92px,#083673 94px,#105ca4 114px,#2b7bba 134px,#438fc5 134px,#d2e4f2 138px,#eeeef1 138px,#fdc9b4 140px,#fcbda4 150px,#fcbca3 156px,#f8ece7 158px,#e1e9f2 160px,#bfd8ed 162px,#c1d9ed 168px,#ecedf1 170px,#fbe0d4 170px,#fcbca3 172px,#fcaa8e 174px,#fc8565 232px,#f75a40 242px,#ea362a 264px,#d42021 304px,#db2723 338px,#f6563d 352px,#fca588 390px,#fcc4ad 400px,#feeae0 406px,#f6f8fb 412px,#85bcdc 448px,#3484bf 480px,#105ba4 508px,#084082 534px,#08336f 564px,#094284 566px,#1a66ac 568px,#2777b8 570px,#1c6aaf 572px,#083876 576px,#08316c 580px,#08306b 654px)"></i><i style="top:198px;height:3px;background:linear-gradient(90deg,#184d89 0,#184d89 4px,#366ea4 4px,#abcae2 6px,#dbe4ed 8px,#f4eeed 8px,#faeee9 10px,#ebe9ea 12px,#c6d8e5 12px,#8db5d3 14px,#5084b3 14px,#235890 16px,#0f3c78 16px,#08306b 18px,#093470 36px,#144784 36px,#3972a8 38px,#7ca9ce 38px,#c2d3e0 40px,#ece1de 40px,#fbdfd4 42px,#fedccd 46px,#f5e1da 48px,#d5dbe2 50px,#96bbd7 50px,#4e86b6 52px,#1e548e 52px,#0c3975 54px,#08306b 58px,#09326e 72px,#10427f 74px,#3371a9 74px,#7fb0d4 76px,#ccdae7 76px,#f4e1da 78px,#fdd6c5 80px,#fdd6c5 86px,#fcdbcd 88px,#ede1de 88px,#bcd3e4 90px,#6ca3cc 90px,#2867a2 92px,#0d3e7c 92px,#08336f 94px,#105ba4 116px,#2979b9 134px,#418ec4 134px,#d1e3f2 138px,#eeedf1 138px,#fdcab5 140px,#fcbea5 150px,#fcbda3 156px,#f7ece8 158px,#e0e9f3 160px,#bfd8ed 162px,#c0d9ed 168px,#ebedf1 170px,#fae1d7 170px,#fcbfa7 172px,#fcac90 174px,#fc8363 234px,#f85d42 242px,#eb372a 262px,#d32021 302px,#db2824 338px,#f6573e 354px,#fca487 390px,#fcc2ab 400px,#feeae0 408px,#f5f9fd 414px,#87bddc 446px,#3686c0 480px,#125ea6 508px,#08468b 528px,#083472 562px,#0b488d 564px,#1e6cb0 566px,#2777b8 570px,#1965ab 572px,#083673 574px,#08306b 652px,#08306b 654px)"></i><i style="top:201px;height:3px;background:linear-gradient(90deg,#08316c 0,#0c3874 6px,#1a4d88 6px,#3e74a9 8px,#b4cfe4 10px,#e2e6ea 10px,#f8ede9 12px,#f9eee9 14px,#e7e7ea 14px,#bfd3e3 16px,#83adcf 16px,#477dae 18px,#1f528c 18px,#0d3a75 20px,#08306b 24px,#09336f 38px,#11437f 38px,#316aa1 40px,#70a1c9 40px,#b7cfe1 42px,#e7e0df 42px,#fae0d4 44px,#fedccc 48px,#f6e1d8 50px,#dcdee3 52px,#a1c3dc 52px,#598fbd 54px,#235a94 54px,#0d3b77 56px,#08306b 58px,#08316c 74px,#0c3a77 74px,#235f9a 76px,#649cc7 76px,#b7d0e3 78px,#ebe2e0 78px,#fbdbce 80px,#fdd6c4 84px,#fdd9c9 88px,#f5e0d7 90px,#d1dbe4 90px,#86b4d6 92px,#3878af 92px,#114684 94px,#09336f 94px,#083f81 106px,#135fa7 122px,#2877b8 134px,#3f8cc3 134px,#d0e3f2 138px,#ededf1 138px,#fdcab5 140px,#fcbea6 150px,#fcbda4 156px,#f7ede9 158px,#cadef0 160px,#bdd7ec 162px,#c0d9ed 168px,#eaedf1 170px,#fae3d9 170px,#fcb69b 174px,#fcab8e 178px,#fc8464 234px,#f86044 242px,#ec382b 262px,#d32020 302px,#da2723 338px,#f6563d 354px,#fca689 392px,#fdc6b0 402px,#fee7dc 408px,#f6f8fb 416px,#8bbfdd 444px,#3c8cc3 476px,#1461a8 508px,#08488f 528px,#083775 562px,#0d5096 564px,#2171b4 566px,#2676b8 568px,#155fa6 570px,#083c7d 572px,#08336f 574px,#08306b 654px)"></i><i style="top:204px;height:3px;background:linear-gradient(90deg,#6a95bd 0,#6a95bd 4px,#164681 6px,#0d3a75 8px,#0e3b77 8px,#1e528b 10px,#467bad 10px,#81acce 12px,#bdd2e3 12px,#e6e7ea 14px,#f9ede9 14px,#f8ede9 16px,#e3e6ea 18px,#b6d0e4 18px,#79a7cd 20px,#3f76aa 20px,#1b4e89 22px,#0c3874 22px,#08306b 28px,#09326e 40px,#0f3f7b 40px,#29629b 42px,#6498c3 42px,#adc9de 44px,#e3dfe0 44px,#f8e0d6 46px,#fedccc 50px,#f8e0d6 52px,#e3dfe0 54px,#adc9de 54px,#6498c3 56px,#29629b 56px,#0f3f7b 58px,#08306b 60px,#0a3571 76px,#184f8c 76px,#4b88ba 78px,#9dc3de 78px,#dfe0e5 80px,#f9ded3 80px,#fdd6c4 82px,#fdd7c7 90px,#f9ded2 90px,#e0e1e5 92px,#9fc4de 92px,#4d8bbc 94px,#19528f 94px,#0a3672 96px,#08326d 100px,#0f5aa3 122px,#2675b7 134px,#3d8ac2 134px,#cfe2f1 138px,#ededf1 138px,#fdcbb6 140px,#fcbfa6 150px,#fcbea5 156px,#f7edea 158px,#cadef0 160px,#bdd7ec 162px,#c0d9ed 168px,#e9ecf2 170px,#fae5dc 170px,#fcb89e 174px,#fcad91 178px,#fc8666 234px,#f96044 244px,#ec382b 262px,#d31f20 300px,#db2724 338px,#f6573e 354px,#fca588 392px,#fcc4ac 402px,#fee5d8 408px,#f9f7f8 416px,#add1e6 434px,#5ea5d1 460px,#3080bd 488px,#09529c 520px,#083674 560px,#0a4589 562px,#1b69ae 564px,#2878b9 566px,#1d6baf 568px,#083979 572px,#08336f 578px,#08306b 654px)"></i><i style="top:207px;height:3px;background:linear-gradient(90deg,#b3d0e6 0,#b3d0e6 4px,#c6ddee 4px,#cbe0f0 6px,#b8d3e8 6px,#6794bd 8px,#3e71a4 10px,#22548d 10px,#174984 12px,#245b94 12px,#4e83b3 14px,#8bb3d2 14px,#c5d7e5 16px,#eae8ea 16px,#faeee9 18px,#f4eeed 20px,#dce5ed 20px,#adcbe2 22px,#386fa5 24px,#174a86 24px,#0b3773 26px,#08306b 34px,#08316d 42px,#0d3b77 42px,#235a94 44px,#598fbd 44px,#a1c3dc 46px,#dcdee3 46px,#f6e1d8 48px,#fedccc 50px,#fae0d4 54px,#e7e0df 56px,#b7cfe1 56px,#70a1c9 58px,#316aa1 58px,#11437f 60px,#09336f 60px,#09326e 76px,#104380 78px,#3572a9 78px,#80b0d3 80px,#cdd9e4 80px,#f4e0d9 82px,#fdd6c5 84px,#fdd6c5 90px,#fbdbcd 92px,#ece1de 92px,#b9d1e3 94px,#689fc9 94px,#26639d 96px,#0d3c79 96px,#08306b 98px,#08458a 114px,#1d6bb1 132px,#2473b5 134px,#3b88c1 134px,#a1cae3 136px,#cee2f1 138px,#ecedf1 138px,#fdcbb7 140px,#fcc0a8 148px,#fcbfa6 156px,#f6eeec 158px,#c9def0 160px,#bdd7ec 162px,#c0d9ed 168px,#e8ecf2 170px,#fae6de 170px,#fcbba1 174px,#fcb094 176px,#fc8868 234px,#f96044 244px,#ed392b 262px,#d21f20 300px,#da2623 336px,#f6563d 354px,#fca689 392px,#fcc1a9 402px,#fee4d7 408px,#fdf3ef 416px,#ebf3fb 420px,#8ec1de 442px,#539dcd 466px,#1562a9 510px,#084991 532px,#083978 558px,#0c4c92 560px,#1f6eb2 562px,#2878b8 566px,#1966ab 568px,#083776 570px,#08306b 654px)"></i><i style="top:210px;height:3px;background:linear-gradient(90deg,#13417c 0,#13417c 4px,#23558d 4px,#6b98c0 6px,#bbd6ea 8px,#cce1f1 10px,#c5dced 10px,#a6c6e0 12px,#5284b3 14px,#346da4 14px,#3473ab 16px,#5a93c1 16px,#ccdbe7 18px,#edeaea 20px,#faeee9 20px,#f2edec 22px,#d7e1eb 24px,#a4c5df 24px,#3068a0 26px,#134682 28px,#08316c 30px,#08316c 44px,#0c3975 44px,#1e548e 46px,#4e86b6 46px,#96bbd7 48px,#d5dbe2 48px,#f5e1da 50px,#fedccc 52px,#fbdfd4 56px,#ece1de 58px,#c2d3e0 58px,#7ca9ce 60px,#3972a8 60px,#144784 62px,#093470 62px,#08316c 78px,#0b3975 78px,#205995 80px,#5b94c2 80px,#adcae0 82px,#e7e0e0 82px,#fbdcd0 84px,#fdd6c4 86px,#fdd8c8 92px,#f6dfd5 94px,#d5dbe3 94px,#8db8d7 96px,#3e7cb2 96px,#134886 98px,#093470 98px,#083573 108px,#0f5aa3 126px,#2270b3 134px,#3a87c0 134px,#a0c9e3 136px,#cde1f1 138px,#ecedf1 138px,#fadfd3 140px,#fdccb8 140px,#fcc1a9 148px,#fcbfa6 156px,#fdcdb9 156px,#f2f1f3 158px,#c9ddf0 160px,#bcd7ec 164px,#c0d9ed 168px,#e7ecf2 170px,#f9e8e1 170px,#fcbda4 174px,#fcb296 176px,#fc8969 234px,#f86044 246px,#ed392b 262px,#d21e20 300px,#da2723 336px,#f6553d 354px,#fca78b 394px,#fcc4ad 402px,#fee3d6 410px,#fcf4f0 418px,#eef5fc 420px,#90c2de 442px,#58a1cf 464px,#2d7dbb 494px,#084e97 528px,#083b7c 558px,#1966ab 560px,#2878b9 562px,#206fb3 566px,#083e7f 568px,#083472 572px,#08306b 654px)"></i><i style="top:213px;height:3px;background:linear-gradient(90deg,#0b4487 0,#0b4487 4px,#093672 6px,#194a85 8px,#326499 10px,#accbe3 12px,#c8deef 14px,#cbe0f0 14px,#b6d2e8 16px,#6fa6d0 18px,#64a2ce 18px,#7bb2d7 20px,#d5e1eb 22px,#f1eceb 22px,#fbeee9 24px,#efebeb 26px,#d0dee9 26px,#9bbfda 28px,#5c90bd 28px,#2a629a 30px,#11427e 30px,#08306c 32px,#08316c 46px,#0b3672 46px,#194d89 48px,#447daf 48px,#8ab4d3 50px,#ccd8e2 50px,#f1e2dd 52px,#fedccd 54px,#fcdfd2 58px,#f0e2dd 60px,#cad7e2 60px,#88b1d2 62px,#427aae 62px,#184c88 64px,#0a3672 64px,#08306b 78px,#09336f 80px,#124683 80px,#3b77ae 82px,#88b4d6 82px,#d2dbe4 84px,#f5e0d7 84px,#fdd6c5 86px,#fdd7c6 94px,#fbdbce 94px,#e8e0df 96px,#b1cce1 96px,#5f98c4 98px,#215c97 98px,#0b3976 100px,#08306b 102px,#083b7b 114px,#125da6 128px,#1f6eb1 134px,#3885bf 134px,#9ec9e2 136px,#cce1f1 138px,#ebedf1 138px,#fadfd4 140px,#fdccb8 140px,#fcc1a9 148px,#fcc0a7 156px,#fdceba 156px,#f1f1f4 158px,#c8ddf0 160px,#bcd7ec 164px,#c0d9ed 168px,#e6ebf3 170px,#f9eae3 170px,#fcc0a7 174px,#fcb499 176px,#fc8b6b 234px,#f85d41 248px,#ee3a2b 262px,#d11e20 300px,#db2724 336px,#f5543c 354px,#fca98c 394px,#fdc6af 404px,#fee4d7 412px,#fdf1ec 418px,#ebf3fb 420px,#92c3de 442px,#5ba3d0 464px,#2e7ebc 494px,#084e98 530px,#083b7c 556px,#0b4b91 558px,#1e6cb0 560px,#2979b9 562px,#1d6bb0 564px,#083b7b 568px,#083572 574px,#08306b 654px)"></i><i style="top:216px;height:3px;background:linear-gradient(90deg,#2c7bb9 0,#2c7bb9 4px,#0a4284 8px,#0b3774 12px,#12417c 12px,#26578e 14px,#6f9bc3 16px,#bed8eb 18px,#cde2f1 18px,#c7dff0 20px,#abd0e7 22px,#b5d4e9 22px,#f5efed 26px,#faeee9 28px,#eceaea 28px,#cadae6 30px,#92b8d5 30px,#5489b6 32px,#265b93 32px,#0f3e7a 34px,#08306b 36px,#0a3571 48px,#154885 50px,#3b74a9 50px,#7fabcf 52px,#c4d4e1 52px,#ede1dd 54px,#fedccd 56px,#fdded0 60px,#f4e1da 62px,#d3dae2 62px,#93b9d6 64px,#4c84b4 64px,#1d528d 66px,#0b3874 66px,#08306b 70px,#08316c 80px,#0c3a76 82px,#235d98 82px,#629ac6 84px,#b3cee2 84px,#e9e1e0 86px,#fbdccf 86px,#fdd6c4 90px,#fdd9c9 96px,#f5dfd7 96px,#d0d9e3 98px,#84b2d4 98px,#3875ac 100px,#114481 100px,#09336e 102px,#083472 112px,#105ba4 130px,#1d6aaf 134px,#3683be 134px,#9dc8e2 136px,#cbe0f0 138px,#ebecf1 138px,#fadfd4 140px,#fdcdb9 140px,#fcc2aa 148px,#fcc0a8 156px,#fdcebb 156px,#f0f1f4 158px,#c8ddf0 160px,#bcd7ec 164px,#c0d9ed 168px,#e5ebf3 170px,#f9ebe5 170px,#fcc2aa 174px,#fcb69c 176px,#fc8c6c 234px,#f5523b 252px,#eb372a 266px,#d11d1f 298px,#db2824 336px,#f5533c 354px,#fca98d 396px,#fdc7b1 404px,#fee6db 414px,#fcf3ef 418px,#eef5fc 420px,#97c6df 442px,#5ea5d1 462px,#2f7fbc 496px,#084f99 532px,#083e80 554px,#0d5299 556px,#2878b9 560px,#2473b5 562px,#0f549b 564px,#083979 566px,#08306b 654px)"></i><i style="top:219px;height:3px;background:linear-gradient(90deg,#69abd4 0,#69abd4 4px,#1f6bad 10px,#093e7e 14px,#093672 16px,#1b4c86 18px,#35679c 18px,#b0cee5 22px,#cce0f1 22px,#f0f1f3 28px,#fcf0ea 30px,#f9eee9 30px,#e9e8ea 32px,#c3d6e4 32px,#89b1d1 34px,#4c81b0 34px,#21558e 36px,#0e3b77 36px,#08306b 40px,#09336f 50px,#124480 52px,#336ca3 52px,#73a3ca 54px,#bbcfdf 54px,#e9e0de 56px,#fae0d4 56px,#fedccc 62px,#f6e1d9 64px,#dadde3 64px,#9fc1db 66px,#568dbb 66px,#225993 68px,#0d3a76 68px,#08306b 72px,#093470 82px,#144986 84px,#3f7db2 84px,#8fb9d8 86px,#d6dce4 86px,#f6dfd6 88px,#fdd6c5 90px,#fdd7c6 96px,#fadccf 98px,#e5dfdf 98px,#a9c8de 100px,#5791bf 100px,#1e5692 102px,#0b3773 102px,#08306b 106px,#083a7a 118px,#125ea6 132px,#1a67ac 134px,#3481bc 134px,#9bc7e1 136px,#cbe0f0 138px,#eaecf1 138px,#fae0d5 140px,#fdcdba 140px,#fcc2ab 148px,#fcc1a9 156px,#fdcfbc 156px,#eff0f4 158px,#c7dcef 160px,#bcd7ec 164px,#bfd8ed 168px,#e4ebf3 170px,#f9ece7 170px,#fcbba1 174px,#fc8e6e 234px,#f24734 256px,#d01d1f 298px,#da2623 336px,#f5523b 354px,#fcac90 398px,#fdf1eb 418px,#f1f6fc 420px,#ccdff1 428px,#8fc2de 444px,#5da5d1 464px,#1a68ae 514px,#08498f 542px,#084285 554px,#2675b7 558px,#2878b8 560px,#1661a7 562px,#094082 564px,#083775 568px,#08306b 654px)"></i><i style="top:222px;height:3px;background:linear-gradient(90deg,#a8cee5 0,#a8cee5 4px,#4894c7 10px,#12579c 16px,#093673 20px,#13437e 22px,#285990 22px,#739fc6 24px,#c4dbed 26px,#e7f1f9 28px,#fcf1eb 32px,#f8eeea 34px,#e5e7ea 34px,#bcd2e3 36px,#7faace 36px,#4479ac 38px,#1d508a 38px,#0d3974 40px,#08306b 44px,#09326e 52px,#0f3f7c 54px,#2b649d 54px,#679bc5 56px,#b0cadf 56px,#e4dfe0 58px,#f9e0d5 58px,#fedccc 64px,#f8e0d6 66px,#e1dee0 66px,#aac7de 68px,#6196c2 68px,#286099 70px,#0e3e7a 70px,#08306b 72px,#08316c 84px,#0c3c78 84px,#26629c 86px,#689fc9 86px,#b9d1e3 88px,#ece1df 88px,#fbdbcd 90px,#fdd6c4 94px,#fdd9ca 98px,#f3dfd8 100px,#cad7e2 100px,#7cacd0 102px,#326ea5 102px,#10417d 104px,#09326d 104px,#083573 118px,#0f5aa3 132px,#1763a9 134px,#327ebb 134px,#9ac6e1 136px,#cadff0 138px,#eaecf1 138px,#fae0d5 140px,#fdceba 140px,#fcc2aa 150px,#fcc1a9 156px,#fbe5dc 158px,#eef0f4 158px,#c6dcef 160px,#bcd7ec 164px,#bfd8ed 168px,#e3ebf3 170px,#f8eeea 170px,#fcbda4 174px,#fc9070 234px,#f14331 258px,#cf1c1f 298px,#da2723 336px,#f5513a 354px,#fcaf93 400px,#ffede5 418px,#edf4fb 422px,#9bc8e0 442px,#62a8d3 462px,#1c6bb0 514px,#084991 542px,#084286 552px,#0c5199 554px,#2878b9 556px,#2777b8 560px,#125ba2 562px,#083d7e 564px,#083775 574px,#08306b 654px)"></i><i style="top:225px;height:3px;background:linear-gradient(90deg,#c5dbef 0,#bed8ec 6px,#8abedd 10px,#1e6aad 18px,#093d7e 22px,#093673 24px,#0f3c77 26px,#1d4e88 26px,#376a9f 28px,#b9d3e8 30px,#d8e8f4 32px,#f3f5f8 34px,#f5f1f0 36px,#dfe8f0 38px,#b2cfe5 38px,#3c73a8 40px,#194c87 42px,#0b3873 42px,#08306b 50px,#09326d 54px,#0e3c78 56px,#255c96 56px,#5c92bf 58px,#a4c4dd 58px,#dddfe4 60px,#f7e1d8 60px,#fedccc 64px,#f9e0d5 68px,#e6e0df 68px,#b5cde1 70px,#6d9fc8 70px,#2f68a0 72px,#10417e 72px,#09336e 74px,#093571 86px,#164c89 86px,#4582b6 88px,#95bdda 88px,#d9dee4 90px,#f7dfd5 90px,#fdd6c5 92px,#fdd7c6 100px,#faddd0 100px,#e2dfe0 102px,#a2c3dc 102px,#4f89ba 104px,#1a508c 104px,#0a3671 106px,#08316d 118px,#0b559f 132px,#145fa6 134px,#307cba 134px,#98c5e0 136px,#c9dfef 138px,#e9ecf1 138px,#fae0d5 140px,#fdcebb 140px,#fcc3ab 150px,#fcc2aa 156px,#fbe5dc 158px,#edeff4 158px,#c6dcef 160px,#bcd7ec 166px,#bfd8ed 168px,#e2eaf4 170px,#f8efec 170px,#fcbfa6 174px,#fc9171 234px,#f14431 258px,#cf1c1f 298px,#da2723 336px,#f5533b 356px,#fcb296 402px,#feebe2 418px,#eff6fc 422px,#9dc9e1 442px,#63a9d3 462px,#1460a8 522px,#08458a 550px,#1b68ae 554px,#2c7cbb 556px,#2575b6 558px,#094589 562px,#083978 564px,#08306b 654px)"></i><i style="top:228px;height:3px;background:linear-gradient(90deg,#c8dcf0 0,#c0d9ed 10px,#91c2df 14px,#2370b1 22px,#0a4183 26px,#093673 28px,#154580 30px,#2f5f94 32px,#bbd5e9 34px,#dbeaf5 36px,#f1f6fb 38px,#eef3f8 40px,#d7e6f3 40px,#a9cae4 42px,#356ca3 44px,#154884 44px,#0a3672 46px,#08306b 56px,#0c3975 58px,#1f5590 58px,#5088b8 60px,#99bdd9 60px,#d7dce3 62px,#f5e1d9 62px,#fedccc 66px,#fae0d4 70px,#ebe1de 70px,#bfd1e0 72px,#79a7cc 72px,#3770a6 74px,#134682 74px,#093470 76px,#08316d 86px,#0e3e7a 88px,#2b66a0 88px,#6fa4cc 90px,#bed4e4 90px,#eee1de 92px,#fcdbcd 92px,#fdd6c4 98px,#fddaca 102px,#f2e0d9 102px,#c5d5e2 104px,#74a6cc 104px,#2c67a0 106px,#0e3d7a 106px,#08306b 108px,#083673 124px,#0b549e 132px,#1460a7 134px,#317eba 134px,#9ac6e1 136px,#c9dff0 138px,#e9ecf1 138px,#fae1d6 140px,#fdd0bd 140px,#fdc5ae 148px,#fcc4ad 156px,#fbe6de 158px,#eceff4 158px,#c5dbef 160px,#bdd7ec 166px,#cbdff0 168px,#f8f0ed 170px,#fcc1a9 174px,#fc9071 234px,#f14532 258px,#d01d1f 296px,#dc2924 336px,#f5543c 356px,#fcb398 402px,#fee9df 418px,#f3f6fa 422px,#cfe1f2 430px,#93c4df 446px,#64a9d3 462px,#1561a9 528px,#0a4e96 550px,#2a7ab9 554px,#2c7cba 556px,#0e569d 560px,#084083 562px,#08326d 654px)"></i><i style="top:231px;height:3px;background:linear-gradient(90deg,#c8dcf0 0,#c2d9ee 14px,#97c5e0 18px,#2876b6 26px,#0b4688 30px,#093876 32px,#0c3a77 34px,#184984 34px,#386a9f 36px,#a4c5e0 38px,#d1e3f2 38px,#e7f1fa 40px,#eff6fd 42px,#e9f2fa 42px,#d3e5f3 44px,#a6c7e2 44px,#376ca2 46px,#174884 48px,#08316c 50px,#08316c 58px,#0b3773 60px,#1a4f8a 60px,#477fb1 62px,#8db6d4 62px,#ced9e2 64px,#f1e2dd 64px,#fedccd 66px,#fcdfd2 72px,#efe1dd 72px,#c8d6e1 74px,#84b0d1 74px,#4078ac 76px,#174b87 76px,#0a3672 78px,#08306b 88px,#0a3672 88px,#19508c 90px,#4b87b9 90px,#9cc1dd 92px,#dddfe4 92px,#f8ded4 94px,#fdd6c4 96px,#fdd7c7 102px,#f9ded3 104px,#dddfe3 104px,#9abfdb 106px,#4883b6 106px,#174c88 108px,#093470 108px,#08326e 124px,#08488f 130px,#1865aa 134px,#3783be 134px,#9ec9e2 136px,#cbe0f0 138px,#eaecf1 138px,#fae2d8 140px,#fdd2bf 140px,#fdc7b1 146px,#fcc3ab 154px,#fdc7b1 156px,#fae8e0 158px,#ebeff4 158px,#c5dbef 160px,#bdd7ec 166px,#cadef0 168px,#f4f2f4 170px,#fdceba 174px,#fcc1a9 176px,#fc9677 234px,#f34935 258px,#d42121 296px,#e02c26 336px,#f75c41 358px,#fcb69c 404px,#fee8dd 418px,#f5f7fa 422px,#a5cde4 442px,#68acd5 462px,#1e6db2 526px,#115da5 548px,#3080bd 552px,#2e7ebc 556px,#0a5098 560px,#08478d 568px,#083978 654px)"></i><i style="top:234px;height:3px;background:linear-gradient(90deg,#c8dcf0 0,#c4daee 18px,#9dc9e2 22px,#2d7cb9 30px,#0d4a8e 34px,#0a3e7e 36px,#134a88 38px,#306aa3 38px,#a2c6e1 40px,#d1e4f3 42px,#eaf2fa 42px,#f1f6fb 44px,#dae9f5 46px,#b8d3e8 48px,#2b5a90 50px,#13407a 52px,#08306b 54px,#0a3571 62px,#164a86 62px,#3d76ab 64px,#82aed0 64px,#c6d5e1 66px,#eee1dd 66px,#fedccd 68px,#fcded1 74px,#f2e2dd 74px,#d0dae3 76px,#90b8d5 76px,#4981b3 78px,#1c518c 78px,#0b3774 80px,#08306b 84px,#08326d 90px,#0f407d 90px,#2f6ba4 92px,#76a9cf 92px,#c4d7e5 94px,#f0e2dd 94px,#fdd6c5 96px,#fcdacc 104px,#ede0dd 106px,#bdd2e3 106px,#6ca0c9 108px,#27619b 108px,#0d3b77 110px,#08306b 112px,#083370 126px,#08458a 130px,#0f59a2 132px,#1d6aae 134px,#3d89c1 134px,#a2cbe4 136px,#cde1f1 138px,#eaedf2 138px,#fae3da 140px,#fdd4c2 140px,#fdc9b4 144px,#fdc5ae 154px,#fdcab5 156px,#fae9e3 158px,#ebeff4 158px,#c5dbef 160px,#bdd7ec 166px,#cadef0 168px,#f2f3f7 170px,#fedfd1 172px,#fdc7b0 174px,#fc9677 234px,#f44e38 258px,#d72422 296px,#e43027 336px,#fb6e4e 364px,#fcb99f 404px,#fee7db 418px,#f1f6fc 422px,#76b4d8 458px,#4896c8 490px,#1967ad 546px,#3686c0 552px,#2878b8 556px,#0f5aa3 558px,#084285 654px)"></i><i style="top:237px;height:3px;background:linear-gradient(90deg,#c8dcf0 0,#c2d9ee 22px,#97c5e0 28px,#2775b5 36px,#0e4c90 40px,#185798 40px,#3877b0 42px,#accce4 44px,#dae6f1 44px,#f1f2f5 46px,#f6f5f7 48px,#e8f1f9 50px,#d5e5f3 50px,#84acce 52px,#2f6196 54px,#164782 56px,#09326d 58px,#093470 64px,#124581 64px,#356ea4 66px,#76a5cb 66px,#bdd0e0 68px,#eae0de 68px,#fae0d4 70px,#fedccd 74px,#f6e1d9 76px,#d8dce3 78px,#9cbfda 78px,#538bba 80px,#205791 80px,#0c3a75 82px,#08306b 84px,#08306c 90px,#0a3773 92px,#1b5490 92px,#518dbd 94px,#a2c6df 94px,#e1e1e4 96px,#f9ded3 96px,#fdd6c4 98px,#fdd8c8 106px,#f7ded4 106px,#d8dde3 108px,#92bbd8 108px,#417db2 110px,#144885 110px,#09336f 112px,#083471 128px,#084286 130px,#115ca4 132px,#216eb1 134px,#438ec4 134px,#a7cde5 136px,#eaedf2 138px,#fae4dc 140px,#fdd6c5 140px,#fdcab5 144px,#fdc7b1 154px,#fedccd 156px,#faebe5 158px,#eaeef5 158px,#c5dbee 160px,#bdd7ec 166px,#cadef0 168px,#f1f3f7 170px,#fee1d3 172px,#fdc9b4 174px,#fc997a 234px,#f5513a 260px,#db2724 296px,#e93529 336px,#fc8060 374px,#fcbca3 406px,#fee5da 418px,#f5f7fa 422px,#77b4d8 460px,#519ccc 488px,#2373b6 546px,#3a8ac2 552px,#2271b4 556px,#135fa7 560px,#084c94 654px)"></i><i style="top:240px;height:3px;background:linear-gradient(90deg,#c8dcf0 0,#c4daee 26px,#9dc8e2 32px,#2d7bb9 40px,#165fa5 42px,#216aac 44px,#4587bf 44px,#b8d3e8 46px,#e2e8ef 48px,#f7f0ed 48px,#f5f5f7 52px,#e7f1fa 54px,#d6e6f4 54px,#b3d1e7 56px,#295d94 58px,#12427e 60px,#08316c 62px,#09336e 66px,#10407d 66px,#2d669e 68px,#6a9dc7 68px,#b2cce0 70px,#e5dfe0 70px,#f9e0d5 72px,#fedccc 76px,#f8e0d6 78px,#e0dee1 80px,#a8c5dd 80px,#5e94c0 82px,#265e98 82px,#0e3d79 84px,#08306b 86px,#09326e 92px,#10427f 94px,#3370a8 94px,#7daed2 96px,#cad9e6 96px,#f3e1da 98px,#fdd6c5 100px,#fdd6c5 106px,#fbdbcd 108px,#ebe0dd 108px,#b6cfe1 110px,#649ac5 110px,#235c97 112px,#0c3975 112px,#08306b 114px,#08336f 128px,#083f81 130px,#135ea6 132px,#2473b4 134px,#4993c7 134px,#accfe7 136px,#ebeef3 138px,#fae6dd 140px,#fdd0bd 142px,#fdcab4 154px,#fedfd1 156px,#faede7 158px,#e9eef5 158px,#c4dbee 160px,#bdd7ec 166px,#cadef0 168px,#f1f3f7 170px,#fee2d5 172px,#fdccb8 174px,#fc9c7d 234px,#f6563d 260px,#de2b25 296px,#ec392b 336px,#fc8868 378px,#fcbca2 406px,#fee4d8 418px,#f8f6f7 422px,#caddf0 436px,#79b6d9 460px,#5aa3cf 484px,#3080bd 546px,#3e8ec4 550px,#1e6db2 558px,#0c56a0 654px)"></i><i style="top:243px;height:3px;background:linear-gradient(90deg,#c8dcf0 0,#c2d9ed 32px,#96c5e0 36px,#2877b7 44px,#2573b5 46px,#337ebb 46px,#5799c9 48px,#c5d9e7 50px,#e9e9eb 50px,#f9efea 52px,#eff4fa 56px,#e1edf8 58px,#cbe0f0 58px,#709fc8 60px,#4176a9 62px,#20528b 62px,#0f3c77 64px,#08306b 66px,#0e3d79 68px,#265e97 70px,#5e94c0 70px,#a7c5dd 72px,#e0dee1 72px,#f8e0d7 74px,#fedccc 78px,#f9e0d5 80px,#e5dfe0 82px,#b3cce0 82px,#6a9dc7 84px,#2d669f 84px,#10417d 86px,#08306b 88px,#08316c 94px,#0b3874 94px,#1e5793 96px,#5892c1 96px,#aac9df 98px,#e5e0e1 98px,#faddd0 100px,#fdd6c4 102px,#fdd8c8 108px,#f6ded5 110px,#d4dbe3 110px,#8bb5d5 112px,#3b76ac 112px,#124481 114px,#09336e 114px,#083370 130px,#1560a7 132px,#2877b7 134px,#81b9da 136px,#b0d2e8 136px,#ebeef3 138px,#fddaca 140px,#fdcdb8 144px,#fdccb7 154px,#fee2d5 156px,#faeee9 158px,#e8eef5 158px,#c4dbee 160px,#bdd7ec 166px,#c9def0 168px,#f0f3f7 170px,#fee4d8 172px,#fdcfbb 174px,#fc9e80 234px,#f7593f 260px,#e22e26 296px,#ef3d2d 336px,#fc9272 382px,#fcbea5 406px,#fee7dc 420px,#f6f7fa 424px,#7eb8da 460px,#61a7d2 480px,#3989c2 544px,#4291c6 550px,#2676b8 556px,#1460a8 654px)"></i><i style="top:246px;height:3px;background:linear-gradient(90deg,#c8dcf0 0,#c3daee 36px,#9cc8e2 40px,#3a89c1 48px,#3786c0 48px,#4690c5 50px,#6ba8d1 50px,#cfdee9 52px,#edebeb 54px,#fdf0ea 56px,#e4eff9 60px,#d9e9f5 62px,#bed8eb 62px,#5e8fbb 64px,#31679e 66px,#174985 66px,#09316d 68px,#0c3975 70px,#205691 72px,#528ab9 72px,#9bbed9 74px,#d7dce3 74px,#f5e1d9 76px,#fedccc 78px,#fae0d4 82px,#eae0de 84px,#bed1e0 84px,#77a6cc 86px,#366fa5 86px,#134582 88px,#093470 88px,#09336f 96px,#124582 96px,#3875ac 98px,#85b2d4 98px,#cfdae4 100px,#f5e0d8 100px,#fdd6c5 102px,#fdd7c6 110px,#fbdbce 110px,#e8dfde 112px,#b0cbdf 112px,#5c94c1 114px,#1f5792 114px,#0b3773 116px,#08306b 120px,#08326e 130px,#0b4d93 132px,#2c7ab9 134px,#88bddc 136px,#b5d4e9 136px,#ebeff4 138px,#fedccd 140px,#fdceba 144px,#fdceba 154px,#f9efeb 158px,#e7eef5 158px,#c4dbee 160px,#bfd8ec 168px,#eff2f7 170px,#fee5da 172px,#fdd1bf 174px,#fca183 234px,#f85d42 260px,#e53128 294px,#f03f2f 336px,#fc9575 384px,#fcbea5 406px,#fee5da 420px,#f5f8fc 424px,#83bbdb 460px,#67acd5 478px,#4292c6 544px,#4292c6 550px,#2d7dbb 556px,#1b69af 654px)"></i><i style="top:249px;height:3px;background:linear-gradient(90deg,#c8dcf0 0,#c1d9ed 40px,#95c4e0 46px,#4e99ca 50px,#4b97c9 52px,#5ba1ce 52px,#d9e3ec 56px,#f1ecec 56px,#fcefea 58px,#deebf6 62px,#dfecf7 64px,#d1e4f3 66px,#afcee6 66px,#4e80af 68px,#275a91 70px,#11417c 70px,#0a3572 72px,#0b3874 72px,#1b508b 74px,#4880b2 74px,#8eb6d4 76px,#cfd9e2 76px,#f2e2dd 78px,#fedccd 80px,#fcdfd2 84px,#eee1dd 86px,#c7d5e1 86px,#83afd1 88px,#3f78ac 88px,#174a86 90px,#0a3671 90px,#08316c 96px,#0b3976 98px,#215b97 98px,#5f97c4 100px,#b0cce1 100px,#e8e1e0 102px,#fbdccf 102px,#fdd6c4 106px,#fdd8c9 112px,#f5dfd6 112px,#cfd8e2 114px,#82afd1 114px,#356fa6 116px,#10407c 116px,#09326d 118px,#08316d 130px,#083978 130px,#1964aa 132px,#307ebb 134px,#90c1de 136px,#b9d6eb 136px,#eceff4 138px,#fedecf 140px,#fdcebb 144px,#fdccb7 154px,#fedaca 156px,#f7f1f0 158px,#d1e3f3 160px,#bed7ec 162px,#bfd8ec 168px,#eff2f7 170px,#fee7dc 172px,#fdd4c2 174px,#fca487 234px,#f86043 262px,#e93529 296px,#f14432 336px,#fc9a7b 386px,#fcc0a8 408px,#fee4d8 420px,#f7f8fb 426px,#8abfdd 460px,#6cafd6 478px,#4d99ca 538px,#4795c8 548px,#2f7fbc 562px,#2171b5 654px)"></i><i style="top:252px;height:3px;background:linear-gradient(90deg,#c8dcf0 0,#c3daee 44px,#9bc8e1 50px,#64a8d2 54px,#62a7d2 54px,#72b0d6 56px,#e1e8ee 58px,#fcefe9 60px,#f5eeed 62px,#cee1f1 66px,#dae9f5 68px,#c7ddef 70px,#6b9bc6 72px,#3c72a7 72px,#1d508a 74px,#10407c 74px,#174c88 76px,#3e77ab 76px,#82aed0 78px,#c6d5e1 78px,#eee1dd 80px,#fedccd 82px,#fcded1 86px,#f2e2dd 88px,#d0d9e3 88px,#90b7d5 90px,#4981b3 90px,#1c508b 92px,#0b3774 92px,#08306b 98px,#09336f 98px,#134784 100px,#3d7ab0 100px,#8bb7d7 102px,#d4dbe4 102px,#f6dfd7 104px,#fdd6c5 106px,#fdd7c6 112px,#fadccf 114px,#e5dfdf 114px,#a7c6dd 116px,#538cbb 116px,#1b518c 118px,#0a3571 118px,#08316c 130px,#083775 130px,#1a66ab 132px,#3581bd 134px,#97c5e0 136px,#bed8ec 136px,#eceff5 138px,#fee0d2 140px,#fdcfbc 144px,#fdcdb9 154px,#feddce 156px,#f3f3f6 158px,#c3daee 160px,#bfd8ec 168px,#eef2f7 170px,#fee8de 172px,#fdd4c2 176px,#fca78a 234px,#f96345 262px,#ec382b 296px,#f24935 336px,#fc9e80 388px,#fcc0a7 408px,#fee6da 420px,#f9f7f8 426px,#cfe1f2 438px,#8cc0dd 460px,#73b2d8 478px,#5ba3d0 536px,#3484bf 568px,#2878b9 654px)"></i><i style="top:255px;height:3px;background:linear-gradient(90deg,#c8dcf0 0,#c5dbee 48px,#a1cae3 54px,#7bb7d9 56px,#79b5d9 58px,#84bbdc 58px,#eeebeb 62px,#faefea 64px,#c7ddec 68px,#dceaf6 72px,#d6e7f4 72px,#bad6ea 74px,#30679f 76px,#1f5b99 78px,#3875ac 78px,#76a6cd 80px,#bdd0e0 80px,#eae0de 82px,#fae0d4 82px,#fedccd 88px,#f6e1d9 90px,#d8dce3 90px,#9cbfda 92px,#538bba 92px,#215792 94px,#0d3a76 94px,#08306b 98px,#08316c 100px,#0c3a76 100px,#235d98 102px,#6199c5 102px,#b2cce1 104px,#e8e0df 104px,#fbdccf 106px,#fdd6c4 108px,#fdd9c9 114px,#f3dfd7 116px,#cbd6e1 116px,#7dabcf 118px,#326ba2 118px,#103f7a 120px,#08306b 122px,#08306b 130px,#083674 130px,#1c68ac 132px,#3985bf 134px,#9dc8e2 136px,#c2daee 136px,#ecf0f5 138px,#fee1d4 140px,#fdd0bd 144px,#fdcfbc 154px,#fcebe4 156px,#f2f3f6 158px,#c3daee 160px,#bfd8ec 168px,#edf2f7 170px,#feeae0 172px,#fed7c6 176px,#fca98d 234px,#fa6547 264px,#ef3c2d 296px,#f44d38 336px,#fca487 392px,#fcc4ad 410px,#fbf6f4 428px,#eaf2fb 432px,#95c5df 458px,#79b5d9 476px,#67abd4 536px,#3c8cc3 566px,#2e7ebc 654px)"></i><i style="top:258px;height:3px;background:linear-gradient(90deg,#c8dcf0 0,#c3daee 54px,#9bc7e1 58px,#85bcdc 60px,#84bbdc 62px,#a8cee5 64px,#dfe7ee 66px,#faeee9 68px,#f0eceb 70px,#cee1f0 72px,#ddebf7 76px,#cfe2f2 76px,#abcbe5 78px,#528fc0 80px,#4b8fc3 80px,#75acd3 82px,#b4cfe2 82px,#e5e0e0 84px,#f9e0d5 84px,#fedccc 90px,#f8e0d6 92px,#e0dee0 92px,#a9c6dd 94px,#6095c1 94px,#275f98 96px,#0e3d79 96px,#08306b 98px,#09336f 102px,#124683 102px,#3a76ad 104px,#86b3d4 104px,#cfdae3 106px,#f4e0d8 106px,#fdd6c5 108px,#fdd7c6 116px,#fadbce 116px,#e6dede 118px,#aac7dd 118px,#578ebc 120px,#1d528d 120px,#0b3671 122px,#08306b 130px,#083674 130px,#0d4c90 132px,#1e6aad 132px,#3d88c1 134px,#a3cbe4 136px,#c5dcef 136px,#edf0f6 138px,#fee3d6 140px,#fdd1bf 144px,#fdd1be 154px,#fbece6 156px,#f0f3f6 158px,#c3daee 160px,#bfd8ec 168px,#ecf2f7 170px,#feebe2 172px,#fedaca 176px,#fcac90 234px,#fb6849 264px,#f0402f 296px,#f5543c 336px,#fcae92 400px,#fedbcb 418px,#fbf5f4 428px,#eaf3fb 432px,#9cc9e1 458px,#7eb9da 476px,#78b5d9 534px,#61a7d2 540px,#559fcd 552px,#4392c6 568px,#3585bf 654px)"></i><i style="top:261px;height:3px;background:linear-gradient(90deg,#c8dcf0 0,#c4dbee 58px,#a1cae3 62px,#8ec1de 64px,#8ec1de 66px,#b2d2e6 68px,#e4e9ee 70px,#faefea 72px,#f0ebeb 74px,#d5e4f2 76px,#dbeaf6 80px,#c6deef 80px,#8ebede 82px,#98c5e0 84px,#e6e2e3 86px,#f8e1d7 86px,#fedccc 90px,#f9e0d5 94px,#e6e0df 94px,#b4cde0 96px,#6c9ec8 96px,#2e679f 98px,#10417e 98px,#09336e 100px,#08316c 102px,#0b3875 104px,#1f5894 104px,#5992c1 106px,#aac8df 106px,#e5e0e0 108px,#faddd0 108px,#fdd6c4 112px,#fdd8c8 118px,#f5ded5 118px,#d0d8e1 120px,#84afd1 120px,#376fa5 122px,#11407c 122px,#09326d 124px,#08306b 130px,#083673 130px,#0d4c90 132px,#1f6bae 132px,#418cc3 134px,#a9cee6 136px,#dceaf6 138px,#edf1f6 138px,#fee4d8 140px,#fdd2c0 144px,#fdd2c0 154px,#fbeee8 156px,#eff2f7 158px,#c3daee 160px,#bfd8ec 168px,#eaf2f9 170px,#fdede5 172px,#fedccd 176px,#fcad91 236px,#fb6b4b 266px,#f24532 296px,#f7593f 336px,#fcba9f 406px,#fcf4f1 430px,#eef5fc 432px,#a2cce2 456px,#84bcdb 476px,#87bddc 532px,#6fb0d6 538px,#64a9d3 550px,#4b98ca 568px,#3c8cc3 654px)"></i><i style="top:264px;height:3px;background:linear-gradient(90deg,#c8dcf0 0,#c3daee 62px,#96c5e0 68px,#a5cde4 70px,#eaeaed 74px,#fbefea 76px,#e4e9ef 78px,#dae8f5 80px,#dbeaf6 84px,#cce1f0 86px,#f7e5de 88px,#fedccd 90px,#fadfd4 96px,#ebe0dd 96px,#c1d1df 98px,#7da9cd 98px,#3c73a8 100px,#164985 100px,#0a3571 102px,#09336e 104px,#114380 106px,#3470a8 106px,#7dadd1 108px,#c9d8e4 108px,#f2e1dc 110px,#fdd6c5 112px,#fdd6c6 118px,#fbdbcd 120px,#e9dfdd 120px,#b1cadf 122px,#5d93bf 122px,#205690 124px,#0b3773 124px,#08306b 130px,#083673 130px,#0d4c90 132px,#216daf 132px,#458fc4 134px,#80b7d9 134px,#afd1e8 136px,#ddeaf7 138px,#edf1f7 138px,#fee6da 140px,#fdd5c4 142px,#fdd4c2 154px,#fbefea 156px,#eef2f7 158px,#c2daee 160px,#bfd8ec 168px,#f5f6f8 172px,#fee1d3 174px,#fcb094 236px,#fb6e4e 266px,#f34935 296px,#f85d42 336px,#fcbca2 406px,#fcf4f1 430px,#eef5fc 434px,#a6cde4 456px,#89bfdc 476px,#95c5df 534px,#559fcd 564px,#4392c6 654px)"></i><i style="top:267px;height:3px;background:linear-gradient(90deg,#c8dcf0 0,#c4dbee 66px,#9ec9e2 72px,#afd2e7 74px,#edebed 78px,#faf0eb 80px,#dfebf7 84px,#e6eff7 88px,#feded0 92px,#fdded0 98px,#f4e1da 98px,#d3dae1 100px,#96bad6 100px,#5086b6 102px,#20558f 102px,#0d3a75 104px,#08316c 106px,#0b3773 106px,#1c5490 108px,#518cbc 108px,#a1c4de 110px,#dfe0e4 110px,#f8ded3 112px,#fdd6c4 114px,#fdd8c8 120px,#f6ded4 122px,#d4dae2 122px,#8cb5d4 124px,#3c75a9 124px,#12437f 126px,#09326e 126px,#08306b 130px,#083573 130px,#0d4a8d 132px,#1f6aac 132px,#408bc2 134px,#a9cde6 136px,#c9def0 136px,#edf1f7 138px,#fee7dc 140px,#fdd6c5 142px,#fdd5c4 154px,#faf0ed 156px,#dceaf6 158px,#bdd7ec 162px,#bfd8ec 168px,#f4f5f8 172px,#fee3d6 174px,#fcb297 236px,#fb7050 268px,#f44e38 296px,#f96446 338px,#fcbba1 406px,#fff1ea 430px,#f2f7fd 434px,#a9cfe5 456px,#8ec1de 474px,#a2cce2 534px,#5da5d1 564px,#4b98ca 654px)"></i><i style="top:270px;height:3px;background:linear-gradient(90deg,#c8dcf0 0,#c3daee 72px,#a7cee4 76px,#b8d7ea 78px,#f1ecec 82px,#fbefea 84px,#e2edf8 88px,#eeedee 92px,#feded0 96px,#fdddce 100px,#f8e0d5 100px,#e2dedf 102px,#aec9de 102px,#689ac5 104px,#2c659e 104px,#10417d 106px,#09336f 106px,#09326e 108px,#0f407c 108px,#2f6aa3 110px,#74a7ce 110px,#c2d5e5 112px,#efe1dd 112px,#fdd6c5 114px,#fdd8c8 122px,#fbdfd3 122px,#e4e2e5 124px,#9fc3de 124px,#4584b8 126px,#134a88 126px,#083370 128px,#08316d 130px,#114b8a 134px,#215f9b 134px,#3d7cb2 136px,#c1daec 138px,#e3e9ef 140px,#fce2d6 142px,#fdd6c5 144px,#fed8c7 154px,#f7f4f4 156px,#ccdff1 160px,#bcd7ec 162px,#bed8ec 168px,#f3f5f8 172px,#fee4d8 174px,#fcb59a 236px,#fb7454 268px,#f5533b 296px,#fb6949 338px,#fcbba1 406px,#ffede5 430px,#f1f7fd 434px,#add0e6 456px,#93c4df 474px,#add0e6 534px,#66aad4 564px,#539ecd 654px)"></i><i style="top:273px;height:3px;background:linear-gradient(90deg,#c8dcf0 0,#d0e2f2 70px,#c6ddef 78px,#bcd8ec 80px,#eceef2 84px,#fbeee9 88px,#e5e9ee 90px,#a7cce3 92px,#a1cae3 92px,#dee3e8 94px,#f5e4de 96px,#fedccd 98px,#fbdfd3 102px,#ece0dd 104px,#c4d3df 104px,#82acce 106px,#3f77aa 106px,#184b87 108px,#0a3673 108px,#0a3673 110px,#184f8b 110px,#4a85b8 112px,#99bfdb 112px,#dbdee4 114px,#f7ded4 114px,#fdd6c5 116px,#fdd9ca 120px,#fae1d7 122px,#e0e2e7 122px,#9ec3dd 124px,#4e89bc 124px,#1c5794 126px,#0b3c7a 126px,#08306b 128px,#09326e 136px,#124683 138px,#255e98 138px,#70a1c9 140px,#cad7e2 142px,#e7e3e3 144px,#fce7de 146px,#fde7dd 154px,#e9f1f8 156px,#bcd7eb 160px,#c3daee 168px,#f4f3f4 172px,#fee5d9 176px,#fcb99f 236px,#fb7b5b 268px,#f85e42 296px,#fb7454 340px,#fcbea4 406px,#ffece4 430px,#f3f8fd 434px,#a4cce3 458px,#88bedc 474px,#a7cee4 534px,#64a9d3 564px,#56a0ce 654px)"></i><i style="top:276px;height:3px;background:linear-gradient(90deg,#c8dcf0 0,#ccdff1 12px,#edf1f6 20px,#e8eef4 82px,#eef2f8 86px,#faeee8 92px,#dbe6ef 94px,#e9e9ed 96px,#feddce 100px,#fdded0 104px,#f5e1d9 106px,#d6dbe2 106px,#9abdd8 108px,#548ab9 108px,#225892 110px,#0e3c78 110px,#0e3f7b 112px,#29659e 112px,#6ca1ca 114px,#bbd2e3 114px,#ece1de 116px,#fbdbcd 116px,#fdd7c6 118px,#f9e2d8 120px,#dce1e7 122px,#93bcda 122px,#3c7bb2 124px,#114684 124px,#09336f 126px,#08326d 140px,#114684 142px,#2b6aa4 142px,#67a0cb 144px,#afd0e7 144px,#dae8f4 146px,#ebf2f9 148px,#e0ecf6 154px,#a4cae4 158px,#80b4d7 160px,#76aed3 162px,#93c1df 164px,#aed1e7 168px,#d3e4f3 172px,#f1f3f6 174px,#fee8de 176px,#fdc6af 228px,#fc8565 270px,#fb6f4f 298px,#fc8161 340px,#fcc3ac 406px,#fff0e9 432px,#f1f7fd 434px,#b4d3e9 450px,#78b5d9 464px,#6eafd6 476px,#8abfdd 534px,#57a1ce 566px,#559fcd 654px)"></i><i style="top:279px;height:3px;background:linear-gradient(90deg,#c8dcf0 0,#cfe1f2 12px,#f6f5f6 16px,#feece3 20px,#feede5 86px,#ecf2f9 90px,#f3efef 92px,#fbefea 96px,#f7f2f1 98px,#fedfd0 102px,#fdddce 106px,#f8e0d5 108px,#e4dede 108px,#b4cadd 110px,#6d9ec6 110px,#3069a0 112px,#134784 112px,#164e8c 114px,#427fb4 114px,#91bad8 116px,#d6dce4 116px,#f6e0d7 118px,#fdddcf 118px,#f8e3da 120px,#d6dfe7 120px,#86b4d6 122px,#3473ac 122px,#0f4381 124px,#08326e 124px,#08316c 142px,#0b3b79 142px,#20609f 144px,#5998c7 144px,#9cc5e1 146px,#c1daed 146px,#cce0f1 148px,#bed8ec 150px,#7baed4 152px,#5993c1 152px,#2b669f 156px,#0f4280 160px,#0d407e 162px,#2a69a3 166px,#94c2df 170px,#e4eef7 174px,#fdece4 176px,#fee3d7 178px,#fcc1a9 236px,#fc9070 270px,#fb7e5e 300px,#fc8f6f 342px,#fdcbb6 408px,#fff1ea 432px,#f0f7fd 434px,#b2d2e8 448px,#61a7d2 462px,#57a1ce 478px,#6caed5 536px,#4b98ca 568px,#539ecd 654px)"></i><i style="top:282px;height:3px;background:linear-gradient(90deg,#c8dcf0 0,#cfe1f2 12px,#eef3f8 16px,#feeee6 18px,#fee8dd 26px,#feebe1 88px,#eef3f8 90px,#d5e5f3 94px,#fcefea 98px,#fedccc 108px,#fbdfd2 110px,#eee1dd 110px,#c7d4e0 112px,#86afd0 112px,#437bae 114px,#1e5895 114px,#2766a2 116px,#649cc7 116px,#b1cee3 118px,#dee5ec 118px,#d0dfeb 120px,#84b3d5 120px,#3271aa 122px,#0e417f 122px,#08326e 124px,#08316d 142px,#0b3d7b 144px,#1f62a1 144px,#4e93c5 146px,#7bb4d8 146px,#87bcdc 148px,#72acd3 148px,#2666a2 150px,#104785 152px,#08316d 154px,#08326e 166px,#0d3f7d 168px,#286aa6 170px,#5394c5 172px,#94c1df 172px,#cbe0f1 174px,#eaeff5 174px,#faede7 176px,#fee5d9 178px,#fdc5af 236px,#fc9b7c 270px,#fc8d6d 302px,#fc9b7c 342px,#fdd0bd 408px,#fff2eb 432px,#eff6fc 434px,#b1d2e8 448px,#539dcc 460px,#408fc5 474px,#3c89c0 508px,#3983bc 524px,#418dc2 536px,#4593c7 554px,#4594c7 594px,#519ccc 654px)"></i><i style="top:285px;height:3px;background:linear-gradient(90deg,#c8dcf0 0,#cfe1f2 12px,#f8f4f3 16px,#feeae1 20px,#ffece3 88px,#f2f5f9 92px,#cadef0 96px,#bdd5e3 102px,#e0e5eb 104px,#f2ded6 106px,#edd4cb 110px,#e4d7d5 112px,#c7d1de 114px,#8eb4d4 114px,#4b86b8 116px,#266aa8 116px,#367bb5 118px,#5a9ac9 118px,#5595c5 120px,#2969a5 120px,#0e407e 122px,#08326e 122px,#08326d 144px,#0a3b7a 144px,#2268a6 146px,#2165a2 148px,#0b3c7a 150px,#08306b 152px,#08316c 170px,#0a3876 170px,#1a5998 172px,#5394c4 172px,#a4cae3 174px,#dbe7f1 174px,#f8ede9 176px,#fee5da 178px,#fdcab5 236px,#fca689 272px,#fc9c7e 304px,#fcaa8d 344px,#fdd6c5 408px,#fef3ef 432px,#eef5fc 434px,#b0d2e7 446px,#3281bc 462px,#124f90 482px,#0a3a79 498px,#0a3a78 536px,#2c7ab8 556px,#3989c1 578px,#4f9bcb 654px)"></i><i style="top:288px;height:3px;background:linear-gradient(90deg,#c7dcef 0,#ccdff1 12px,#f0f2f6 18px,#eef2f7 90px,#99c7e1 104px,#2e73b1 112px,#0a3977 118px,#0b3e7d 120px,#08306b 122px,#08316c 170px,#0c3e7b 172px,#296ba7 172px,#72aad2 174px,#c4daec 174px,#f2edee 176px,#fee6db 178px,#fdcfbb 236px,#fcb296 272px,#fcac90 318px,#fcc4ad 370px,#fedccc 408px,#fdf4f0 432px,#f1f7fd 434px,#b1d2e8 446px,#59a1cf 454px,#1d63a3 458px,#0a3b7a 462px,#08306b 486px,#083471 552px,#0b3e7e 558px,#2472b4 564px,#3181bd 582px,#4e9acb 654px)"></i><i style="top:291px;height:3px;background:linear-gradient(90deg,#89b9da 0,#8fbcdc 14px,#9fc6e2 22px,#9cc4e1 60px,#8bb7d8 66px,#87b5d6 90px,#5994c3 96px,#4387bb 106px,#105398 114px,#08316c 118px,#083470 172px,#134a88 172px,#4383b8 174px,#9bc4e0 174px,#dfe8f0 176px,#faeae4 176px,#fee5d9 184px,#fdd3c1 236px,#fcbda4 272px,#fcc0a8 342px,#fee3d6 410px,#fdf5f1 432px,#ebf3fb 434px,#b2d3e8 444px,#9dc9e1 446px,#3279b3 452px,#114a8a 454px,#08316d 458px,#083370 562px,#1e6cb0 570px,#4c99ca 652px,#4c99ca 654px)"></i><i style="top:294px;height:3px;background:linear-gradient(90deg,#0e4280 0,#0f4280 62px,#0c3b77 74px,#08306b 160px,#08306b 172px,#093672 172px,#17518e 174px,#4885b7 174px,#8eb7d6 176px,#bfd3e3 176px,#e4e3e6 178px,#fbe9e0 182px,#fdd4c2 242px,#fdc7b1 274px,#fdccb8 348px,#feeae0 416px,#fdf5f2 432px,#eaf3fb 434px,#b5d4e9 444px,#9bc8e1 446px,#7ab4d7 446px,#2065a4 448px,#0e4585 450px,#08336f 452px,#083470 568px,#145fa6 574px,#3181bd 594px,#58a1ce 654px)"></i><i style="top:297px;height:3px;background:linear-gradient(90deg,#08306b 0,#093470 174px,#295c93 178px,#98b9d6 184px,#dbdfe4 188px,#fbe8df 194px,#fdcab5 274px,#fdd0bc 350px,#ffebe1 416px,#fdf5f2 432px,#eaf2fb 434px,#b3d3e8 444px,#a6cde4 444px,#8abedc 446px,#599dcb 446px,#276dab 448px,#0d4281 448px,#08326e 450px,#08326e 570px,#115ca4 582px,#3383be 596px,#73b2d7 634px,#85bcdb 654px)"></i><i style="top:300px;height:3px;background:linear-gradient(90deg,#08306b 0,#09346f 184px,#1f518b 188px,#5383b2 192px,#9abcd7 196px,#dfe0e4 202px,#fde6db 208px,#fdcab5 272px,#fdd0bc 350px,#ffebe1 416px,#fdf5f2 432px,#eaf2fb 434px,#bcd7eb 442px,#9bc8e1 444px,#70add4 446px,#3880b8 446px,#124f90 448px,#093673 448px,#08306b 454px,#083471 576px,#0c4486 594px,#195998 618px,#569bca 652px,#569bca 654px)"></i><i style="top:303px;height:3px;background:linear-gradient(90deg,#08306b 0,#0a3571 196px,#1d518b 200px,#3a71a7 204px,#5f93c1 206px,#84b2d5 206px,#bdd6e8 208px,#eaeaec 208px,#fbe8e0 210px,#fee2d5 214px,#fdcab5 272px,#fdd0bc 350px,#ffebe1 416px,#fdf5f2 432px,#eaf2fb 434px,#bbd6eb 442px,#accfe6 444px,#8abedc 444px,#5297c7 446px,#1f63a3 446px,#0b3c7a 448px,#08316c 448px,#093571 640px,#0b3f7e 654px)"></i><i style="top:306px;height:3px;background:linear-gradient(90deg,#08306b 0,#093471 204px,#0f4685 206px,#3578b1 206px,#8abada 208px,#d7e4ee 208px,#f8e9e3 210px,#fee2d5 212px,#fdcab5 274px,#fdd0bc 350px,#ffebe1 416px,#fdf5f2 432px,#eaf2fb 434px,#bad6eb 442px,#a6cde5 444px,#7db5d8 444px,#4189bf 446px,#145597 446px,#093775 448px,#08306b 450px,#08306b 654px)"></i><i style="top:309px;height:1px;background:linear-gradient(90deg,#08306b 0,#093471 204px,#0f4685 206px,#3578b1 206px,#8abada 208px,#d7e4ee 208px,#f8e9e3 210px,#fee2d5 212px,#fdcab5 274px,#fdd0bc 350px,#ffebe1 416px,#fdf5f2 432px,#eaf2fb 434px,#bad6eb 442px,#a6cde5 444px,#7db5d8 444px,#4189bf 446px,#145597 446px,#093775 448px,#08306b 450px,#08306b 654px)"></i></div></div>
<svg width="1200" height="833" viewBox="0 0 1200 833">
<defs><filter id="blur4" x="-50%" y="-50%" width="200%" height="200%"><feGaussianBlur stdDeviation="4"/></filter></defs>
<polyline points="840.9,46.6 844.5,48.6 848.0,50.6 851.5,52.6 855.0,54.6 858.5,56.6 861.9,58.6 865.2,60.6 868.6,62.6 871.9,64.6 875.1,66.6 878.3,68.6 881.5,70.6 884.7,72.6 887.8,74.6 890.8,76.6 893.9,78.6 896.9,80.6 899.8,82.6 902.7,84.6 905.6,86.6 908.4,88.6 911.2,90.6 914.0,92.6 916.7,94.6 919.4,96.6 922.1,98.6 924.7,100.6 927.2,102.6 929.7,104.6 932.2,106.6 934.7,108.6 937.1,110.6 939.4,112.6 941.8,114.6 944.0,116.6 946.3,118.6 948.5,120.6 950.7,122.6 952.8,124.6 954.8,126.6 956.9,128.6 958.9,130.6 960.8,132.6 962.7,134.6 964.6,136.6 966.4,138.6 968.2,140.6 969.9,142.6 971.6,144.6 973.3,146.6 974.9,148.6 976.4,150.6 977.9,152.6 979.4,154.6 980.8,156.6 982.2,158.6 983.5,160.6 984.8,162.6 986.0,164.6 987.2,166.6 988.4,168.6 989.4,170.6 990.5,172.6 991.5,174.6 992.4,176.6 993.3,178.6 994.1,180.6 994.9,182.6 995.6,184.6 996.3,186.6 996.9,188.6 997.5,190.6 998.0,192.6 998.4,194.6 998.8,196.6 999.1,198.6 999.3,200.6 999.5,202.6 999.6,204.6 999.6,206.6 999.8,208.6 1000.0,210.6 1000.3,212.6 1000.6,214.6 1001.0,216.6 1001.5,218.6 1002.0,220.6 1002.6,222.6 1003.3,224.6 1004.0,226.6 1004.8,228.6 1005.6,230.6 1006.4,232.6 1007.4,234.6 1008.3,236.6 1009.3,238.6 1010.4,240.6 1011.5,242.6 1012.7,244.6 1013.9,246.6 1015.2,248.6 1016.5,250.6 1017.8,252.6 1019.2,254.6 1020.7,256.6 1022.2,258.6 1023.7,260.6 1025.3,262.6 1026.9,264.6 1028.6,266.6 1030.3,268.6 1032.1,270.6 1033.9,272.6 1035.7,274.6 1037.6,276.6 1039.5,278.6 1041.5,280.6 1043.5,282.6 1045.6,284.6 1047.7,286.6 1049.8,288.6 1052.0,290.6 1054.2,292.6 1056.5,294.6 1058.8,296.6 1061.2,298.6 1063.6,300.6 1066.0,302.6 1068.5,304.6 1071.0,306.6 1073.5,308.6 1076.1,310.6 1078.7,312.6 1081.4,314.6 1084.1,316.6 1086.8,318.6 1089.6,320.6 1092.5,322.6 1095.3,324.6 1098.2,326.6 1101.2,328.6 1104.1,330.6 1107.1,332.6 1110.2,334.6 1113.3,336.6 1116.4,338.6 1119.6,340.6 1122.8,342.6 1126.0,344.6 1129.3,346.6 1132.6,348.6 1136.0,350.6 1139.4,352.6" fill="none" stroke="#111" stroke-width="1.6" stroke-dasharray="5,4"/>
<polyline points="1158.3,46.6 1154.7,48.6 1151.2,50.6 1147.7,52.6 1144.2,54.6 1140.7,56.6 1137.3,58.6 1134.0,60.6 1130.6,62.6 1127.3,64.6 1124.1,66.6 1120.9,68.6 1117.7,70.6 1114.5,72.6 1111.4,74.6 1108.4,76.6 1105.3,78.6 1102.3,80.6 1099.4,82.6 1096.5,84.6 1093.6,86.6 1090.8,88.6 1088.0,90.6 1085.2,92.6 1082.5,94.6 1079.8,96.6 1077.1,98.6 1074.5,100.6 1072.0,102.6 1069.5,104.6 1067.0,106.6 1064.5,108.6 1062.1,110.6 1059.8,112.6 1057.4,114.6 1055.2,116.6 1052.9,118.6 1050.7,120.6 1048.5,122.6 1046.4,124.6 1044.4,126.6 1042.3,128.6 1040.3,130.6 1038.4,132.6 1036.5,134.6 1034.6,136.6 1032.8,138.6 1031.0,140.6 1029.3,142.6 1027.6,144.6 1025.9,146.6 1024.3,148.6 1022.8,150.6 1021.3,152.6 1019.8,154.6 1018.4,156.6 1017.0,158.6 1015.7,160.6 1014.4,162.6 1013.2,164.6 1012.0,166.6 1010.8,168.6 1009.8,170.6 1008.7,172.6 1007.7,174.6 1006.8,176.6 1005.9,178.6 1005.1,180.6 1004.3,182.6 1003.6,184.6 1002.9,186.6 1002.3,188.6 1001.7,190.6 1001.2,192.6 1000.8,194.6 1000.4,196.6 1000.1,198.6 999.9,200.6 999.7,202.6 999.6,204.6 999.6,206.6 999.4,208.6 999.2,210.6 998.9,212.6 998.6,214.6 998.2,216.6 997.7,218.6 997.2,220.6 996.6,222.6 995.9,224.6 995.2,226.6 994.4,228.6 993.6,230.6 992.8,232.6 991.8,234.6 990.9,236.6 989.9,238.6 988.8,240.6 987.7,242.6 986.5,244.6 985.3,246.6 984.0,248.6 982.7,250.6 981.4,252.6 980.0,254.6 978.5,256.6 977.0,258.6 975.5,260.6 973.9,262.6 972.3,264.6 970.6,266.6 968.9,268.6 967.1,270.6 965.3,272.6 963.5,274.6 961.6,276.6 959.7,278.6 957.7,280.6 955.7,282.6 953.6,284.6 951.5,286.6 949.4,288.6 947.2,290.6 945.0,292.6 942.7,294.6 940.4,296.6 938.0,298.6 935.6,300.6 933.2,302.6 930.7,304.6 928.2,306.6 925.7,308.6 923.1,310.6 920.5,312.6 917.8,314.6 915.1,316.6 912.4,318.6 909.6,320.6 906.7,322.6 903.9,324.6 901.0,326.6 898.0,328.6 895.1,330.6 892.1,332.6 889.0,334.6 885.9,336.6 882.8,338.6 879.6,340.6 876.4,342.6 873.2,344.6 869.9,346.6 866.6,348.6 863.2,350.6 859.8,352.6" fill="none" stroke="#1a1aee" stroke-width="1.6" stroke-dasharray="5,4"/>
<defs><clipPath id="cpe"><rect x="541" y="475" width="648" height="304"/></clipPath>
<filter id="bl1" x="-10%" y="-10%" width="120%" height="120%"><feGaussianBlur stdDeviation="0.9"/></filter></defs>
<g clip-path="url(#cpe)"><g filter="url(#bl1)">
<clipPath id="cps"><polygon points="909,474 1012,474 1012,700 960,700 942,610"/></clipPath>
<g clip-path="url(#cps)">
<line x1="859.4" y1="434.0" x2="791.9" y2="720.0" stroke="#2a7ab9" stroke-width="3.6" opacity="0.8"/>
<line x1="870.4" y1="434.0" x2="802.9" y2="720.0" stroke="#2a7ab9" stroke-width="3.6" opacity="0.8"/>
<line x1="881.4" y1="434.0" x2="813.9" y2="720.0" stroke="#2a7ab9" stroke-width="3.6" opacity="0.8"/>
<line x1="892.4" y1="434.0" x2="824.9" y2="720.0" stroke="#2a7ab9" stroke-width="3.6" opacity="0.8"/>
<line x1="903.4" y1="434.0" x2="835.9" y2="720.0" stroke="#2a7ab9" stroke-width="3.6" opacity="0.8"/>
<line x1="914.4" y1="434.0" x2="846.9" y2="720.0" stroke="#2a7ab9" stroke-width="3.6" opacity="0.8"/>
<line x1="925.4" y1="434.0" x2="857.9" y2="720.0" stroke="#2a7ab9" stroke-width="3.6" opacity="0.8"/>
<line x1="936.4" y1="434.0" x2="868.9" y2="720.0" stroke="#2a7ab9" stroke-width="3.6" opacity="0.8"/>
<line x1="947.4" y1="434.0" x2="879.9" y2="720.0" stroke="#2a7ab9" stroke-width="3.6" opacity="0.8"/>
<line x1="958.4" y1="434.0" x2="890.9" y2="720.0" stroke="#2a7ab9" stroke-width="3.6" opacity="0.8"/>
<line x1="969.4" y1="434.0" x2="901.9" y2="720.0" stroke="#2a7ab9" stroke-width="3.6" opacity="0.8"/>
<line x1="980.4" y1="434.0" x2="912.9" y2="720.0" stroke="#2a7ab9" stroke-width="3.6" opacity="0.8"/>
<line x1="991.4" y1="434.0" x2="923.9" y2="720.0" stroke="#2a7ab9" stroke-width="3.6" opacity="0.8"/>
<line x1="1002.4" y1="434.0" x2="934.9" y2="720.0" stroke="#6baed6" stroke-width="3.5" opacity="0.6"/>
<line x1="1013.4" y1="434.0" x2="945.9" y2="720.0" stroke="#6baed6" stroke-width="3.5" opacity="0.6"/>
<line x1="1024.4" y1="434.0" x2="956.9" y2="720.0" stroke="#6baed6" stroke-width="3.5" opacity="0.6"/>
<line x1="1035.4" y1="434.0" x2="967.9" y2="720.0" stroke="#6baed6" stroke-width="3.5" opacity="0.6"/>
<line x1="1046.4" y1="434.0" x2="978.9" y2="720.0" stroke="#6baed6" stroke-width="3.5" opacity="0.6"/>
<line x1="1057.4" y1="434.0" x2="989.9" y2="720.0" stroke="#6baed6" stroke-width="3.5" opacity="0.6"/>
<line x1="1068.4" y1="434.0" x2="1000.9" y2="720.0" stroke="#6baed6" stroke-width="3.5" opacity="0.6"/>
<line x1="1079.4" y1="434.0" x2="1011.9" y2="720.0" stroke="#6baed6" stroke-width="3.5" opacity="0.6"/>
<line x1="1090.4" y1="434.0" x2="1022.9" y2="720.0" stroke="#6baed6" stroke-width="3.5" opacity="0.6"/>
<line x1="1101.4" y1="434.0" x2="1033.9" y2="720.0" stroke="#6baed6" stroke-width="3.5" opacity="0.6"/>
<line x1="1112.4" y1="434.0" x2="1044.9" y2="720.0" stroke="#6baed6" stroke-width="3.5" opacity="0.6"/>
<line x1="1123.4" y1="434.0" x2="1055.9" y2="720.0" stroke="#6baed6" stroke-width="3.5" opacity="0.6"/>
<line x1="1134.4" y1="434.0" x2="1066.9" y2="720.0" stroke="#6baed6" stroke-width="3.5" opacity="0.6"/>
<line x1="1145.4" y1="434.0" x2="1077.9" y2="720.0" stroke="#6baed6" stroke-width="3.5" opacity="0.6"/>
<line x1="1156.4" y1="434.0" x2="1088.9" y2="720.0" stroke="#6baed6" stroke-width="3.5" opacity="0.6"/>
<line x1="1167.4" y1="434.0" x2="1099.9" y2="720.0" stroke="#6baed6" stroke-width="3.5" opacity="0.6"/>
<line x1="1178.4" y1="434.0" x2="1110.9" y2="720.0" stroke="#6baed6" stroke-width="3.5" opacity="0.6"/>
<line x1="1189.4" y1="434.0" x2="1121.9" y2="720.0" stroke="#6baed6" stroke-width="3.5" opacity="0.6"/>
<line x1="1200.4" y1="434.0" x2="1132.9" y2="720.0" stroke="#6baed6" stroke-width="3.5" opacity="0.6"/>
<line x1="1211.4" y1="434.0" x2="1143.9" y2="720.0" stroke="#6baed6" stroke-width="3.5" opacity="0.6"/>
<line x1="1222.4" y1="434.0" x2="1154.9" y2="720.0" stroke="#6baed6" stroke-width="3.5" opacity="0.6"/>
<line x1="1233.4" y1="434.0" x2="1165.9" y2="720.0" stroke="#6baed6" stroke-width="3.5" opacity="0.6"/>
</g>
<clipPath id="cpb"><polygon points="559,474 671,474 672,745 662,745 654,727 632,680 613,640 597,600 586,560 573,520"/></clipPath>
<linearGradient id="lgm" gradientUnits="userSpaceOnUse" x1="0" y1="474" x2="0" y2="745"><stop offset="0" stop-color="#fff" stop-opacity="0.62"/><stop offset="0.45" stop-color="#fff" stop-opacity="0.45"/><stop offset="1" stop-color="#fff" stop-opacity="0.15"/></linearGradient>
<mask id="mbk" maskUnits="userSpaceOnUse" x="540" y="474" width="140" height="280"><rect x="540" y="474" width="140" height="280" fill="url(#lgm)"/></mask>
<g clip-path="url(#cpb)"><g mask="url(#mbk)">
<line x1="80.0" y1="474.0" x2="472.0" y2="754.0" stroke="#b3d4e8" stroke-width="5.5"/>
<line x1="96.0" y1="474.0" x2="488.0" y2="754.0" stroke="#b3d4e8" stroke-width="5.5"/>
<line x1="112.0" y1="474.0" x2="504.0" y2="754.0" stroke="#b3d4e8" stroke-width="5.5"/>
<line x1="128.0" y1="474.0" x2="520.0" y2="754.0" stroke="#b3d4e8" stroke-width="5.5"/>
<line x1="144.0" y1="474.0" x2="536.0" y2="754.0" stroke="#b3d4e8" stroke-width="5.5"/>
<line x1="160.0" y1="474.0" x2="552.0" y2="754.0" stroke="#b3d4e8" stroke-width="5.5"/>
<line x1="176.0" y1="474.0" x2="568.0" y2="754.0" stroke="#b3d4e8" stroke-width="5.5"/>
<line x1="192.0" y1="474.0" x2="584.0" y2="754.0" stroke="#b3d4e8" stroke-width="5.5"/>
<line x1="208.0" y1="474.0" x2="600.0" y2="754.0" stroke="#b3d4e8" stroke-width="5.5"/>
<line x1="224.0" y1="474.0" x2="616.0" y2="754.0" stroke="#b3d4e8" stroke-width="5.5"/>
<line x1="240.0" y1="474.0" x2="632.0" y2="754.0" stroke="#b3d4e8" stroke-width="5.5"/>
<line x1="256.0" y1="474.0" x2="648.0" y2="754.0" stroke="#b3d4e8" stroke-width="5.5"/>
<line x1="272.0" y1="474.0" x2="664.0" y2="754.0" stroke="#b3d4e8" stroke-width="5.5"/>
<line x1="288.0" y1="474.0" x2="680.0" y2="754.0" stroke="#b3d4e8" stroke-width="5.5"/>
<line x1="304.0" y1="474.0" x2="696.0" y2="754.0" stroke="#b3d4e8" stroke-width="5.5"/>
<line x1="320.0" y1="474.0" x2="712.0" y2="754.0" stroke="#b3d4e8" stroke-width="5.5"/>
<line x1="336.0" y1="474.0" x2="728.0" y2="754.0" stroke="#b3d4e8" stroke-width="5.5"/>
<line x1="352.0" y1="474.0" x2="744.0" y2="754.0" stroke="#b3d4e8" stroke-width="5.5"/>
<line x1="368.0" y1="474.0" x2="760.0" y2="754.0" stroke="#b3d4e8" stroke-width="5.5"/>
<line x1="384.0" y1="474.0" x2="776.0" y2="754.0" stroke="#b3d4e8" stroke-width="5.5"/>
<line x1="400.0" y1="474.0" x2="792.0" y2="754.0" stroke="#b3d4e8" stroke-width="5.5"/>
<line x1="416.0" y1="474.0" x2="808.0" y2="754.0" stroke="#b3d4e8" stroke-width="5.5"/>
<line x1="432.0" y1="474.0" x2="824.0" y2="754.0" stroke="#b3d4e8" stroke-width="5.5"/>
<line x1="448.0" y1="474.0" x2="840.0" y2="754.0" stroke="#b3d4e8" stroke-width="5.5"/>
<line x1="464.0" y1="474.0" x2="856.0" y2="754.0" stroke="#b3d4e8" stroke-width="5.5"/>
<line x1="480.0" y1="474.0" x2="872.0" y2="754.0" stroke="#b3d4e8" stroke-width="5.5"/>
<line x1="496.0" y1="474.0" x2="888.0" y2="754.0" stroke="#b3d4e8" stroke-width="5.5"/>
<line x1="512.0" y1="474.0" x2="904.0" y2="754.0" stroke="#b3d4e8" stroke-width="5.5"/>
<line x1="528.0" y1="474.0" x2="920.0" y2="754.0" stroke="#b3d4e8" stroke-width="5.5"/>
<line x1="544.0" y1="474.0" x2="936.0" y2="754.0" stroke="#b3d4e8" stroke-width="5.5"/>
<line x1="560.0" y1="474.0" x2="952.0" y2="754.0" stroke="#b3d4e8" stroke-width="5.5"/>
<line x1="576.0" y1="474.0" x2="968.0" y2="754.0" stroke="#b3d4e8" stroke-width="5.5"/>
<line x1="592.0" y1="474.0" x2="984.0" y2="754.0" stroke="#b3d4e8" stroke-width="5.5"/>
<line x1="608.0" y1="474.0" x2="1000.0" y2="754.0" stroke="#b3d4e8" stroke-width="5.5"/>
<line x1="624.0" y1="474.0" x2="1016.0" y2="754.0" stroke="#b3d4e8" stroke-width="5.5"/>
<line x1="640.0" y1="474.0" x2="1032.0" y2="754.0" stroke="#b3d4e8" stroke-width="5.5"/>
<line x1="656.0" y1="474.0" x2="1048.0" y2="754.0" stroke="#b3d4e8" stroke-width="5.5"/>
<line x1="672.0" y1="474.0" x2="1064.0" y2="754.0" stroke="#b3d4e8" stroke-width="5.5"/>
<line x1="688.0" y1="474.0" x2="1080.0" y2="754.0" stroke="#b3d4e8" stroke-width="5.5"/>
<line x1="704.0" y1="474.0" x2="1096.0" y2="754.0" stroke="#b3d4e8" stroke-width="5.5"/>
<line x1="720.0" y1="474.0" x2="1112.0" y2="754.0" stroke="#b3d4e8" stroke-width="5.5"/>
<line x1="736.0" y1="474.0" x2="1128.0" y2="754.0" stroke="#b3d4e8" stroke-width="5.5"/>
</g></g>
<g clip-path="url(#cpb)" opacity="0.7">
<line x1="628" y1="474" x2="676" y2="508" stroke="#fcc5ad" stroke-width="5"/>
<line x1="645" y1="474" x2="676" y2="496" stroke="#fcc5ad" stroke-width="4.5"/>
<line x1="612" y1="474" x2="676" y2="520" stroke="#fcc5ad" stroke-width="3.5"/>
</g>
<clipPath id="cpn"><rect x="1002" y="474" width="42" height="240"/></clipPath>
<g clip-path="url(#cpn)" opacity="0.5">
<line x1="1000" y1="512" x2="1050" y2="487" stroke="#4a8fc7" stroke-width="2.4"/>
<line x1="1000" y1="528" x2="1050" y2="503" stroke="#4a8fc7" stroke-width="2.4"/>
<line x1="1000" y1="544" x2="1050" y2="519" stroke="#4a8fc7" stroke-width="2.4"/>
<line x1="1000" y1="560" x2="1050" y2="535" stroke="#4a8fc7" stroke-width="2.4"/>
<line x1="1000" y1="576" x2="1050" y2="551" stroke="#4a8fc7" stroke-width="2.4"/>
<line x1="1000" y1="592" x2="1050" y2="567" stroke="#4a8fc7" stroke-width="2.4"/>
<line x1="1000" y1="608" x2="1050" y2="583" stroke="#4a8fc7" stroke-width="2.4"/>
<line x1="1000" y1="624" x2="1050" y2="599" stroke="#4a8fc7" stroke-width="2.4"/>
<line x1="1000" y1="640" x2="1050" y2="615" stroke="#4a8fc7" stroke-width="2.4"/>
<line x1="1000" y1="656" x2="1050" y2="631" stroke="#4a8fc7" stroke-width="2.4"/>
<line x1="1000" y1="672" x2="1050" y2="647" stroke="#4a8fc7" stroke-width="2.4"/>
<line x1="1000" y1="688" x2="1050" y2="663" stroke="#4a8fc7" stroke-width="2.4"/>
<line x1="1000" y1="704" x2="1050" y2="679" stroke="#4a8fc7" stroke-width="2.4"/>
<line x1="1000" y1="720" x2="1050" y2="695" stroke="#4a8fc7" stroke-width="2.4"/>
</g>
</g></g>
<text x="3.4" y="25.6" font-size="28" text-anchor="start" >a</text>
<rect x="65.4" y="64.4" width="134.1" height="16" fill="#fed40e" stroke="#7a7040" stroke-width="0.7"/>
<rect x="65.4" y="81.2" width="134.1" height="15.4" fill="#4db380" stroke="#3a7a5a" stroke-width="0.7"/>
<rect x="65.4" y="113.6" width="134.1" height="16" fill="#4db380" stroke="#3a7a5a" stroke-width="0.7"/>
<rect x="65.4" y="130.8" width="134.1" height="17.2" fill="#913292" stroke="#5a305a" stroke-width="0.7"/>
<line x1="71.4" y1="101.1" x2="192.4" y2="101.1" stroke="#555" stroke-width="0.8"/>
<line x1="75" y1="108.8" x2="196" y2="108.8" stroke="#555" stroke-width="0.8"/>
<circle cx="71.4" cy="101.1" r="2.8" fill="#c86ee0" stroke="#8a3aa0" stroke-width="0.6"/>
<circle cx="75.0" cy="108.8" r="2.8" fill="#c86ee0" stroke="#8a3aa0" stroke-width="0.6"/>
<circle cx="81.5" cy="101.1" r="2.8" fill="#c86ee0" stroke="#8a3aa0" stroke-width="0.6"/>
<circle cx="85.1" cy="108.8" r="2.8" fill="#c86ee0" stroke="#8a3aa0" stroke-width="0.6"/>
<circle cx="91.6" cy="101.1" r="2.8" fill="#c86ee0" stroke="#8a3aa0" stroke-width="0.6"/>
<circle cx="95.2" cy="108.8" r="2.8" fill="#c86ee0" stroke="#8a3aa0" stroke-width="0.6"/>
<circle cx="101.6" cy="101.1" r="2.8" fill="#c86ee0" stroke="#8a3aa0" stroke-width="0.6"/>
<circle cx="105.2" cy="108.8" r="2.8" fill="#c86ee0" stroke="#8a3aa0" stroke-width="0.6"/>
<circle cx="111.7" cy="101.1" r="2.8" fill="#c86ee0" stroke="#8a3aa0" stroke-width="0.6"/>
<circle cx="115.3" cy="108.8" r="2.8" fill="#c86ee0" stroke="#8a3aa0" stroke-width="0.6"/>
<circle cx="121.8" cy="101.1" r="2.8" fill="#c86ee0" stroke="#8a3aa0" stroke-width="0.6"/>
<circle cx="125.4" cy="108.8" r="2.8" fill="#c86ee0" stroke="#8a3aa0" stroke-width="0.6"/>
<circle cx="131.9" cy="101.1" r="2.8" fill="#c86ee0" stroke="#8a3aa0" stroke-width="0.6"/>
<circle cx="135.5" cy="108.8" r="2.8" fill="#c86ee0" stroke="#8a3aa0" stroke-width="0.6"/>
<circle cx="142.0" cy="101.1" r="2.8" fill="#c86ee0" stroke="#8a3aa0" stroke-width="0.6"/>
<circle cx="145.6" cy="108.8" r="2.8" fill="#c86ee0" stroke="#8a3aa0" stroke-width="0.6"/>
<circle cx="152.0" cy="101.1" r="2.8" fill="#c86ee0" stroke="#8a3aa0" stroke-width="0.6"/>
<circle cx="155.6" cy="108.8" r="2.8" fill="#c86ee0" stroke="#8a3aa0" stroke-width="0.6"/>
<circle cx="162.1" cy="101.1" r="2.8" fill="#c86ee0" stroke="#8a3aa0" stroke-width="0.6"/>
<circle cx="165.7" cy="108.8" r="2.8" fill="#c86ee0" stroke="#8a3aa0" stroke-width="0.6"/>
<circle cx="172.2" cy="101.1" r="2.8" fill="#c86ee0" stroke="#8a3aa0" stroke-width="0.6"/>
<circle cx="175.8" cy="108.8" r="2.8" fill="#c86ee0" stroke="#8a3aa0" stroke-width="0.6"/>
<circle cx="182.3" cy="101.1" r="2.8" fill="#c86ee0" stroke="#8a3aa0" stroke-width="0.6"/>
<circle cx="185.9" cy="108.8" r="2.8" fill="#c86ee0" stroke="#8a3aa0" stroke-width="0.6"/>
<circle cx="192.4" cy="101.1" r="2.8" fill="#c86ee0" stroke="#8a3aa0" stroke-width="0.6"/>
<circle cx="196.0" cy="108.8" r="2.8" fill="#c86ee0" stroke="#8a3aa0" stroke-width="0.6"/>
<text x="129.5" y="77.8" font-size="15.6" text-anchor="middle" >Cr/Au</text>
<text x="129.0" y="94.0" font-size="15.6" text-anchor="middle" >hBN</text>
<text x="129.0" y="127.0" font-size="15.6" text-anchor="middle" >hBN</text>
<text x="131.0" y="145.2" font-size="15.6" text-anchor="middle" style="fill:#fff">Graphite</text>
<line x1="51.4" y1="68.8" x2="51.4" y2="140.0" stroke="#111" stroke-width="1.2" />
<path d="M48.2,138 L51.4,145.2 L54.6,138 Z" fill="#111"/>
<text x="28.0" y="113.0" font-size="15.6" text-anchor="start" font-style="italic">D</text>
<g stroke="#222" stroke-width="1.1" fill="none">
<path d="M202.7,73.6 H219.5 V83.9 M219.5,86.4 V127.1 M219.5,129.6 V138.6 H202.7"/>
<path d="M213,83.9 H226.7 M216.5,86.4 H222.7 M216.5,127.1 H222.7 M213,129.6 H226.7"/>
<path d="M202.7,105.1 H244.7 V113.4 M235.4,113.4 H254.2 M237.6,115.2 H252 M240.6,116.9 H249"/>
</g>
<circle cx="202.7" cy="73.6" r="1.9" fill="#111"/>
<circle cx="202.7" cy="105.1" r="1.9" fill="#111"/>
<circle cx="202.7" cy="138.6" r="1.9" fill="#111"/>
<text x="227.6" y="87.6" font-size="15.6">V<tspan font-size="11" dy="4">tg</tspan></text>
<text x="227.6" y="134.4" font-size="15.6">V<tspan font-size="11" dy="4">bg</tspan></text>
<g>
<rect x="49" y="215" width="168.7" height="133.5" fill="#76ae9c"/>
<defs><clipPath id="cpa"><rect x="49" y="215" width="168.7" height="133.5"/></clipPath><radialGradient id="rga" cx="0.15" cy="0.1" r="0.3"><stop offset="0" stop-color="#b8ae84" stop-opacity="0.7"/><stop offset="1" stop-color="#76ae9c" stop-opacity="0"/></radialGradient></defs>
<rect x="49" y="215" width="168.7" height="133.5" fill="url(#rga)"/>
<rect x="74" y="235.6" width="4.5" height="89.5" fill="#e2bb8c" stroke="#222" stroke-width="0.9"/>
<rect x="184.4" y="236.5" width="5.1" height="90.5" fill="#e2bb8c" stroke="#222" stroke-width="0.9"/>
<rect x="88.6" y="226.5" width="15" height="7" fill="#e2bb8c" stroke="#222" stroke-width="0.9"/>
<rect x="119.7" y="226.5" width="13.5" height="7" fill="#e2bb8c" stroke="#222" stroke-width="0.9"/>
<rect x="143.7" y="226.5" width="10.6" height="7" fill="#e2bb8c" stroke="#222" stroke-width="0.9"/>
<rect x="91.9" y="327" width="9.6" height="6.6" fill="#e2bb8c" stroke="#222" stroke-width="0.9"/>
<rect x="120.7" y="327" width="6.7" height="7.5" fill="#e2bb8c" stroke="#222" stroke-width="0.9"/>
<rect x="143.7" y="327" width="7.7" height="7.5" fill="#e2bb8c" stroke="#222" stroke-width="0.9"/>
<polygon points="78.4,233.3 184.5,233.3 184.5,336.4 207.1,348.5 182.5,348.5 169.7,339.5 169.7,327.2 78.4,327.2" fill="#fdebd4" stroke="#111" stroke-width="1.4" stroke-linejoin="round"/>
<polygon points="60.3,223.9 69.3,214.5 83.9,214.5 74,225.5 74,330.3 60.3,330.3" fill="#fdebd4" stroke="#111" stroke-width="1.4" stroke-linejoin="round"/>
<polygon points="87.3,221.2 91.4,214.6 109.4,214.6 107.1,220.8 107.1,227 87.3,227" fill="#fdebd4" stroke="#111" stroke-width="1.4" stroke-linejoin="round"/>
<polygon points="117.5,219 120.5,214.6 135.5,214.6 133.5,220 133.5,226.8 117.5,226.8" fill="#fdebd4" stroke="#111" stroke-width="1.4" stroke-linejoin="round"/>
<polygon points="142.8,219 145.6,214.6 158.6,214.6 156.3,220 156.3,226.8 142.8,226.8" fill="#fdebd4" stroke="#111" stroke-width="1.4" stroke-linejoin="round"/>
<polygon points="189.5,229.8 204.3,229.8 204.3,315.3 217.7,321 217.7,336.4 204.3,330.6 189.5,330.6" fill="#fdebd4" stroke="#111" stroke-width="1.4" stroke-linejoin="round"/>
<polygon points="88,333.5 106.3,333.5 106.3,340 112,348.5 93.8,348.5 87.1,342.2" fill="#fdebd4" stroke="#111" stroke-width="1.4" stroke-linejoin="round"/>
<polygon points="114.9,334.5 127.4,334.5 136,348.5 119.7,348.5" fill="#fdebd4" stroke="#111" stroke-width="1.4" stroke-linejoin="round"/>
<polygon points="139.9,334.5 156.2,334.5 156.2,342.2 159.1,348.5 142.8,348.5 139.9,342.2" fill="#fdebd4" stroke="#111" stroke-width="1.4" stroke-linejoin="round"/>
<line x1="56.3" y1="338.7" x2="76.5" y2="338.7" stroke="#fff" stroke-width="2"/>
</g>
<text x="272.3" y="25.6" font-size="28" text-anchor="start" >b</text>
<text x="335.2" y="39.2" font-size="15.5"><tspan font-style="italic">B</tspan>=0 T</text>
<defs><linearGradient id="gr" x1="0" y1="1" x2="0" y2="0"><stop offset="0" stop-color="#ee0008"/><stop offset="0.22" stop-color="#f42a2a"/><stop offset="0.7" stop-color="#fff" stop-opacity="0"/></linearGradient>
<linearGradient id="gb" x1="0" y1="0" x2="0" y2="1"><stop offset="0" stop-color="#0a0ae6"/><stop offset="0.3" stop-color="#3434ee"/><stop offset="0.8" stop-color="#fff" stop-opacity="0"/></linearGradient></defs>
<polygon points="376.5,153 364.6,184.2 388.4,184.2" fill="url(#gr)"/>
<polygon points="679.9,183.6 668.5,154 691.3,154" fill="url(#gb)"/>
<g stroke="#111" stroke-width="1.15" fill="none">
<path d="M358.1,104.7 L394.9,201.4 M394.9,104.7 L358.1,201.4 M401.1,135.9 L437.6,232.6 M437.6,135.9 L401.1,232.6"/>
<path d="M619,105.3 L655.5,202 M655.5,105.3 L619,202 M661.3,135.2 L698.5,232 M698.5,135.2 L661.3,232"/>
<path d="M357.5,184.2 H437.6 M618.3,154 H698.9" stroke-dasharray="3,1.6" stroke-width="1"/>
</g>
<circle cx="470" cy="261.9" r="31.2" fill="none" stroke="#1a1aee" stroke-width="2" stroke-dasharray="5.2,3.2"/>
<circle cx="602" cy="261.9" r="31" fill="none" stroke="#222" stroke-width="1.8" stroke-dasharray="5.2,3.2"/>
<polyline points="336.6,349.8 400.0,349.4 450.0,349.3 458.0,348.9 462.0,350.5 466.0,350.8 475.0,349.8 480.0,348.8 487.7,346.8 495.4,344.3 502.1,343.0 506.9,339.2 511.7,334.4 513.6,330.5 514.5,324.8 517.4,305.6 519.3,286.4 521.3,257.6 522.6,228.8 523.2,200.0 524.2,150.0 525.6,94.4 527.4,150.0 528.9,200.0 529.9,228.8 531.4,267.2 533.4,296.0 536.6,319.0 541.4,334.4 547.2,343.0 556.8,346.8 570.2,348.2 580.0,348.8 615.0,349.2 714.7,349.5" fill="none" stroke="#f01010" stroke-width="1.6" stroke-linejoin="round"/>
<polyline points="336.6,331.0 337.2,330.5 338.2,332.1 339.9,329.4 342.6,328.3 345.3,332.1 348.5,328.3 356.6,328.3 358.2,327.2 361.5,327.2 363.3,323.8 366.3,324.5 369.6,322.9 371.2,324.0 372.8,320.4 375.5,320.7 378.2,321.3 382.0,321.3 384.1,317.8 387.9,318.3 390.1,317.5 393.3,314.8 396.0,315.1 397.6,311.0 399.8,309.2 401.4,307.5 403.6,307.0 406.3,303.5 412.2,302.9 414.9,300.2 417.1,295.4 418.7,291.0 421.4,288.3 424.6,284.6 427.9,280.8 430.6,282.4 432.7,279.2 435.9,277.2 440.1,276.4 442.6,273.5 445.1,267.6 447.6,261.8 450.2,258.9 452.7,260.9 455.2,257.6 457.7,258.4 459.4,256.7 461.1,260.9 462.8,267.6 464.5,276.9 467.8,276.4 470.3,274.7 472.9,275.7 475.4,274.7 477.9,260.9 480.4,245.8 483.8,225.6 487.1,220.6 490.5,214.7 492.2,218.9 494.7,219.7 497.2,215.5 499.7,200.4 502.3,192.0 504.8,189.5 508.2,187.8 511.5,185.3 514.0,180.3 516.6,173.5 520.5,170.1 523.0,170.8 525.9,165.7 530.3,150.6 534.6,139.8 536.0,132.6 539.6,128.3 542.5,128.6 545.4,129.3 547.6,126.8 549.7,119.6 551.9,116.0 554.0,118.2 556.2,121.8 558.4,118.6 560.5,121.1 563.4,126.1 567.7,133.3 570.6,142.0 574.2,155.6 576.4,150.6 578.5,136.9 580.0,133.6 581.4,134.8 583.6,146.3 586.5,154.9 587.9,166.5 589.3,183.7 590.9,219.7 592.9,242.5 595.9,255.3 598.5,269.2 600.4,280.1 603.8,275.1 606.8,263.2 610.7,251.4 614.3,247.4 616.7,248.4 618.3,246.4 620.6,253.3 623.6,269.2 626.6,277.1 632.5,280.1 639.4,277.7 642.4,280.1 648.3,291.0 654.3,301.8 662.2,301.8 668.1,311.7 674.1,319.7 680.0,321.6 686.0,324.6 689.9,327.0 695.8,327.6 701.8,330.5 706.7,334.5 710.7,340.0 714.7,341.4" fill="none" stroke="#111" stroke-width="1.7" stroke-linejoin="round"/>
<line x1="346.0" y1="59.7" x2="382.7" y2="59.7" stroke="#f01010" stroke-width="1.6" />
<line x1="346.0" y1="79.8" x2="382.7" y2="79.8" stroke="#111" stroke-width="1.7" />
<text x="387.4" y="65.7" font-size="15.5"><tspan font-style="italic">D</tspan>=0 V/nm x1</text>
<text x="387.4" y="85.5" font-size="15.5"><tspan font-style="italic">D</tspan>=-0.5 V/nm x50</text>
<text x="444.0" y="333.0" font-size="15.9" text-anchor="start" >b-CNP</text>
<text x="578.4" y="333.0" font-size="15.9" text-anchor="start" >t-CNP</text>
<rect x="336.6" y="46.6" width="378.6" height="306.59999999999997" fill="none" stroke="#333" stroke-width="1.5"/>
<line x1="331.0" y1="350.6" x2="336.6" y2="350.6" stroke="#1a1a1a" stroke-width="1.3" />
<text x="327.0" y="356.1" font-size="15.8" text-anchor="end" >0</text>
<line x1="331.0" y1="289.8" x2="336.6" y2="289.8" stroke="#1a1a1a" stroke-width="1.3" />
<text x="327.0" y="295.3" font-size="15.8" text-anchor="end" >1</text>
<line x1="331.0" y1="229.0" x2="336.6" y2="229.0" stroke="#1a1a1a" stroke-width="1.3" />
<text x="327.0" y="234.5" font-size="15.8" text-anchor="end" >2</text>
<line x1="331.0" y1="168.2" x2="336.6" y2="168.2" stroke="#1a1a1a" stroke-width="1.3" />
<text x="327.0" y="173.7" font-size="15.8" text-anchor="end" >3</text>
<line x1="331.0" y1="107.4" x2="336.6" y2="107.4" stroke="#1a1a1a" stroke-width="1.3" />
<text x="327.0" y="112.9" font-size="15.8" text-anchor="end" >4</text>
<line x1="331.0" y1="46.6" x2="336.6" y2="46.6" stroke="#1a1a1a" stroke-width="1.3" />
<text x="327.0" y="52.1" font-size="15.8" text-anchor="end" >5</text>
<line x1="336.6" y1="353.2" x2="336.6" y2="361.6" stroke="#1a1a1a" stroke-width="1.3" />
<text x="336.6" y="380.3" font-size="15.8" text-anchor="middle" >-0.8</text>
<line x1="431.2" y1="353.2" x2="431.2" y2="361.6" stroke="#1a1a1a" stroke-width="1.3" />
<text x="431.2" y="380.3" font-size="15.8" text-anchor="middle" >-0.4</text>
<line x1="525.8" y1="353.2" x2="525.8" y2="361.6" stroke="#1a1a1a" stroke-width="1.3" />
<text x="525.8" y="380.3" font-size="15.8" text-anchor="middle" >0.0</text>
<line x1="620.4" y1="353.2" x2="620.4" y2="361.6" stroke="#1a1a1a" stroke-width="1.3" />
<text x="620.4" y="380.3" font-size="15.8" text-anchor="middle" >0.4</text>
<line x1="715.0" y1="353.2" x2="715.0" y2="361.6" stroke="#1a1a1a" stroke-width="1.3" />
<text x="715.0" y="380.3" font-size="15.8" text-anchor="middle" >0.8</text>
<text transform="translate(308.5,200.5) rotate(-90)" font-size="18.6" text-anchor="middle"><tspan font-style="italic">R</tspan><tspan font-size="13" dy="4">xx</tspan><tspan dy="-4"> (k&#937;)</tspan></text>
<text x="526.0" y="407.0" font-size="19.1" text-anchor="middle">Charge density, <tspan font-style="italic">n</tspan><tspan font-size="13.4" dy="4">tot</tspan><tspan dy="-4"> (10</tspan><tspan font-size="13.4" dy="-7">12</tspan><tspan dy="7"> cm</tspan><tspan font-size="13.4" dy="-7">-2</tspan><tspan dy="7">)</tspan></text>
<text x="746.8" y="25.9" font-size="28" text-anchor="start" >c</text>
<text x="808.0" y="39.2" font-size="15.5"><tspan font-style="italic">B</tspan>=0 T</text>
<defs><linearGradient id="cbc" x1="0" y1="0" x2="1" y2="0">
<stop offset="0.000" stop-color="#08306b"/>
<stop offset="0.025" stop-color="#083d7f"/>
<stop offset="0.050" stop-color="#084a92"/>
<stop offset="0.075" stop-color="#0d57a1"/>
<stop offset="0.100" stop-color="#1764ab"/>
<stop offset="0.125" stop-color="#2171b5"/>
<stop offset="0.150" stop-color="#2e7ebc"/>
<stop offset="0.175" stop-color="#3b8bc3"/>
<stop offset="0.200" stop-color="#4a98c9"/>
<stop offset="0.225" stop-color="#5ba3d0"/>
<stop offset="0.250" stop-color="#6baed6"/>
<stop offset="0.275" stop-color="#7fb9da"/>
<stop offset="0.300" stop-color="#94c4df"/>
<stop offset="0.325" stop-color="#a6cde4"/>
<stop offset="0.350" stop-color="#b6d4e9"/>
<stop offset="0.375" stop-color="#c6dbef"/>
<stop offset="0.400" stop-color="#d0e1f2"/>
<stop offset="0.425" stop-color="#d9e8f5"/>
<stop offset="0.450" stop-color="#e3eef9"/>
<stop offset="0.475" stop-color="#edf5fc"/>
<stop offset="0.500" stop-color="#f7fbff"/>
<stop offset="0.525" stop-color="#ffede4"/>
<stop offset="0.550" stop-color="#fee4d8"/>
<stop offset="0.575" stop-color="#fed9c8"/>
<stop offset="0.600" stop-color="#fdcab5"/>
<stop offset="0.625" stop-color="#fcbba1"/>
<stop offset="0.650" stop-color="#fcab8e"/>
<stop offset="0.675" stop-color="#fc9a7b"/>
<stop offset="0.700" stop-color="#fc8a6a"/>
<stop offset="0.725" stop-color="#fb7a5a"/>
<stop offset="0.750" stop-color="#fb6a4a"/>
<stop offset="0.775" stop-color="#f6573e"/>
<stop offset="0.800" stop-color="#f14432"/>
<stop offset="0.825" stop-color="#e83429"/>
<stop offset="0.850" stop-color="#d92623"/>
<stop offset="0.875" stop-color="#cb181d"/>
<stop offset="0.900" stop-color="#bc141a"/>
<stop offset="0.925" stop-color="#ad1117"/>
<stop offset="0.950" stop-color="#990c13"/>
<stop offset="0.975" stop-color="#800610"/>
<stop offset="1.000" stop-color="#67000d"/>
</linearGradient></defs>
<rect x="998.6" y="24.4" width="190.39999999999998" height="15.899999999999999" fill="url(#cbc)" stroke="#444" stroke-width="1"/>
<line x1="998.6" y1="18.8" x2="998.6" y2="24.4" stroke="#777" stroke-width="1.2" />
<line x1="1189.0" y1="18.8" x2="1189.0" y2="24.4" stroke="#777" stroke-width="1.2" />
<text x="998.6" y="12.4" font-size="15.8" text-anchor="middle" >0</text>
<text x="1189.0" y="12.4" font-size="15.8" text-anchor="middle" >4</text>
<text x="1096.8" y="12.4" font-size="19.1" text-anchor="middle"><tspan font-style="italic">R</tspan><tspan font-size="13" dy="4">xx</tspan><tspan dy="-4"> (k&#937;)</tspan></text>
<rect x="810.6" y="46.6" width="378.4" height="306.5" fill="none" stroke="#222" stroke-width="1.5"/>
<line x1="801.2" y1="77.0" x2="810.6" y2="77.0" stroke="#1a1a1a" stroke-width="1.3" />
<text x="795.0" y="81.8" font-size="15.8" text-anchor="end" >0.6</text>
<line x1="801.2" y1="119.6" x2="810.6" y2="119.6" stroke="#1a1a1a" stroke-width="1.3" />
<text x="795.0" y="124.4" font-size="15.8" text-anchor="end" >0.4</text>
<line x1="801.2" y1="162.2" x2="810.6" y2="162.2" stroke="#1a1a1a" stroke-width="1.3" />
<text x="795.0" y="167.0" font-size="15.8" text-anchor="end" >0.2</text>
<line x1="801.2" y1="204.8" x2="810.6" y2="204.8" stroke="#1a1a1a" stroke-width="1.3" />
<text x="795.0" y="209.6" font-size="15.8" text-anchor="end" >0.0</text>
<line x1="801.2" y1="247.4" x2="810.6" y2="247.4" stroke="#1a1a1a" stroke-width="1.3" />
<text x="795.0" y="252.2" font-size="15.8" text-anchor="end" >-0.2</text>
<line x1="801.2" y1="290.0" x2="810.6" y2="290.0" stroke="#1a1a1a" stroke-width="1.3" />
<text x="795.0" y="294.8" font-size="15.8" text-anchor="end" >-0.4</text>
<line x1="801.2" y1="332.6" x2="810.6" y2="332.6" stroke="#1a1a1a" stroke-width="1.3" />
<text x="795.0" y="337.4" font-size="15.8" text-anchor="end" >-0.6</text>
<line x1="810.7" y1="353.1" x2="810.7" y2="361.2" stroke="#1a1a1a" stroke-width="1.3" />
<text x="810.7" y="380.3" font-size="15.8" text-anchor="middle" >-0.8</text>
<line x1="905.2" y1="353.1" x2="905.2" y2="361.2" stroke="#1a1a1a" stroke-width="1.3" />
<text x="905.2" y="380.3" font-size="15.8" text-anchor="middle" >-0.4</text>
<line x1="999.8" y1="353.1" x2="999.8" y2="361.2" stroke="#1a1a1a" stroke-width="1.3" />
<text x="999.8" y="380.3" font-size="15.8" text-anchor="middle" >0.0</text>
<line x1="1094.4" y1="353.1" x2="1094.4" y2="361.2" stroke="#1a1a1a" stroke-width="1.3" />
<text x="1094.4" y="380.3" font-size="15.8" text-anchor="middle" >0.4</text>
<line x1="1188.9" y1="353.1" x2="1188.9" y2="361.2" stroke="#1a1a1a" stroke-width="1.3" />
<text x="1188.9" y="380.3" font-size="15.8" text-anchor="middle" >0.8</text>
<text transform="translate(760.0,199.3) rotate(-90)" font-size="19.1" text-anchor="middle">Displacement field, <tspan font-style="italic">D</tspan> (V/nm)</text>
<text x="1000.0" y="407.0" font-size="19.1" text-anchor="middle">Charge density, <tspan font-style="italic">n</tspan><tspan font-size="13.4" dy="4">tot</tspan><tspan dy="-4"> (10</tspan><tspan font-size="13.4" dy="-7">12</tspan><tspan dy="7"> cm</tspan><tspan font-size="13.4" dy="-7">-2</tspan><tspan dy="7">)</tspan></text>
<text x="828.8" y="333.0" font-size="15.9" text-anchor="start" >b-CNP</text>
<text x="1133.4" y="333.0" font-size="15.9" text-anchor="start" >t-CNP</text>
<text x="3.2" y="464.7" font-size="28" text-anchor="start" >d</text>
<text x="65.0" y="463.8" font-size="15.9"><tspan font-style="italic">D</tspan>=0 V/nm</text>
<defs><linearGradient id="cbd" x1="0" y1="0" x2="1" y2="0">
<stop offset="0.000" stop-color="#08306b"/>
<stop offset="0.025" stop-color="#083d7f"/>
<stop offset="0.050" stop-color="#084a92"/>
<stop offset="0.075" stop-color="#0d57a1"/>
<stop offset="0.100" stop-color="#1764ab"/>
<stop offset="0.125" stop-color="#2171b5"/>
<stop offset="0.150" stop-color="#2e7ebc"/>
<stop offset="0.175" stop-color="#3b8bc3"/>
<stop offset="0.200" stop-color="#4a98c9"/>
<stop offset="0.225" stop-color="#5ba3d0"/>
<stop offset="0.250" stop-color="#6baed6"/>
<stop offset="0.275" stop-color="#7fb9da"/>
<stop offset="0.300" stop-color="#94c4df"/>
<stop offset="0.325" stop-color="#a6cde4"/>
<stop offset="0.350" stop-color="#b6d4e9"/>
<stop offset="0.375" stop-color="#c6dbef"/>
<stop offset="0.400" stop-color="#d0e1f2"/>
<stop offset="0.425" stop-color="#d9e8f5"/>
<stop offset="0.450" stop-color="#e3eef9"/>
<stop offset="0.475" stop-color="#edf5fc"/>
<stop offset="0.500" stop-color="#f7fbff"/>
<stop offset="0.525" stop-color="#ffede4"/>
<stop offset="0.550" stop-color="#fee4d8"/>
<stop offset="0.575" stop-color="#fed9c8"/>
<stop offset="0.600" stop-color="#fdcab5"/>
<stop offset="0.625" stop-color="#fcbba1"/>
<stop offset="0.650" stop-color="#fcab8e"/>
<stop offset="0.675" stop-color="#fc9a7b"/>
<stop offset="0.700" stop-color="#fc8a6a"/>
<stop offset="0.725" stop-color="#fb7a5a"/>
<stop offset="0.750" stop-color="#fb6a4a"/>
<stop offset="0.775" stop-color="#f6573e"/>
<stop offset="0.800" stop-color="#f14432"/>
<stop offset="0.825" stop-color="#e83429"/>
<stop offset="0.850" stop-color="#d92623"/>
<stop offset="0.875" stop-color="#cb181d"/>
<stop offset="0.900" stop-color="#bc141a"/>
<stop offset="0.925" stop-color="#ad1117"/>
<stop offset="0.950" stop-color="#990c13"/>
<stop offset="0.975" stop-color="#800610"/>
<stop offset="1.000" stop-color="#67000d"/>
</linearGradient></defs>
<rect x="255.0" y="450.4" width="189.39999999999998" height="15.900000000000034" fill="url(#cbd)" stroke="#444" stroke-width="1"/>
<line x1="255.0" y1="444.8" x2="255.0" y2="450.4" stroke="#777" stroke-width="1.2" />
<line x1="444.4" y1="444.8" x2="444.4" y2="450.4" stroke="#777" stroke-width="1.2" />
<text x="255.0" y="438.4" font-size="15.8" text-anchor="middle" >0</text>
<text x="444.4" y="438.4" font-size="15.8" text-anchor="middle" >4</text>
<text x="352.7" y="438.4" font-size="19.1" text-anchor="middle"><tspan font-style="italic">R</tspan><tspan font-size="13" dy="4">xx</tspan><tspan dy="-4"> (k&#937;)</tspan></text>
<rect x="66.6" y="474.0" width="377.79999999999995" height="305.0" fill="none" stroke="#222" stroke-width="1.5"/>
<line x1="57.2" y1="779.0" x2="66.6" y2="779.0" stroke="#1a1a1a" stroke-width="1.3" />
<text x="50.4" y="784.2" font-size="15.8" text-anchor="end" >0</text>
<line x1="57.2" y1="718.0" x2="66.6" y2="718.0" stroke="#1a1a1a" stroke-width="1.3" />
<text x="50.4" y="723.2" font-size="15.8" text-anchor="end" >100</text>
<line x1="57.2" y1="657.0" x2="66.6" y2="657.0" stroke="#1a1a1a" stroke-width="1.3" />
<text x="50.4" y="662.2" font-size="15.8" text-anchor="end" >200</text>
<line x1="57.2" y1="596.0" x2="66.6" y2="596.0" stroke="#1a1a1a" stroke-width="1.3" />
<text x="50.4" y="601.2" font-size="15.8" text-anchor="end" >300</text>
<line x1="57.2" y1="535.0" x2="66.6" y2="535.0" stroke="#1a1a1a" stroke-width="1.3" />
<text x="50.4" y="540.2" font-size="15.8" text-anchor="end" >400</text>
<line x1="57.2" y1="474.0" x2="66.6" y2="474.0" stroke="#1a1a1a" stroke-width="1.3" />
<text x="50.4" y="479.2" font-size="15.8" text-anchor="end" >500</text>
<line x1="66.3" y1="779.0" x2="66.3" y2="788.0" stroke="#1a1a1a" stroke-width="1.3" />
<text x="66.3" y="806.8" font-size="15.8" text-anchor="middle" >-0.4</text>
<line x1="160.8" y1="779.0" x2="160.8" y2="788.0" stroke="#1a1a1a" stroke-width="1.3" />
<text x="160.8" y="806.8" font-size="15.8" text-anchor="middle" >-0.2</text>
<line x1="255.4" y1="779.0" x2="255.4" y2="788.0" stroke="#1a1a1a" stroke-width="1.3" />
<text x="255.4" y="806.8" font-size="15.8" text-anchor="middle" >0.0</text>
<line x1="350.0" y1="779.0" x2="350.0" y2="788.0" stroke="#1a1a1a" stroke-width="1.3" />
<text x="350.0" y="806.8" font-size="15.8" text-anchor="middle" >0.2</text>
<line x1="444.5" y1="779.0" x2="444.5" y2="788.0" stroke="#1a1a1a" stroke-width="1.3" />
<text x="444.5" y="806.8" font-size="15.8" text-anchor="middle" >0.4</text>
<text transform="translate(13.3,631.5) rotate(-90)" font-size="19.7" text-anchor="middle">Magnetic field, <tspan font-style="italic">B</tspan> (mT)</text>
<text x="255.4" y="827.3" font-size="19.1" text-anchor="middle">Charge density, <tspan font-style="italic">n</tspan><tspan font-size="13.4" dy="4">tot</tspan><tspan dy="-4"> (10</tspan><tspan font-size="13.4" dy="-7">12</tspan><tspan dy="7"> cm</tspan><tspan font-size="13.4" dy="-7">-2</tspan><tspan dy="7">)</tspan></text>
<text x="463.2" y="464.5" font-size="28" text-anchor="start" >e</text>
<text x="539.8" y="464.0" font-size="15.9"><tspan font-style="italic">D</tspan>=0.6 V/nm</text>
<defs><linearGradient id="cbe" x1="0" y1="0" x2="1" y2="0">
<stop offset="0.000" stop-color="#08306b"/>
<stop offset="0.025" stop-color="#084e98"/>
<stop offset="0.050" stop-color="#1c6bb0"/>
<stop offset="0.075" stop-color="#3989c1"/>
<stop offset="0.100" stop-color="#5ca4d0"/>
<stop offset="0.125" stop-color="#87bddc"/>
<stop offset="0.150" stop-color="#b0d2e7"/>
<stop offset="0.175" stop-color="#cfe1f2"/>
<stop offset="0.200" stop-color="#e5eff9"/>
<stop offset="0.225" stop-color="#fff4ee"/>
<stop offset="0.250" stop-color="#ffefe7"/>
<stop offset="0.275" stop-color="#fee9df"/>
<stop offset="0.300" stop-color="#fee4d7"/>
<stop offset="0.325" stop-color="#feddce"/>
<stop offset="0.350" stop-color="#fdd4c2"/>
<stop offset="0.375" stop-color="#fdcab5"/>
<stop offset="0.400" stop-color="#fcc1a9"/>
<stop offset="0.425" stop-color="#fcb79c"/>
<stop offset="0.450" stop-color="#fcac90"/>
<stop offset="0.475" stop-color="#fca284"/>
<stop offset="0.500" stop-color="#fc9778"/>
<stop offset="0.525" stop-color="#fc8d6d"/>
<stop offset="0.550" stop-color="#fc8363"/>
<stop offset="0.575" stop-color="#fb7858"/>
<stop offset="0.600" stop-color="#fb6e4e"/>
<stop offset="0.625" stop-color="#f96345"/>
<stop offset="0.650" stop-color="#f6573e"/>
<stop offset="0.675" stop-color="#f34b36"/>
<stop offset="0.700" stop-color="#f03f2e"/>
<stop offset="0.725" stop-color="#e93529"/>
<stop offset="0.750" stop-color="#df2c25"/>
<stop offset="0.775" stop-color="#d62322"/>
<stop offset="0.800" stop-color="#cd1a1e"/>
<stop offset="0.825" stop-color="#c3161b"/>
<stop offset="0.850" stop-color="#b91419"/>
<stop offset="0.875" stop-color="#b01217"/>
<stop offset="0.900" stop-color="#a60f15"/>
<stop offset="0.925" stop-color="#970c13"/>
<stop offset="0.950" stop-color="#870811"/>
<stop offset="0.975" stop-color="#77040f"/>
<stop offset="1.000" stop-color="#67000d"/>
</linearGradient></defs>
<rect x="998.9" y="450.4" width="190.10000000000002" height="15.900000000000034" fill="url(#cbe)" stroke="#444" stroke-width="1"/>
<line x1="998.9" y1="444.8" x2="998.9" y2="450.4" stroke="#777" stroke-width="1.2" />
<line x1="1189.0" y1="444.8" x2="1189.0" y2="450.4" stroke="#777" stroke-width="1.2" />
<text x="998.9" y="440.8" font-size="15.8" text-anchor="middle" >0.01</text>
<text x="1189.0" y="440.8" font-size="15.8" text-anchor="middle" >3</text>
<text x="1097.0" y="438.4" font-size="19.1" text-anchor="middle"><tspan font-style="italic">R</tspan><tspan font-size="13" dy="4">xx</tspan><tspan dy="-4"> (k&#937;)</tspan></text>
<rect x="540.7" y="474.3" width="648.8" height="304.7" fill="none" stroke="#222" stroke-width="1.5"/>
<line x1="532.0" y1="779.0" x2="540.7" y2="779.0" stroke="#1a1a1a" stroke-width="1.3" />
<text x="524.8" y="784.2" font-size="15.8" text-anchor="end" >0</text>
<line x1="532.0" y1="718.1" x2="540.7" y2="718.1" stroke="#1a1a1a" stroke-width="1.3" />
<text x="524.8" y="723.3" font-size="15.8" text-anchor="end" >100</text>
<line x1="532.0" y1="657.2" x2="540.7" y2="657.2" stroke="#1a1a1a" stroke-width="1.3" />
<text x="524.8" y="662.4" font-size="15.8" text-anchor="end" >200</text>
<line x1="532.0" y1="596.3" x2="540.7" y2="596.3" stroke="#1a1a1a" stroke-width="1.3" />
<text x="524.8" y="601.5" font-size="15.8" text-anchor="end" >300</text>
<line x1="532.0" y1="535.4" x2="540.7" y2="535.4" stroke="#1a1a1a" stroke-width="1.3" />
<text x="524.8" y="540.6" font-size="15.8" text-anchor="end" >400</text>
<line x1="532.0" y1="474.5" x2="540.7" y2="474.5" stroke="#1a1a1a" stroke-width="1.3" />
<text x="524.8" y="479.7" font-size="15.8" text-anchor="end" >500</text>
<line x1="619.2" y1="779.0" x2="619.2" y2="788.0" stroke="#1a1a1a" stroke-width="1.3" />
<text x="619.2" y="806.8" font-size="15.8" text-anchor="middle" >-0.6</text>
<line x1="701.1" y1="779.0" x2="701.1" y2="788.0" stroke="#1a1a1a" stroke-width="1.3" />
<text x="701.1" y="806.8" font-size="15.8" text-anchor="middle" >-0.4</text>
<line x1="782.9" y1="779.0" x2="782.9" y2="788.0" stroke="#1a1a1a" stroke-width="1.3" />
<text x="782.9" y="806.8" font-size="15.8" text-anchor="middle" >-0.2</text>
<line x1="864.8" y1="779.0" x2="864.8" y2="788.0" stroke="#1a1a1a" stroke-width="1.3" />
<text x="864.8" y="806.8" font-size="15.8" text-anchor="middle" >0.0</text>
<line x1="946.7" y1="779.0" x2="946.7" y2="788.0" stroke="#1a1a1a" stroke-width="1.3" />
<text x="946.7" y="806.8" font-size="15.8" text-anchor="middle" >0.2</text>
<line x1="1028.5" y1="779.0" x2="1028.5" y2="788.0" stroke="#1a1a1a" stroke-width="1.3" />
<text x="1028.5" y="806.8" font-size="15.8" text-anchor="middle" >0.4</text>
<line x1="1110.4" y1="779.0" x2="1110.4" y2="788.0" stroke="#1a1a1a" stroke-width="1.3" />
<text x="1110.4" y="806.8" font-size="15.8" text-anchor="middle" >0.6</text>
<text transform="translate(488.5,631.0) rotate(-90)" font-size="19.7" text-anchor="middle">Magnetic field, <tspan font-style="italic">B</tspan> (mT)</text>
<text x="864.5" y="827.3" font-size="19.1" text-anchor="middle">Charge density, <tspan font-style="italic">n</tspan><tspan font-size="13.4" dy="4">tot</tspan><tspan dy="-4"> (10</tspan><tspan font-size="13.4" dy="-7">12</tspan><tspan dy="7"> cm</tspan><tspan font-size="13.4" dy="-7">-2</tspan><tspan dy="7">)</tspan></text>
<line x1="191.3" y1="686.5" x2="66.6" y2="507.1" stroke="#111" stroke-width="1.1" stroke-dasharray="1,1.2"/>
<line x1="205.6" y1="686.5" x2="90.7" y2="474.0" stroke="#111" stroke-width="1.1" stroke-dasharray="1,1.2"/>
<line x1="219.8" y1="686.5" x2="137.8" y2="474.0" stroke="#111" stroke-width="1.1" stroke-dasharray="1,1.2"/>
<line x1="234.1" y1="686.5" x2="184.9" y2="474.0" stroke="#111" stroke-width="1.1" stroke-dasharray="1,1.2"/>
<line x1="248.4" y1="686.5" x2="232.0" y2="474.0" stroke="#111" stroke-width="1.1" stroke-dasharray="1,1.2"/>
<line x1="264.3" y1="686.5" x2="280.3" y2="474.0" stroke="#111" stroke-width="1.1" stroke-dasharray="1,1.2"/>
<line x1="278.2" y1="686.5" x2="326.1" y2="474.0" stroke="#111" stroke-width="1.1" stroke-dasharray="1,1.2"/>
<line x1="292.1" y1="686.5" x2="371.9" y2="474.0" stroke="#111" stroke-width="1.1" stroke-dasharray="1,1.2"/>
<line x1="306.0" y1="686.5" x2="417.7" y2="474.0" stroke="#111" stroke-width="1.1" stroke-dasharray="1,1.2"/>
<line x1="319.9" y1="686.5" x2="444.4" y2="502.3" stroke="#111" stroke-width="1.1" stroke-dasharray="1,1.2"/>
<text x="67.6" y="490.5" font-size="15.8" fill="#111">-28</text>
<text x="107.0" y="490.5" font-size="15.8" fill="#111">-20</text>
<text x="149.29999999999998" y="490.5" font-size="15.8" fill="#111">-12</text>
<text x="212.7" y="490.5" font-size="15.8" fill="#111">-4</text>
<text x="281.8" y="490.5" font-size="15.8" fill="#111">4</text>
<text x="328.20000000000005" y="490.5" font-size="15.8" fill="#111">12</text>
<text x="373.5" y="490.5" font-size="15.8" fill="#111">20</text>
<text x="416.1" y="490.5" font-size="15.8" fill="#111">28</text>
<polyline points="907.0,479.6 970.0,721.2" fill="none" stroke="#fff" stroke-width="1.3" stroke-dasharray="1.3,3.1"/>
<polyline points="893.5,604.9 941.4,721.2" fill="none" stroke="#fff" stroke-width="1.3" stroke-dasharray="1.3,3.1"/>
<polyline points="885.3,657.0 922.0,723.3" fill="none" stroke="#fff" stroke-width="1.3" stroke-dasharray="1.3,3.1"/>
<polyline points="1014.8,476.0 1014.8,721.0" fill="none" stroke="#fff" stroke-width="1.3" stroke-dasharray="1.3,3.1"/>
<polyline points="1040.0,476.0 1040.0,721.0" fill="none" stroke="#fff" stroke-width="1.3" stroke-dasharray="1.3,3.1"/>
<polyline points="1187.2,476.8 1130.6,623.8 1084.5,721.8" fill="none" stroke="#fff" stroke-width="1.3" stroke-dasharray="1.3,3.1"/>
<polyline points="1188.0,616.3 1108.5,721.8" fill="none" stroke="#fff" stroke-width="1.3" stroke-dasharray="1.3,3.1"/>
<polyline points="1187.0,667.5 1132.6,722.8" fill="none" stroke="#fff" stroke-width="1.3" stroke-dasharray="1.3,3.1"/>
<text x="894.0" y="711" font-size="13.8" fill="#111">-3</text>
<text x="916.0" y="711" font-size="13.8" fill="#111">-2</text>
<text x="942.0" y="711" font-size="13.8" fill="#111">-1</text>
<text x="991.6" y="711" font-size="13.8" fill="#111">0<tspan font-size="11" dy="-6.5">-</tspan></text>
<text x="1045.4" y="711" font-size="13.8" fill="#111">0<tspan font-size="11" dy="-6.5">+</tspan></text>
<text x="1097.5" y="711" font-size="13.8" fill="#111">+1</text>
<text x="1123.5" y="711" font-size="13.8" fill="#111">+2</text>
<text x="1156.0" y="711" font-size="13.8" fill="#111">+3</text>
<text x="628.6" y="494.2" font-size="15.9" fill="#111">t-CNP</text>
<text x="1049.2" y="494.2" font-size="15.9" fill="#fff" style="fill:#fff">b-CNP</text>
</svg></body></html>
